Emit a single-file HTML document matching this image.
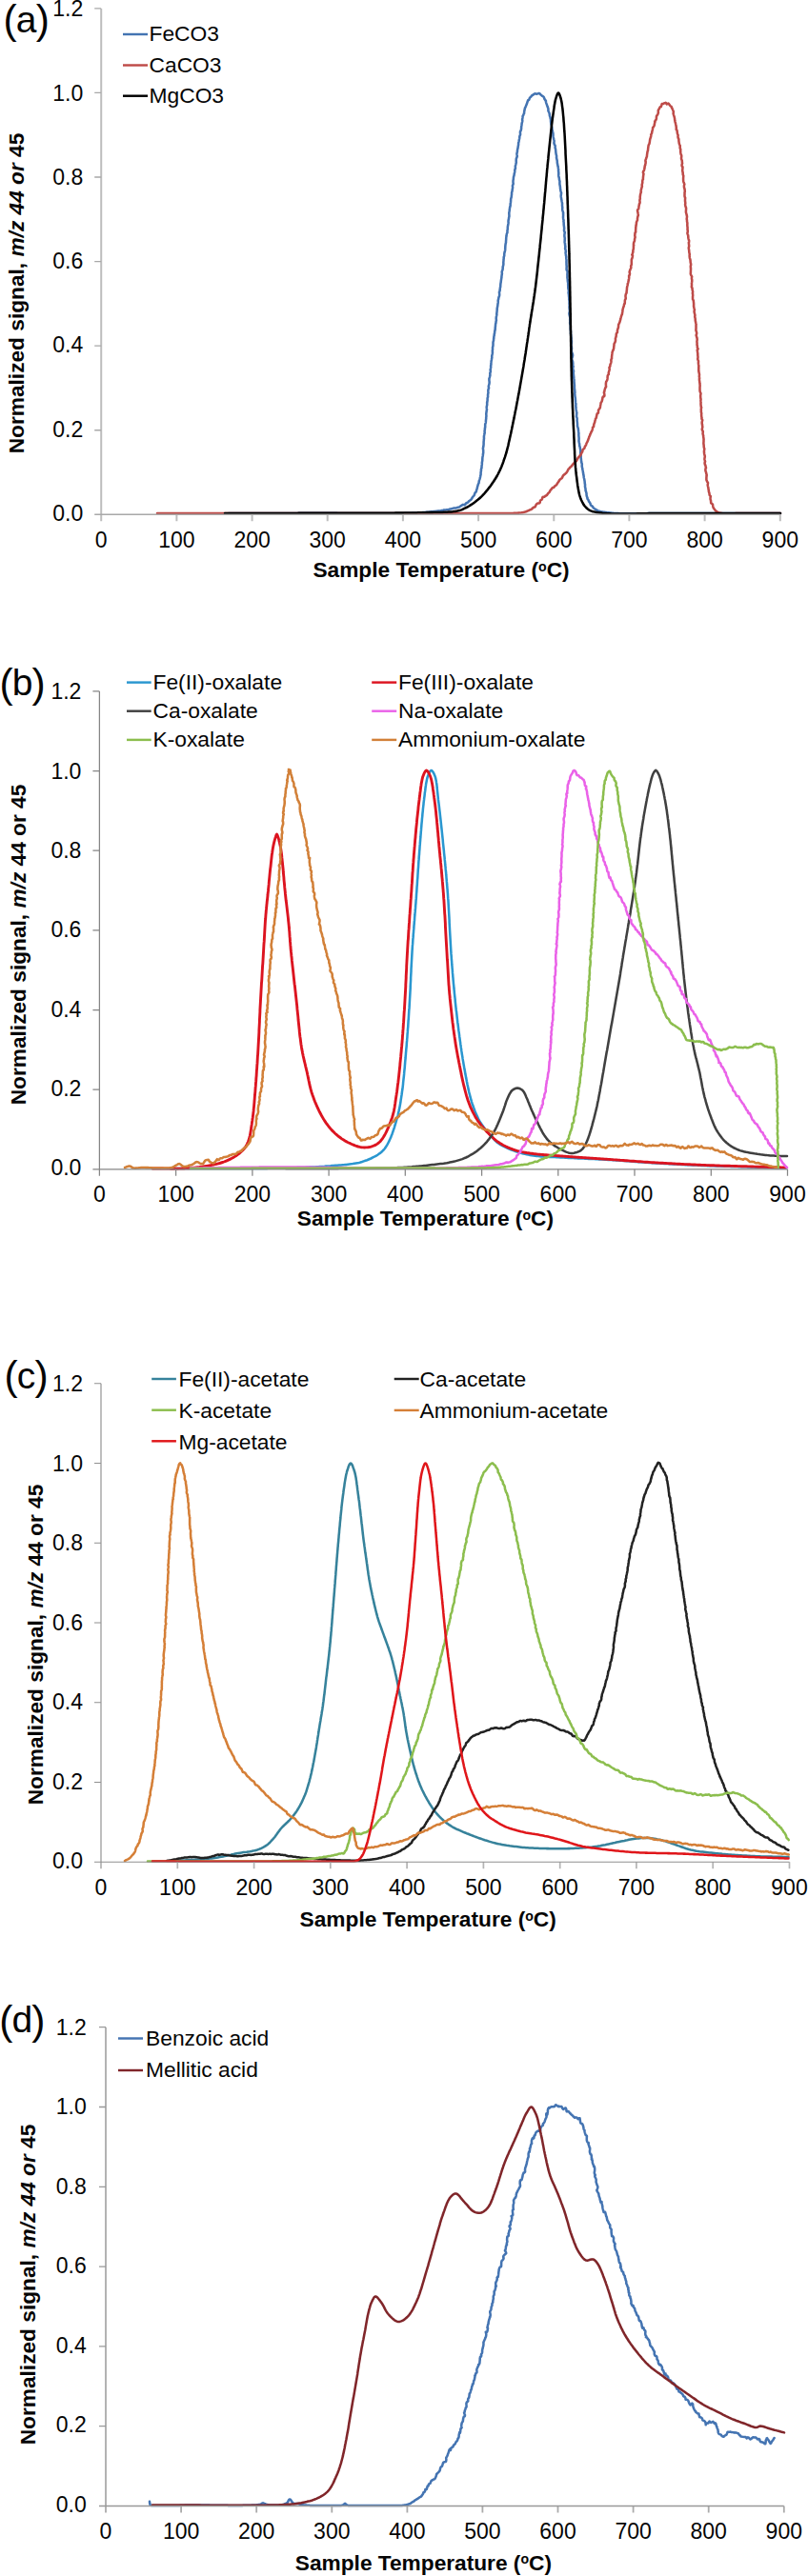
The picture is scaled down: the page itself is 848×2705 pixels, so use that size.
<!DOCTYPE html>
<html lang="en"><head><meta charset="utf-8"><title>Figure</title>
<style>html,body{margin:0;padding:0;background:#fff}svg{display:block}</style></head>
<body>
<svg width="848" height="2705" viewBox="0 0 848 2705" font-family="'Liberation Sans', Arial, sans-serif">
<rect width="848" height="2705" fill="#fff"/>
<g fill="none" stroke-linejoin="round" stroke-linecap="round" stroke-width="2.55">
<path stroke="#4474b2" d="M240.0 539.0 L241.0 539.0 L242.0 539.0 L243.0 539.0 L243.9 539.0 L244.9 539.0 L245.9 539.0 L246.9 539.0 L247.9 539.0 L248.9 539.0 L249.8 539.0 L250.8 539.0 L251.8 539.0 L252.8 539.0 L253.8 539.0 L254.7 539.0 L255.7 539.0 L256.7 539.0 L257.7 539.0 L258.6 539.0 L259.6 539.0 L260.6 539.0 L261.6 539.0 L262.5 539.0 L263.5 539.0 L264.5 539.0 L265.5 538.9 L266.4 538.9 L267.4 538.9 L268.4 538.9 L269.3 538.9 L270.3 538.9 L271.3 538.9 L272.3 538.9 L273.2 538.9 L274.2 538.9 L275.2 538.9 L276.2 538.9 L277.1 538.9 L278.1 538.9 L279.1 538.9 L280.0 538.9 L281.0 538.9 L282.0 538.9 L283.0 538.9 L283.9 538.9 L284.9 538.9 L285.9 538.9 L286.9 538.9 L287.9 538.9 L288.8 538.9 L289.8 538.9 L290.8 538.9 L291.8 538.9 L292.8 538.9 L293.7 538.9 L294.7 538.9 L295.7 538.9 L296.7 538.9 L297.7 538.9 L298.7 538.9 L299.7 538.9 L300.7 538.9 L301.6 538.9 L302.6 538.9 L303.6 538.9 L304.6 538.9 L305.6 538.9 L306.6 538.9 L307.6 538.9 L308.6 538.9 L309.6 538.9 L310.6 538.9 L311.6 538.9 L312.6 538.9 L313.6 538.8 L314.6 538.8 L315.7 538.8 L316.7 538.8 L317.7 538.8 L318.7 538.8 L319.7 538.8 L320.7 538.8 L321.8 538.8 L322.8 538.8 L323.8 538.8 L324.8 538.8 L325.9 538.8 L326.9 538.8 L327.9 538.8 L329.0 538.8 L330.0 538.8 L330.9 538.8 L331.9 538.8 L332.9 538.8 L333.8 538.8 L334.8 538.8 L335.8 538.8 L336.8 538.8 L337.8 538.8 L338.8 538.8 L339.8 538.8 L340.8 538.8 L341.8 538.8 L342.8 538.8 L343.8 538.8 L344.9 538.8 L345.9 538.8 L346.9 538.8 L348.0 538.8 L349.0 538.8 L350.1 538.8 L351.1 538.8 L352.2 538.8 L353.3 538.8 L354.3 538.9 L355.4 538.9 L356.5 538.9 L357.5 538.9 L358.6 538.9 L359.7 538.9 L360.8 538.9 L361.9 538.9 L363.0 538.9 L364.0 538.9 L365.1 538.9 L366.2 538.9 L367.3 538.9 L368.4 538.9 L369.5 538.9 L370.6 539.0 L371.7 539.0 L372.8 539.0 L373.9 539.0 L375.0 539.0 L376.1 539.0 L377.2 539.0 L378.3 539.0 L379.4 539.0 L380.5 539.0 L381.6 539.0 L382.7 539.0 L383.7 539.0 L384.8 539.0 L385.9 539.0 L387.0 539.0 L388.1 539.0 L389.2 539.0 L390.3 539.0 L391.3 539.1 L392.4 539.1 L393.5 539.1 L394.5 539.1 L395.6 539.1 L396.7 539.1 L397.7 539.1 L398.8 539.1 L399.8 539.1 L400.9 539.1 L401.9 539.1 L402.9 539.1 L404.0 539.1 L405.0 539.1 L406.0 539.1 L407.0 539.0 L408.1 539.0 L409.1 539.0 L410.1 539.0 L411.0 539.0 L412.0 539.0 L413.0 539.0 L414.0 539.0 L415.0 539.0 L415.9 539.0 L416.9 539.0 L417.8 539.0 L418.8 538.9 L419.7 538.9 L420.6 538.9 L421.5 538.9 L422.4 538.9 L423.3 538.9 L424.2 538.9 L425.1 538.8 L426.0 538.8 L426.8 538.8 L427.7 538.8 L428.5 538.8 L429.4 538.7 L430.2 538.7 L431.0 538.7 L431.8 538.7 L432.6 538.6 L433.4 538.6 L434.2 538.6 L435.0 538.5 L435.7 538.5 L436.5 538.5 L437.2 538.5 L437.9 538.4 L438.6 538.4 L439.3 538.3 L440.0 538.3 L441.3 538.3 L442.5 538.2 L443.7 538.1 L444.9 538.0 L446.0 537.9 L447.1 537.8 L448.2 537.7 L449.3 537.7 L450.4 537.6 L451.4 537.4 L452.4 537.3 L453.4 537.3 L454.4 537.2 L455.3 537.1 L456.2 537.0 L457.1 536.9 L458.0 536.7 L458.9 536.7 L459.9 536.5 L460.7 536.4 L461.6 536.4 L462.5 536.3 L463.4 536.1 L464.2 535.9 L465.1 535.8 L465.9 535.6 L466.7 535.5 L467.5 535.4 L468.4 535.3 L469.1 535.2 L470.0 535.2 L471.0 535.0 L472.0 534.6 L473.0 534.4 L474.1 534.3 L475.0 533.9 L476.0 533.6 L477.0 533.5 L478.0 533.5 L479.0 533.2 L479.9 532.9 L480.8 532.7 L481.7 532.6 L482.6 532.0 L483.6 531.3 L484.3 530.9 L485.1 530.3 L486.0 529.8 L486.7 530.1 L487.5 530.3 L488.4 529.5 L489.1 528.5 L489.6 528.1 L490.3 528.1 L491.1 527.5 L491.8 526.7 L492.5 526.0 L493.2 525.5 L494.0 525.0 L494.6 524.3 L495.3 523.2 L495.9 522.3 L496.3 521.6 L497.0 520.9 L497.8 520.0 L498.0 519.0 L498.3 518.3 L498.6 517.6 L499.0 516.9 L499.5 516.8 L499.9 516.0 L500.0 514.8 L500.4 514.0 L500.8 512.7 L501.0 511.4 L501.2 510.8 L501.4 510.3 L501.6 509.2 L502.1 508.0 L502.6 507.1 L502.6 506.5 L502.7 505.8 L502.9 504.6 L503.3 503.6 L503.6 502.6 L504.0 501.1 L504.3 499.5 L504.4 498.9 L504.5 498.8 L504.6 498.3 L504.6 497.4 L504.6 496.4 L504.7 495.3 L505.0 494.4 L504.9 493.4 L505.0 492.5 L505.3 491.9 L505.5 491.3 L505.5 490.2 L505.6 488.9 L505.8 487.7 L505.9 487.0 L505.8 486.5 L505.9 485.5 L506.2 484.1 L506.3 482.8 L506.3 481.7 L506.4 481.0 L506.4 480.2 L506.7 479.0 L506.9 477.8 L506.9 476.9 L507.2 475.7 L507.2 474.4 L507.2 473.4 L507.2 472.6 L507.0 471.8 L506.9 470.7 L507.1 469.9 L507.3 469.1 L507.5 467.6 L507.6 466.3 L507.6 465.4 L507.6 464.2 L507.7 463.1 L507.8 462.5 L507.8 461.8 L508.0 460.4 L507.9 458.9 L508.0 457.8 L508.2 456.8 L508.4 455.5 L508.7 454.7 L508.7 454.1 L508.6 453.1 L508.6 452.4 L508.8 451.6 L508.9 450.4 L508.9 449.5 L509.2 448.7 L509.2 447.2 L509.2 445.7 L509.5 444.6 L509.7 444.1 L509.8 443.7 L509.9 442.5 L510.0 440.9 L510.2 439.7 L510.2 439.0 L510.2 438.2 L510.4 437.3 L510.4 436.4 L510.3 435.4 L510.3 434.3 L510.4 433.3 L510.6 432.4 L510.6 431.5 L510.8 430.8 L511.0 430.1 L510.8 428.9 L510.7 427.3 L511.0 426.0 L511.2 425.1 L511.2 423.8 L511.1 422.9 L511.2 422.7 L511.4 421.9 L511.6 420.4 L511.6 419.0 L511.6 418.2 L511.8 417.5 L512.0 417.1 L512.1 416.5 L512.0 415.0 L512.2 413.3 L512.5 412.3 L512.4 411.5 L512.3 410.5 L512.4 409.4 L512.6 408.5 L513.0 407.7 L513.1 407.2 L512.8 406.5 L512.8 405.3 L513.2 404.0 L513.5 403.0 L513.6 401.9 L513.6 400.8 L513.4 399.6 L513.4 398.4 L513.4 397.5 L513.6 397.0 L513.9 396.1 L514.1 395.2 L514.4 394.1 L514.3 392.5 L514.3 391.6 L514.6 391.0 L514.9 390.1 L514.7 389.1 L514.6 388.2 L514.9 387.0 L515.2 385.5 L515.1 384.6 L515.1 384.1 L515.4 382.8 L515.4 381.5 L515.4 381.0 L515.5 380.4 L515.6 379.2 L515.9 377.8 L516.1 376.4 L516.3 375.7 L516.3 375.3 L516.2 374.3 L516.4 373.0 L516.7 371.7 L516.9 370.4 L516.9 369.2 L516.8 368.5 L516.9 367.7 L517.1 366.6 L517.0 365.9 L517.0 364.8 L517.4 363.4 L517.5 362.4 L517.5 361.6 L517.5 360.7 L517.5 359.6 L517.7 358.6 L518.0 357.7 L518.1 356.6 L518.1 355.7 L518.3 355.2 L518.3 354.4 L518.4 353.2 L518.7 352.3 L518.7 351.4 L518.8 350.6 L519.1 350.0 L519.1 349.1 L519.2 348.1 L519.5 346.9 L519.7 345.8 L519.7 344.7 L519.8 343.7 L519.9 342.9 L520.0 342.0 L520.0 341.1 L520.2 339.9 L520.5 338.8 L520.5 338.0 L520.6 337.4 L520.9 336.5 L520.8 335.3 L520.7 334.1 L520.8 333.2 L520.9 332.5 L521.2 331.3 L521.4 330.2 L521.3 329.8 L521.3 329.1 L521.5 327.6 L521.6 326.5 L521.7 325.6 L521.7 324.8 L521.7 324.0 L521.9 322.9 L522.1 321.9 L522.3 321.0 L522.4 319.9 L522.5 319.0 L522.7 317.9 L522.8 316.6 L522.7 316.1 L522.7 315.8 L522.9 314.9 L523.2 313.8 L523.3 312.9 L523.5 312.0 L523.9 311.3 L524.1 310.5 L524.2 308.9 L524.0 307.4 L524.0 306.5 L524.4 305.8 L524.6 305.4 L524.7 304.5 L524.8 302.9 L525.0 301.7 L525.2 301.2 L525.2 300.3 L525.3 298.8 L525.4 297.9 L525.5 297.2 L525.7 296.3 L525.8 295.1 L526.0 293.8 L526.2 292.6 L526.3 291.9 L526.4 291.6 L526.4 290.6 L526.6 289.1 L526.9 287.6 L526.8 286.4 L526.7 285.7 L526.8 285.0 L527.2 284.0 L527.6 282.8 L527.7 281.7 L527.7 280.8 L527.7 280.2 L527.9 279.6 L528.2 278.7 L528.4 277.1 L528.3 275.7 L528.4 274.7 L528.5 273.7 L528.5 272.6 L528.7 271.7 L528.7 270.8 L528.7 270.0 L529.1 269.1 L529.3 268.1 L529.2 266.9 L529.4 265.7 L529.7 264.7 L529.9 263.8 L530.1 263.0 L530.2 262.1 L530.2 261.0 L530.3 259.8 L530.3 258.8 L530.4 257.8 L530.5 256.8 L530.7 255.8 L531.0 254.6 L531.0 254.1 L531.0 253.4 L531.1 252.3 L531.2 251.2 L531.2 250.1 L531.3 249.0 L531.5 248.1 L531.6 247.3 L531.7 246.2 L532.0 245.2 L532.4 244.4 L532.5 243.6 L532.4 242.5 L532.6 241.5 L532.8 240.4 L532.8 239.3 L532.8 238.6 L532.9 237.8 L533.1 236.8 L533.3 235.7 L533.5 234.5 L533.6 233.6 L533.5 233.0 L533.5 232.0 L533.7 230.7 L534.0 229.5 L534.0 228.9 L534.1 228.4 L534.4 227.4 L534.4 225.9 L534.3 224.6 L534.3 223.9 L534.4 222.7 L534.7 221.2 L534.8 220.5 L534.9 219.4 L535.0 218.3 L535.1 217.8 L535.3 217.3 L535.6 216.2 L535.7 215.3 L535.6 214.8 L535.7 213.8 L536.0 212.2 L536.1 210.7 L536.1 209.5 L536.2 208.7 L536.4 208.0 L536.7 207.1 L536.8 206.2 L536.9 205.1 L537.1 203.8 L537.0 202.8 L537.1 202.1 L537.4 201.3 L537.6 200.3 L537.7 199.0 L538.0 197.8 L538.1 196.6 L537.9 195.2 L538.1 194.2 L538.6 193.6 L538.7 192.8 L538.5 191.5 L538.5 190.2 L538.6 189.2 L538.8 188.3 L538.9 187.0 L539.0 185.9 L539.1 185.4 L539.3 185.0 L539.6 183.9 L539.7 182.7 L539.9 181.9 L540.2 180.7 L540.3 179.2 L540.3 178.6 L540.3 178.3 L540.5 177.7 L540.9 177.0 L540.9 175.9 L540.8 174.7 L541.0 173.8 L541.3 172.8 L541.5 171.7 L541.8 170.9 L541.8 170.6 L541.7 169.6 L541.7 168.1 L541.8 166.8 L542.1 166.0 L542.5 165.1 L542.8 164.0 L542.6 162.9 L542.4 161.5 L542.6 160.4 L542.9 159.6 L542.9 159.0 L543.0 157.8 L543.3 156.2 L543.6 155.2 L543.6 154.6 L543.8 153.4 L544.0 152.4 L544.1 152.0 L544.1 151.3 L544.1 150.1 L544.4 149.1 L544.6 148.3 L544.7 147.5 L544.9 146.5 L545.2 145.2 L545.3 144.1 L545.3 143.4 L545.5 142.6 L545.9 141.9 L546.1 140.9 L546.0 139.8 L545.9 138.8 L546.1 138.0 L546.7 137.0 L547.0 135.8 L547.1 134.8 L547.1 134.5 L547.1 134.0 L547.2 132.8 L547.5 131.2 L547.6 130.2 L547.7 129.4 L548.1 128.0 L548.3 126.7 L548.1 126.0 L548.2 125.1 L548.5 123.7 L548.6 122.4 L548.7 121.7 L549.1 121.3 L549.4 120.4 L549.7 119.6 L550.1 119.0 L550.1 118.2 L550.2 117.0 L550.5 115.9 L550.7 114.6 L551.0 113.4 L551.4 112.6 L551.7 112.0 L552.1 110.9 L552.6 109.7 L553.0 108.8 L553.2 108.1 L553.5 107.2 L553.9 106.0 L554.3 105.1 L554.7 105.1 L555.2 105.0 L555.5 104.0 L555.9 102.8 L556.4 102.3 L557.1 101.8 L557.9 100.7 L558.6 100.0 L559.0 99.9 L559.8 99.4 L560.6 98.7 L561.5 98.3 L562.4 98.6 L563.3 98.7 L564.2 98.4 L565.2 98.1 L566.2 98.1 L567.0 98.8 L567.7 99.6 L568.5 100.3 L569.3 100.9 L569.9 101.2 L570.6 101.7 L571.1 102.8 L571.4 103.8 L571.9 104.7 L572.5 105.4 L572.9 105.9 L572.9 106.7 L573.2 108.1 L573.7 109.4 L574.1 110.5 L574.4 111.5 L574.5 111.8 L574.6 112.1 L575.0 113.0 L575.4 114.2 L575.4 115.5 L575.4 116.5 L575.8 117.3 L576.4 118.5 L576.7 119.6 L576.8 120.7 L576.9 121.7 L577.3 122.5 L577.5 123.3 L577.6 124.1 L577.8 124.8 L578.0 125.6 L578.0 127.2 L578.2 129.0 L578.3 130.1 L578.5 130.9 L578.7 131.3 L578.8 132.1 L579.2 133.3 L579.4 134.2 L579.4 134.9 L579.4 135.9 L579.7 136.9 L580.0 137.9 L580.2 138.8 L580.4 139.6 L580.5 141.1 L580.5 142.6 L580.6 143.3 L580.7 144.0 L581.0 145.2 L581.2 146.1 L581.3 146.6 L581.6 147.7 L581.6 149.0 L581.4 149.9 L581.6 150.9 L581.9 151.9 L582.4 152.4 L582.7 153.2 L582.6 154.3 L582.6 155.2 L582.8 155.6 L583.0 156.4 L583.2 157.8 L583.3 159.1 L583.4 160.3 L583.5 161.0 L583.6 161.6 L583.8 162.7 L584.1 163.6 L584.1 164.5 L584.0 165.6 L584.1 166.2 L584.3 166.9 L584.6 168.1 L584.8 169.2 L584.8 170.5 L585.0 172.1 L585.3 173.2 L585.4 174.2 L585.5 174.5 L585.7 174.8 L585.8 175.7 L585.9 176.7 L586.1 177.7 L586.1 178.9 L586.0 179.5 L586.2 180.3 L586.3 181.7 L586.3 182.9 L586.2 183.8 L586.3 184.9 L586.5 185.9 L586.8 186.9 L586.9 188.0 L587.0 188.9 L587.3 189.8 L587.5 190.5 L587.4 191.2 L587.4 192.2 L587.4 193.5 L587.6 194.4 L587.8 195.4 L588.0 196.9 L588.0 197.7 L588.0 198.0 L588.2 198.9 L588.4 200.3 L588.7 201.5 L589.1 202.5 L589.0 203.6 L588.8 204.7 L588.7 205.8 L588.8 206.7 L589.0 207.9 L589.3 209.6 L589.5 210.7 L589.5 210.9 L589.6 211.5 L589.9 212.8 L590.1 213.9 L590.0 214.7 L590.0 215.7 L590.1 216.8 L590.3 217.6 L590.2 218.5 L590.2 219.4 L590.2 220.1 L590.4 221.1 L590.9 222.6 L591.2 223.9 L591.0 224.6 L591.1 225.2 L591.1 226.6 L591.0 228.1 L591.1 229.1 L591.2 229.7 L591.4 230.6 L591.6 231.8 L591.4 232.5 L591.6 233.2 L591.7 234.6 L591.7 236.1 L591.9 237.2 L592.0 238.1 L592.1 239.0 L592.2 239.9 L592.1 240.7 L592.0 242.0 L592.5 243.6 L592.8 244.3 L592.7 244.7 L592.5 245.7 L592.4 247.0 L592.4 248.1 L592.5 248.5 L592.6 249.1 L592.8 250.4 L592.7 251.7 L592.7 253.0 L592.6 254.2 L592.8 255.1 L593.0 255.8 L593.0 256.6 L593.2 258.0 L593.4 259.5 L593.2 260.1 L593.1 260.7 L593.3 261.8 L593.7 262.9 L593.9 263.4 L593.8 264.3 L593.6 265.5 L593.7 266.5 L593.9 267.2 L593.9 268.1 L594.2 269.1 L594.3 270.0 L594.2 270.8 L594.3 271.7 L594.5 273.0 L594.5 274.2 L594.4 274.9 L594.5 276.0 L594.5 277.1 L594.5 277.9 L594.6 278.8 L594.7 279.9 L594.6 281.6 L594.6 283.2 L594.9 283.9 L595.3 284.3 L595.6 285.2 L595.5 286.1 L595.5 287.2 L595.4 288.1 L595.4 288.8 L595.5 289.9 L595.4 291.1 L595.5 292.2 L595.7 292.8 L595.7 293.5 L595.8 294.7 L595.9 295.8 L596.1 296.7 L596.3 297.5 L596.2 298.0 L596.2 298.8 L596.3 300.4 L596.3 301.7 L596.3 302.4 L596.5 303.4 L596.7 304.4 L596.9 305.1 L596.9 305.8 L596.6 307.1 L596.7 308.2 L596.9 309.0 L597.0 310.1 L597.0 310.8 L597.1 311.7 L597.3 313.1 L597.2 313.8 L597.2 314.4 L597.5 315.6 L597.6 317.2 L597.5 318.2 L597.5 318.8 L597.6 319.8 L597.7 320.8 L597.6 321.5 L597.5 322.5 L597.6 323.4 L597.6 324.2 L597.8 325.2 L597.9 326.3 L597.9 327.3 L597.6 328.1 L597.4 329.2 L597.6 330.5 L597.8 331.5 L598.1 332.6 L598.3 333.7 L598.3 334.8 L598.2 335.7 L598.2 336.2 L598.3 337.1 L598.2 338.3 L598.2 339.7 L598.4 340.4 L598.6 340.5 L598.7 341.4 L598.7 343.1 L598.7 344.4 L598.7 345.2 L598.8 346.1 L598.9 347.2 L599.0 348.2 L599.0 349.2 L598.9 350.0 L599.0 350.5 L599.3 351.6 L599.2 352.7 L599.3 353.8 L599.5 354.6 L599.6 355.4 L599.5 356.4 L599.6 357.2 L599.9 357.9 L599.9 358.8 L599.7 360.2 L599.6 361.7 L599.5 362.7 L599.6 363.6 L599.9 364.6 L600.0 365.4 L600.0 366.3 L599.8 367.6 L599.9 368.6 L600.0 369.2 L600.2 370.0 L600.5 371.1 L600.9 372.0 L601.1 373.1 L600.9 374.3 L600.6 375.3 L600.3 376.1 L600.2 377.0 L600.5 378.2 L601.0 379.2 L601.2 380.4 L601.3 381.7 L601.3 382.8 L601.4 383.9 L601.5 384.6 L601.6 385.0 L601.4 386.0 L601.3 387.2 L601.5 388.2 L601.9 389.1 L602.1 389.8 L601.9 390.5 L601.8 391.4 L601.9 392.5 L602.0 393.8 L602.1 394.8 L602.2 395.7 L602.3 396.9 L602.4 397.9 L602.5 398.4 L602.6 399.1 L602.5 400.1 L602.6 401.1 L602.7 402.6 L602.9 404.1 L602.9 404.9 L602.9 405.7 L602.9 406.6 L602.9 407.7 L603.1 408.8 L603.2 409.8 L603.3 411.2 L603.4 412.4 L603.2 413.1 L603.2 413.7 L603.4 414.5 L603.4 415.7 L603.6 416.8 L603.8 417.9 L603.9 419.0 L603.9 419.8 L604.0 420.2 L604.0 421.3 L604.1 422.7 L604.2 423.4 L604.4 424.2 L604.4 425.1 L604.3 426.0 L604.4 427.7 L604.6 429.4 L604.7 430.0 L604.7 430.1 L604.8 430.9 L605.1 432.3 L605.4 433.5 L605.2 434.1 L605.2 435.1 L605.1 436.6 L605.0 437.6 L605.2 438.1 L605.5 438.6 L605.7 439.5 L605.7 440.4 L605.6 441.5 L605.8 442.9 L605.9 444.1 L606.0 445.4 L606.0 446.9 L606.0 447.5 L606.2 448.0 L606.6 449.3 L606.9 450.4 L606.9 450.8 L606.9 451.6 L607.1 452.6 L607.2 453.7 L607.4 454.8 L607.4 455.3 L607.3 456.3 L607.4 457.8 L607.5 459.0 L607.6 460.1 L607.6 461.2 L607.5 462.3 L607.5 463.2 L607.6 463.7 L607.8 464.8 L608.1 466.1 L608.2 467.3 L608.2 468.3 L608.6 469.1 L608.8 470.2 L609.0 471.7 L609.3 472.6 L609.3 473.7 L609.2 475.4 L609.3 476.4 L609.5 476.6 L609.6 477.9 L609.7 479.5 L609.6 480.3 L609.7 480.8 L609.8 481.5 L609.9 482.4 L610.0 483.4 L610.1 484.5 L610.3 485.7 L610.6 486.5 L610.8 487.2 L610.8 488.1 L610.7 489.1 L610.8 490.1 L611.1 491.3 L611.3 492.6 L611.5 493.5 L611.7 494.3 L611.8 495.1 L611.9 495.8 L612.0 496.6 L612.2 497.5 L612.3 498.4 L612.5 499.2 L612.7 500.2 L612.7 501.2 L612.9 502.0 L613.2 503.0 L613.4 504.2 L613.6 505.4 L613.7 506.6 L613.8 507.8 L613.9 508.4 L614.1 508.9 L614.0 510.0 L614.0 511.1 L614.4 512.7 L614.6 514.2 L614.5 515.0 L614.7 515.3 L615.1 516.5 L615.5 518.1 L615.6 518.9 L615.5 519.6 L615.8 521.0 L616.2 522.2 L616.5 522.7 L616.4 523.0 L616.5 523.7 L617.0 524.4 L617.4 524.8 L617.7 525.6 L618.1 526.7 L618.9 527.6 L619.5 528.6 L619.8 529.9 L620.4 530.9 L621.1 531.2 L621.8 531.8 L622.3 532.6 L622.9 533.4 L623.6 534.0 L624.3 534.4 L625.0 534.8 L625.7 535.2 L626.4 535.7 L627.2 536.2 L628.0 536.5 L628.8 536.7 L629.6 537.0 L630.5 537.2 L631.4 537.4 L632.3 537.5 L633.3 537.7 L634.3 537.8 L635.4 537.9 L636.5 538.1 L637.6 538.2 L638.8 538.3 L640.0 538.5 L640.7 538.6 L641.3 538.6 L642.0 538.7 L642.7 538.8 L643.5 538.8 L644.2 538.9 L645.0 538.9 L645.7 539.0 L646.5 539.0 L647.3 539.1 L648.1 539.1 L648.9 539.1 L649.8 539.2 L650.6 539.2 L651.5 539.2 L652.3 539.2 L653.2 539.3 L654.1 539.3 L655.0 539.3 L655.9 539.3 L656.9 539.3 L657.8 539.3 L658.8 539.3 L659.7 539.3 L660.7 539.3 L661.7 539.3 L662.7 539.3 L663.7 539.3 L664.7 539.3 L665.7 539.3 L666.7 539.3 L667.8 539.3 L668.8 539.3 L669.8 539.3 L670.9 539.3 L672.0 539.2 L673.0 539.2 L674.1 539.2 L675.2 539.2 L676.3 539.2 L677.4 539.2 L678.5 539.2 L679.6 539.1 L680.7 539.1 L681.8 539.1 L682.9 539.1 L684.0 539.1 L685.1 539.1 L686.3 539.1 L687.4 539.0 L688.5 539.0 L689.7 539.0 L690.8 539.0 L692.0 539.0 L693.1 539.0 L694.3 539.0 L695.4 539.0 L696.6 539.0 L697.7 539.0 L698.8 539.0 L700.0 539.0 L700.8 539.0 L701.7 539.0 L702.5 539.0 L703.3 539.0 L704.2 539.0 L705.0 539.0 L705.9 539.0 L706.8 539.0 L707.6 539.0 L708.5 539.0 L709.4 539.0 L710.3 539.0 L711.2 539.0 L712.0 539.0 L712.9 539.0 L713.8 539.0 L714.8 539.0 L715.7 539.0 L716.6 539.0 L717.5 539.0 L718.4 539.0 L719.3 539.1 L720.3 539.1 L721.2 539.1 L722.2 539.1 L723.1 539.1 L724.0 539.1 L725.0 539.1 L726.0 539.1 L726.9 539.1 L727.9 539.1 L728.8 539.1 L729.8 539.1 L730.8 539.1 L731.8 539.1 L732.7 539.1 L733.7 539.1 L734.7 539.1 L735.7 539.1 L736.7 539.1 L737.7 539.1 L738.7 539.1 L739.7 539.1 L740.7 539.1 L741.7 539.1 L742.7 539.1 L743.7 539.1 L744.7 539.1 L745.7 539.1 L746.7 539.1 L747.7 539.1 L748.8 539.1 L749.8 539.1 L750.8 539.1 L751.8 539.1 L752.9 539.1 L753.9 539.1 L754.9 539.1 L755.9 539.1 L757.0 539.1 L758.0 539.1 L759.0 539.0 L760.1 539.0 L761.1 539.0 L762.2 539.0 L763.2 539.0 L764.2 539.0 L765.3 539.0 L766.3 539.0 L767.4 539.0 L768.4 539.0 L769.5 539.0 L770.5 539.0 L771.6 539.0 L772.6 539.0 L773.6 539.0 L774.7 539.0 L775.7 539.0 L776.8 539.0 L777.8 539.0 L778.9 539.0 L779.9 539.0 L781.0 539.0 L782.0 539.0 L783.1 539.0 L784.1 539.0 L785.2 539.0 L786.2 539.0 L787.3 539.0 L788.3 539.0 L789.3 539.0 L790.4 539.0 L791.4 539.0 L792.5 539.0 L793.5 539.0 L794.6 539.0 L795.6 539.0 L796.6 539.0 L797.7 539.0 L798.7 539.0 L799.7 539.0 L800.8 539.0 L801.8 539.0 L802.8 539.0 L803.8 539.0 L804.9 539.0 L805.9 539.0 L806.9 539.0 L807.9 539.0 L809.0 539.0 L810.0 539.0 L811.0 539.0 L812.0 539.0 L813.0 539.0 L814.0 539.0 L815.0 539.0 L816.0 539.0 L817.0 539.0 L818.0 539.0 L819.0 539.0"/>
<path stroke="#be4b48" d="M165.0 539.0 L166.0 539.0 L167.0 539.0 L168.0 539.0 L169.0 539.0 L170.0 539.0 L171.0 539.0 L172.0 539.0 L173.0 539.0 L174.0 539.0 L175.0 539.0 L176.0 539.0 L177.0 539.0 L178.1 539.0 L179.1 539.0 L180.1 539.0 L181.1 539.0 L182.1 539.0 L183.1 539.0 L184.2 539.0 L185.2 539.0 L186.2 539.0 L187.2 539.0 L188.2 539.0 L189.3 539.0 L190.3 539.0 L191.3 539.0 L192.3 539.0 L193.4 539.0 L194.4 539.0 L195.4 539.0 L196.5 539.0 L197.5 539.0 L198.5 539.0 L199.6 539.0 L200.6 539.0 L201.6 539.0 L202.7 539.0 L203.7 539.0 L204.7 539.0 L205.8 539.0 L206.8 539.0 L207.8 539.0 L208.9 539.0 L209.9 539.0 L211.0 539.0 L212.0 539.0 L213.0 539.0 L214.1 539.0 L215.1 539.0 L216.2 539.0 L217.2 539.0 L218.3 539.0 L219.3 539.0 L220.4 539.0 L221.4 539.0 L222.4 539.0 L223.5 539.0 L224.5 539.0 L225.6 539.0 L226.6 539.0 L227.7 539.0 L228.7 539.0 L229.8 539.0 L230.8 539.0 L231.9 539.0 L232.9 539.0 L234.0 539.0 L235.0 539.0 L236.1 539.0 L237.1 539.0 L238.2 539.0 L239.2 539.0 L240.3 539.0 L241.3 539.0 L242.4 539.0 L243.4 539.0 L244.5 539.0 L245.5 539.0 L246.6 539.0 L247.6 539.0 L248.7 539.0 L249.7 539.0 L250.8 539.0 L251.8 539.0 L252.9 539.0 L253.9 539.0 L255.0 539.0 L256.0 539.0 L257.1 539.0 L258.1 539.0 L259.2 539.0 L260.2 539.0 L261.3 539.0 L262.3 539.0 L263.4 539.0 L264.4 539.0 L265.5 539.0 L266.5 539.0 L267.6 539.0 L268.6 539.0 L269.7 539.0 L270.7 539.0 L271.8 539.0 L272.8 539.0 L273.9 539.0 L274.9 539.0 L275.9 539.0 L277.0 539.0 L278.0 539.0 L279.1 539.0 L280.1 539.0 L281.2 539.0 L282.2 539.0 L283.2 539.0 L284.3 539.0 L285.3 539.0 L286.4 539.0 L287.4 539.0 L288.4 539.0 L289.5 539.0 L290.5 539.0 L291.5 539.0 L292.6 539.0 L293.6 539.0 L294.6 539.0 L295.7 539.0 L296.7 539.0 L297.7 539.0 L298.8 539.0 L299.8 539.0 L300.8 539.0 L301.8 539.0 L302.9 539.0 L303.9 539.0 L304.9 539.0 L305.9 539.0 L306.9 539.0 L308.0 539.0 L309.0 539.0 L310.0 539.0 L311.0 539.0 L312.0 539.0 L313.1 539.0 L314.1 539.0 L315.1 539.0 L316.1 539.0 L317.1 539.0 L318.1 539.0 L319.1 539.0 L320.1 539.0 L321.1 539.0 L322.1 539.0 L323.1 539.0 L324.1 539.0 L325.1 539.0 L326.1 539.0 L327.1 539.0 L328.1 539.0 L329.1 539.0 L330.1 539.0 L331.1 539.0 L332.1 539.0 L333.1 539.0 L334.1 539.0 L335.1 539.0 L336.0 539.0 L337.0 539.0 L338.0 539.0 L339.0 539.0 L340.0 539.0 L340.9 539.0 L341.9 539.0 L342.9 539.0 L343.8 539.0 L344.8 539.0 L345.8 539.0 L346.8 539.0 L347.7 539.0 L348.7 539.0 L349.6 539.0 L350.6 539.0 L351.6 539.0 L352.5 539.0 L353.5 539.0 L354.4 539.0 L355.4 539.0 L356.3 539.0 L357.3 539.0 L358.2 539.0 L359.1 539.0 L360.1 539.0 L361.0 539.0 L361.9 539.0 L362.9 539.0 L363.8 539.0 L364.7 539.0 L365.7 539.0 L366.6 539.0 L367.5 539.0 L368.4 539.0 L369.4 539.0 L370.3 539.0 L371.2 539.0 L372.1 539.0 L373.0 539.0 L373.9 539.0 L374.8 539.0 L375.7 539.0 L376.6 539.0 L377.5 539.0 L378.4 539.0 L379.3 539.0 L380.2 539.0 L381.1 539.0 L382.0 539.0 L382.9 539.0 L383.7 539.0 L384.6 539.0 L385.5 539.0 L386.4 539.0 L387.2 539.0 L388.1 539.0 L389.0 539.0 L389.8 539.0 L390.7 539.0 L391.6 539.0 L392.4 539.0 L393.3 539.0 L394.1 539.0 L395.0 539.0 L395.8 539.0 L396.7 539.0 L397.5 539.0 L398.3 539.0 L399.2 539.0 L400.0 539.0 L401.2 539.0 L402.3 539.0 L403.5 539.0 L404.6 539.0 L405.8 539.0 L407.0 539.0 L408.1 539.0 L409.3 539.0 L410.5 539.0 L411.6 539.0 L412.8 539.0 L414.0 539.0 L415.1 539.0 L416.3 539.0 L417.5 539.0 L418.6 539.0 L419.8 539.0 L421.0 539.0 L422.1 539.0 L423.3 539.0 L424.4 539.0 L425.6 539.0 L426.8 539.0 L427.9 539.0 L429.1 539.0 L430.3 539.0 L431.4 539.0 L432.6 539.0 L433.7 539.0 L434.9 539.0 L436.0 539.0 L437.2 539.0 L438.3 539.0 L439.5 539.0 L440.6 539.0 L441.8 539.0 L442.9 539.0 L444.0 539.0 L445.2 539.0 L446.3 539.0 L447.4 539.0 L448.6 539.0 L449.7 539.0 L450.8 539.0 L451.9 539.0 L453.1 539.0 L454.2 539.0 L455.3 539.0 L456.4 539.0 L457.5 539.0 L458.6 539.0 L459.7 539.0 L460.8 539.0 L461.8 539.0 L462.9 539.0 L464.0 539.0 L465.1 539.0 L466.1 539.0 L467.2 539.0 L468.3 539.0 L469.3 539.0 L470.4 539.0 L471.4 539.0 L472.5 539.0 L473.5 539.0 L474.5 539.0 L475.5 539.0 L476.6 539.0 L477.6 539.0 L478.6 539.0 L479.6 539.0 L480.6 539.0 L481.6 539.1 L482.6 539.1 L483.5 539.1 L484.5 539.1 L485.5 539.1 L486.4 539.1 L487.4 539.1 L488.3 539.1 L489.3 539.1 L490.2 539.1 L491.1 539.1 L492.0 539.1 L492.9 539.1 L493.8 539.1 L494.7 539.1 L495.6 539.1 L496.5 539.0 L497.4 539.0 L498.2 539.0 L499.1 539.0 L499.9 539.0 L500.8 539.0 L501.6 539.0 L502.4 539.0 L503.3 539.0 L504.1 539.0 L504.9 539.0 L505.6 539.0 L506.4 539.0 L507.2 539.0 L508.0 539.0 L508.7 539.0 L509.5 539.0 L510.2 539.0 L510.9 539.0 L511.6 539.0 L512.3 539.0 L513.0 539.0 L513.7 539.0 L514.4 539.0 L515.1 539.0 L515.7 539.0 L516.4 539.0 L517.0 539.0 L517.6 539.0 L518.2 539.0 L518.8 539.0 L519.4 539.0 L520.0 539.0 L521.3 539.0 L522.6 539.0 L523.8 539.0 L525.0 539.0 L526.1 539.0 L527.2 539.0 L528.2 539.0 L529.2 539.0 L530.1 539.0 L531.1 539.0 L532.0 539.0 L532.8 539.0 L533.7 539.0 L534.5 539.0 L535.3 538.9 L536.1 538.9 L536.9 538.9 L537.7 538.9 L538.5 538.9 L539.2 538.8 L540.0 538.8 L541.1 538.8 L542.1 538.7 L543.1 538.7 L544.1 538.6 L545.0 538.6 L545.9 538.5 L546.8 538.4 L547.6 538.3 L548.5 538.2 L549.3 537.9 L550.3 537.7 L551.1 537.6 L551.9 537.3 L552.6 537.0 L553.4 536.6 L554.3 536.3 L555.0 536.0 L555.8 535.5 L556.6 535.3 L557.4 535.1 L558.1 534.5 L559.1 533.5 L560.0 532.8 L560.7 532.5 L561.2 532.4 L561.8 531.9 L562.2 531.0 L562.5 530.2 L563.2 529.3 L564.2 528.6 L565.2 528.5 L566.1 528.3 L566.7 527.6 L566.9 526.1 L567.5 525.1 L568.5 524.8 L569.1 523.6 L569.4 522.3 L570.0 521.8 L571.1 521.8 L571.9 521.4 L572.3 520.8 L573.0 520.6 L573.9 520.0 L574.6 519.0 L575.3 518.0 L576.0 517.4 L576.4 517.1 L576.8 516.5 L577.2 515.6 L577.7 514.8 L578.7 513.6 L579.7 512.3 L580.3 512.0 L580.7 512.0 L581.3 511.8 L581.7 511.2 L582.6 510.2 L583.6 509.5 L584.2 509.1 L584.7 507.9 L585.7 506.5 L586.4 505.7 L586.8 504.9 L587.2 504.0 L587.5 503.8 L588.0 503.3 L589.1 502.5 L589.8 502.1 L590.3 500.9 L590.8 499.8 L591.5 498.9 L592.5 498.1 L593.2 497.7 L593.4 497.3 L593.8 497.0 L594.7 496.1 L595.5 494.9 L596.0 493.6 L596.7 492.5 L597.4 491.9 L597.8 491.5 L598.1 491.1 L598.4 490.6 L599.0 490.2 L599.8 489.5 L600.5 488.6 L601.2 487.6 L601.9 486.9 L602.6 486.4 L603.0 485.6 L603.6 484.5 L604.3 484.4 L604.9 484.2 L605.7 482.7 L606.4 481.2 L607.1 480.1 L607.9 479.4 L608.3 479.3 L608.6 478.5 L608.8 478.0 L609.1 478.1 L609.8 477.2 L610.4 475.5 L610.9 474.8 L611.3 474.1 L611.4 473.2 L611.7 472.2 L612.4 471.5 L613.2 471.0 L613.6 470.0 L613.8 469.0 L614.3 468.4 L614.9 467.5 L615.3 466.3 L615.5 465.5 L615.9 464.9 L616.6 463.7 L617.2 462.0 L617.6 460.8 L618.1 459.7 L618.2 458.9 L618.6 458.3 L619.1 457.3 L619.4 455.9 L619.6 455.5 L619.9 455.3 L620.3 454.0 L620.9 453.0 L621.3 452.4 L621.7 451.0 L622.0 449.4 L622.0 448.7 L622.4 448.4 L623.1 448.1 L623.1 447.3 L623.3 445.6 L624.0 444.0 L624.3 442.9 L624.4 442.1 L624.7 441.1 L624.9 440.0 L625.1 439.6 L625.6 439.1 L625.9 438.1 L626.1 436.9 L626.4 435.4 L626.8 434.2 L627.2 433.9 L627.7 433.9 L628.0 433.0 L628.0 431.8 L628.0 431.0 L628.4 430.1 L629.1 429.4 L629.8 428.2 L630.0 426.9 L630.1 425.9 L630.4 424.5 L630.6 423.1 L631.0 422.3 L631.4 421.9 L631.7 421.3 L632.0 420.2 L632.1 419.5 L632.3 418.9 L632.4 417.6 L632.9 416.5 L633.8 416.4 L634.4 415.7 L634.3 413.9 L633.9 412.1 L634.1 411.4 L634.4 411.0 L634.4 410.5 L634.6 409.5 L635.0 408.1 L635.3 407.2 L635.9 406.6 L636.1 405.9 L635.9 405.0 L635.9 403.9 L635.9 402.4 L636.2 400.8 L636.8 399.9 L637.2 399.2 L637.3 398.6 L637.4 398.6 L637.5 397.9 L637.6 396.3 L637.7 394.7 L638.1 393.7 L638.8 393.1 L638.9 392.7 L638.7 391.7 L639.0 390.4 L639.6 388.7 L639.7 387.1 L639.4 386.2 L639.6 385.6 L640.1 385.0 L640.4 384.1 L640.4 382.9 L640.6 382.4 L641.0 381.8 L641.4 380.2 L641.5 378.9 L641.3 378.1 L641.6 377.2 L642.0 376.4 L642.1 376.2 L642.0 375.1 L642.2 373.3 L642.3 372.3 L642.4 371.7 L642.5 370.6 L642.7 369.5 L643.0 368.7 L643.4 368.0 L643.9 366.7 L644.2 365.5 L644.2 364.7 L644.3 363.7 L644.5 362.8 L644.4 362.1 L644.6 360.9 L645.3 359.8 L645.8 358.5 L646.0 357.1 L645.9 355.9 L645.9 355.2 L646.2 354.5 L646.6 353.3 L646.7 352.3 L646.7 351.9 L646.8 350.8 L647.2 349.7 L647.8 349.3 L648.0 348.3 L647.9 347.2 L648.1 346.4 L648.5 345.1 L648.9 344.2 L649.0 343.5 L649.1 341.9 L649.2 340.8 L649.6 340.0 L650.3 338.6 L650.6 337.7 L650.6 337.6 L650.8 336.9 L651.3 335.1 L651.5 333.9 L651.7 333.3 L652.1 332.0 L652.5 330.7 L652.9 330.1 L653.0 329.4 L653.0 328.7 L653.2 328.1 L653.4 327.1 L653.4 325.9 L653.7 324.5 L654.1 323.1 L654.3 322.4 L654.7 321.7 L654.9 320.8 L655.0 319.8 L655.3 319.0 L655.7 318.9 L655.8 318.1 L655.8 316.4 L655.9 315.1 L656.3 314.4 L656.7 313.8 L656.7 312.8 L656.5 311.4 L656.5 310.4 L656.7 309.4 L657.0 308.4 L657.5 307.7 L657.7 306.8 L657.5 306.0 L657.7 305.4 L657.9 304.5 L657.9 303.5 L658.0 302.3 L658.2 301.0 L658.5 300.0 L658.7 299.2 L658.7 298.3 L659.0 297.6 L659.3 296.5 L659.6 295.0 L659.8 294.1 L659.9 293.5 L660.1 292.7 L660.2 291.2 L660.1 289.8 L660.1 289.5 L660.5 289.3 L660.9 288.1 L661.0 287.0 L660.6 285.8 L660.9 284.4 L661.2 284.0 L661.2 283.6 L661.6 282.7 L662.2 281.7 L662.3 280.5 L662.1 279.3 L662.5 278.4 L662.8 277.9 L662.8 277.3 L662.8 275.9 L662.8 274.3 L662.8 272.9 L663.0 272.0 L663.4 271.3 L663.8 269.6 L664.0 268.5 L663.6 267.9 L663.3 267.6 L663.7 266.7 L664.2 265.1 L664.4 264.5 L664.3 263.9 L664.5 262.4 L664.8 261.5 L664.8 261.4 L664.9 260.7 L664.9 258.7 L665.0 257.5 L665.2 257.6 L664.9 257.0 L665.1 255.0 L665.6 253.6 L665.8 253.4 L666.0 252.8 L666.0 251.7 L666.2 250.5 L666.6 249.1 L666.5 248.4 L666.3 248.1 L666.3 246.8 L666.5 244.5 L667.0 243.8 L667.2 243.7 L667.1 242.2 L667.2 240.6 L667.3 239.9 L667.2 239.1 L667.4 238.0 L667.6 236.8 L667.7 235.8 L667.9 234.9 L667.9 233.9 L668.2 232.7 L668.7 231.7 L669.0 231.2 L669.0 230.6 L669.0 229.4 L669.2 228.1 L669.4 227.3 L669.7 226.5 L669.9 225.6 L669.7 224.8 L669.6 224.1 L669.4 222.9 L669.0 221.2 L669.4 220.0 L670.1 219.4 L670.3 218.4 L670.5 216.8 L670.8 215.0 L671.0 214.0 L671.0 214.0 L671.4 213.6 L671.6 212.3 L671.4 210.9 L671.4 210.0 L671.7 209.1 L671.8 208.1 L671.7 207.0 L671.9 205.5 L672.1 204.0 L672.5 202.7 L672.8 201.6 L672.9 201.0 L672.8 200.6 L672.7 200.1 L672.9 199.2 L673.2 198.0 L673.6 196.6 L673.9 195.6 L673.7 194.7 L673.7 193.9 L674.1 192.7 L674.3 191.3 L674.2 190.5 L674.3 189.6 L674.6 188.7 L674.9 188.4 L674.9 187.5 L675.0 185.8 L675.2 184.0 L675.5 182.7 L675.3 182.2 L674.9 181.2 L675.1 179.9 L675.5 179.7 L675.8 179.1 L676.2 177.8 L676.5 176.6 L676.6 175.9 L676.6 175.1 L676.9 173.8 L677.2 173.4 L677.1 173.4 L677.3 172.3 L677.7 171.0 L677.5 169.8 L677.4 168.4 L677.7 167.6 L678.1 166.7 L678.4 165.4 L678.8 164.8 L678.9 164.4 L679.0 162.9 L679.3 160.8 L679.5 159.3 L679.7 158.7 L679.9 158.6 L680.0 157.9 L680.1 156.5 L680.3 154.8 L680.5 153.6 L680.5 153.1 L680.8 152.2 L681.4 151.1 L681.6 150.4 L681.7 149.8 L681.9 148.6 L682.1 146.8 L682.4 145.6 L682.5 145.3 L682.7 144.9 L683.0 143.9 L683.2 142.9 L683.3 142.2 L683.2 141.7 L683.5 140.9 L684.1 139.8 L684.3 138.4 L684.5 137.4 L684.8 136.6 L685.0 135.2 L685.1 134.1 L685.2 133.8 L685.6 133.6 L686.1 132.8 L686.6 131.9 L686.9 130.6 L687.1 129.1 L687.5 127.9 L687.5 127.6 L687.2 127.5 L687.7 126.6 L688.6 125.6 L688.9 124.5 L688.9 123.1 L689.0 122.0 L689.5 121.2 L690.1 120.4 L690.5 119.5 L690.9 118.4 L690.8 117.1 L690.8 115.8 L691.4 114.8 L691.8 114.2 L692.2 113.5 L692.8 112.3 L693.3 112.0 L693.8 112.0 L694.3 110.4 L694.7 109.0 L695.4 109.0 L696.1 109.0 L697.0 108.4 L697.9 108.1 L698.5 107.9 L699.2 108.4 L699.9 109.4 L700.6 109.1 L701.3 108.6 L702.0 109.1 L702.6 110.0 L703.2 110.9 L704.0 111.6 L704.6 111.9 L704.8 112.2 L705.0 113.2 L705.5 114.0 L705.8 114.5 L706.0 115.1 L706.4 116.1 L706.9 117.4 L706.7 118.3 L706.6 119.2 L707.0 120.6 L707.4 121.8 L707.6 122.4 L707.8 123.3 L708.1 124.7 L708.1 125.7 L708.2 126.0 L708.3 126.8 L708.5 127.8 L708.9 129.2 L709.2 130.6 L709.4 131.3 L709.5 132.0 L709.7 133.3 L709.8 134.9 L709.7 136.1 L709.9 136.4 L710.3 136.4 L710.6 137.4 L710.8 139.1 L710.9 140.0 L711.2 140.9 L711.6 141.8 L711.6 142.5 L711.5 143.7 L711.7 144.8 L712.0 145.5 L712.4 146.2 L712.4 147.1 L712.4 148.0 L712.6 149.4 L712.8 150.7 L713.1 151.5 L713.4 152.2 L713.5 152.4 L713.7 152.7 L713.7 154.2 L713.7 155.6 L714.1 156.4 L714.3 157.0 L714.2 157.7 L714.2 159.0 L714.4 160.9 L714.6 162.1 L714.8 162.3 L715.2 163.3 L715.2 164.8 L715.0 166.0 L715.2 167.4 L715.6 168.1 L715.8 168.7 L715.9 170.6 L716.1 171.5 L716.0 171.8 L715.6 172.9 L715.6 174.0 L715.8 174.8 L716.2 175.0 L716.5 175.5 L716.4 177.1 L716.2 178.9 L716.4 180.3 L716.7 181.1 L716.6 181.4 L716.7 181.7 L716.7 182.3 L716.7 183.2 L717.0 184.1 L717.3 184.8 L717.2 185.5 L717.1 187.1 L717.1 189.1 L717.3 190.8 L717.5 191.3 L717.7 191.6 L717.9 192.4 L718.3 193.1 L718.3 193.7 L717.9 195.0 L718.0 197.0 L718.4 198.0 L718.5 198.3 L718.7 199.6 L718.8 201.2 L718.5 202.3 L718.5 202.9 L718.6 203.4 L718.5 204.4 L718.5 206.0 L718.8 207.1 L719.1 207.5 L719.1 208.5 L719.0 210.0 L719.0 211.1 L719.2 212.3 L719.3 213.5 L719.1 214.8 L719.3 216.1 L719.6 216.9 L719.6 217.3 L719.9 217.7 L720.1 218.7 L720.0 220.5 L719.9 222.1 L720.0 223.4 L720.3 224.3 L720.4 224.6 L720.6 225.3 L720.8 226.4 L721.0 227.1 L721.0 227.7 L720.9 228.6 L720.7 229.9 L720.9 230.7 L721.0 231.6 L721.0 232.6 L721.3 233.8 L721.4 234.8 L721.3 235.7 L721.3 236.3 L721.4 237.6 L721.6 239.1 L721.6 239.8 L721.5 240.6 L721.5 241.2 L721.8 241.8 L721.7 243.6 L721.4 244.9 L721.6 245.6 L722.0 246.7 L722.2 247.4 L722.3 248.2 L722.3 249.5 L722.6 251.0 L723.0 252.3 L723.2 252.7 L723.1 253.9 L722.9 254.9 L722.8 254.7 L722.9 255.6 L723.1 257.4 L723.2 258.6 L722.8 259.9 L722.8 261.0 L722.9 261.4 L722.9 261.4 L723.1 262.1 L723.2 263.7 L723.3 265.0 L723.6 266.2 L723.8 267.1 L723.6 268.0 L723.7 269.7 L723.9 271.0 L724.0 271.4 L724.1 271.6 L724.4 272.5 L724.6 273.7 L724.6 274.6 L724.7 275.6 L725.1 277.1 L725.1 278.4 L724.8 279.2 L724.8 280.2 L725.0 281.5 L724.9 281.8 L725.0 281.8 L725.0 283.1 L724.9 285.0 L724.9 286.3 L724.8 286.9 L724.8 287.6 L725.1 288.6 L725.8 289.8 L726.2 290.6 L726.0 291.2 L725.9 292.4 L726.1 293.6 L726.2 294.1 L726.3 294.9 L726.1 296.3 L725.9 297.4 L726.0 298.5 L726.0 299.9 L725.8 301.2 L726.0 301.9 L726.4 302.2 L726.6 302.8 L726.5 304.0 L727.0 305.7 L727.1 307.0 L726.8 307.7 L726.7 307.8 L727.0 308.4 L727.2 310.2 L727.0 311.4 L727.0 312.0 L727.0 313.1 L727.0 314.3 L727.4 314.9 L727.8 315.5 L727.9 316.8 L728.0 317.6 L728.1 318.8 L728.1 320.5 L728.1 321.3 L728.0 321.2 L728.1 321.7 L728.4 323.3 L728.8 324.7 L729.0 325.2 L728.8 325.6 L728.6 326.5 L728.6 327.6 L729.0 329.2 L729.4 330.8 L729.4 331.6 L729.2 332.1 L729.3 333.2 L729.6 334.2 L729.7 334.9 L729.7 336.3 L730.0 337.9 L730.2 338.7 L730.3 339.3 L730.5 339.9 L730.6 340.5 L730.5 341.2 L730.5 342.8 L730.5 344.9 L730.4 346.3 L730.4 347.0 L730.6 347.5 L730.8 348.0 L731.0 348.7 L731.2 349.9 L731.0 351.0 L730.6 351.9 L730.8 352.8 L731.0 353.1 L731.1 353.5 L731.3 354.5 L731.6 355.4 L731.7 356.8 L731.4 358.6 L731.5 359.6 L731.6 360.7 L731.5 362.2 L731.8 363.0 L731.9 363.7 L731.8 364.8 L732.2 365.7 L732.6 366.4 L732.2 367.1 L731.7 367.5 L731.9 368.5 L732.1 370.1 L732.3 371.3 L732.3 372.1 L732.3 373.2 L732.5 374.8 L732.4 376.1 L732.2 377.0 L732.4 377.8 L732.7 378.2 L733.0 379.0 L733.0 380.1 L732.9 381.0 L733.0 382.2 L733.3 383.7 L733.4 384.2 L733.3 384.8 L733.3 386.5 L733.3 388.0 L733.2 388.8 L733.3 389.6 L733.4 390.1 L733.4 390.7 L733.7 391.7 L734.0 393.3 L733.9 394.6 L733.8 395.3 L734.0 396.3 L734.2 396.9 L733.9 397.9 L734.0 399.5 L734.2 400.5 L734.2 400.9 L734.3 401.4 L734.4 402.5 L734.6 404.1 L734.6 405.7 L734.5 406.4 L734.5 406.7 L734.5 407.3 L734.5 408.1 L734.5 409.4 L734.6 410.9 L735.0 412.0 L735.4 412.8 L735.5 413.4 L735.3 414.6 L735.1 415.9 L735.2 416.1 L735.2 416.8 L735.3 418.2 L735.6 419.1 L735.4 420.4 L735.5 421.7 L735.6 422.6 L735.5 423.6 L735.5 424.7 L735.7 426.3 L735.8 427.3 L736.1 427.5 L736.1 428.1 L735.8 429.1 L735.8 430.5 L735.9 431.6 L735.8 432.2 L735.9 433.1 L736.2 433.8 L736.2 434.3 L736.1 435.8 L736.3 437.8 L736.6 438.8 L736.4 439.2 L736.6 440.2 L737.2 441.0 L737.2 441.5 L736.7 443.2 L736.7 445.0 L737.0 445.4 L737.0 446.1 L737.1 447.2 L737.3 447.8 L737.2 449.1 L736.8 450.5 L736.8 451.3 L737.3 452.1 L737.8 453.0 L737.7 454.0 L737.6 455.4 L737.9 456.8 L738.2 457.6 L738.1 457.6 L738.1 458.1 L738.4 460.0 L738.6 461.4 L738.6 461.5 L738.5 461.9 L738.5 463.5 L738.4 465.2 L738.4 465.9 L738.6 466.9 L738.7 468.6 L738.8 469.9 L739.1 470.7 L739.3 471.3 L739.1 472.6 L738.9 474.3 L739.1 475.3 L739.1 475.5 L739.0 475.8 L739.3 477.1 L739.7 478.6 L739.8 479.7 L739.5 481.0 L739.4 482.1 L739.6 483.0 L739.9 484.1 L740.1 484.8 L739.7 485.3 L739.6 486.7 L740.0 488.2 L740.3 488.4 L740.5 489.2 L740.8 490.7 L741.0 491.3 L740.7 491.6 L740.4 492.5 L740.4 494.2 L740.9 495.8 L741.2 496.6 L741.2 497.2 L741.4 497.7 L741.6 498.2 L741.7 498.9 L741.6 499.8 L741.4 501.2 L741.4 502.8 L741.4 503.8 L741.6 504.5 L742.2 505.8 L742.8 506.5 L743.0 507.1 L742.9 508.1 L742.7 509.1 L742.9 510.5 L743.3 511.9 L743.5 512.9 L743.5 513.9 L743.8 514.7 L743.9 515.3 L743.8 516.0 L744.2 517.1 L744.5 518.0 L744.5 518.9 L744.8 520.1 L745.5 520.8 L745.8 520.9 L745.8 521.6 L745.5 523.1 L745.6 524.5 L746.0 525.4 L746.1 526.9 L746.2 528.1 L746.7 528.7 L747.5 529.1 L748.0 529.7 L748.1 530.6 L748.3 531.8 L748.6 532.9 L749.0 533.7 L749.5 534.3 L750.0 535.0 L750.6 535.8 L751.1 536.4 L751.8 536.9 L752.4 537.3 L753.2 537.7 L754.0 538.1 L755.0 538.5 L755.6 538.7 L756.3 538.8 L757.0 539.0 L757.7 539.1 L758.5 539.2 L759.3 539.2 L760.2 539.3 L761.0 539.3 L762.0 539.3 L762.9 539.4 L763.9 539.4 L764.9 539.3 L765.9 539.3 L766.9 539.3 L768.0 539.3 L769.1 539.2 L770.2 539.2 L771.2 539.2 L772.3 539.1 L773.4 539.1 L774.5 539.1 L775.6 539.0 L776.7 539.0 L777.8 539.0 L778.9 539.0 L780.0 539.0 L780.9 539.0 L781.8 539.0 L782.6 539.0 L783.6 539.0 L784.5 539.0 L785.4 539.0 L786.3 539.0 L787.2 539.0 L788.2 539.0 L789.1 539.0 L790.1 539.1 L791.1 539.1 L792.0 539.1 L793.0 539.1 L794.0 539.1 L795.0 539.0 L796.0 539.0 L797.0 539.0 L798.0 539.0 L799.0 539.0 L800.0 539.0 L801.0 539.0 L802.0 539.0 L803.0 539.0 L804.0 539.0 L805.0 539.0 L806.0 539.0 L807.0 539.0 L808.0 539.0 L809.0 539.0 L810.1 539.0 L811.1 539.0 L812.1 539.0 L813.1 539.0 L814.1 539.0 L815.1 539.0 L816.1 539.0 L817.0 539.0 L818.0 539.0 L819.0 539.0"/>
<path stroke="#000" d="M236.0 539.0 L237.8 539.0 L239.5 539.0 L241.3 539.0 L243.1 539.0 L244.8 539.0 L246.6 539.0 L248.4 539.0 L250.1 539.0 L251.9 539.0 L253.6 539.0 L255.4 539.0 L257.1 539.0 L258.9 539.0 L260.6 539.0 L262.4 539.0 L264.1 538.9 L265.9 538.9 L267.6 538.9 L269.4 538.9 L271.1 538.9 L272.9 538.9 L274.6 538.9 L276.4 538.9 L278.2 538.9 L279.9 538.9 L281.7 538.9 L283.4 538.9 L285.2 538.9 L286.9 538.9 L288.7 538.9 L290.5 538.9 L292.2 538.9 L294.0 538.9 L295.8 538.9 L297.5 538.9 L299.3 538.9 L301.1 538.9 L302.9 538.9 L304.6 538.9 L306.4 538.9 L308.2 538.9 L310.0 538.9 L311.8 538.9 L313.6 538.8 L315.4 538.8 L317.2 538.8 L319.0 538.8 L320.8 538.8 L322.7 538.8 L324.5 538.8 L326.3 538.8 L328.2 538.8 L330.0 538.8 L331.7 538.8 L333.4 538.8 L335.2 538.8 L337.0 538.8 L338.7 538.8 L340.5 538.8 L342.3 538.8 L344.2 538.8 L346.0 538.8 L347.8 538.8 L349.7 538.8 L351.6 538.8 L353.4 538.8 L355.3 538.8 L357.2 538.8 L359.1 538.8 L361.0 538.8 L362.9 538.8 L364.8 538.8 L366.8 538.8 L368.7 538.8 L370.6 538.8 L372.5 538.8 L374.5 538.8 L376.4 538.8 L378.3 538.8 L380.2 538.8 L382.1 538.8 L384.1 538.8 L386.0 538.8 L387.9 538.7 L389.8 538.7 L391.7 538.7 L393.5 538.7 L395.4 538.7 L397.3 538.7 L399.1 538.7 L401.0 538.7 L402.8 538.7 L404.6 538.7 L406.5 538.7 L408.2 538.7 L410.0 538.7 L411.8 538.7 L413.5 538.7 L415.3 538.6 L417.0 538.6 L418.7 538.6 L420.4 538.6 L422.0 538.6 L423.6 538.6 L425.3 538.5 L426.8 538.5 L428.4 538.5 L430.0 538.5 L431.5 538.5 L433.0 538.4 L434.4 538.4 L435.9 538.4 L437.3 538.4 L438.7 538.3 L440.0 538.3 L442.2 538.3 L444.3 538.2 L446.4 538.2 L448.5 538.1 L450.6 538.1 L452.6 538.1 L454.6 538.1 L456.6 538.0 L458.5 538.0 L460.4 538.0 L462.3 537.9 L464.1 537.9 L465.8 537.8 L467.5 537.8 L469.2 537.7 L470.8 537.6 L472.3 537.5 L473.7 537.4 L475.1 537.3 L476.5 537.1 L477.7 537.0 L478.9 536.8 L480.0 536.6 L482.0 536.1 L483.6 535.6 L485.0 535.1 L486.4 534.4 L487.9 533.7 L489.3 533.0 L490.7 532.3 L492.1 531.5 L493.5 530.6 L495.0 529.7 L496.4 528.7 L497.8 527.7 L499.0 526.8 L500.2 525.8 L501.5 524.8 L502.7 523.8 L503.9 522.7 L505.1 521.6 L506.3 520.4 L507.5 519.1 L508.7 517.8 L509.7 516.6 L510.7 515.4 L511.8 514.1 L512.8 512.8 L513.9 511.4 L515.0 509.9 L516.0 508.5 L517.0 507.0 L518.1 505.5 L519.0 504.0 L520.0 502.5 L520.9 501.0 L521.8 499.5 L522.6 498.0 L523.4 496.4 L524.2 494.8 L525.0 493.1 L525.7 491.5 L526.4 489.9 L527.0 488.2 L527.7 486.5 L528.3 484.9 L528.8 483.2 L529.4 481.5 L530.0 479.9 L530.5 478.2 L531.0 476.6 L531.5 475.0 L531.9 473.4 L532.3 471.9 L532.7 470.3 L533.1 468.8 L533.5 467.2 L533.8 465.5 L534.2 463.8 L534.6 462.1 L535.0 460.3 L535.4 458.4 L535.7 457.0 L536.1 455.5 L536.4 453.9 L536.7 452.3 L537.1 450.7 L537.4 449.0 L537.8 447.4 L538.1 445.6 L538.5 443.9 L538.8 442.1 L539.2 440.4 L539.6 438.6 L539.9 436.8 L540.3 434.9 L540.6 433.1 L541.0 431.3 L541.4 429.5 L541.7 427.7 L542.1 425.9 L542.4 424.1 L542.7 422.3 L543.1 420.5 L543.4 418.8 L543.7 417.1 L544.0 415.4 L544.4 413.6 L544.7 411.9 L545.0 410.2 L545.3 408.5 L545.6 406.8 L545.9 405.0 L546.2 403.3 L546.5 401.6 L546.8 399.9 L547.1 398.2 L547.4 396.4 L547.7 394.7 L548.0 393.0 L548.3 391.3 L548.6 389.5 L548.9 387.8 L549.2 386.1 L549.5 384.4 L549.7 382.6 L550.0 380.9 L550.3 379.2 L550.6 377.5 L550.8 375.8 L551.1 374.0 L551.4 372.3 L551.7 370.5 L551.9 368.8 L552.2 367.1 L552.4 365.3 L552.7 363.6 L552.9 361.8 L553.2 360.1 L553.5 358.4 L553.7 356.6 L554.0 354.9 L554.2 353.2 L554.5 351.5 L554.7 349.7 L555.0 348.0 L555.2 346.3 L555.4 344.6 L555.7 342.9 L555.9 341.3 L556.2 339.6 L556.5 337.8 L556.7 336.0 L557.0 334.3 L557.3 332.5 L557.6 330.8 L557.8 329.1 L558.1 327.3 L558.4 325.6 L558.7 323.9 L558.9 322.2 L559.2 320.5 L559.5 318.7 L559.8 317.0 L560.0 315.3 L560.3 313.6 L560.5 311.9 L560.8 310.2 L561.0 308.5 L561.3 306.7 L561.5 305.0 L561.7 303.3 L562.0 301.5 L562.2 299.8 L562.4 298.1 L562.6 296.4 L562.8 294.7 L563.0 293.0 L563.2 291.3 L563.4 289.6 L563.6 287.9 L563.8 286.2 L564.0 284.5 L564.1 282.7 L564.3 281.0 L564.5 279.2 L564.7 277.4 L564.9 275.6 L565.1 273.8 L565.3 271.9 L565.5 270.0 L565.7 268.4 L565.9 266.7 L566.0 265.0 L566.2 263.3 L566.4 261.6 L566.6 259.9 L566.7 258.1 L566.9 256.4 L567.1 254.6 L567.3 252.8 L567.5 251.0 L567.7 249.2 L567.8 247.4 L568.0 245.6 L568.2 243.7 L568.4 241.9 L568.6 240.1 L568.7 238.2 L568.9 236.4 L569.1 234.5 L569.3 232.7 L569.5 230.9 L569.6 229.0 L569.8 227.2 L570.0 225.4 L570.2 223.6 L570.3 221.8 L570.5 220.0 L570.7 218.2 L570.8 216.4 L571.0 214.6 L571.2 212.9 L571.3 211.1 L571.5 209.3 L571.6 207.5 L571.8 205.7 L571.9 203.9 L572.1 202.1 L572.3 200.4 L572.4 198.6 L572.6 196.8 L572.7 195.0 L572.9 193.2 L573.0 191.4 L573.2 189.6 L573.3 187.9 L573.5 186.1 L573.7 184.3 L573.8 182.5 L574.0 180.7 L574.1 178.9 L574.3 177.1 L574.5 175.4 L574.6 173.6 L574.8 171.8 L575.0 170.0 L575.2 168.2 L575.4 166.4 L575.5 164.5 L575.7 162.6 L575.9 160.7 L576.1 158.8 L576.3 156.9 L576.5 154.9 L576.7 153.0 L576.9 151.1 L577.1 149.1 L577.3 147.2 L577.5 145.3 L577.7 143.3 L577.9 141.4 L578.1 139.6 L578.3 137.7 L578.5 135.9 L578.7 134.1 L578.9 132.4 L579.1 130.6 L579.3 129.0 L579.5 127.3 L579.7 125.8 L579.9 124.2 L580.1 122.8 L580.3 121.3 L580.5 120.0 L580.8 117.9 L581.1 115.9 L581.4 113.9 L581.6 112.1 L581.9 110.3 L582.2 108.7 L582.5 107.1 L582.8 105.6 L583.1 104.3 L583.5 103.0 L584.1 101.1 L584.7 99.4 L585.4 98.0 L586.0 97.5 L586.6 98.0 L587.3 99.3 L587.9 101.1 L588.5 103.0 L588.8 104.3 L589.1 105.6 L589.4 107.1 L589.7 108.7 L589.9 110.3 L590.1 112.1 L590.4 113.9 L590.6 115.9 L590.8 117.9 L591.0 120.0 L591.1 121.3 L591.3 122.8 L591.4 124.2 L591.5 125.8 L591.6 127.3 L591.8 129.0 L591.9 130.6 L592.0 132.4 L592.1 134.1 L592.2 135.9 L592.3 137.7 L592.5 139.6 L592.6 141.5 L592.7 143.3 L592.8 145.3 L592.9 147.2 L593.0 149.1 L593.1 151.1 L593.2 153.0 L593.3 154.9 L593.4 156.9 L593.5 158.8 L593.5 160.7 L593.6 162.6 L593.7 164.5 L593.8 166.4 L593.9 168.2 L594.0 170.0 L594.1 171.8 L594.2 173.6 L594.3 175.4 L594.3 177.1 L594.4 178.9 L594.5 180.7 L594.6 182.5 L594.7 184.3 L594.7 186.1 L594.8 187.9 L594.9 189.6 L595.0 191.4 L595.0 193.2 L595.1 195.0 L595.2 196.8 L595.2 198.6 L595.3 200.4 L595.4 202.1 L595.4 203.9 L595.5 205.7 L595.6 207.5 L595.6 209.3 L595.7 211.1 L595.7 212.9 L595.8 214.6 L595.9 216.4 L595.9 218.2 L596.0 220.0 L596.1 221.8 L596.1 223.6 L596.2 225.4 L596.2 227.1 L596.3 228.9 L596.4 230.7 L596.4 232.5 L596.5 234.3 L596.5 236.1 L596.6 237.9 L596.6 239.6 L596.7 241.4 L596.8 243.2 L596.8 245.0 L596.9 246.8 L596.9 248.6 L597.0 250.4 L597.0 252.1 L597.1 253.9 L597.1 255.7 L597.2 257.5 L597.2 259.3 L597.3 261.1 L597.3 262.9 L597.4 264.6 L597.4 266.4 L597.5 268.2 L597.5 270.0 L597.5 271.8 L597.6 273.6 L597.6 275.4 L597.7 277.3 L597.7 279.1 L597.8 280.9 L597.8 282.8 L597.8 284.7 L597.9 286.5 L597.9 288.4 L597.9 290.2 L598.0 292.1 L598.0 293.9 L598.1 295.8 L598.1 297.6 L598.1 299.5 L598.2 301.3 L598.2 303.1 L598.2 304.9 L598.3 306.6 L598.3 308.4 L598.3 310.1 L598.4 311.8 L598.4 313.5 L598.4 315.2 L598.4 316.8 L598.5 318.4 L598.5 320.0 L598.5 322.0 L598.6 323.8 L598.6 325.7 L598.6 327.4 L598.7 329.1 L598.7 330.8 L598.7 332.5 L598.7 334.2 L598.8 335.8 L598.8 337.5 L598.8 339.2 L598.8 340.9 L598.9 342.6 L598.9 344.3 L598.9 346.2 L599.0 348.0 L599.0 350.0 L599.0 351.6 L599.1 353.2 L599.1 354.8 L599.1 356.5 L599.1 358.2 L599.2 359.9 L599.2 361.6 L599.2 363.4 L599.3 365.1 L599.3 366.9 L599.3 368.7 L599.3 370.5 L599.4 372.4 L599.4 374.2 L599.4 376.1 L599.5 377.9 L599.5 379.8 L599.6 381.6 L599.6 383.5 L599.6 385.3 L599.7 387.2 L599.7 389.1 L599.8 390.9 L599.8 392.7 L599.8 394.6 L599.9 396.4 L599.9 398.2 L600.0 400.0 L600.1 401.8 L600.1 403.6 L600.2 405.4 L600.2 407.1 L600.3 408.9 L600.3 410.7 L600.4 412.5 L600.5 414.3 L600.5 416.1 L600.6 417.9 L600.7 419.6 L600.7 421.4 L600.8 423.2 L600.9 425.0 L600.9 426.8 L601.0 428.6 L601.1 430.4 L601.2 432.1 L601.2 433.9 L601.3 435.7 L601.4 437.5 L601.5 439.3 L601.6 441.1 L601.7 442.9 L601.7 444.6 L601.8 446.4 L601.9 448.2 L602.0 450.0 L602.1 451.8 L602.2 453.6 L602.3 455.4 L602.3 457.3 L602.4 459.2 L602.5 461.0 L602.6 462.9 L602.6 464.8 L602.7 466.7 L602.8 468.6 L602.9 470.5 L603.0 472.3 L603.1 474.2 L603.1 476.1 L603.2 478.0 L603.3 479.8 L603.4 481.6 L603.5 483.4 L603.7 485.2 L603.8 487.0 L603.9 488.7 L604.0 490.4 L604.2 492.1 L604.3 493.8 L604.5 495.4 L604.6 497.0 L604.8 498.5 L605.0 500.0 L605.3 502.0 L605.5 503.9 L605.7 505.8 L606.0 507.6 L606.2 509.5 L606.5 511.2 L606.8 513.0 L607.1 514.7 L607.4 516.3 L607.7 517.9 L608.1 519.5 L608.5 520.9 L609.0 522.4 L609.5 523.7 L610.0 525.0 L610.9 526.8 L611.8 528.5 L612.7 530.1 L613.8 531.5 L614.9 532.8 L616.2 534.0 L617.5 535.0 L618.8 535.8 L620.0 536.4 L621.4 536.9 L622.8 537.3 L624.3 537.6 L626.0 537.9 L627.9 538.2 L630.0 538.5 L631.1 538.6 L632.2 538.8 L633.5 538.9 L634.7 539.0 L636.1 539.1 L637.4 539.2 L638.9 539.2 L640.3 539.3 L641.9 539.4 L643.4 539.4 L645.1 539.4 L646.7 539.5 L648.4 539.5 L650.1 539.5 L651.9 539.5 L653.7 539.5 L655.6 539.5 L657.4 539.5 L659.3 539.5 L661.2 539.4 L663.2 539.4 L665.1 539.4 L667.1 539.4 L669.1 539.3 L671.1 539.3 L673.2 539.3 L675.2 539.2 L677.3 539.2 L679.3 539.2 L681.4 539.1 L683.5 539.1 L685.6 539.1 L687.6 539.1 L689.7 539.0 L691.8 539.0 L693.9 539.0 L695.9 539.0 L698.0 539.0 L700.0 539.0 L701.5 539.0 L703.1 539.0 L704.7 539.0 L706.3 539.0 L707.9 539.0 L709.5 539.0 L711.1 539.0 L712.8 539.0 L714.4 539.0 L716.1 539.0 L717.7 539.0 L719.4 539.0 L721.1 539.0 L722.8 539.0 L724.5 539.0 L726.2 539.1 L728.0 539.1 L729.7 539.1 L731.5 539.1 L733.2 539.1 L735.0 539.1 L736.7 539.1 L738.5 539.1 L740.3 539.1 L742.1 539.1 L743.9 539.1 L745.7 539.1 L747.5 539.1 L749.3 539.1 L751.1 539.1 L753.0 539.0 L754.8 539.0 L756.6 539.0 L758.5 539.0 L760.3 539.0 L762.1 539.0 L764.0 539.0 L765.8 539.0 L767.7 539.0 L769.5 539.0 L771.4 539.0 L773.2 539.0 L775.1 539.0 L776.9 539.0 L778.8 539.0 L780.6 539.0 L782.5 539.0 L784.3 539.0 L786.2 539.0 L788.1 539.0 L789.9 539.0 L791.7 539.0 L793.6 539.0 L795.4 539.0 L797.3 539.0 L799.1 539.0 L800.9 539.0 L802.8 539.0 L804.6 539.0 L806.4 539.0 L808.2 539.0 L810.0 539.0 L811.8 539.0 L813.6 539.0 L815.4 539.0 L817.2 539.0 L819.0 539.0"/>
</g>
<path d="M106.2 8.9 V547.2 M185.4 540.2 V547.2 M264.6 540.2 V547.2 M343.7 540.2 V547.2 M422.9 540.2 V547.2 M502.1 540.2 V547.2 M581.3 540.2 V547.2 M660.4 540.2 V547.2 M739.6 540.2 V547.2 M818.8 540.2 V547.2" stroke="#bdbdbd" stroke-width="2.0" fill="none"/>
<path d="M99.2 540.2 H818.8 M99.2 451.7 H106.2 M99.2 363.1 H106.2 M99.2 274.6 H106.2 M99.2 186.0 H106.2 M99.2 97.4 H106.2 M99.2 8.9 H106.2" stroke="#a8a8a8" stroke-width="1.4" fill="none"/>
<g font-size="23" fill="#050505">
<text x="87.2" y="546.9" text-anchor="end">0.0</text>
<text x="87.2" y="458.6" text-anchor="end">0.2</text>
<text x="87.2" y="370.3" text-anchor="end">0.4</text>
<text x="87.2" y="282.1" text-anchor="end">0.6</text>
<text x="87.2" y="193.8" text-anchor="end">0.8</text>
<text x="87.2" y="105.5" text-anchor="end">1.0</text>
<text x="87.2" y="17.2" text-anchor="end">1.2</text>
<text x="106.2" y="574.7" text-anchor="middle">0</text>
<text x="185.4" y="574.7" text-anchor="middle">100</text>
<text x="264.6" y="574.7" text-anchor="middle">200</text>
<text x="343.7" y="574.7" text-anchor="middle">300</text>
<text x="422.9" y="574.7" text-anchor="middle">400</text>
<text x="502.1" y="574.7" text-anchor="middle">500</text>
<text x="581.3" y="574.7" text-anchor="middle">600</text>
<text x="660.4" y="574.7" text-anchor="middle">700</text>
<text x="739.6" y="574.7" text-anchor="middle">800</text>
<text x="818.8" y="574.7" text-anchor="middle">900</text>
</g>
<text x="463" y="606" text-anchor="middle" font-weight="bold" font-size="22.7" fill="#050505">Sample Temperature (<tspan font-size="14.1" dy="-6.5">o</tspan><tspan dy="6.5">C)</tspan></text>
<text transform="translate(25 308) rotate(-90)" text-anchor="middle" font-weight="bold" font-size="22.7" fill="#050505">Normalized signal, <tspan font-style="italic">m/z 44 or</tspan> 45</text>
<text x="3.6" y="33.6" font-size="39" fill="#050505"><tspan font-size="42.5" dy="1.4">(</tspan><tspan dy="-1.4" dx="-0.9">a</tspan><tspan font-size="42.5" dy="1.4" dx="-0.9">)</tspan></text>
<g font-size="22.8" fill="#050505">
<path d="M129 36.0 H155" stroke="#4474b2" stroke-width="2.45" fill="none"/>
<text x="156.5" y="43.0">FeCO3</text>
<path d="M129 68.5 H155" stroke="#be4b48" stroke-width="2.45" fill="none"/>
<text x="156.5" y="75.5">CaCO3</text>
<path d="M129 100.7 H155" stroke="#000" stroke-width="2.45" fill="none"/>
<text x="156.5" y="107.7">MgCO3</text>
</g>
<g fill="none" stroke-linejoin="round" stroke-linecap="round" stroke-width="2.55">
<path stroke="#2a97d0" d="M180.0 1227.0 L181.8 1227.0 L183.6 1227.0 L185.4 1227.0 L187.3 1227.0 L189.1 1227.0 L190.9 1227.0 L192.8 1227.0 L194.7 1227.0 L196.5 1227.0 L198.4 1227.0 L200.3 1227.0 L202.2 1227.0 L204.1 1227.0 L206.0 1227.0 L207.9 1227.0 L209.8 1227.0 L211.7 1227.0 L213.6 1227.0 L215.5 1227.0 L217.4 1227.0 L219.4 1227.0 L221.3 1227.0 L223.2 1227.0 L225.1 1227.0 L227.0 1227.0 L229.0 1227.0 L230.9 1227.0 L232.8 1227.0 L234.7 1227.0 L236.6 1227.0 L238.5 1227.0 L240.4 1227.0 L242.3 1227.0 L244.2 1227.0 L246.1 1227.0 L247.9 1227.0 L249.8 1227.0 L251.7 1227.0 L253.5 1227.0 L255.4 1227.0 L257.2 1227.0 L259.0 1227.0 L260.8 1227.0 L262.6 1227.0 L264.4 1227.0 L266.2 1227.0 L268.0 1227.0 L269.7 1226.9 L271.5 1226.9 L273.2 1226.9 L274.9 1226.9 L276.6 1226.9 L278.3 1226.9 L280.0 1226.9 L281.6 1226.8 L283.3 1226.8 L284.9 1226.8 L286.5 1226.8 L288.1 1226.7 L289.6 1226.7 L291.2 1226.7 L292.7 1226.7 L294.2 1226.6 L295.7 1226.6 L297.1 1226.6 L298.6 1226.5 L300.0 1226.5 L302.2 1226.4 L304.3 1226.4 L306.3 1226.3 L308.4 1226.3 L310.4 1226.2 L312.4 1226.1 L314.3 1226.1 L316.2 1226.0 L318.1 1225.9 L320.0 1225.9 L321.8 1225.8 L323.6 1225.7 L325.4 1225.6 L327.2 1225.5 L328.9 1225.5 L330.6 1225.4 L332.3 1225.3 L334.0 1225.2 L335.6 1225.1 L337.3 1225.0 L338.9 1224.9 L340.5 1224.8 L342.1 1224.6 L343.7 1224.5 L345.3 1224.4 L346.9 1224.3 L348.4 1224.1 L350.0 1224.0 L352.0 1223.8 L353.9 1223.7 L355.9 1223.5 L357.7 1223.4 L359.6 1223.2 L361.5 1223.1 L363.3 1222.9 L365.1 1222.7 L366.8 1222.5 L368.6 1222.3 L370.3 1222.1 L371.9 1221.8 L373.6 1221.5 L375.2 1221.2 L376.8 1220.9 L378.4 1220.5 L380.0 1220.0 L381.7 1219.4 L383.5 1218.8 L385.2 1218.2 L386.9 1217.5 L388.6 1216.8 L390.2 1216.0 L391.8 1215.2 L393.4 1214.4 L394.9 1213.6 L396.3 1212.7 L397.6 1211.8 L398.9 1210.9 L400.0 1210.0 L401.4 1208.7 L402.6 1207.5 L403.7 1206.2 L404.7 1204.8 L405.6 1203.3 L406.5 1201.8 L407.5 1200.0 L408.2 1198.7 L408.8 1197.3 L409.5 1195.8 L410.2 1194.2 L410.8 1192.6 L411.5 1190.9 L412.1 1189.2 L412.7 1187.4 L413.3 1185.6 L413.9 1183.8 L414.4 1182.0 L415.0 1180.2 L415.5 1178.5 L416.0 1176.7 L416.5 1175.0 L416.9 1173.4 L417.4 1171.8 L417.8 1170.2 L418.1 1168.6 L418.5 1167.0 L418.8 1165.5 L419.2 1163.9 L419.5 1162.3 L419.8 1160.7 L420.1 1159.0 L420.4 1157.3 L420.6 1155.6 L420.9 1153.8 L421.2 1151.9 L421.5 1150.0 L421.7 1148.5 L421.9 1147.0 L422.1 1145.4 L422.4 1143.8 L422.6 1142.1 L422.8 1140.4 L423.0 1138.7 L423.1 1137.0 L423.3 1135.2 L423.5 1133.4 L423.7 1131.6 L423.9 1129.8 L424.1 1127.9 L424.2 1126.1 L424.4 1124.2 L424.6 1122.3 L424.8 1120.5 L424.9 1118.6 L425.1 1116.7 L425.2 1114.8 L425.4 1112.9 L425.6 1111.0 L425.7 1109.2 L425.9 1107.3 L426.0 1105.4 L426.2 1103.6 L426.3 1101.8 L426.5 1100.0 L426.7 1098.2 L426.8 1096.4 L426.9 1094.6 L427.1 1092.9 L427.2 1091.1 L427.4 1089.3 L427.5 1087.5 L427.6 1085.7 L427.8 1083.9 L427.9 1082.1 L428.0 1080.4 L428.2 1078.6 L428.3 1076.8 L428.4 1075.0 L428.5 1073.2 L428.6 1071.4 L428.8 1069.6 L428.9 1067.9 L429.0 1066.1 L429.1 1064.3 L429.2 1062.5 L429.3 1060.7 L429.5 1058.9 L429.6 1057.1 L429.7 1055.4 L429.8 1053.6 L429.9 1051.8 L430.0 1050.0 L430.1 1048.2 L430.2 1046.4 L430.3 1044.7 L430.4 1042.9 L430.5 1041.1 L430.6 1039.4 L430.7 1037.6 L430.7 1035.8 L430.8 1034.1 L430.9 1032.3 L431.0 1030.6 L431.1 1028.8 L431.1 1027.0 L431.2 1025.3 L431.3 1023.5 L431.4 1021.7 L431.5 1020.0 L431.5 1018.2 L431.6 1016.4 L431.7 1014.6 L431.8 1012.8 L431.9 1011.0 L432.0 1009.2 L432.1 1007.4 L432.2 1005.6 L432.3 1003.7 L432.4 1001.9 L432.5 1000.0 L432.6 998.3 L432.7 996.6 L432.8 994.9 L432.9 993.2 L433.1 991.4 L433.2 989.7 L433.3 987.9 L433.4 986.1 L433.6 984.4 L433.7 982.6 L433.8 980.8 L434.0 979.0 L434.1 977.2 L434.3 975.4 L434.4 973.6 L434.5 971.8 L434.7 970.0 L434.8 968.2 L435.0 966.4 L435.1 964.6 L435.2 962.8 L435.4 961.0 L435.5 959.2 L435.7 957.4 L435.8 955.6 L436.0 953.9 L436.1 952.1 L436.2 950.3 L436.4 948.6 L436.5 946.8 L436.6 945.1 L436.8 943.4 L436.9 941.7 L437.0 940.0 L437.1 938.1 L437.3 936.3 L437.4 934.4 L437.5 932.6 L437.6 930.8 L437.8 929.0 L437.9 927.2 L438.0 925.4 L438.1 923.6 L438.3 921.8 L438.4 920.0 L438.5 918.3 L438.6 916.5 L438.7 914.7 L438.8 912.9 L439.0 911.2 L439.1 909.4 L439.2 907.7 L439.3 905.9 L439.4 904.2 L439.6 902.4 L439.7 900.6 L439.8 898.9 L440.0 897.1 L440.1 895.3 L440.2 893.6 L440.4 891.8 L440.5 890.0 L440.6 888.2 L440.8 886.4 L440.9 884.6 L441.1 882.7 L441.2 880.8 L441.4 879.0 L441.5 877.1 L441.7 875.2 L441.8 873.3 L442.0 871.4 L442.1 869.5 L442.3 867.7 L442.4 865.8 L442.6 863.9 L442.8 862.1 L442.9 860.2 L443.1 858.4 L443.3 856.6 L443.4 854.8 L443.6 853.0 L443.8 851.3 L443.9 849.6 L444.1 847.9 L444.3 846.2 L444.5 844.6 L444.6 843.0 L444.8 841.5 L445.0 840.0 L445.2 838.0 L445.5 836.1 L445.7 834.2 L445.9 832.2 L446.2 830.4 L446.4 828.5 L446.6 826.7 L446.9 825.0 L447.1 823.3 L447.4 821.7 L447.7 820.2 L448.0 818.7 L448.3 817.4 L448.6 816.1 L449.0 815.0 L449.8 812.9 L450.7 811.0 L451.6 809.6 L452.5 809.0 L453.3 809.3 L454.1 810.3 L455.0 811.6 L455.8 813.3 L456.5 815.0 L456.9 816.1 L457.2 817.4 L457.5 818.7 L457.8 820.2 L458.0 821.7 L458.3 823.3 L458.5 825.0 L458.6 826.7 L458.8 828.5 L459.0 830.4 L459.2 832.2 L459.4 834.2 L459.6 836.1 L459.8 838.0 L460.0 840.0 L460.2 841.5 L460.4 843.0 L460.6 844.6 L460.8 846.2 L461.0 847.9 L461.2 849.6 L461.4 851.3 L461.6 853.0 L461.8 854.8 L462.0 856.6 L462.2 858.4 L462.4 860.2 L462.6 862.1 L462.8 863.9 L463.0 865.8 L463.2 867.7 L463.4 869.5 L463.6 871.4 L463.8 873.3 L464.0 875.2 L464.2 877.1 L464.4 879.0 L464.6 880.8 L464.8 882.7 L464.9 884.6 L465.1 886.4 L465.3 888.2 L465.5 890.0 L465.7 891.8 L465.9 893.6 L466.0 895.3 L466.2 897.1 L466.4 898.9 L466.6 900.6 L466.7 902.4 L466.9 904.1 L467.1 905.9 L467.2 907.7 L467.4 909.4 L467.6 911.2 L467.7 912.9 L467.9 914.7 L468.1 916.5 L468.2 918.2 L468.4 920.0 L468.5 921.8 L468.7 923.6 L468.8 925.4 L469.0 927.2 L469.1 929.0 L469.3 930.8 L469.4 932.6 L469.6 934.4 L469.7 936.3 L469.9 938.1 L470.0 940.0 L470.1 941.7 L470.2 943.4 L470.4 945.1 L470.5 946.9 L470.6 948.6 L470.7 950.4 L470.8 952.1 L470.9 953.9 L471.0 955.7 L471.1 957.5 L471.2 959.3 L471.3 961.1 L471.4 962.9 L471.5 964.8 L471.6 966.6 L471.6 968.4 L471.7 970.2 L471.8 972.0 L471.9 973.8 L472.0 975.7 L472.1 977.5 L472.2 979.3 L472.3 981.1 L472.4 982.8 L472.5 984.6 L472.6 986.4 L472.7 988.1 L472.8 989.9 L472.9 991.6 L473.0 993.3 L473.1 995.0 L473.2 996.7 L473.3 998.4 L473.4 1000.0 L473.5 1001.9 L473.7 1003.8 L473.8 1005.7 L473.9 1007.5 L474.1 1009.3 L474.2 1011.2 L474.3 1013.0 L474.5 1014.8 L474.6 1016.6 L474.8 1018.3 L474.9 1020.1 L475.0 1021.9 L475.2 1023.6 L475.3 1025.3 L475.5 1027.1 L475.6 1028.8 L475.8 1030.6 L475.9 1032.3 L476.1 1034.1 L476.3 1035.8 L476.4 1037.5 L476.6 1039.3 L476.8 1041.1 L476.9 1042.8 L477.1 1044.6 L477.3 1046.4 L477.5 1048.2 L477.7 1050.0 L477.8 1051.8 L478.0 1053.6 L478.2 1055.5 L478.4 1057.3 L478.6 1059.1 L478.8 1061.0 L479.1 1062.8 L479.3 1064.6 L479.5 1066.5 L479.7 1068.3 L479.9 1070.1 L480.1 1071.9 L480.3 1073.7 L480.6 1075.5 L480.8 1077.2 L481.0 1079.0 L481.2 1080.7 L481.4 1082.4 L481.7 1084.1 L481.9 1085.7 L482.1 1087.4 L482.3 1089.0 L482.6 1090.9 L482.8 1092.8 L483.1 1094.6 L483.3 1096.4 L483.6 1098.2 L483.8 1100.0 L484.1 1101.7 L484.3 1103.4 L484.6 1105.1 L484.8 1106.8 L485.1 1108.5 L485.4 1110.2 L485.6 1111.9 L485.9 1113.6 L486.2 1115.3 L486.5 1117.1 L486.8 1118.8 L487.1 1120.6 L487.4 1122.4 L487.8 1124.2 L488.1 1126.0 L488.4 1127.9 L488.8 1129.7 L489.1 1131.6 L489.5 1133.4 L489.8 1135.2 L490.2 1137.0 L490.5 1138.8 L490.9 1140.5 L491.3 1142.2 L491.6 1143.9 L492.0 1145.5 L492.3 1147.0 L492.7 1148.5 L493.2 1150.4 L493.6 1152.2 L494.1 1153.9 L494.6 1155.5 L495.0 1157.1 L495.5 1158.7 L496.1 1160.2 L496.6 1161.8 L497.2 1163.4 L497.8 1164.9 L498.3 1166.4 L498.9 1167.9 L499.5 1169.4 L500.2 1170.9 L500.9 1172.4 L501.6 1173.9 L502.3 1175.3 L503.1 1176.8 L503.9 1178.2 L504.8 1179.6 L505.7 1180.9 L506.7 1182.3 L507.7 1183.7 L508.7 1185.1 L509.8 1186.4 L510.9 1187.7 L511.9 1189.0 L513.0 1190.2 L514.0 1191.4 L515.0 1192.5 L516.1 1193.8 L517.2 1195.0 L518.2 1196.2 L519.3 1197.3 L520.4 1198.4 L521.6 1199.5 L523.0 1200.5 L524.2 1201.3 L525.5 1202.1 L526.9 1202.9 L528.3 1203.7 L529.8 1204.4 L531.4 1205.1 L533.0 1205.9 L534.6 1206.6 L536.2 1207.2 L537.8 1207.8 L539.4 1208.4 L541.0 1209.0 L542.7 1209.6 L544.3 1210.1 L546.0 1210.6 L547.6 1211.0 L549.3 1211.5 L551.0 1211.8 L552.7 1212.2 L554.5 1212.6 L556.2 1212.9 L558.1 1213.2 L560.0 1213.5 L561.6 1213.7 L563.2 1213.9 L564.8 1214.1 L566.4 1214.2 L568.1 1214.4 L569.8 1214.5 L571.5 1214.6 L573.2 1214.7 L575.0 1214.8 L576.7 1214.9 L578.6 1215.0 L580.4 1215.0 L582.3 1215.1 L584.2 1215.2 L586.1 1215.3 L588.0 1215.4 L590.0 1215.5 L591.6 1215.6 L593.2 1215.7 L594.8 1215.8 L596.5 1215.9 L598.2 1215.9 L599.9 1216.0 L601.6 1216.1 L603.4 1216.2 L605.1 1216.3 L606.9 1216.4 L608.7 1216.4 L610.5 1216.5 L612.4 1216.6 L614.2 1216.7 L616.1 1216.8 L617.9 1216.9 L619.8 1216.9 L621.6 1217.0 L623.5 1217.1 L625.3 1217.2 L627.2 1217.3 L629.1 1217.4 L630.9 1217.5 L632.7 1217.6 L634.6 1217.7 L636.4 1217.8 L638.2 1217.9 L640.0 1218.0 L641.8 1218.1 L643.6 1218.2 L645.4 1218.3 L647.1 1218.5 L648.9 1218.6 L650.7 1218.7 L652.5 1218.8 L654.3 1219.0 L656.1 1219.1 L657.9 1219.2 L659.6 1219.3 L661.4 1219.5 L663.2 1219.6 L665.0 1219.8 L666.8 1219.9 L668.6 1220.0 L670.4 1220.2 L672.1 1220.3 L673.9 1220.4 L675.7 1220.5 L677.5 1220.7 L679.3 1220.8 L681.1 1220.9 L682.9 1221.0 L684.6 1221.2 L686.4 1221.3 L688.2 1221.4 L690.0 1221.5 L691.8 1221.6 L693.6 1221.7 L695.4 1221.8 L697.1 1221.9 L698.9 1222.0 L700.7 1222.1 L702.5 1222.2 L704.3 1222.3 L706.1 1222.4 L707.9 1222.5 L709.6 1222.6 L711.4 1222.7 L713.2 1222.8 L715.0 1222.9 L716.8 1223.0 L718.6 1223.1 L720.4 1223.1 L722.1 1223.2 L723.9 1223.3 L725.7 1223.4 L727.5 1223.5 L729.3 1223.5 L731.1 1223.6 L732.9 1223.7 L734.6 1223.8 L736.4 1223.9 L738.2 1223.9 L740.0 1224.0 L741.8 1224.1 L743.6 1224.1 L745.4 1224.2 L747.2 1224.3 L749.0 1224.3 L750.9 1224.4 L752.7 1224.5 L754.5 1224.5 L756.4 1224.6 L758.2 1224.6 L760.1 1224.7 L761.9 1224.7 L763.7 1224.8 L765.6 1224.8 L767.4 1224.9 L769.2 1224.9 L771.0 1225.0 L772.8 1225.0 L774.6 1225.1 L776.4 1225.1 L778.1 1225.2 L779.9 1225.2 L781.6 1225.3 L783.3 1225.3 L785.0 1225.4 L786.7 1225.4 L788.4 1225.5 L790.0 1225.5 L791.9 1225.6 L793.8 1225.6 L795.6 1225.7 L797.4 1225.7 L799.2 1225.8 L801.0 1225.8 L802.7 1225.9 L804.4 1225.9 L806.2 1226.0 L807.9 1226.0 L809.6 1226.1 L811.3 1226.1 L813.0 1226.2 L814.7 1226.2 L816.4 1226.3 L818.1 1226.3 L819.8 1226.4 L821.5 1226.4 L823.3 1226.5 L825.0 1226.5"/>
<path stroke="#dc1420" stroke-width="2.9" d="M160.0 1227.0 L161.7 1227.0 L163.5 1227.0 L165.2 1227.0 L167.0 1227.0 L168.8 1227.0 L170.5 1227.0 L172.3 1227.1 L174.0 1227.1 L175.8 1227.1 L177.6 1227.1 L179.3 1227.2 L181.1 1227.2 L182.8 1227.2 L184.6 1227.2 L186.3 1227.2 L188.0 1227.1 L189.8 1227.1 L191.5 1227.0 L193.2 1227.0 L194.9 1226.9 L196.6 1226.8 L198.3 1226.7 L200.0 1226.5 L201.8 1226.3 L203.7 1226.1 L205.5 1225.9 L207.4 1225.7 L209.3 1225.5 L211.1 1225.2 L213.0 1225.0 L214.8 1224.7 L216.7 1224.4 L218.5 1224.1 L220.3 1223.8 L222.1 1223.4 L223.8 1223.1 L225.6 1222.7 L227.3 1222.3 L228.9 1221.9 L230.5 1221.5 L232.1 1221.0 L233.6 1220.5 L235.0 1220.0 L236.8 1219.3 L238.5 1218.6 L240.1 1217.9 L241.7 1217.1 L243.3 1216.3 L244.8 1215.5 L246.2 1214.6 L247.6 1213.7 L248.9 1212.8 L250.2 1211.9 L251.4 1211.0 L252.5 1210.0 L253.9 1208.7 L255.1 1207.5 L256.3 1206.2 L257.3 1204.8 L258.3 1203.4 L259.1 1201.8 L260.0 1200.0 L260.5 1198.7 L261.0 1197.3 L261.5 1195.8 L261.9 1194.2 L262.3 1192.6 L262.6 1190.9 L262.9 1189.2 L263.2 1187.4 L263.5 1185.6 L263.8 1183.8 L264.0 1182.0 L264.3 1180.2 L264.5 1178.4 L264.8 1176.7 L265.0 1175.0 L265.3 1173.2 L265.5 1171.5 L265.7 1169.8 L265.9 1168.1 L266.1 1166.4 L266.2 1164.8 L266.4 1163.1 L266.6 1161.3 L266.7 1159.6 L266.9 1157.8 L267.0 1155.9 L267.2 1154.0 L267.3 1152.1 L267.5 1150.0 L267.6 1148.5 L267.8 1147.0 L267.9 1145.4 L268.0 1143.8 L268.1 1142.1 L268.3 1140.4 L268.4 1138.7 L268.5 1137.0 L268.7 1135.2 L268.8 1133.4 L268.9 1131.6 L269.1 1129.8 L269.2 1127.9 L269.3 1126.1 L269.4 1124.2 L269.6 1122.3 L269.7 1120.5 L269.8 1118.6 L270.0 1116.7 L270.1 1114.8 L270.2 1112.9 L270.3 1111.0 L270.4 1109.2 L270.6 1107.3 L270.7 1105.4 L270.8 1103.6 L270.9 1101.8 L271.0 1100.0 L271.1 1098.2 L271.2 1096.4 L271.3 1094.6 L271.4 1092.9 L271.5 1091.1 L271.6 1089.3 L271.7 1087.5 L271.8 1085.7 L271.9 1083.9 L271.9 1082.1 L272.0 1080.4 L272.1 1078.6 L272.2 1076.8 L272.3 1075.0 L272.4 1073.2 L272.4 1071.4 L272.5 1069.6 L272.6 1067.9 L272.7 1066.1 L272.8 1064.3 L272.9 1062.5 L272.9 1060.7 L273.0 1058.9 L273.1 1057.1 L273.2 1055.4 L273.3 1053.6 L273.4 1051.8 L273.5 1050.0 L273.6 1048.2 L273.7 1046.4 L273.8 1044.6 L273.9 1042.8 L274.0 1041.0 L274.1 1039.2 L274.2 1037.4 L274.3 1035.6 L274.4 1033.7 L274.5 1031.9 L274.7 1030.1 L274.8 1028.3 L274.9 1026.5 L275.0 1024.7 L275.1 1022.8 L275.2 1021.0 L275.3 1019.2 L275.4 1017.4 L275.5 1015.7 L275.6 1013.9 L275.8 1012.1 L275.9 1010.3 L276.0 1008.6 L276.1 1006.9 L276.2 1005.1 L276.3 1003.4 L276.4 1001.7 L276.5 1000.0 L276.6 998.2 L276.7 996.3 L276.8 994.5 L276.9 992.6 L277.0 990.8 L277.2 988.9 L277.3 987.1 L277.4 985.2 L277.5 983.4 L277.6 981.6 L277.7 979.8 L277.8 978.0 L277.9 976.2 L278.0 974.4 L278.1 972.7 L278.2 971.0 L278.3 969.3 L278.4 967.7 L278.5 966.1 L278.7 964.5 L278.8 963.0 L278.9 961.5 L279.0 960.0 L279.2 958.1 L279.3 956.4 L279.5 954.7 L279.6 953.2 L279.8 951.6 L279.9 950.1 L280.1 948.6 L280.2 947.1 L280.4 945.5 L280.6 943.8 L280.8 942.0 L281.0 940.0 L281.1 938.6 L281.3 937.0 L281.5 935.4 L281.6 933.7 L281.8 932.0 L282.0 930.1 L282.2 928.2 L282.3 926.3 L282.5 924.3 L282.7 922.3 L282.9 920.3 L283.1 918.2 L283.3 916.2 L283.5 914.1 L283.7 912.1 L284.0 910.1 L284.2 908.1 L284.4 906.1 L284.6 904.2 L284.8 902.3 L285.0 900.5 L285.2 898.7 L285.4 897.0 L285.7 895.4 L285.9 893.9 L286.1 892.5 L286.3 891.2 L286.5 890.0 L286.9 887.9 L287.3 886.1 L287.7 884.3 L288.1 882.8 L288.5 881.4 L288.9 880.1 L289.3 879.0 L289.9 877.0 L290.5 876.0 L291.1 877.0 L291.8 879.0 L292.2 880.1 L292.6 881.4 L292.9 882.8 L293.3 884.3 L293.7 886.1 L294.1 887.9 L294.5 890.0 L294.7 891.2 L294.9 892.5 L295.1 893.9 L295.3 895.3 L295.5 896.9 L295.7 898.5 L295.8 900.2 L296.0 902.0 L296.2 903.8 L296.4 905.7 L296.6 907.6 L296.8 909.6 L297.0 911.5 L297.2 913.5 L297.3 915.5 L297.5 917.6 L297.7 919.6 L297.9 921.6 L298.0 923.6 L298.2 925.6 L298.4 927.5 L298.6 929.5 L298.7 931.4 L298.9 933.2 L299.1 935.0 L299.3 936.7 L299.4 938.4 L299.6 940.0 L299.8 942.0 L300.0 943.9 L300.2 945.8 L300.5 947.6 L300.7 949.4 L300.9 951.2 L301.1 952.9 L301.3 954.6 L301.5 956.3 L301.7 958.0 L301.9 959.7 L302.1 961.4 L302.3 963.1 L302.5 964.8 L302.6 966.5 L302.8 968.2 L303.0 970.0 L303.2 971.8 L303.3 973.5 L303.5 975.2 L303.6 976.9 L303.8 978.6 L303.9 980.3 L304.0 982.0 L304.1 983.7 L304.3 985.4 L304.4 987.1 L304.5 988.9 L304.7 990.6 L304.8 992.4 L305.0 994.3 L305.1 996.1 L305.3 998.0 L305.5 1000.0 L305.7 1001.6 L305.8 1003.2 L306.0 1004.8 L306.2 1006.5 L306.3 1008.2 L306.5 1009.9 L306.7 1011.6 L306.9 1013.4 L307.1 1015.1 L307.3 1016.9 L307.5 1018.7 L307.7 1020.5 L307.9 1022.4 L308.1 1024.2 L308.3 1026.1 L308.5 1027.9 L308.7 1029.8 L308.9 1031.6 L309.1 1033.5 L309.4 1035.3 L309.6 1037.2 L309.8 1039.1 L310.0 1040.9 L310.2 1042.7 L310.4 1044.6 L310.6 1046.4 L310.8 1048.2 L311.0 1050.0 L311.2 1051.8 L311.4 1053.6 L311.6 1055.4 L311.8 1057.3 L311.9 1059.2 L312.1 1061.0 L312.3 1062.9 L312.5 1064.8 L312.7 1066.7 L312.9 1068.6 L313.0 1070.5 L313.2 1072.3 L313.4 1074.2 L313.6 1076.1 L313.8 1077.9 L314.0 1079.8 L314.2 1081.6 L314.3 1083.4 L314.5 1085.2 L314.7 1087.0 L314.9 1088.7 L315.2 1090.4 L315.4 1092.1 L315.6 1093.8 L315.8 1095.4 L316.0 1097.0 L316.3 1098.5 L316.5 1100.0 L316.8 1101.9 L317.2 1103.8 L317.5 1105.6 L317.9 1107.3 L318.2 1109.0 L318.6 1110.6 L319.0 1112.3 L319.3 1113.9 L319.7 1115.4 L320.1 1117.0 L320.5 1118.6 L320.8 1120.1 L321.2 1121.7 L321.6 1123.4 L322.0 1125.0 L322.4 1126.7 L322.7 1128.3 L323.1 1130.0 L323.4 1131.7 L323.8 1133.4 L324.1 1135.0 L324.5 1136.7 L324.8 1138.4 L325.2 1140.1 L325.6 1141.7 L326.0 1143.4 L326.5 1145.1 L326.9 1146.7 L327.5 1148.4 L328.0 1150.0 L328.6 1151.6 L329.2 1153.2 L329.8 1154.9 L330.4 1156.5 L331.1 1158.1 L331.8 1159.8 L332.5 1161.4 L333.2 1163.0 L334.0 1164.6 L334.7 1166.2 L335.5 1167.8 L336.3 1169.3 L337.1 1170.8 L337.9 1172.2 L338.7 1173.6 L339.5 1175.0 L340.5 1176.6 L341.5 1178.1 L342.5 1179.6 L343.6 1181.0 L344.6 1182.4 L345.7 1183.8 L346.8 1185.1 L347.9 1186.4 L349.1 1187.6 L350.3 1188.8 L351.5 1190.0 L352.8 1191.2 L354.2 1192.4 L355.6 1193.5 L357.0 1194.5 L358.4 1195.6 L359.9 1196.6 L361.4 1197.5 L362.9 1198.4 L364.4 1199.2 L366.0 1200.0 L367.6 1200.7 L369.2 1201.5 L370.8 1202.2 L372.5 1202.9 L374.2 1203.5 L375.9 1204.0 L377.5 1204.4 L379.2 1204.7 L380.9 1204.9 L382.5 1205.0 L384.2 1204.9 L386.0 1204.8 L387.7 1204.5 L389.5 1204.1 L391.2 1203.5 L392.8 1202.9 L394.5 1202.1 L396.0 1201.1 L397.5 1200.0 L398.6 1199.0 L399.6 1197.9 L400.6 1196.6 L401.6 1195.3 L402.6 1193.8 L403.5 1192.2 L404.4 1190.6 L405.3 1188.9 L406.1 1187.2 L406.9 1185.4 L407.7 1183.6 L408.4 1181.8 L409.1 1180.1 L409.8 1178.3 L410.4 1176.6 L411.0 1175.0 L411.6 1173.4 L412.1 1171.8 L412.5 1170.2 L412.9 1168.7 L413.3 1167.1 L413.6 1165.5 L413.9 1163.9 L414.2 1162.3 L414.4 1160.7 L414.7 1159.0 L414.9 1157.3 L415.2 1155.6 L415.4 1153.8 L415.7 1151.9 L416.0 1150.0 L416.2 1148.5 L416.5 1147.0 L416.7 1145.4 L416.9 1143.8 L417.1 1142.1 L417.3 1140.4 L417.5 1138.7 L417.8 1137.0 L418.0 1135.2 L418.2 1133.4 L418.4 1131.6 L418.6 1129.8 L418.8 1127.9 L419.0 1126.1 L419.2 1124.2 L419.4 1122.3 L419.6 1120.5 L419.8 1118.6 L419.9 1116.7 L420.1 1114.8 L420.3 1112.9 L420.5 1111.0 L420.7 1109.2 L420.8 1107.3 L421.0 1105.5 L421.2 1103.6 L421.3 1101.8 L421.5 1100.0 L421.7 1098.2 L421.8 1096.4 L422.0 1094.6 L422.1 1092.9 L422.3 1091.1 L422.4 1089.3 L422.5 1087.5 L422.7 1085.7 L422.8 1083.9 L422.9 1082.2 L423.1 1080.4 L423.2 1078.6 L423.3 1076.8 L423.4 1075.0 L423.6 1073.2 L423.7 1071.4 L423.8 1069.6 L423.9 1067.9 L424.0 1066.1 L424.1 1064.3 L424.2 1062.5 L424.4 1060.7 L424.5 1058.9 L424.6 1057.1 L424.7 1055.4 L424.8 1053.6 L424.9 1051.8 L425.0 1050.0 L425.1 1048.2 L425.2 1046.4 L425.3 1044.7 L425.4 1042.9 L425.5 1041.1 L425.6 1039.4 L425.7 1037.6 L425.8 1035.8 L425.8 1034.1 L425.9 1032.3 L426.0 1030.6 L426.1 1028.8 L426.2 1027.0 L426.2 1025.3 L426.3 1023.5 L426.4 1021.7 L426.5 1020.0 L426.6 1018.2 L426.7 1016.4 L426.7 1014.6 L426.8 1012.8 L426.9 1011.0 L427.0 1009.2 L427.1 1007.4 L427.2 1005.6 L427.3 1003.7 L427.4 1001.9 L427.5 1000.0 L427.6 998.3 L427.7 996.6 L427.8 994.9 L427.9 993.2 L428.0 991.4 L428.1 989.7 L428.2 987.9 L428.4 986.1 L428.5 984.4 L428.6 982.6 L428.7 980.8 L428.8 979.0 L428.9 977.2 L429.1 975.4 L429.2 973.6 L429.3 971.8 L429.4 970.0 L429.6 968.2 L429.7 966.4 L429.8 964.6 L429.9 962.8 L430.0 961.0 L430.2 959.2 L430.3 957.4 L430.4 955.6 L430.5 953.9 L430.7 952.1 L430.8 950.3 L430.9 948.6 L431.0 946.8 L431.1 945.1 L431.3 943.4 L431.4 941.7 L431.5 940.0 L431.6 938.1 L431.8 936.3 L431.9 934.4 L432.0 932.6 L432.1 930.8 L432.2 929.0 L432.4 927.2 L432.5 925.4 L432.6 923.6 L432.7 921.8 L432.8 920.0 L432.9 918.2 L433.0 916.5 L433.2 914.7 L433.3 912.9 L433.4 911.2 L433.5 909.4 L433.6 907.7 L433.8 905.9 L433.9 904.1 L434.0 902.4 L434.2 900.6 L434.3 898.9 L434.4 897.1 L434.6 895.3 L434.7 893.6 L434.9 891.8 L435.0 890.0 L435.2 888.2 L435.3 886.4 L435.5 884.6 L435.6 882.7 L435.8 880.8 L436.0 879.0 L436.1 877.1 L436.3 875.2 L436.5 873.3 L436.6 871.4 L436.8 869.5 L437.0 867.7 L437.2 865.8 L437.4 863.9 L437.5 862.1 L437.7 860.2 L437.9 858.4 L438.1 856.6 L438.3 854.8 L438.5 853.0 L438.7 851.3 L438.9 849.6 L439.0 847.9 L439.2 846.2 L439.4 844.6 L439.6 843.0 L439.8 841.5 L440.0 840.0 L440.2 838.0 L440.5 836.1 L440.7 834.2 L440.9 832.2 L441.2 830.4 L441.4 828.5 L441.6 826.7 L441.9 825.0 L442.1 823.3 L442.4 821.7 L442.7 820.2 L443.0 818.7 L443.3 817.4 L443.6 816.1 L444.0 815.0 L444.8 812.9 L445.7 811.0 L446.6 809.6 L447.5 809.0 L448.3 809.3 L449.1 810.3 L450.0 811.6 L450.8 813.3 L451.5 815.0 L451.9 816.1 L452.3 817.4 L452.7 818.7 L453.0 820.2 L453.3 821.7 L453.6 823.3 L453.9 825.0 L454.2 826.7 L454.4 828.5 L454.7 830.4 L455.0 832.2 L455.2 834.2 L455.5 836.1 L455.7 838.0 L456.0 840.0 L456.2 841.5 L456.4 843.0 L456.6 844.6 L456.8 846.2 L457.0 847.9 L457.2 849.6 L457.4 851.3 L457.6 853.0 L457.7 854.8 L457.9 856.6 L458.1 858.4 L458.3 860.2 L458.5 862.1 L458.6 863.9 L458.8 865.8 L459.0 867.7 L459.1 869.5 L459.3 871.4 L459.5 873.3 L459.7 875.2 L459.8 877.1 L460.0 879.0 L460.2 880.8 L460.3 882.7 L460.5 884.6 L460.7 886.4 L460.8 888.2 L461.0 890.0 L461.2 891.8 L461.3 893.6 L461.5 895.3 L461.7 897.1 L461.8 898.9 L462.0 900.6 L462.2 902.4 L462.4 904.1 L462.5 905.9 L462.7 907.7 L462.9 909.4 L463.0 911.2 L463.2 912.9 L463.4 914.7 L463.5 916.5 L463.7 918.2 L463.8 920.0 L464.0 921.8 L464.2 923.6 L464.3 925.4 L464.5 927.2 L464.6 929.0 L464.8 930.8 L464.9 932.6 L465.1 934.4 L465.2 936.3 L465.4 938.1 L465.5 940.0 L465.6 941.7 L465.7 943.4 L465.9 945.1 L466.0 946.9 L466.1 948.6 L466.2 950.4 L466.3 952.1 L466.4 953.9 L466.5 955.7 L466.6 957.5 L466.7 959.3 L466.9 961.1 L467.0 962.9 L467.1 964.8 L467.2 966.6 L467.3 968.4 L467.4 970.2 L467.4 972.0 L467.5 973.8 L467.6 975.7 L467.7 977.5 L467.8 979.3 L467.9 981.1 L468.0 982.8 L468.1 984.6 L468.2 986.4 L468.3 988.1 L468.4 989.9 L468.5 991.6 L468.6 993.3 L468.7 995.0 L468.8 996.7 L468.9 998.4 L469.0 1000.0 L469.1 1001.9 L469.2 1003.8 L469.3 1005.7 L469.4 1007.5 L469.6 1009.3 L469.7 1011.2 L469.8 1013.0 L469.9 1014.8 L470.0 1016.6 L470.1 1018.3 L470.2 1020.1 L470.3 1021.8 L470.4 1023.6 L470.5 1025.3 L470.6 1027.1 L470.7 1028.8 L470.8 1030.6 L470.9 1032.3 L471.0 1034.1 L471.2 1035.8 L471.3 1037.5 L471.4 1039.3 L471.6 1041.1 L471.7 1042.8 L471.9 1044.6 L472.1 1046.4 L472.2 1048.2 L472.4 1050.0 L472.6 1051.8 L472.8 1053.6 L473.0 1055.5 L473.2 1057.3 L473.4 1059.1 L473.6 1061.0 L473.8 1062.8 L474.0 1064.6 L474.2 1066.5 L474.4 1068.3 L474.6 1070.1 L474.8 1071.9 L475.0 1073.7 L475.3 1075.5 L475.5 1077.2 L475.7 1079.0 L475.9 1080.7 L476.2 1082.4 L476.4 1084.1 L476.6 1085.8 L476.9 1087.4 L477.1 1089.0 L477.4 1090.9 L477.7 1092.8 L477.9 1094.6 L478.2 1096.4 L478.5 1098.2 L478.8 1100.0 L479.1 1101.7 L479.4 1103.4 L479.7 1105.1 L480.0 1106.8 L480.3 1108.5 L480.6 1110.2 L481.0 1111.9 L481.3 1113.6 L481.6 1115.3 L482.0 1117.1 L482.3 1118.8 L482.7 1120.6 L483.0 1122.4 L483.4 1124.2 L483.8 1126.0 L484.1 1127.9 L484.5 1129.7 L484.9 1131.6 L485.3 1133.4 L485.7 1135.2 L486.1 1137.0 L486.5 1138.8 L486.9 1140.5 L487.4 1142.2 L487.8 1143.9 L488.2 1145.5 L488.6 1147.0 L489.0 1148.5 L489.5 1150.4 L490.1 1152.2 L490.6 1153.9 L491.1 1155.5 L491.7 1157.1 L492.3 1158.7 L492.9 1160.2 L493.5 1161.8 L494.2 1163.4 L494.9 1164.9 L495.6 1166.4 L496.3 1167.9 L497.1 1169.4 L497.9 1170.9 L498.7 1172.4 L499.6 1173.9 L500.5 1175.3 L501.4 1176.8 L502.4 1178.2 L503.4 1179.5 L504.4 1180.8 L505.4 1182.1 L506.6 1183.5 L507.7 1184.8 L508.9 1186.1 L510.0 1187.4 L511.2 1188.6 L512.4 1189.8 L513.5 1191.0 L514.6 1192.1 L515.7 1193.1 L517.0 1194.3 L518.2 1195.5 L519.4 1196.6 L520.6 1197.6 L521.9 1198.6 L523.2 1199.5 L524.7 1200.5 L526.1 1201.3 L527.6 1202.2 L529.1 1203.0 L530.7 1203.8 L532.4 1204.6 L534.1 1205.3 L535.8 1206.0 L537.5 1206.7 L539.3 1207.3 L541.0 1207.9 L542.6 1208.4 L544.3 1208.8 L545.9 1209.2 L547.6 1209.6 L549.2 1209.9 L550.9 1210.2 L552.7 1210.5 L554.4 1210.7 L556.2 1211.0 L558.1 1211.2 L560.0 1211.5 L561.6 1211.7 L563.2 1211.9 L564.8 1212.1 L566.4 1212.2 L568.1 1212.4 L569.8 1212.5 L571.5 1212.7 L573.2 1212.8 L575.0 1212.9 L576.8 1213.1 L578.6 1213.2 L580.4 1213.3 L582.3 1213.4 L584.2 1213.6 L586.1 1213.7 L588.0 1213.9 L590.0 1214.0 L591.6 1214.1 L593.2 1214.2 L594.8 1214.4 L596.5 1214.5 L598.2 1214.6 L599.9 1214.7 L601.6 1214.9 L603.4 1215.0 L605.1 1215.1 L606.9 1215.2 L608.7 1215.4 L610.5 1215.5 L612.4 1215.6 L614.2 1215.7 L616.1 1215.9 L617.9 1216.0 L619.8 1216.1 L621.6 1216.2 L623.5 1216.4 L625.3 1216.5 L627.2 1216.6 L629.1 1216.7 L630.9 1216.9 L632.7 1217.0 L634.6 1217.1 L636.4 1217.2 L638.2 1217.4 L640.0 1217.5 L641.8 1217.6 L643.6 1217.8 L645.4 1217.9 L647.1 1218.0 L648.9 1218.1 L650.7 1218.3 L652.5 1218.4 L654.3 1218.5 L656.1 1218.7 L657.9 1218.8 L659.6 1218.9 L661.4 1219.1 L663.2 1219.2 L665.0 1219.3 L666.8 1219.4 L668.6 1219.6 L670.4 1219.7 L672.1 1219.8 L673.9 1219.9 L675.7 1220.1 L677.5 1220.2 L679.3 1220.3 L681.1 1220.4 L682.9 1220.6 L684.6 1220.7 L686.4 1220.8 L688.2 1220.9 L690.0 1221.0 L691.8 1221.1 L693.6 1221.2 L695.4 1221.3 L697.1 1221.4 L698.9 1221.5 L700.7 1221.6 L702.5 1221.7 L704.3 1221.8 L706.1 1221.9 L707.9 1222.0 L709.6 1222.1 L711.4 1222.2 L713.2 1222.3 L715.0 1222.4 L716.8 1222.5 L718.6 1222.6 L720.4 1222.6 L722.1 1222.7 L723.9 1222.8 L725.7 1222.9 L727.5 1223.0 L729.3 1223.0 L731.1 1223.1 L732.9 1223.2 L734.6 1223.3 L736.4 1223.4 L738.2 1223.4 L740.0 1223.5 L741.8 1223.6 L743.6 1223.6 L745.4 1223.7 L747.2 1223.8 L749.0 1223.8 L750.9 1223.9 L752.7 1224.0 L754.5 1224.0 L756.4 1224.1 L758.2 1224.1 L760.1 1224.2 L761.9 1224.2 L763.7 1224.3 L765.6 1224.3 L767.4 1224.4 L769.2 1224.4 L771.0 1224.5 L772.8 1224.5 L774.6 1224.6 L776.4 1224.6 L778.1 1224.7 L779.9 1224.7 L781.6 1224.8 L783.3 1224.8 L785.0 1224.9 L786.7 1224.9 L788.4 1225.0 L790.0 1225.0 L791.9 1225.1 L793.8 1225.1 L795.6 1225.2 L797.4 1225.2 L799.2 1225.3 L801.0 1225.3 L802.7 1225.4 L804.4 1225.4 L806.2 1225.5 L807.9 1225.5 L809.6 1225.6 L811.3 1225.6 L813.0 1225.7 L814.7 1225.7 L816.4 1225.8 L818.1 1225.8 L819.8 1225.9 L821.5 1225.9 L823.3 1226.0 L825.0 1226.0"/>
<path stroke="#404040" d="M300.0 1227.0 L301.8 1227.0 L303.6 1227.0 L305.4 1227.0 L307.3 1226.9 L309.2 1226.9 L311.0 1226.9 L312.9 1226.9 L314.8 1226.9 L316.7 1226.9 L318.7 1226.9 L320.6 1226.9 L322.5 1226.9 L324.5 1226.9 L326.5 1226.9 L328.4 1226.9 L330.4 1226.9 L332.4 1226.9 L334.4 1226.9 L336.3 1226.9 L338.3 1226.9 L340.3 1226.9 L342.3 1226.9 L344.3 1226.9 L346.3 1226.9 L348.3 1226.9 L350.3 1226.9 L352.2 1226.9 L354.2 1226.9 L356.2 1226.8 L358.2 1226.8 L360.1 1226.8 L362.1 1226.8 L364.0 1226.8 L366.0 1226.8 L367.9 1226.8 L369.8 1226.8 L371.7 1226.8 L373.6 1226.8 L375.5 1226.8 L377.4 1226.8 L379.3 1226.8 L381.1 1226.8 L382.9 1226.8 L384.7 1226.7 L386.5 1226.7 L388.3 1226.7 L390.1 1226.7 L391.8 1226.7 L393.5 1226.7 L395.2 1226.6 L396.9 1226.6 L398.5 1226.6 L400.2 1226.6 L401.8 1226.5 L403.3 1226.5 L404.9 1226.5 L406.4 1226.4 L407.9 1226.4 L409.4 1226.4 L410.8 1226.3 L412.2 1226.3 L413.6 1226.2 L414.9 1226.2 L416.3 1226.2 L417.5 1226.1 L418.8 1226.1 L420.0 1226.0 L422.3 1225.9 L424.5 1225.8 L426.5 1225.7 L428.5 1225.5 L430.4 1225.4 L432.2 1225.3 L433.9 1225.1 L435.6 1225.0 L437.2 1224.8 L438.8 1224.7 L440.4 1224.5 L442.0 1224.4 L443.6 1224.2 L445.1 1224.0 L446.7 1223.9 L448.3 1223.7 L450.0 1223.5 L451.7 1223.3 L453.5 1223.1 L455.3 1222.9 L457.0 1222.7 L458.8 1222.5 L460.5 1222.3 L462.2 1222.1 L463.9 1221.9 L465.6 1221.7 L467.3 1221.4 L468.9 1221.2 L470.5 1220.9 L472.0 1220.6 L473.5 1220.3 L475.0 1220.0 L476.9 1219.6 L478.6 1219.1 L480.3 1218.6 L482.0 1218.1 L483.6 1217.6 L485.2 1217.1 L486.8 1216.4 L488.4 1215.8 L490.0 1215.0 L491.4 1214.3 L492.8 1213.5 L494.2 1212.7 L495.7 1211.9 L497.1 1211.0 L498.4 1210.1 L499.8 1209.2 L501.1 1208.2 L502.5 1207.1 L503.8 1206.1 L505.0 1205.0 L506.3 1203.8 L507.5 1202.6 L508.7 1201.4 L509.9 1200.1 L511.1 1198.8 L512.2 1197.4 L513.3 1196.0 L514.4 1194.5 L515.5 1193.1 L516.5 1191.6 L517.5 1190.0 L518.4 1188.6 L519.2 1187.1 L520.0 1185.6 L520.8 1184.0 L521.5 1182.4 L522.3 1180.7 L523.0 1179.1 L523.7 1177.4 L524.4 1175.8 L525.1 1174.1 L525.7 1172.5 L526.3 1171.0 L526.9 1169.5 L527.5 1168.0 L528.2 1166.2 L528.8 1164.5 L529.3 1162.8 L529.9 1161.1 L530.4 1159.5 L530.9 1157.9 L531.4 1156.4 L532.0 1154.9 L532.6 1153.5 L533.3 1151.9 L534.1 1150.2 L534.9 1148.7 L535.7 1147.3 L536.5 1146.0 L537.5 1145.0 L538.8 1144.0 L540.2 1143.3 L541.6 1142.8 L543.0 1142.6 L544.4 1142.8 L545.9 1143.3 L547.2 1144.0 L548.5 1145.0 L549.4 1146.1 L550.2 1147.3 L551.0 1148.8 L551.7 1150.4 L552.3 1152.0 L553.0 1153.5 L553.7 1155.1 L554.3 1156.7 L555.0 1158.3 L555.6 1159.9 L556.3 1161.6 L557.0 1163.4 L557.6 1164.8 L558.2 1166.2 L558.9 1167.6 L559.5 1169.1 L560.2 1170.6 L560.9 1172.2 L561.6 1173.7 L562.3 1175.2 L563.1 1176.7 L563.8 1178.2 L564.6 1179.7 L565.3 1181.3 L566.1 1182.9 L566.9 1184.5 L567.7 1186.0 L568.6 1187.6 L569.4 1189.1 L570.2 1190.5 L571.1 1191.9 L571.9 1193.1 L573.0 1194.5 L574.0 1195.9 L575.0 1197.1 L576.1 1198.2 L577.3 1199.4 L578.6 1200.5 L579.9 1201.5 L581.3 1202.6 L582.8 1203.6 L584.4 1204.5 L585.9 1205.5 L587.5 1206.4 L589.0 1207.2 L590.5 1207.9 L592.0 1208.6 L593.5 1209.3 L594.9 1209.9 L596.4 1210.4 L597.9 1210.8 L599.4 1210.9 L600.9 1210.9 L602.5 1210.7 L604.1 1210.3 L605.6 1209.9 L607.2 1209.3 L608.6 1208.7 L609.8 1207.9 L610.9 1206.9 L611.9 1205.8 L612.8 1204.5 L613.6 1203.2 L614.3 1201.8 L615.0 1200.5 L615.7 1199.1 L616.3 1197.7 L616.9 1196.3 L617.4 1194.8 L618.0 1193.1 L618.5 1191.7 L619.0 1190.1 L619.5 1188.5 L620.0 1186.8 L620.5 1185.1 L621.0 1183.4 L621.5 1181.6 L621.9 1179.9 L622.4 1178.2 L622.8 1176.6 L623.3 1174.9 L623.7 1173.3 L624.1 1171.6 L624.5 1170.0 L624.9 1168.3 L625.3 1166.7 L625.7 1165.1 L626.1 1163.4 L626.5 1161.8 L626.8 1160.2 L627.1 1158.6 L627.4 1157.1 L627.8 1155.5 L628.1 1153.9 L628.4 1152.2 L628.7 1150.4 L629.1 1148.5 L629.4 1147.0 L629.7 1145.5 L629.9 1143.9 L630.2 1142.2 L630.5 1140.5 L630.9 1138.8 L631.2 1137.0 L631.5 1135.2 L631.8 1133.4 L632.1 1131.5 L632.4 1129.7 L632.7 1127.9 L633.1 1126.0 L633.4 1124.2 L633.7 1122.4 L634.0 1120.6 L634.3 1118.8 L634.6 1117.0 L634.9 1115.3 L635.2 1113.5 L635.5 1111.8 L635.8 1110.0 L636.1 1108.3 L636.4 1106.5 L636.7 1104.8 L637.1 1103.0 L637.4 1101.3 L637.7 1099.5 L638.0 1097.8 L638.3 1096.0 L638.6 1094.3 L638.9 1092.5 L639.2 1090.8 L639.5 1089.0 L639.8 1087.3 L640.1 1085.5 L640.4 1083.8 L640.7 1082.0 L641.0 1080.3 L641.3 1078.5 L641.6 1076.8 L642.0 1075.1 L642.3 1073.3 L642.6 1071.6 L642.9 1069.8 L643.2 1068.1 L643.5 1066.4 L643.8 1064.6 L644.1 1062.9 L644.4 1061.1 L644.7 1059.4 L645.0 1057.7 L645.3 1055.9 L645.6 1054.2 L645.9 1052.5 L646.2 1050.8 L646.5 1049.0 L646.8 1047.3 L647.1 1045.6 L647.4 1043.9 L647.7 1042.1 L648.0 1040.4 L648.3 1038.7 L648.6 1036.9 L648.9 1035.2 L649.2 1033.5 L649.5 1031.7 L649.8 1030.0 L650.1 1028.2 L650.4 1026.5 L650.7 1024.7 L651.0 1022.9 L651.2 1021.1 L651.5 1019.4 L651.8 1017.6 L652.1 1015.8 L652.4 1014.0 L652.6 1012.2 L652.9 1010.5 L653.2 1008.7 L653.5 1006.9 L653.8 1005.2 L654.0 1003.5 L654.3 1001.7 L654.6 1000.0 L654.9 998.3 L655.2 996.6 L655.4 995.0 L655.7 993.4 L656.0 991.8 L656.2 990.2 L656.5 988.6 L656.8 987.0 L657.1 985.4 L657.3 983.8 L657.6 982.1 L657.9 980.4 L658.2 978.7 L658.5 976.9 L658.8 975.1 L659.1 973.2 L659.3 971.7 L659.6 970.1 L659.9 968.5 L660.1 966.9 L660.4 965.3 L660.7 963.6 L661.0 961.9 L661.3 960.2 L661.6 958.4 L661.8 956.6 L662.1 954.9 L662.4 953.0 L662.7 951.2 L663.0 949.4 L663.3 947.6 L663.6 945.7 L663.9 943.9 L664.2 942.0 L664.5 940.1 L664.8 938.3 L665.1 936.4 L665.4 934.6 L665.7 932.7 L666.0 930.9 L666.2 929.1 L666.5 927.3 L666.7 925.5 L667.0 923.7 L667.2 921.9 L667.5 920.1 L667.7 918.3 L668.0 916.5 L668.2 914.7 L668.4 912.9 L668.6 911.0 L668.8 909.2 L669.1 907.4 L669.3 905.5 L669.5 903.7 L669.7 901.8 L669.9 900.0 L670.1 898.2 L670.3 896.3 L670.5 894.5 L670.7 892.7 L670.9 890.9 L671.1 889.2 L671.3 887.4 L671.5 885.7 L671.7 884.0 L671.9 882.3 L672.1 880.6 L672.4 879.0 L672.6 877.3 L672.8 875.8 L673.0 874.2 L673.3 872.2 L673.6 870.3 L673.8 868.5 L674.1 866.6 L674.4 864.8 L674.7 863.0 L675.0 861.3 L675.3 859.5 L675.5 857.8 L675.8 856.1 L676.1 854.4 L676.4 852.8 L676.7 851.1 L677.0 849.4 L677.3 847.8 L677.6 846.1 L677.9 844.5 L678.2 842.7 L678.6 840.8 L678.9 839.0 L679.3 837.1 L679.7 835.3 L680.0 833.4 L680.4 831.6 L680.8 829.9 L681.1 828.2 L681.5 826.5 L681.9 824.9 L682.2 823.4 L682.6 822.0 L682.9 820.7 L683.4 818.7 L683.9 816.9 L684.4 815.3 L684.9 813.8 L685.5 812.5 L686.3 810.9 L687.3 809.5 L688.2 808.9 L689.2 809.5 L690.1 810.9 L691.0 812.5 L691.6 813.8 L692.2 815.3 L692.7 816.9 L693.3 818.7 L693.8 820.7 L694.1 822.0 L694.5 823.4 L694.9 824.9 L695.2 826.5 L695.6 828.2 L695.9 829.9 L696.3 831.6 L696.7 833.4 L697.0 835.3 L697.4 837.1 L697.7 839.0 L698.1 840.8 L698.4 842.7 L698.7 844.5 L699.0 846.2 L699.2 847.8 L699.5 849.5 L699.8 851.2 L700.0 852.9 L700.2 854.6 L700.5 856.3 L700.7 858.0 L700.9 859.7 L701.2 861.5 L701.4 863.3 L701.6 865.0 L701.8 866.8 L702.0 868.7 L702.3 870.5 L702.5 872.3 L702.7 874.2 L702.9 875.8 L703.1 877.4 L703.2 879.1 L703.4 880.7 L703.6 882.4 L703.8 884.1 L703.9 885.8 L704.1 887.5 L704.3 889.3 L704.4 891.0 L704.6 892.8 L704.8 894.5 L704.9 896.3 L705.1 898.0 L705.3 899.8 L705.4 901.6 L705.6 903.3 L705.8 905.1 L705.9 906.8 L706.1 908.6 L706.3 910.3 L706.4 912.1 L706.6 913.8 L706.8 915.5 L706.9 917.2 L707.1 919.0 L707.3 920.7 L707.5 922.4 L707.6 924.1 L707.8 925.9 L708.0 927.6 L708.2 929.3 L708.3 931.0 L708.5 932.7 L708.7 934.5 L708.9 936.2 L709.0 937.9 L709.2 939.6 L709.4 941.3 L709.6 943.1 L709.7 944.8 L709.9 946.5 L710.1 948.2 L710.3 950.0 L710.4 951.7 L710.6 953.4 L710.8 955.1 L710.9 956.8 L711.1 958.6 L711.3 960.3 L711.5 962.0 L711.6 963.7 L711.8 965.5 L712.0 967.2 L712.2 968.9 L712.3 970.6 L712.5 972.3 L712.7 974.1 L712.9 975.8 L713.0 977.5 L713.2 979.2 L713.4 980.9 L713.6 982.7 L713.7 984.4 L713.9 986.1 L714.1 987.8 L714.3 989.6 L714.4 991.3 L714.6 993.0 L714.8 994.7 L714.9 996.4 L715.1 998.2 L715.3 999.9 L715.4 1001.6 L715.6 1003.3 L715.8 1005.1 L715.9 1006.8 L716.1 1008.5 L716.2 1010.2 L716.4 1011.9 L716.6 1013.7 L716.7 1015.4 L716.9 1017.1 L717.1 1018.8 L717.2 1020.6 L717.4 1022.3 L717.6 1024.0 L717.8 1025.7 L717.9 1027.4 L718.1 1029.2 L718.3 1030.9 L718.5 1032.6 L718.7 1034.3 L718.9 1036.1 L719.1 1037.8 L719.3 1039.6 L719.5 1041.3 L719.7 1043.1 L719.9 1044.8 L720.1 1046.6 L720.3 1048.4 L720.6 1050.1 L720.8 1051.9 L721.0 1053.6 L721.2 1055.4 L721.4 1057.1 L721.7 1058.9 L721.9 1060.6 L722.1 1062.3 L722.3 1064.0 L722.6 1065.7 L722.8 1067.3 L723.0 1069.0 L723.3 1070.6 L723.5 1072.2 L723.8 1074.1 L724.0 1075.9 L724.3 1077.8 L724.6 1079.6 L724.9 1081.4 L725.1 1083.2 L725.4 1085.0 L725.7 1086.7 L726.0 1088.5 L726.2 1090.2 L726.5 1092.0 L726.8 1093.7 L727.1 1095.4 L727.4 1097.0 L727.8 1098.7 L728.1 1100.4 L728.4 1102.0 L728.8 1103.7 L729.1 1105.4 L729.5 1107.1 L729.9 1108.8 L730.3 1110.4 L730.8 1112.0 L731.2 1113.6 L731.6 1115.2 L732.0 1116.8 L732.4 1118.4 L732.8 1120.1 L733.2 1121.7 L733.6 1123.3 L734.0 1125.0 L734.4 1126.6 L734.7 1128.3 L735.0 1130.0 L735.3 1131.7 L735.7 1133.4 L736.0 1135.1 L736.3 1136.8 L736.6 1138.5 L736.9 1140.2 L737.2 1141.8 L737.6 1143.5 L737.9 1145.2 L738.3 1146.8 L738.6 1148.4 L739.0 1150.0 L739.4 1151.8 L739.9 1153.5 L740.4 1155.2 L740.8 1156.9 L741.3 1158.6 L741.8 1160.3 L742.3 1161.9 L742.8 1163.6 L743.3 1165.2 L743.9 1166.8 L744.4 1168.4 L745.0 1170.0 L745.6 1171.7 L746.2 1173.3 L746.8 1175.0 L747.5 1176.6 L748.1 1178.3 L748.8 1179.9 L749.4 1181.5 L750.2 1183.1 L750.9 1184.6 L751.7 1186.1 L752.5 1187.5 L753.5 1189.1 L754.5 1190.6 L755.5 1192.1 L756.6 1193.5 L757.7 1195.0 L758.8 1196.3 L760.0 1197.6 L761.2 1198.8 L762.5 1200.0 L763.8 1201.0 L765.0 1202.0 L766.4 1203.0 L767.7 1203.9 L769.1 1204.7 L770.6 1205.5 L772.0 1206.2 L773.5 1206.9 L775.0 1207.5 L776.6 1208.1 L778.1 1208.6 L779.8 1209.0 L781.4 1209.4 L783.1 1209.8 L784.7 1210.1 L786.5 1210.4 L788.2 1210.7 L790.0 1211.0 L791.6 1211.3 L793.2 1211.5 L794.8 1211.8 L796.5 1212.0 L798.2 1212.3 L799.9 1212.5 L801.7 1212.7 L803.4 1212.9 L805.1 1213.1 L806.8 1213.2 L808.4 1213.4 L810.0 1213.5 L811.9 1213.6 L813.7 1213.7 L815.5 1213.8 L817.2 1213.8 L819.0 1213.9 L820.7 1213.9 L822.5 1213.9 L824.2 1214.0 L826.0 1214.0"/>
<path stroke="#ea62e8" d="M200.0 1226.5 L201.0 1226.5 L202.0 1226.5 L203.0 1226.5 L204.0 1226.5 L205.0 1226.4 L205.9 1226.4 L206.9 1226.4 L207.9 1226.4 L208.9 1226.4 L209.9 1226.4 L210.9 1226.4 L211.9 1226.4 L212.9 1226.4 L213.9 1226.3 L214.9 1226.3 L215.8 1226.3 L216.8 1226.3 L217.8 1226.3 L218.8 1226.3 L219.8 1226.3 L220.8 1226.3 L221.8 1226.2 L222.8 1226.2 L223.8 1226.2 L224.7 1226.2 L225.7 1226.2 L226.7 1226.2 L227.7 1226.2 L228.7 1226.2 L229.7 1226.1 L230.7 1226.1 L231.7 1226.1 L232.7 1226.1 L233.7 1226.1 L234.7 1226.1 L235.6 1226.1 L236.6 1226.0 L237.6 1226.0 L238.6 1226.0 L239.6 1226.0 L240.6 1226.0 L241.6 1226.0 L242.6 1226.0 L243.6 1226.0 L244.6 1226.0 L245.6 1225.9 L246.5 1225.9 L247.5 1225.9 L248.5 1225.9 L249.5 1225.9 L250.5 1225.9 L251.5 1225.9 L252.5 1225.8 L253.5 1225.8 L254.5 1225.8 L255.5 1225.8 L256.4 1225.8 L257.4 1225.8 L258.4 1225.8 L259.4 1225.8 L260.4 1225.7 L261.4 1225.7 L262.4 1225.7 L263.4 1225.7 L264.4 1225.7 L265.4 1225.7 L266.3 1225.7 L267.3 1225.7 L268.3 1225.7 L269.3 1225.7 L270.3 1225.7 L271.3 1225.7 L272.3 1225.6 L273.2 1225.6 L274.3 1225.6 L275.3 1225.6 L276.2 1225.6 L277.2 1225.6 L278.2 1225.6 L279.2 1225.5 L280.2 1225.5 L281.2 1225.5 L282.2 1225.5 L283.2 1225.6 L284.1 1225.5 L285.1 1225.5 L286.1 1225.5 L287.1 1225.5 L288.1 1225.6 L289.1 1225.6 L290.1 1225.5 L291.1 1225.5 L292.1 1225.5 L293.1 1225.6 L294.0 1225.5 L295.1 1225.5 L296.1 1225.5 L297.0 1225.6 L298.0 1225.6 L299.0 1225.5 L300.0 1225.5 L301.0 1225.5 L302.0 1225.4 L303.0 1225.5 L304.0 1225.5 L304.9 1225.4 L305.9 1225.4 L306.9 1225.5 L307.9 1225.5 L308.9 1225.5 L309.9 1225.5 L310.9 1225.4 L312.0 1225.5 L313.0 1225.5 L313.9 1225.5 L314.9 1225.5 L315.9 1225.5 L316.9 1225.6 L317.9 1225.6 L318.9 1225.6 L319.9 1225.6 L320.9 1225.6 L321.9 1225.6 L322.9 1225.6 L323.9 1225.6 L325.0 1225.7 L326.0 1225.6 L327.0 1225.7 L328.0 1225.7 L328.9 1225.8 L330.0 1225.8 L331.0 1225.8 L332.0 1225.8 L332.9 1225.8 L333.9 1225.8 L335.0 1225.8 L336.0 1225.8 L337.0 1225.8 L338.0 1225.9 L339.0 1225.8 L340.0 1225.8 L341.0 1225.8 L342.0 1225.9 L343.0 1225.9 L344.0 1225.8 L345.0 1225.8 L346.0 1225.9 L347.0 1225.9 L348.0 1225.9 L349.0 1226.0 L350.0 1226.0 L351.0 1226.0 L352.0 1226.0 L353.0 1226.0 L354.0 1226.0 L355.0 1226.0 L356.0 1226.0 L357.0 1226.0 L358.0 1226.1 L359.0 1226.1 L360.0 1226.1 L361.0 1226.1 L362.0 1226.1 L363.0 1226.1 L364.0 1226.2 L365.0 1226.2 L365.9 1226.2 L366.9 1226.2 L367.9 1226.2 L368.9 1226.2 L369.9 1226.2 L370.9 1226.3 L371.9 1226.3 L372.9 1226.3 L373.8 1226.3 L374.8 1226.3 L375.8 1226.3 L376.8 1226.3 L377.8 1226.3 L378.8 1226.4 L379.7 1226.4 L380.7 1226.4 L381.7 1226.4 L382.7 1226.4 L383.6 1226.4 L384.6 1226.4 L385.6 1226.4 L386.6 1226.4 L387.5 1226.4 L388.5 1226.4 L389.5 1226.4 L390.4 1226.5 L391.4 1226.5 L392.4 1226.5 L393.3 1226.5 L394.3 1226.5 L395.2 1226.5 L396.2 1226.5 L397.1 1226.5 L398.1 1226.5 L399.0 1226.5 L400.0 1226.5 L401.0 1226.5 L402.1 1226.5 L403.1 1226.5 L404.2 1226.5 L405.2 1226.5 L406.3 1226.5 L407.3 1226.5 L408.4 1226.5 L409.4 1226.5 L410.5 1226.5 L411.6 1226.5 L412.6 1226.5 L413.7 1226.5 L414.8 1226.5 L415.9 1226.5 L417.0 1226.5 L418.0 1226.5 L419.1 1226.5 L420.2 1226.5 L421.3 1226.5 L422.4 1226.5 L423.5 1226.5 L424.6 1226.5 L425.6 1226.5 L426.7 1226.5 L427.8 1226.5 L428.9 1226.5 L430.0 1226.5 L431.1 1226.5 L432.2 1226.5 L433.2 1226.5 L434.3 1226.5 L435.4 1226.5 L436.5 1226.5 L437.6 1226.5 L438.6 1226.5 L439.7 1226.5 L440.8 1226.5 L441.9 1226.5 L442.9 1226.5 L444.0 1226.5 L445.0 1226.5 L446.1 1226.5 L447.1 1226.5 L448.2 1226.5 L449.2 1226.5 L450.3 1226.5 L451.3 1226.5 L452.3 1226.5 L453.3 1226.5 L454.4 1226.5 L455.4 1226.5 L456.4 1226.5 L457.4 1226.5 L458.4 1226.5 L459.4 1226.4 L460.3 1226.4 L461.3 1226.4 L462.3 1226.4 L463.2 1226.4 L464.2 1226.4 L465.1 1226.4 L466.1 1226.4 L467.0 1226.4 L467.9 1226.4 L468.8 1226.3 L469.7 1226.3 L470.6 1226.3 L471.5 1226.3 L472.4 1226.3 L473.3 1226.3 L474.1 1226.3 L475.0 1226.2 L475.8 1226.2 L476.6 1226.2 L477.5 1226.2 L478.3 1226.2 L479.0 1226.2 L479.8 1226.2 L480.6 1226.2 L481.4 1226.1 L482.1 1226.1 L482.8 1226.1 L483.6 1226.0 L484.3 1226.0 L485.0 1226.0 L486.2 1225.9 L487.4 1225.9 L488.6 1225.9 L489.7 1225.9 L490.8 1225.8 L491.8 1225.7 L492.9 1225.7 L493.9 1225.7 L494.9 1225.6 L495.8 1225.5 L496.8 1225.4 L497.7 1225.4 L498.6 1225.5 L499.5 1225.5 L500.4 1225.5 L501.2 1225.4 L502.1 1225.3 L503.0 1225.1 L503.9 1225.0 L504.7 1224.9 L505.6 1224.8 L506.4 1224.8 L507.3 1224.9 L508.2 1224.8 L509.0 1224.7 L509.9 1224.5 L510.9 1224.2 L511.9 1224.2 L512.9 1224.2 L514.1 1224.3 L515.1 1224.2 L516.1 1223.9 L517.2 1223.7 L518.3 1223.6 L519.3 1223.4 L520.3 1223.2 L521.1 1223.2 L522.1 1223.2 L523.1 1223.0 L524.1 1222.7 L524.9 1222.4 L525.7 1222.3 L526.6 1222.3 L527.6 1222.0 L528.4 1221.7 L529.1 1221.5 L530.0 1221.2 L531.1 1220.6 L532.0 1220.5 L533.0 1220.9 L533.8 1220.6 L534.4 1220.4 L535.3 1220.3 L536.4 1219.6 L537.3 1219.0 L537.9 1218.7 L538.3 1218.5 L539.1 1217.9 L540.3 1217.0 L541.3 1216.3 L541.8 1216.0 L542.0 1215.1 L542.4 1213.5 L543.1 1212.9 L543.8 1212.5 L544.4 1211.3 L545.3 1210.4 L546.1 1210.1 L546.2 1209.3 L546.3 1208.3 L547.1 1207.2 L547.8 1206.1 L548.1 1205.3 L548.6 1204.3 L549.3 1203.7 L549.9 1203.5 L550.4 1203.0 L550.6 1202.2 L550.9 1201.8 L551.4 1201.5 L551.9 1199.9 L552.4 1197.9 L552.9 1196.8 L553.2 1196.2 L553.4 1195.4 L554.1 1194.3 L554.7 1193.8 L555.1 1193.8 L555.6 1192.6 L556.2 1191.2 L556.6 1190.2 L556.7 1189.8 L557.0 1189.5 L557.6 1188.8 L557.8 1186.9 L558.1 1184.9 L558.6 1184.9 L559.2 1185.5 L559.5 1184.8 L559.9 1182.7 L560.4 1181.0 L561.3 1180.6 L562.0 1179.4 L562.3 1177.9 L562.2 1177.7 L562.3 1178.0 L562.8 1177.5 L563.2 1175.9 L563.7 1174.9 L564.1 1174.4 L564.6 1172.7 L565.1 1171.1 L565.7 1170.5 L566.3 1170.4 L566.4 1169.8 L566.4 1168.7 L566.8 1167.4 L567.0 1166.3 L567.3 1164.9 L567.5 1163.7 L568.0 1163.7 L568.6 1163.1 L568.7 1161.7 L568.7 1160.7 L569.0 1160.4 L569.5 1160.0 L569.9 1158.7 L569.7 1157.2 L569.8 1155.7 L570.2 1154.4 L570.3 1153.9 L570.7 1153.4 L571.3 1152.6 L571.3 1151.8 L571.3 1151.2 L571.3 1150.1 L571.5 1149.0 L571.8 1148.2 L572.3 1147.2 L572.8 1146.2 L572.8 1145.0 L572.6 1143.9 L572.7 1143.3 L572.9 1142.4 L572.8 1141.7 L573.0 1141.2 L573.2 1140.3 L573.2 1138.8 L573.5 1137.6 L573.7 1137.2 L573.6 1136.2 L573.8 1135.0 L574.1 1134.2 L574.3 1133.6 L574.5 1132.6 L574.9 1130.8 L575.0 1129.0 L575.0 1128.2 L575.1 1128.2 L575.1 1127.8 L575.4 1126.4 L575.8 1125.1 L576.0 1124.3 L576.0 1123.0 L576.2 1121.8 L576.2 1120.5 L576.3 1119.3 L576.3 1119.1 L576.4 1118.3 L576.5 1116.6 L576.5 1115.3 L576.6 1115.1 L576.8 1114.6 L577.1 1112.8 L577.5 1111.4 L577.3 1110.6 L577.1 1108.8 L577.1 1107.5 L577.1 1107.2 L576.9 1106.7 L577.1 1105.8 L577.5 1105.0 L577.5 1104.3 L577.3 1103.2 L577.5 1101.9 L577.9 1101.2 L577.8 1100.9 L577.8 1100.3 L577.9 1099.3 L577.9 1097.2 L578.3 1094.7 L578.4 1094.0 L577.9 1094.0 L578.1 1092.9 L578.5 1091.9 L578.4 1091.6 L578.3 1090.5 L578.2 1088.9 L578.3 1088.0 L578.6 1086.9 L578.8 1086.0 L578.6 1085.4 L578.5 1084.1 L578.7 1082.6 L579.0 1081.9 L579.1 1081.2 L579.1 1080.5 L579.1 1079.9 L578.7 1079.0 L578.6 1078.7 L579.4 1077.5 L579.7 1075.7 L579.3 1075.0 L579.3 1074.5 L579.8 1072.8 L580.1 1071.3 L580.3 1071.2 L580.3 1070.6 L580.2 1068.8 L580.2 1067.8 L580.2 1067.0 L580.3 1065.8 L580.6 1064.6 L580.7 1063.9 L580.7 1063.5 L580.6 1062.2 L580.6 1060.9 L580.5 1060.0 L580.3 1058.7 L580.0 1057.8 L580.3 1057.3 L580.9 1056.5 L580.9 1055.5 L580.8 1054.3 L580.9 1053.2 L581.4 1052.3 L581.5 1051.6 L581.4 1050.7 L581.4 1049.2 L581.7 1048.2 L581.8 1047.2 L581.5 1045.7 L581.2 1044.5 L581.5 1043.4 L582.0 1041.7 L582.0 1040.8 L581.8 1040.4 L581.9 1039.5 L582.0 1039.1 L581.9 1038.1 L581.6 1036.9 L581.7 1036.1 L582.1 1035.1 L582.2 1033.8 L582.5 1032.7 L582.7 1032.1 L582.5 1031.8 L582.3 1031.2 L582.2 1030.1 L582.2 1028.6 L582.2 1026.7 L581.9 1025.4 L582.0 1025.3 L582.6 1024.7 L582.9 1023.5 L582.9 1022.9 L582.9 1022.2 L582.9 1021.0 L583.1 1020.0 L583.0 1018.4 L582.8 1016.5 L583.0 1015.6 L582.9 1015.2 L583.3 1014.4 L583.7 1013.0 L583.6 1011.8 L583.5 1010.8 L583.4 1010.2 L583.4 1009.7 L583.4 1009.1 L583.4 1008.1 L583.2 1006.7 L583.2 1005.5 L583.3 1004.4 L583.2 1003.7 L583.3 1002.4 L583.7 1000.2 L583.6 999.4 L583.4 999.6 L583.5 998.6 L583.8 997.1 L583.9 996.5 L584.0 995.9 L584.3 994.0 L584.5 992.4 L584.1 991.6 L583.7 991.1 L584.1 990.5 L584.4 989.9 L584.3 989.5 L584.3 988.1 L584.6 986.3 L584.7 985.1 L584.5 984.2 L584.4 984.1 L584.7 983.7 L585.0 982.4 L585.2 981.0 L584.9 979.7 L584.7 979.4 L584.9 978.8 L585.0 977.0 L585.1 976.4 L585.1 975.3 L585.2 972.8 L585.4 971.4 L585.4 971.2 L585.3 970.9 L585.4 969.8 L585.5 968.8 L585.6 968.1 L585.8 967.0 L585.6 965.8 L585.4 964.9 L585.9 964.0 L586.4 963.0 L586.4 962.3 L586.4 960.7 L586.4 959.3 L586.1 958.9 L586.1 957.5 L586.6 955.8 L586.9 954.9 L586.9 953.8 L586.9 953.1 L586.8 952.6 L586.8 951.5 L586.9 950.5 L587.0 950.1 L586.9 949.6 L586.8 947.9 L586.9 945.9 L587.1 944.7 L586.9 944.1 L586.7 943.7 L586.8 943.2 L587.1 942.5 L587.7 941.4 L587.9 940.3 L587.7 939.2 L587.4 938.1 L587.3 937.3 L587.5 936.7 L587.6 935.4 L587.6 933.4 L587.9 931.7 L588.1 931.2 L588.0 930.3 L587.6 928.7 L587.4 928.2 L587.7 928.0 L588.0 926.5 L588.4 925.7 L588.8 926.0 L588.9 925.1 L588.7 923.6 L588.8 923.0 L588.9 921.8 L588.7 920.6 L588.6 920.0 L588.7 918.3 L588.6 916.5 L588.4 915.6 L588.4 914.7 L588.5 913.6 L588.7 913.3 L588.9 913.0 L589.0 911.7 L589.3 910.7 L589.2 909.9 L588.9 908.7 L589.1 907.7 L589.2 906.7 L589.4 905.6 L589.4 904.7 L589.3 903.7 L589.3 902.5 L589.3 901.2 L589.4 900.4 L589.5 899.8 L589.5 898.6 L589.5 897.0 L589.4 896.0 L589.5 895.4 L589.5 894.8 L589.8 894.1 L590.0 892.9 L590.0 891.7 L590.2 890.5 L590.6 888.6 L590.3 887.2 L590.0 886.9 L590.2 886.0 L590.4 884.8 L590.5 884.4 L590.4 883.7 L590.4 882.6 L590.4 881.7 L590.6 880.5 L590.8 878.8 L590.6 877.9 L590.6 877.8 L590.7 877.3 L590.6 876.7 L590.7 875.9 L590.9 874.3 L590.9 872.8 L591.1 871.6 L591.1 870.4 L591.1 869.1 L591.4 868.4 L591.6 867.7 L591.5 865.9 L591.6 865.1 L591.9 864.6 L592.0 863.2 L591.8 861.7 L591.6 860.7 L591.6 859.6 L591.9 858.5 L592.3 857.7 L592.5 856.8 L592.6 855.9 L592.7 855.1 L592.5 853.9 L592.4 853.0 L592.8 852.2 L592.9 851.4 L592.6 850.6 L592.8 849.3 L593.2 847.9 L593.4 846.7 L593.9 846.1 L593.9 845.9 L593.6 845.6 L593.4 844.7 L593.6 843.3 L593.7 841.9 L593.8 840.2 L593.9 839.0 L594.0 838.8 L594.4 837.9 L594.8 836.3 L594.9 835.4 L594.5 835.1 L594.4 833.7 L595.0 832.8 L595.4 833.0 L595.2 831.8 L595.3 830.2 L595.5 829.2 L595.6 828.4 L595.7 827.4 L595.7 825.5 L595.8 824.2 L596.0 823.8 L596.1 823.5 L596.6 822.8 L596.8 821.2 L596.9 820.3 L597.3 820.3 L597.5 820.0 L597.8 819.4 L598.1 819.0 L598.2 818.0 L598.4 816.2 L598.7 815.0 L599.2 814.1 L600.0 812.8 L600.9 811.6 L601.3 810.7 L601.4 809.8 L602.0 809.3 L602.6 809.0 L603.1 809.2 L603.9 809.8 L604.5 810.8 L604.9 812.8 L605.6 814.1 L606.2 814.2 L606.8 814.0 L607.5 814.5 L608.2 815.6 L608.6 816.2 L609.3 816.4 L610.2 816.9 L611.1 817.7 L611.5 818.1 L611.9 818.5 L612.6 818.9 L613.0 820.0 L613.4 821.3 L613.7 821.9 L613.6 822.7 L613.8 824.0 L614.0 825.0 L614.4 825.5 L615.2 825.6 L615.2 827.1 L614.9 828.3 L615.2 828.3 L615.6 829.5 L616.0 831.2 L616.1 831.9 L616.1 833.0 L616.4 834.6 L616.7 835.7 L616.8 836.6 L617.0 837.5 L617.3 839.1 L617.5 840.7 L617.5 840.7 L617.7 840.8 L618.0 842.3 L618.2 843.4 L618.4 844.3 L618.4 845.3 L618.5 846.2 L618.9 847.5 L619.2 848.7 L619.4 849.8 L619.7 850.2 L619.8 850.4 L619.8 851.9 L620.1 853.5 L620.3 854.8 L620.5 855.6 L620.9 856.1 L621.3 857.4 L621.8 858.7 L622.0 859.1 L621.9 859.5 L621.8 860.8 L622.1 862.7 L622.6 863.8 L623.0 863.8 L623.0 864.8 L622.9 866.3 L623.2 867.0 L623.5 867.9 L623.6 868.5 L623.4 869.3 L623.4 870.8 L624.0 872.5 L624.7 874.4 L624.7 875.5 L624.5 875.7 L624.8 876.7 L625.3 877.6 L626.0 877.7 L626.2 878.7 L626.1 880.3 L626.5 881.0 L626.8 881.5 L627.1 882.5 L627.3 883.3 L627.4 884.3 L627.8 885.9 L628.1 887.0 L628.6 887.0 L628.8 887.3 L628.6 888.3 L628.9 889.0 L629.9 890.4 L630.2 892.8 L630.2 894.2 L630.6 894.0 L630.9 894.2 L630.9 894.9 L631.2 895.1 L631.7 896.6 L632.2 898.9 L632.2 899.4 L632.3 899.0 L633.2 899.9 L633.4 901.8 L633.2 902.7 L633.4 903.4 L633.8 904.4 L634.3 904.8 L634.7 905.4 L635.0 907.1 L635.0 907.9 L635.4 908.2 L636.0 909.2 L636.5 910.6 L636.9 911.8 L637.0 913.0 L637.2 914.1 L637.5 915.2 L637.8 915.6 L638.4 915.7 L638.6 916.1 L638.6 917.6 L639.1 920.3 L639.6 921.8 L639.9 921.1 L640.5 921.4 L640.9 923.1 L641.1 924.1 L641.8 924.6 L642.3 925.2 L642.5 925.7 L642.8 927.1 L643.5 929.2 L643.8 930.3 L643.8 930.4 L644.1 931.0 L644.6 932.4 L644.9 933.6 L645.4 934.1 L646.2 934.4 L646.8 935.7 L647.4 936.7 L648.0 936.7 L648.2 937.3 L648.7 938.9 L649.2 940.3 L649.6 941.2 L650.2 941.5 L650.9 941.8 L651.5 942.4 L651.9 943.1 L652.2 943.9 L652.5 945.0 L652.9 946.4 L653.4 947.5 L654.1 947.9 L654.9 948.6 L655.4 950.0 L655.8 951.5 L656.5 952.2 L656.9 952.8 L656.9 953.9 L656.9 954.7 L657.1 955.6 L657.7 957.3 L658.1 958.6 L658.4 959.7 L658.7 960.5 L659.2 961.0 L659.8 961.2 L660.0 961.8 L660.3 963.2 L660.8 964.4 L661.1 965.3 L661.8 965.8 L662.4 966.1 L662.4 967.1 L662.5 968.9 L662.8 970.0 L663.4 970.4 L664.2 971.4 L664.6 972.3 L664.7 972.3 L665.3 972.7 L666.3 973.8 L666.9 975.3 L667.0 976.0 L667.3 975.8 L667.9 976.2 L668.9 977.6 L669.8 978.9 L670.6 979.2 L670.8 979.8 L671.0 980.5 L671.7 980.8 L672.4 981.8 L672.9 982.8 L673.7 983.0 L674.4 983.6 L674.8 984.8 L675.4 985.6 L676.5 986.3 L677.2 987.2 L677.5 987.8 L678.2 988.0 L679.0 988.9 L679.3 990.4 L679.6 991.9 L680.2 992.4 L681.0 992.6 L681.8 993.7 L682.3 994.6 L682.8 995.1 L683.2 996.0 L683.9 997.3 L684.8 998.0 L685.7 998.0 L686.2 998.6 L686.8 999.4 L687.8 1000.3 L688.4 1001.6 L688.7 1002.0 L689.3 1001.9 L690.1 1002.6 L690.7 1003.5 L691.2 1004.1 L692.0 1005.4 L692.8 1006.3 L693.4 1006.9 L693.9 1008.1 L694.7 1009.2 L695.2 1009.2 L695.7 1009.8 L696.6 1010.9 L697.1 1011.0 L697.6 1011.0 L698.3 1011.9 L698.6 1013.5 L699.0 1014.6 L699.9 1015.3 L700.7 1015.9 L701.2 1016.2 L701.7 1016.6 L702.4 1017.5 L702.9 1018.8 L703.7 1020.1 L704.4 1021.1 L704.1 1021.1 L704.0 1021.4 L704.6 1022.6 L705.3 1023.9 L706.0 1024.6 L706.5 1026.0 L706.7 1027.3 L707.2 1027.8 L707.9 1028.0 L708.3 1028.1 L708.6 1028.8 L709.6 1029.9 L710.2 1031.4 L710.6 1032.4 L711.0 1033.3 L711.4 1034.7 L712.0 1035.4 L712.9 1035.7 L713.4 1036.1 L713.7 1036.8 L713.8 1038.7 L714.3 1040.3 L715.1 1040.6 L715.5 1041.1 L715.5 1042.1 L715.5 1043.3 L715.9 1044.2 L716.6 1044.2 L717.6 1044.4 L718.0 1046.0 L718.2 1047.6 L718.9 1048.4 L720.0 1049.1 L720.1 1049.3 L719.9 1049.7 L720.3 1051.3 L720.5 1052.5 L721.0 1052.9 L722.1 1053.9 L723.3 1054.9 L723.6 1055.7 L723.6 1056.6 L723.9 1056.9 L724.6 1057.0 L725.1 1058.3 L725.1 1059.4 L725.7 1060.4 L726.8 1061.5 L727.6 1062.5 L728.1 1063.8 L728.6 1064.9 L729.0 1065.0 L729.4 1065.0 L730.0 1066.2 L730.9 1067.8 L731.3 1068.3 L731.5 1068.7 L732.0 1069.9 L732.3 1071.2 L732.6 1072.1 L733.6 1072.7 L734.5 1073.0 L734.7 1073.8 L734.9 1074.8 L735.6 1075.2 L736.2 1075.6 L736.2 1076.5 L736.5 1078.0 L737.6 1080.0 L738.4 1081.6 L738.5 1082.3 L738.5 1082.4 L739.1 1082.7 L740.2 1083.7 L740.8 1084.5 L741.1 1085.0 L741.5 1085.4 L741.9 1086.2 L742.2 1088.0 L742.6 1089.3 L743.0 1090.1 L743.6 1091.8 L744.2 1092.4 L744.8 1091.7 L745.2 1091.9 L745.5 1092.8 L746.0 1093.8 L746.2 1094.8 L746.7 1096.1 L747.5 1097.6 L747.6 1098.5 L747.5 1099.0 L748.3 1099.6 L749.1 1100.5 L749.1 1101.5 L748.8 1102.5 L749.1 1103.3 L749.8 1103.9 L750.3 1104.5 L750.8 1106.2 L751.1 1107.7 L751.6 1107.6 L751.8 1108.0 L751.7 1109.4 L752.0 1109.4 L752.7 1109.3 L753.4 1111.1 L754.0 1113.0 L754.4 1114.2 L754.6 1115.3 L754.4 1116.0 L754.5 1115.9 L755.5 1115.8 L756.4 1116.9 L756.7 1118.7 L757.0 1119.7 L757.9 1120.0 L758.7 1120.9 L758.7 1121.8 L758.8 1121.8 L759.5 1122.5 L760.4 1124.4 L760.7 1125.8 L761.1 1125.9 L761.7 1126.2 L761.9 1127.4 L762.1 1128.7 L762.7 1130.1 L763.3 1131.2 L763.7 1132.1 L764.0 1133.0 L764.2 1133.8 L764.5 1135.2 L765.0 1136.4 L765.5 1137.2 L765.9 1137.9 L766.3 1138.4 L766.6 1139.4 L767.1 1140.1 L767.6 1140.4 L768.1 1141.3 L768.6 1142.1 L769.0 1143.0 L769.2 1144.4 L769.6 1145.5 L770.4 1146.0 L771.0 1146.3 L771.3 1146.8 L771.9 1148.3 L772.6 1149.9 L773.0 1150.8 L773.8 1151.0 L774.7 1151.1 L775.4 1151.6 L775.8 1152.4 L775.9 1152.8 L776.2 1153.9 L777.1 1155.3 L777.9 1156.3 L778.3 1157.2 L778.7 1157.5 L779.0 1158.0 L779.5 1158.8 L780.4 1159.5 L780.8 1160.3 L781.1 1161.3 L781.7 1162.2 L782.4 1163.0 L782.9 1164.5 L783.5 1165.5 L784.1 1165.8 L784.7 1166.6 L784.9 1167.4 L785.1 1168.4 L785.8 1169.2 L786.3 1168.7 L786.7 1168.9 L787.2 1169.9 L787.8 1171.2 L788.7 1173.4 L789.4 1175.4 L789.7 1175.8 L790.2 1176.3 L790.8 1176.8 L791.1 1176.8 L791.4 1177.9 L792.1 1179.2 L792.8 1179.5 L793.4 1180.0 L793.9 1180.4 L794.5 1180.5 L795.0 1181.4 L795.6 1183.0 L796.2 1183.8 L796.7 1184.1 L797.1 1184.8 L797.6 1185.9 L798.0 1186.9 L798.5 1188.0 L799.2 1188.7 L799.9 1189.0 L800.2 1189.0 L800.8 1190.0 L801.1 1191.1 L801.4 1191.7 L802.2 1192.8 L803.0 1193.5 L803.0 1194.4 L803.3 1195.6 L804.0 1196.1 L804.9 1196.5 L805.7 1197.5 L806.1 1199.5 L806.3 1200.6 L806.8 1200.1 L807.4 1200.7 L807.8 1202.2 L808.2 1203.1 L808.8 1203.0 L809.5 1203.3 L810.1 1204.8 L810.5 1205.6 L811.0 1206.0 L811.5 1206.5 L812.2 1207.2 L813.0 1208.7 L813.5 1210.3 L814.1 1211.1 L814.6 1211.4 L815.5 1212.1 L816.2 1212.8 L816.1 1213.5 L816.6 1214.5 L817.7 1215.2 L818.2 1215.6 L818.5 1216.4 L819.0 1217.5 L819.4 1218.1 L820.2 1219.0 L820.8 1220.1 L821.1 1220.7 L821.6 1221.4 L822.3 1222.1 L822.7 1222.5 L823.3 1223.2 L823.9 1224.1 L824.6 1224.7 L825.3 1225.3 L826.0 1226.0"/>
<path stroke="#8cbe4e" d="M200.0 1227.0 L201.0 1227.0 L202.0 1227.0 L203.0 1227.0 L204.0 1227.0 L205.0 1227.0 L206.0 1227.0 L207.0 1227.0 L208.0 1227.0 L209.0 1227.0 L210.0 1227.0 L211.0 1227.0 L212.0 1227.0 L213.0 1227.0 L214.0 1227.0 L215.1 1227.0 L216.1 1227.0 L217.1 1227.0 L218.1 1227.0 L219.1 1227.0 L220.1 1227.0 L221.1 1226.9 L222.2 1226.9 L223.2 1226.9 L224.2 1226.9 L225.2 1226.9 L226.2 1226.9 L227.3 1226.9 L228.3 1226.9 L229.3 1226.9 L230.3 1226.9 L231.4 1226.9 L232.4 1226.9 L233.4 1226.9 L234.4 1226.9 L235.5 1226.9 L236.5 1226.9 L237.5 1226.9 L238.5 1226.9 L239.6 1226.9 L240.6 1226.9 L241.6 1226.9 L242.7 1226.9 L243.7 1226.9 L244.7 1226.9 L245.8 1226.9 L246.8 1226.9 L247.8 1226.9 L248.9 1226.9 L249.9 1226.9 L250.9 1226.9 L252.0 1226.9 L253.0 1226.9 L254.0 1226.9 L255.1 1226.9 L256.1 1226.9 L257.1 1226.9 L258.2 1226.9 L259.2 1226.9 L260.3 1226.9 L261.3 1226.9 L262.3 1226.9 L263.4 1226.9 L264.4 1226.8 L265.4 1226.8 L266.5 1226.8 L267.5 1226.8 L268.5 1226.8 L269.6 1226.8 L270.6 1226.8 L271.7 1226.8 L272.7 1226.8 L273.7 1226.8 L274.8 1226.8 L275.8 1226.8 L276.8 1226.8 L277.9 1226.8 L278.9 1226.8 L280.0 1226.8 L281.0 1226.8 L282.0 1226.8 L283.1 1226.8 L284.1 1226.8 L285.1 1226.8 L286.2 1226.8 L287.2 1226.8 L288.2 1226.8 L289.3 1226.8 L290.3 1226.8 L291.3 1226.8 L292.4 1226.8 L293.4 1226.8 L294.4 1226.8 L295.5 1226.8 L296.5 1226.8 L297.5 1226.8 L298.5 1226.8 L299.6 1226.8 L300.6 1226.8 L301.6 1226.8 L302.7 1226.8 L303.7 1226.8 L304.7 1226.8 L305.7 1226.8 L306.8 1226.8 L307.8 1226.7 L308.8 1226.7 L309.8 1226.7 L310.9 1226.7 L311.9 1226.7 L312.9 1226.7 L313.9 1226.7 L314.9 1226.7 L316.0 1226.7 L317.0 1226.7 L318.0 1226.7 L319.0 1226.7 L320.0 1226.7 L321.0 1226.7 L322.0 1226.7 L323.1 1226.7 L324.1 1226.7 L325.1 1226.7 L326.1 1226.7 L327.1 1226.7 L328.1 1226.7 L329.1 1226.7 L330.1 1226.7 L331.1 1226.7 L332.1 1226.7 L333.1 1226.7 L334.1 1226.7 L335.1 1226.7 L336.1 1226.7 L337.1 1226.7 L338.1 1226.7 L339.1 1226.7 L340.1 1226.7 L341.1 1226.7 L342.1 1226.7 L343.0 1226.7 L344.0 1226.7 L345.0 1226.7 L346.0 1226.7 L347.0 1226.7 L348.0 1226.7 L348.9 1226.6 L349.9 1226.6 L350.9 1226.6 L351.9 1226.6 L352.8 1226.6 L353.8 1226.6 L354.8 1226.6 L355.8 1226.6 L356.7 1226.6 L357.7 1226.6 L358.6 1226.6 L359.6 1226.6 L360.6 1226.6 L361.5 1226.6 L362.5 1226.6 L363.4 1226.6 L364.4 1226.6 L365.3 1226.6 L366.3 1226.6 L367.2 1226.6 L368.2 1226.6 L369.1 1226.6 L370.1 1226.6 L371.0 1226.6 L372.0 1226.6 L372.9 1226.6 L373.8 1226.6 L374.8 1226.6 L375.7 1226.6 L376.6 1226.6 L377.5 1226.6 L378.5 1226.6 L379.4 1226.6 L380.3 1226.6 L381.2 1226.6 L382.1 1226.6 L383.1 1226.6 L384.0 1226.6 L384.9 1226.5 L385.8 1226.5 L386.7 1226.5 L387.6 1226.5 L388.5 1226.5 L389.4 1226.5 L390.3 1226.5 L391.2 1226.5 L392.1 1226.5 L393.0 1226.5 L393.9 1226.5 L394.7 1226.5 L395.6 1226.5 L396.5 1226.5 L397.4 1226.5 L398.3 1226.5 L399.1 1226.5 L400.0 1226.5 L401.1 1226.5 L402.2 1226.5 L403.4 1226.5 L404.5 1226.5 L405.6 1226.5 L406.7 1226.5 L407.9 1226.5 L409.0 1226.5 L410.1 1226.5 L411.3 1226.5 L412.4 1226.5 L413.5 1226.5 L414.7 1226.5 L415.8 1226.5 L416.9 1226.5 L418.1 1226.5 L419.2 1226.5 L420.3 1226.5 L421.5 1226.5 L422.6 1226.5 L423.8 1226.5 L424.9 1226.5 L426.0 1226.5 L427.2 1226.5 L428.3 1226.5 L429.4 1226.5 L430.6 1226.5 L431.7 1226.5 L432.9 1226.5 L434.0 1226.5 L435.1 1226.5 L436.3 1226.6 L437.4 1226.6 L438.5 1226.6 L439.6 1226.6 L440.8 1226.6 L441.9 1226.6 L443.0 1226.6 L444.1 1226.6 L445.2 1226.6 L446.4 1226.6 L447.5 1226.6 L448.6 1226.6 L449.7 1226.6 L450.8 1226.6 L451.9 1226.6 L453.0 1226.6 L454.1 1226.6 L455.2 1226.6 L456.3 1226.6 L457.4 1226.7 L458.5 1226.7 L459.6 1226.7 L460.6 1226.7 L461.7 1226.7 L462.8 1226.7 L463.9 1226.7 L464.9 1226.7 L466.0 1226.7 L467.0 1226.7 L468.1 1226.7 L469.2 1226.7 L470.2 1226.7 L471.2 1226.7 L472.3 1226.7 L473.3 1226.7 L474.3 1226.7 L475.4 1226.7 L476.4 1226.7 L477.4 1226.7 L478.4 1226.7 L479.4 1226.7 L480.4 1226.7 L481.4 1226.7 L482.4 1226.7 L483.4 1226.7 L484.3 1226.7 L485.3 1226.7 L486.3 1226.7 L487.2 1226.7 L488.2 1226.7 L489.1 1226.7 L490.0 1226.7 L491.0 1226.7 L491.9 1226.7 L492.8 1226.7 L493.7 1226.6 L494.6 1226.6 L495.5 1226.6 L496.4 1226.6 L497.3 1226.6 L498.2 1226.6 L499.1 1226.6 L499.9 1226.6 L500.8 1226.6 L501.6 1226.6 L502.5 1226.5 L503.3 1226.5 L504.1 1226.5 L504.9 1226.5 L505.7 1226.5 L506.5 1226.5 L507.3 1226.4 L508.1 1226.4 L508.9 1226.4 L509.6 1226.4 L510.4 1226.4 L511.1 1226.3 L511.9 1226.3 L512.6 1226.3 L513.3 1226.3 L514.0 1226.3 L514.7 1226.2 L515.4 1226.2 L516.1 1226.2 L516.8 1226.2 L517.5 1226.1 L518.1 1226.1 L518.7 1226.1 L519.4 1226.1 L520.0 1226.0 L521.3 1225.9 L522.6 1225.9 L523.9 1225.8 L525.1 1225.7 L526.3 1225.6 L527.4 1225.5 L528.5 1225.4 L529.6 1225.3 L530.6 1225.2 L531.6 1225.1 L532.6 1224.9 L533.6 1224.8 L534.5 1224.8 L535.5 1224.7 L536.4 1224.6 L537.3 1224.5 L538.1 1224.3 L538.9 1224.3 L539.7 1224.2 L540.5 1224.1 L541.3 1224.0 L542.1 1224.0 L542.9 1223.7 L543.8 1223.5 L544.5 1223.5 L545.6 1223.4 L546.7 1223.2 L547.7 1223.1 L548.5 1223.2 L549.4 1223.0 L550.4 1222.8 L551.3 1222.8 L552.2 1222.8 L553.0 1222.8 L554.0 1222.6 L554.9 1222.0 L555.7 1221.6 L556.6 1221.4 L557.6 1221.3 L558.4 1221.1 L559.3 1220.9 L560.2 1220.4 L561.2 1219.8 L562.2 1219.7 L563.2 1219.9 L564.2 1219.7 L565.0 1219.0 L565.8 1218.5 L566.7 1218.2 L567.6 1217.7 L568.4 1217.3 L569.5 1217.2 L570.4 1216.9 L571.2 1216.1 L571.9 1215.5 L573.1 1215.8 L574.2 1215.6 L574.7 1214.9 L575.2 1214.9 L576.2 1214.6 L577.1 1213.5 L578.0 1213.0 L578.8 1213.2 L579.6 1213.0 L580.4 1212.4 L581.2 1211.7 L582.0 1211.2 L583.0 1210.9 L583.9 1210.4 L584.6 1209.8 L585.3 1208.9 L586.0 1208.2 L586.7 1208.0 L587.6 1207.8 L588.4 1206.7 L589.2 1206.0 L589.9 1205.9 L590.4 1205.7 L591.2 1205.4 L592.1 1204.7 L592.7 1203.5 L593.0 1202.1 L593.5 1200.7 L594.2 1199.9 L594.7 1199.4 L595.1 1198.4 L595.5 1197.3 L596.0 1196.4 L596.7 1195.9 L597.0 1195.4 L597.0 1194.4 L597.1 1193.0 L597.4 1192.2 L597.8 1191.4 L598.2 1190.4 L598.4 1189.3 L598.5 1188.3 L598.8 1188.0 L599.2 1187.4 L599.5 1186.3 L599.9 1185.3 L600.0 1184.6 L600.3 1183.8 L600.5 1182.2 L600.4 1180.5 L600.7 1179.7 L601.2 1179.4 L601.8 1178.8 L602.1 1177.8 L602.3 1176.8 L602.2 1175.4 L602.2 1173.9 L602.5 1172.8 L602.9 1171.9 L603.3 1171.1 L603.8 1170.3 L604.0 1169.7 L604.0 1168.6 L603.9 1167.5 L603.9 1167.2 L604.0 1166.3 L604.2 1164.9 L604.4 1164.3 L604.5 1163.6 L604.6 1162.6 L604.7 1161.8 L605.0 1161.1 L605.2 1160.2 L605.3 1159.1 L605.4 1158.1 L605.6 1157.4 L605.8 1156.7 L606.0 1155.5 L606.3 1154.2 L606.4 1153.1 L606.0 1152.2 L606.0 1151.4 L606.5 1150.6 L606.8 1149.6 L606.9 1148.5 L606.9 1147.7 L607.0 1147.1 L607.1 1146.7 L607.2 1145.6 L607.2 1144.2 L607.0 1143.2 L607.3 1142.2 L607.9 1141.2 L608.0 1140.1 L608.1 1138.9 L608.5 1137.4 L608.7 1136.4 L608.7 1136.2 L608.6 1135.6 L608.8 1134.3 L608.8 1133.2 L608.8 1132.2 L609.0 1131.1 L609.3 1129.9 L609.6 1128.8 L609.7 1127.6 L609.5 1126.2 L609.6 1125.6 L609.9 1124.5 L610.0 1123.1 L610.0 1122.6 L610.2 1121.9 L610.4 1120.9 L610.6 1119.9 L610.8 1118.5 L610.7 1117.3 L610.5 1116.4 L610.6 1116.0 L610.9 1115.8 L611.0 1114.8 L611.1 1113.0 L611.1 1111.8 L611.1 1111.1 L611.1 1110.2 L611.1 1108.8 L611.3 1108.0 L611.7 1107.8 L612.1 1106.6 L612.2 1104.6 L612.1 1103.3 L612.2 1102.8 L612.3 1102.3 L612.3 1101.5 L612.3 1100.1 L612.7 1098.8 L613.0 1098.3 L612.8 1097.6 L612.6 1096.4 L613.1 1095.3 L613.4 1094.4 L613.5 1093.1 L613.7 1091.8 L613.7 1090.8 L613.5 1089.8 L613.5 1089.2 L613.4 1088.2 L613.4 1087.0 L613.3 1086.4 L613.5 1085.5 L613.9 1083.9 L614.0 1083.4 L614.1 1082.8 L614.2 1081.4 L614.2 1080.1 L614.3 1079.2 L614.4 1078.1 L614.4 1076.7 L614.6 1075.8 L614.6 1075.4 L614.5 1074.9 L614.5 1074.1 L614.7 1073.3 L615.1 1072.4 L615.5 1071.4 L615.6 1070.1 L615.5 1068.6 L615.6 1068.2 L615.6 1068.2 L615.7 1067.2 L615.8 1065.6 L615.8 1064.3 L615.8 1063.2 L616.0 1062.1 L616.2 1061.3 L616.0 1059.9 L616.0 1059.0 L616.2 1058.0 L616.5 1056.4 L616.7 1055.1 L616.3 1054.0 L616.1 1053.1 L616.5 1052.4 L616.7 1051.5 L616.5 1050.4 L616.7 1049.3 L616.7 1048.2 L616.7 1047.1 L617.0 1046.0 L617.3 1045.2 L617.2 1044.4 L617.1 1043.4 L617.1 1042.6 L617.3 1041.6 L617.5 1040.7 L617.6 1040.0 L617.8 1038.6 L617.7 1037.2 L617.6 1036.1 L618.0 1034.9 L618.0 1034.3 L617.9 1033.5 L617.9 1032.3 L617.8 1031.6 L617.9 1031.2 L617.8 1030.5 L618.1 1029.5 L618.6 1028.8 L618.7 1027.8 L618.5 1026.0 L618.5 1025.0 L618.7 1024.4 L618.8 1023.4 L618.9 1022.2 L618.9 1021.0 L618.8 1019.7 L618.8 1018.8 L618.9 1017.7 L619.0 1016.6 L619.0 1016.3 L618.9 1016.2 L619.2 1015.2 L619.5 1013.6 L619.6 1012.5 L619.6 1011.8 L619.7 1010.9 L619.7 1009.6 L619.5 1008.1 L619.2 1007.3 L619.1 1007.0 L619.3 1006.2 L619.7 1004.1 L620.0 1002.5 L620.1 1002.0 L620.2 1001.2 L620.1 1000.2 L620.0 999.5 L619.8 998.2 L620.1 996.5 L620.6 995.4 L620.7 994.8 L620.4 994.1 L620.5 993.1 L620.9 992.1 L621.0 991.0 L620.9 990.0 L621.0 989.2 L621.0 988.5 L620.7 988.0 L620.8 987.2 L621.0 985.7 L621.2 984.7 L621.6 984.3 L621.6 983.3 L621.4 982.1 L621.4 981.3 L621.6 980.5 L621.7 979.5 L621.5 978.3 L621.4 977.0 L621.5 975.5 L621.7 974.4 L622.1 973.6 L622.2 972.7 L622.2 971.8 L622.2 970.8 L622.0 969.7 L622.2 968.3 L622.4 967.2 L622.4 966.8 L622.3 965.8 L622.5 964.5 L622.7 963.7 L622.8 962.8 L622.7 961.4 L622.6 959.8 L622.9 958.7 L623.1 958.4 L623.0 957.9 L622.9 956.5 L622.9 955.1 L622.9 954.0 L623.0 953.3 L623.2 952.2 L623.4 950.4 L623.5 949.4 L623.8 949.4 L623.9 948.6 L623.6 947.6 L623.4 947.1 L623.6 945.8 L623.7 944.2 L623.7 943.6 L623.8 943.1 L623.9 941.8 L623.8 940.9 L623.6 940.2 L623.9 938.8 L624.3 937.4 L624.4 936.3 L624.2 935.4 L624.3 934.6 L624.5 933.6 L624.5 932.7 L624.5 931.5 L624.8 930.4 L624.8 929.3 L624.7 928.7 L624.7 928.4 L624.9 927.7 L624.9 926.5 L625.0 925.1 L625.4 924.0 L625.3 923.2 L625.0 922.2 L625.1 921.2 L625.2 920.4 L625.1 919.6 L625.1 918.6 L625.5 917.6 L625.8 916.3 L625.7 915.0 L625.7 913.7 L625.8 912.7 L625.9 911.9 L625.7 911.3 L625.8 910.4 L626.0 909.6 L626.2 909.3 L626.2 908.2 L626.0 907.1 L626.2 905.6 L626.5 903.8 L626.4 903.3 L626.4 902.7 L626.6 901.2 L626.8 900.4 L626.8 899.5 L626.6 898.5 L626.6 897.5 L626.9 896.2 L627.2 895.5 L627.2 894.5 L627.1 893.6 L627.4 893.6 L627.3 893.3 L627.2 891.8 L627.4 890.2 L627.4 889.0 L627.5 887.8 L627.6 887.2 L627.7 886.6 L627.7 885.5 L627.7 884.3 L628.0 883.5 L628.3 882.5 L628.5 880.9 L628.6 879.9 L628.7 879.1 L628.8 877.8 L628.9 876.2 L628.8 875.1 L628.7 874.4 L628.7 873.4 L628.6 872.0 L628.9 871.0 L629.3 870.6 L629.4 869.8 L629.7 868.2 L629.8 866.9 L629.7 866.3 L629.8 866.1 L630.0 864.8 L629.9 863.4 L630.0 862.9 L630.3 862.3 L630.6 860.7 L630.8 858.8 L630.5 857.8 L630.3 856.9 L630.8 855.7 L631.1 854.6 L631.1 853.6 L631.4 852.8 L631.5 852.2 L631.2 851.1 L631.1 849.6 L631.2 848.5 L631.6 848.1 L631.8 847.8 L631.8 847.0 L631.6 845.3 L631.6 843.7 L631.6 843.2 L631.6 842.8 L631.7 841.9 L631.9 841.0 L632.3 840.3 L632.6 840.1 L632.8 839.8 L632.8 838.4 L632.8 836.6 L633.0 835.4 L633.2 834.4 L633.2 833.3 L633.3 832.1 L633.3 831.3 L633.4 830.7 L633.5 829.7 L633.7 828.7 L633.8 827.8 L633.9 826.4 L633.9 824.7 L634.2 823.5 L634.6 823.0 L634.7 822.6 L634.5 822.1 L634.6 821.3 L634.7 820.1 L635.1 819.2 L635.6 819.0 L635.8 818.4 L635.9 816.9 L636.2 815.9 L636.6 815.0 L637.0 813.6 L637.5 811.9 L637.9 810.9 L638.2 810.9 L638.6 810.6 L639.0 810.0 L639.7 809.8 L640.2 810.0 L640.5 811.0 L641.0 812.3 L641.6 813.3 L642.1 814.1 L642.9 815.3 L643.8 816.2 L644.5 816.7 L644.6 817.2 L644.6 818.2 L644.9 819.4 L645.3 819.8 L645.9 820.3 L646.5 821.7 L646.7 822.5 L646.7 822.7 L646.6 823.3 L646.4 824.4 L646.6 825.4 L647.1 826.3 L647.6 826.7 L647.8 827.2 L647.7 828.8 L647.8 830.3 L648.1 831.0 L648.3 831.9 L648.3 833.0 L648.3 834.0 L648.7 835.4 L648.9 836.5 L648.8 837.2 L648.8 837.6 L648.9 838.1 L648.8 839.3 L648.9 841.1 L649.3 842.8 L649.6 844.4 L650.0 845.6 L650.2 846.2 L650.4 847.1 L650.5 848.6 L650.5 849.8 L650.5 850.4 L650.6 851.4 L650.8 852.4 L651.0 853.4 L651.2 854.5 L651.3 855.0 L651.3 855.9 L651.5 857.3 L651.8 858.3 L652.1 859.1 L652.3 860.2 L652.4 861.2 L652.5 862.2 L652.7 863.3 L653.0 864.5 L653.2 865.7 L653.3 866.7 L653.5 867.3 L653.8 867.9 L654.0 868.6 L654.3 870.0 L654.5 871.4 L654.6 872.1 L654.9 872.9 L655.1 873.8 L655.3 874.0 L655.6 874.8 L655.8 875.9 L656.1 876.6 L656.2 877.5 L656.3 879.0 L656.5 880.6 L656.5 881.6 L656.5 882.2 L656.9 882.8 L657.2 883.6 L657.5 885.0 L657.5 886.0 L657.6 886.6 L657.7 887.7 L657.7 888.7 L658.0 889.3 L658.3 890.1 L658.8 891.1 L659.1 892.2 L658.8 893.6 L658.8 894.7 L659.1 895.6 L659.5 896.3 L659.6 897.5 L659.6 898.6 L659.6 899.2 L659.9 900.4 L660.2 901.6 L660.5 902.2 L660.5 903.0 L660.6 903.8 L660.7 904.4 L660.8 905.4 L661.1 906.5 L661.3 907.6 L661.5 909.2 L661.8 909.9 L662.1 909.7 L662.2 910.9 L662.0 912.8 L662.3 914.0 L662.6 915.0 L662.7 916.1 L662.9 917.3 L663.1 918.5 L663.3 919.5 L663.4 920.1 L663.5 920.7 L663.6 921.2 L663.8 922.0 L664.1 923.3 L664.4 925.2 L664.5 926.6 L664.6 926.8 L664.8 927.1 L664.9 928.1 L665.0 929.4 L665.1 930.6 L665.1 931.9 L665.2 932.4 L665.5 932.8 L665.9 934.2 L665.9 935.2 L665.9 936.2 L666.2 937.5 L666.7 938.1 L666.9 938.4 L666.8 939.4 L666.9 941.0 L667.1 942.6 L667.2 943.6 L667.3 944.1 L667.4 945.0 L667.7 946.3 L667.9 947.2 L668.0 948.2 L668.4 949.1 L668.7 949.8 L668.6 950.6 L668.5 951.5 L668.6 952.2 L668.9 953.1 L669.4 954.1 L669.5 955.2 L669.4 956.4 L669.6 957.4 L670.0 958.2 L670.3 959.2 L670.3 960.5 L670.3 961.8 L670.5 962.4 L670.6 962.9 L670.9 964.0 L671.2 965.2 L671.4 966.1 L671.6 966.9 L671.8 967.9 L672.4 969.0 L672.7 970.1 L672.6 970.7 L672.3 971.1 L672.3 971.6 L672.7 972.7 L673.3 974.6 L673.9 976.2 L674.0 977.1 L674.0 977.8 L674.3 978.7 L674.5 979.4 L674.6 979.9 L674.8 980.5 L674.9 981.5 L674.8 982.9 L674.9 984.5 L675.3 985.6 L675.6 986.2 L675.5 987.0 L675.6 987.9 L675.9 988.4 L676.1 989.0 L676.6 990.0 L676.8 991.1 L677.1 992.4 L677.3 993.6 L677.1 994.6 L677.4 995.6 L677.9 996.6 L678.0 997.5 L678.0 998.4 L678.3 999.1 L678.7 1000.3 L678.9 1001.5 L678.9 1001.9 L678.9 1002.8 L679.2 1004.1 L679.5 1005.3 L679.8 1006.5 L680.0 1007.6 L680.2 1008.2 L680.2 1009.2 L680.5 1010.4 L680.9 1011.1 L681.1 1011.6 L681.0 1012.8 L680.9 1014.0 L681.1 1015.0 L681.5 1015.9 L681.7 1016.8 L681.8 1017.6 L681.8 1018.3 L682.1 1019.4 L682.6 1020.9 L682.8 1021.9 L682.7 1022.7 L682.8 1023.5 L683.0 1024.6 L683.6 1026.2 L684.3 1027.7 L684.2 1027.9 L684.1 1028.6 L684.2 1030.2 L684.2 1031.0 L684.4 1031.3 L684.9 1032.6 L685.4 1033.7 L685.6 1034.3 L685.6 1035.3 L686.1 1036.0 L686.4 1036.5 L686.4 1037.4 L686.6 1038.1 L687.0 1039.4 L687.7 1041.0 L688.3 1041.5 L688.6 1042.1 L688.9 1043.3 L689.2 1044.2 L689.8 1045.1 L690.4 1045.7 L690.7 1046.3 L691.1 1047.1 L691.7 1047.8 L692.0 1048.6 L692.2 1049.7 L692.6 1050.8 L693.1 1051.2 L693.6 1051.8 L694.1 1053.0 L694.4 1054.2 L694.7 1055.4 L694.7 1056.1 L694.9 1056.7 L695.2 1057.8 L695.7 1058.9 L696.1 1059.8 L696.3 1060.6 L696.5 1061.3 L696.9 1062.6 L697.4 1063.6 L697.9 1064.1 L698.4 1065.5 L698.9 1066.7 L699.2 1067.4 L699.5 1068.1 L700.0 1068.8 L700.7 1069.2 L701.7 1070.0 L702.4 1071.2 L702.9 1072.6 L703.3 1073.2 L703.6 1073.6 L704.1 1074.4 L705.0 1074.9 L705.7 1075.4 L706.3 1076.1 L707.3 1076.4 L708.3 1077.0 L709.3 1077.9 L710.2 1078.3 L710.9 1078.8 L711.5 1079.2 L712.4 1079.9 L713.2 1080.6 L713.9 1080.8 L714.8 1081.3 L715.5 1082.4 L715.8 1083.4 L716.5 1084.2 L717.4 1085.4 L717.7 1086.5 L718.0 1087.2 L718.6 1087.9 L719.0 1088.7 L719.4 1089.8 L719.9 1091.1 L720.5 1092.1 L721.2 1092.3 L722.0 1092.4 L723.1 1092.6 L724.1 1092.6 L725.0 1092.8 L726.2 1092.8 L727.2 1092.9 L728.2 1093.5 L729.1 1093.8 L730.0 1093.7 L731.0 1093.4 L732.3 1093.5 L733.2 1093.7 L734.0 1093.4 L734.7 1093.5 L735.4 1094.2 L736.2 1094.4 L737.0 1094.0 L738.0 1094.0 L738.8 1094.7 L739.5 1095.6 L740.2 1095.8 L741.3 1095.9 L742.3 1096.4 L743.2 1096.8 L744.1 1097.3 L744.9 1097.8 L745.5 1098.3 L746.3 1098.5 L747.2 1098.6 L748.0 1099.1 L749.0 1099.7 L749.9 1100.3 L750.4 1100.7 L751.1 1101.0 L752.2 1101.7 L753.2 1102.2 L754.2 1102.1 L755.5 1102.1 L756.3 1102.7 L757.0 1102.9 L757.8 1102.5 L758.7 1102.1 L759.5 1101.7 L760.3 1101.7 L761.1 1101.9 L762.3 1101.6 L763.6 1100.9 L764.6 1100.1 L765.3 1099.6 L766.3 1099.7 L767.3 1099.9 L768.2 1100.1 L769.2 1100.0 L770.1 1099.6 L771.0 1099.1 L771.8 1098.9 L772.8 1099.4 L773.8 1099.8 L774.6 1099.9 L775.6 1099.8 L776.9 1100.0 L777.6 1100.1 L778.2 1099.9 L778.9 1100.2 L779.9 1100.3 L781.3 1099.8 L782.4 1099.7 L783.1 1100.1 L783.8 1100.3 L784.8 1100.3 L786.1 1100.0 L787.2 1099.4 L788.1 1099.2 L789.2 1099.0 L790.2 1098.1 L790.9 1097.3 L791.3 1096.8 L792.0 1097.1 L792.8 1096.9 L793.9 1096.1 L795.1 1096.2 L796.1 1096.4 L796.9 1096.1 L798.0 1096.0 L799.0 1096.1 L799.9 1096.6 L800.8 1097.4 L801.7 1098.0 L802.3 1098.4 L803.1 1098.8 L804.1 1098.8 L804.9 1098.9 L805.9 1099.6 L806.9 1099.7 L808.0 1099.5 L808.9 1099.8 L809.6 1099.8 L810.4 1100.0 L811.1 1100.3 L811.6 1099.8 L812.0 1100.4 L812.4 1101.9 L812.6 1102.8 L812.6 1103.7 L812.7 1105.3 L813.1 1106.1 L813.5 1106.5 L813.5 1107.7 L813.5 1109.3 L813.7 1110.0 L813.9 1110.0 L814.0 1110.9 L814.0 1111.6 L814.1 1112.2 L814.5 1113.1 L814.5 1114.0 L814.5 1115.4 L814.7 1117.0 L814.9 1118.0 L814.8 1118.9 L814.8 1119.8 L815.0 1120.9 L814.8 1121.8 L814.6 1122.4 L814.9 1123.7 L814.9 1125.1 L814.8 1125.6 L814.8 1126.4 L814.8 1127.9 L815.1 1128.7 L815.2 1128.8 L815.3 1129.4 L815.5 1130.7 L815.4 1131.5 L815.1 1132.2 L815.1 1133.4 L815.4 1134.4 L815.5 1135.6 L815.3 1137.2 L815.3 1138.0 L815.5 1138.5 L815.6 1139.8 L815.7 1141.2 L815.8 1141.6 L815.5 1141.8 L815.4 1142.8 L815.3 1143.9 L815.5 1144.8 L815.8 1146.0 L815.8 1147.1 L815.6 1148.0 L815.8 1149.0 L815.9 1150.1 L816.0 1150.9 L816.1 1152.3 L815.9 1153.5 L815.6 1154.1 L815.6 1155.0 L815.6 1156.4 L816.0 1157.1 L816.1 1158.2 L815.9 1159.7 L815.9 1160.6 L816.1 1161.2 L816.2 1162.0 L815.8 1163.5 L815.4 1165.1 L815.4 1166.2 L815.6 1167.1 L815.6 1168.2 L815.8 1169.2 L816.0 1169.8 L815.8 1171.1 L815.9 1172.5 L816.1 1173.3 L816.1 1174.3 L816.1 1175.5 L816.1 1176.4 L815.8 1177.2 L816.0 1178.2 L816.4 1179.3 L816.2 1180.3 L815.9 1181.3 L815.9 1182.2 L815.9 1183.3 L815.8 1184.6 L816.0 1185.9 L816.1 1186.7 L816.2 1187.5 L816.1 1188.7 L815.8 1190.0 L815.9 1191.3 L816.2 1192.9 L816.3 1194.1 L816.4 1195.0 L816.3 1195.7 L816.1 1196.9 L816.1 1198.1 L816.2 1199.0 L816.3 1200.2 L816.7 1201.4 L816.7 1202.3 L816.5 1203.3 L816.4 1204.2 L816.5 1205.3 L816.3 1206.0 L815.9 1207.2 L816.1 1208.7 L816.4 1209.1 L816.4 1209.8 L816.3 1211.2 L816.5 1211.5 L816.6 1211.8 L816.5 1213.5 L816.3 1215.1 L816.3 1216.1 L816.5 1216.9 L816.7 1217.3 L816.7 1217.6 L816.4 1218.1 L816.3 1219.0 L816.4 1219.9 L816.6 1220.3 L816.6 1221.1 L816.6 1221.8 L816.7 1222.7 L816.7 1223.6 L816.7 1224.4 L816.7 1225.2 L816.8 1226.0"/>
<path stroke="#d28038" d="M131.0 1226.0 L131.8 1225.7 L132.7 1225.3 L133.5 1225.0 L134.4 1224.8 L135.2 1224.6 L136.0 1224.5 L136.8 1224.7 L137.6 1225.1 L138.3 1225.6 L139.1 1226.2 L140.0 1226.5 L140.7 1226.6 L141.5 1226.7 L142.3 1226.6 L143.2 1226.6 L144.1 1226.5 L145.0 1226.4 L146.0 1226.3 L147.0 1226.2 L148.0 1226.1 L149.0 1226.0 L150.0 1226.0 L150.8 1226.0 L151.7 1226.0 L152.6 1226.1 L153.5 1226.1 L154.5 1226.1 L155.4 1226.1 L156.4 1226.2 L157.3 1226.2 L158.3 1226.3 L159.2 1226.3 L160.2 1226.4 L161.2 1226.4 L162.1 1226.5 L163.1 1226.5 L164.1 1226.5 L165.0 1226.5 L165.9 1226.5 L166.9 1226.5 L167.9 1226.5 L168.9 1226.6 L169.9 1226.6 L170.9 1226.6 L171.9 1226.6 L172.9 1226.6 L173.8 1226.6 L174.8 1226.6 L175.7 1226.5 L176.6 1226.5 L177.5 1226.4 L178.4 1226.3 L179.2 1226.2 L180.0 1226.0 L181.0 1225.7 L181.9 1225.3 L182.8 1224.9 L183.6 1224.4 L184.4 1223.9 L185.3 1223.4 L186.0 1223.0 L186.7 1222.5 L187.4 1222.2 L188.3 1222.1 L189.0 1222.4 L189.8 1223.0 L190.6 1223.7 L191.4 1224.4 L192.2 1224.9 L193.0 1225.0 L193.9 1225.0 L194.7 1224.9 L195.6 1224.8 L196.4 1224.7 L197.2 1224.4 L198.0 1224.0 L199.0 1223.6 L200.0 1223.4 L200.8 1223.2 L201.6 1222.9 L202.4 1222.5 L203.3 1222.0 L204.2 1221.4 L205.3 1220.5 L206.2 1220.1 L206.8 1220.2 L207.4 1220.2 L208.3 1220.6 L209.2 1221.3 L210.1 1221.7 L211.0 1221.9 L211.9 1222.1 L212.7 1222.2 L213.4 1221.7 L214.1 1220.5 L214.9 1219.3 L215.4 1218.6 L216.3 1218.2 L217.2 1218.0 L217.7 1217.9 L218.6 1217.7 L219.3 1218.4 L219.6 1219.4 L220.1 1220.0 L221.1 1220.4 L221.8 1220.8 L222.5 1221.1 L223.3 1221.2 L224.1 1221.3 L224.9 1220.8 L225.7 1220.0 L226.4 1219.3 L227.2 1218.1 L227.9 1217.2 L228.8 1218.1 L229.8 1218.0 L230.8 1216.6 L231.7 1216.2 L232.8 1216.3 L233.8 1215.8 L234.3 1215.2 L234.9 1215.1 L236.0 1214.9 L237.3 1214.7 L238.5 1214.6 L239.6 1214.1 L240.3 1213.6 L241.1 1213.1 L241.8 1212.9 L242.7 1212.9 L243.9 1212.1 L245.0 1211.9 L245.7 1212.2 L246.5 1212.0 L247.3 1211.8 L248.2 1211.3 L249.1 1210.2 L249.9 1209.7 L251.0 1209.5 L252.1 1208.8 L253.0 1208.6 L253.5 1208.6 L254.0 1207.6 L254.8 1206.8 L255.5 1206.4 L256.0 1206.1 L256.4 1205.6 L257.0 1205.1 L257.8 1204.6 L258.4 1204.0 L258.7 1203.7 L259.3 1202.9 L260.1 1201.9 L260.8 1201.3 L261.3 1200.4 L261.9 1199.5 L262.5 1198.6 L262.8 1196.9 L262.8 1196.1 L262.9 1196.1 L263.1 1195.0 L263.7 1194.0 L264.3 1193.9 L264.8 1193.5 L265.6 1193.2 L266.0 1192.4 L266.1 1190.8 L266.2 1189.6 L266.2 1188.2 L266.4 1186.7 L267.0 1185.9 L267.4 1185.0 L267.6 1184.1 L267.9 1183.0 L268.5 1182.1 L268.6 1182.1 L268.7 1181.4 L268.9 1179.7 L268.9 1179.2 L268.9 1179.1 L268.8 1177.6 L269.0 1175.6 L269.5 1174.8 L269.3 1175.0 L269.1 1174.2 L269.2 1172.3 L269.7 1170.9 L270.4 1169.9 L270.7 1169.1 L270.9 1168.4 L271.1 1167.2 L271.0 1166.4 L270.9 1166.1 L270.8 1164.6 L270.9 1163.3 L271.0 1162.6 L271.2 1161.3 L271.5 1160.2 L272.0 1159.3 L272.1 1158.1 L271.8 1157.7 L271.7 1157.3 L272.3 1156.1 L272.6 1154.7 L272.4 1153.2 L272.3 1151.9 L272.8 1151.4 L273.0 1151.2 L272.8 1150.5 L272.9 1149.2 L272.9 1147.7 L273.5 1146.6 L274.0 1146.0 L274.0 1145.6 L274.0 1144.9 L274.0 1143.5 L274.4 1142.0 L275.0 1141.0 L275.0 1140.0 L274.6 1138.6 L274.6 1136.8 L275.1 1135.7 L275.5 1135.5 L275.6 1135.3 L275.5 1134.5 L275.3 1133.7 L275.3 1132.7 L275.8 1131.3 L275.8 1130.7 L275.6 1129.5 L275.6 1128.3 L275.8 1127.3 L275.8 1125.4 L276.0 1124.0 L276.5 1123.8 L276.8 1123.3 L276.8 1121.8 L276.7 1120.2 L276.8 1119.7 L277.0 1120.0 L277.3 1120.2 L277.3 1119.0 L277.1 1116.8 L276.8 1115.2 L276.7 1114.3 L276.8 1113.2 L277.0 1112.6 L277.0 1111.8 L277.2 1110.7 L277.7 1109.6 L277.5 1108.4 L277.0 1107.7 L277.0 1107.4 L277.3 1106.3 L277.8 1104.4 L278.0 1103.2 L277.8 1102.6 L277.9 1102.1 L278.1 1101.5 L278.4 1100.6 L278.6 1098.8 L278.4 1097.5 L278.4 1097.5 L278.3 1096.7 L278.0 1095.4 L278.0 1093.9 L278.3 1091.9 L278.4 1090.7 L278.3 1090.3 L278.4 1089.5 L278.4 1088.0 L278.3 1087.3 L278.5 1087.2 L278.9 1086.0 L279.0 1084.8 L279.0 1083.9 L278.6 1082.4 L278.5 1081.3 L278.9 1080.7 L279.1 1079.7 L279.1 1078.4 L279.3 1077.3 L279.6 1076.4 L279.6 1075.4 L279.4 1074.9 L279.1 1074.2 L279.0 1073.2 L279.3 1071.7 L279.8 1070.5 L279.9 1070.2 L279.5 1069.1 L279.3 1067.2 L279.6 1066.6 L279.7 1066.0 L279.3 1064.2 L279.7 1063.4 L280.6 1063.0 L280.4 1061.8 L280.0 1061.1 L280.2 1060.8 L280.7 1059.1 L280.7 1057.2 L280.4 1055.9 L280.5 1055.1 L280.8 1055.2 L280.9 1055.6 L281.0 1054.5 L281.0 1053.0 L281.0 1052.8 L281.2 1051.8 L281.2 1050.3 L281.1 1049.5 L281.1 1048.3 L281.1 1046.4 L281.2 1044.8 L281.3 1044.2 L281.6 1043.8 L282.1 1042.8 L282.4 1041.9 L282.3 1041.1 L282.1 1039.9 L282.2 1039.2 L282.4 1038.2 L282.3 1037.0 L282.1 1035.8 L282.2 1035.0 L282.3 1033.7 L282.4 1032.5 L282.4 1032.2 L282.5 1031.9 L282.2 1031.2 L281.9 1029.9 L282.0 1028.3 L282.4 1026.7 L282.4 1025.2 L282.0 1025.1 L282.1 1025.7 L282.5 1025.3 L282.8 1023.9 L282.9 1022.5 L282.7 1021.5 L282.7 1020.0 L283.0 1018.1 L283.3 1017.5 L283.4 1017.7 L283.4 1017.0 L283.4 1015.4 L283.4 1013.9 L283.5 1012.6 L283.7 1011.4 L283.7 1009.9 L283.5 1008.9 L283.6 1008.5 L283.6 1007.8 L283.9 1007.2 L284.5 1006.9 L284.9 1005.5 L284.6 1003.9 L284.4 1002.7 L284.6 1001.6 L284.7 1001.2 L284.8 1000.3 L284.9 999.0 L285.1 998.5 L285.5 997.7 L285.2 995.8 L284.7 994.9 L284.8 994.8 L284.8 993.9 L284.5 992.6 L284.7 991.1 L285.0 989.9 L285.2 989.0 L285.2 988.1 L285.3 986.9 L285.7 986.1 L286.1 985.8 L286.0 984.2 L286.0 982.1 L286.0 981.3 L286.3 980.3 L286.6 979.2 L287.0 978.5 L287.1 977.9 L287.0 976.9 L287.1 975.4 L287.0 974.0 L286.8 973.8 L287.0 973.3 L287.3 972.0 L287.6 971.5 L287.9 970.7 L288.1 969.4 L288.0 968.3 L288.1 967.1 L288.3 965.8 L288.2 965.0 L288.2 964.8 L288.5 964.2 L288.8 962.9 L289.0 961.5 L289.0 959.6 L288.9 958.4 L289.3 958.3 L289.5 958.1 L289.4 957.0 L289.4 955.4 L289.5 953.9 L289.9 953.4 L290.3 953.1 L290.1 951.2 L289.9 949.4 L290.2 949.4 L290.5 949.6 L290.5 948.8 L290.2 947.0 L290.2 945.1 L290.4 944.6 L290.6 944.1 L290.8 942.9 L290.6 941.9 L290.5 940.9 L290.7 940.1 L291.1 939.2 L291.6 938.6 L291.8 938.4 L291.9 937.0 L291.7 935.1 L291.3 933.8 L291.4 932.9 L291.4 931.7 L291.6 930.0 L291.8 929.1 L292.0 929.0 L292.1 927.6 L292.3 925.4 L292.7 924.4 L292.9 924.6 L292.9 924.4 L293.0 923.3 L292.9 922.0 L293.0 921.3 L293.1 920.3 L292.8 919.0 L292.8 918.5 L292.9 918.1 L293.0 917.2 L293.0 915.9 L293.1 914.3 L293.4 912.9 L293.5 911.7 L293.5 910.9 L293.4 910.1 L293.0 909.5 L292.8 909.0 L293.1 908.2 L293.8 907.2 L294.2 906.2 L294.1 905.3 L294.1 904.3 L294.4 903.4 L294.5 902.5 L294.3 901.3 L294.2 899.6 L294.0 897.8 L293.8 897.3 L293.8 897.6 L294.1 896.7 L294.6 895.2 L294.6 893.8 L294.5 893.4 L294.5 893.0 L294.5 891.1 L294.6 889.7 L294.8 888.7 L295.1 887.1 L295.0 885.9 L294.7 885.2 L295.1 884.5 L295.4 883.9 L295.1 883.0 L295.1 881.7 L295.5 881.2 L295.8 881.0 L295.8 879.4 L295.7 876.7 L295.9 875.2 L296.1 875.5 L296.3 875.0 L296.4 873.8 L296.2 873.0 L295.8 871.7 L295.8 870.2 L296.0 869.0 L296.3 868.2 L296.5 867.1 L296.8 866.2 L297.1 865.8 L297.2 864.2 L297.0 862.7 L296.7 862.4 L296.7 861.6 L297.0 859.8 L297.2 858.7 L297.2 858.0 L297.2 857.1 L297.3 856.3 L297.8 855.4 L297.7 854.6 L297.1 854.0 L297.2 852.3 L297.6 851.4 L297.9 851.8 L297.7 851.2 L297.6 849.1 L298.0 847.2 L298.2 846.4 L298.4 846.2 L298.5 845.1 L298.7 843.8 L298.8 843.6 L298.7 843.4 L298.6 842.9 L298.8 842.4 L298.7 841.3 L298.5 839.4 L298.7 838.0 L299.0 837.2 L299.4 836.5 L299.4 835.5 L299.4 834.2 L299.7 832.9 L299.7 832.1 L299.7 831.1 L300.0 829.2 L299.9 828.1 L300.0 828.1 L300.6 827.1 L300.8 825.5 L300.8 824.6 L301.1 823.3 L301.3 821.9 L301.4 821.1 L301.7 820.5 L301.7 820.1 L301.3 819.8 L301.2 819.3 L301.6 818.3 L302.0 817.0 L302.0 815.6 L302.2 813.9 L302.8 812.8 L303.5 812.4 L303.2 811.3 L302.7 810.0 L303.1 809.2 L303.3 808.4 L302.9 807.9 L303.4 808.5 L304.2 809.0 L304.6 808.6 L304.6 808.5 L304.8 810.1 L305.2 811.9 L305.4 812.8 L305.7 814.0 L306.2 815.2 L306.4 816.3 L306.3 816.4 L306.6 816.5 L306.8 818.1 L307.0 819.9 L307.5 820.4 L307.8 820.8 L308.0 821.4 L308.4 822.3 L308.5 823.5 L308.4 825.1 L308.6 826.4 L309.2 826.6 L309.6 826.8 L309.8 827.4 L310.0 827.9 L310.3 829.2 L310.4 830.7 L310.4 831.8 L311.0 833.8 L311.5 835.1 L311.7 835.3 L311.6 836.0 L311.8 837.5 L312.3 839.2 L312.5 840.4 L312.9 840.6 L313.3 841.2 L313.6 842.3 L313.9 843.0 L314.1 843.3 L314.3 843.6 L314.7 844.5 L314.9 846.0 L314.7 847.7 L314.7 849.7 L315.0 851.4 L314.9 852.1 L315.0 852.6 L315.4 853.4 L315.5 853.6 L315.5 854.6 L315.8 856.1 L316.1 856.2 L316.3 856.7 L316.6 858.4 L316.9 859.8 L317.3 860.5 L317.4 861.4 L317.4 862.0 L317.7 862.7 L318.1 864.2 L318.5 865.2 L318.6 865.6 L318.5 866.5 L318.8 868.1 L319.3 869.9 L319.4 871.1 L319.7 872.0 L319.7 872.8 L319.4 873.7 L319.5 874.7 L319.9 875.2 L320.0 875.8 L319.9 877.2 L320.2 878.8 L320.8 880.3 L321.1 881.1 L321.2 881.3 L321.4 882.5 L321.6 883.9 L321.8 884.7 L322.0 885.8 L321.7 886.6 L321.6 887.6 L322.3 889.0 L322.7 889.8 L323.0 891.0 L323.1 891.8 L322.6 892.1 L322.5 893.0 L323.4 894.1 L323.6 895.3 L323.3 896.3 L323.6 897.3 L323.9 899.2 L324.0 900.9 L324.5 901.5 L325.2 901.0 L325.1 901.2 L324.9 902.8 L324.8 904.5 L324.8 905.7 L325.0 906.5 L325.1 907.5 L325.0 908.3 L325.3 909.3 L326.0 910.8 L325.9 911.5 L325.7 912.7 L326.0 914.0 L326.7 914.4 L326.9 915.7 L326.6 917.2 L326.7 918.0 L327.0 919.0 L326.8 919.9 L326.6 920.8 L326.8 921.8 L327.1 922.4 L327.1 923.4 L327.2 924.8 L327.6 925.8 L328.2 926.3 L328.3 926.8 L328.4 928.3 L328.6 930.1 L328.5 931.1 L328.3 931.5 L328.5 931.8 L328.9 932.8 L328.9 934.6 L328.7 936.0 L329.2 936.8 L330.0 937.7 L330.1 938.5 L330.1 939.3 L330.1 939.9 L329.8 940.6 L329.9 941.7 L330.1 943.2 L330.4 944.2 L330.8 944.5 L331.3 945.3 L331.7 946.2 L332.2 946.9 L332.4 948.0 L332.1 949.6 L332.1 951.7 L332.3 953.0 L332.3 953.2 L332.5 954.0 L332.8 955.2 L332.9 956.0 L333.4 957.3 L333.6 958.8 L333.2 959.7 L333.2 960.3 L333.7 961.5 L334.0 963.0 L334.3 963.6 L334.6 964.2 L335.0 965.0 L335.5 966.1 L335.5 967.4 L335.3 968.6 L335.1 969.9 L334.9 970.5 L335.2 970.4 L335.8 971.4 L336.3 973.4 L336.5 975.0 L336.5 976.2 L336.4 976.8 L336.5 977.3 L337.0 978.5 L337.4 979.5 L337.6 980.1 L337.9 981.0 L338.2 982.6 L338.5 983.7 L338.9 984.5 L339.2 985.6 L339.4 986.0 L339.1 986.2 L339.1 986.3 L339.3 987.5 L339.7 990.1 L340.1 991.6 L340.3 991.7 L340.6 991.7 L340.9 993.2 L341.1 994.7 L341.3 995.8 L341.3 996.6 L341.8 997.2 L342.2 998.1 L342.2 999.0 L342.6 1000.4 L343.1 1001.7 L343.1 1002.4 L342.9 1003.3 L343.4 1004.4 L344.0 1005.8 L344.4 1007.1 L344.9 1008.0 L345.3 1008.3 L345.2 1008.6 L345.3 1009.8 L345.3 1011.1 L345.5 1011.5 L345.8 1012.0 L346.0 1013.2 L346.1 1014.6 L346.3 1014.9 L346.8 1015.7 L346.8 1017.4 L346.5 1018.8 L346.5 1019.6 L347.0 1020.3 L347.4 1020.7 L347.7 1021.1 L348.2 1021.7 L348.6 1022.5 L348.7 1023.6 L348.7 1025.0 L348.7 1025.8 L349.1 1026.7 L349.4 1027.7 L349.5 1028.0 L349.6 1028.2 L350.1 1029.0 L350.3 1029.7 L350.0 1030.6 L350.0 1032.1 L350.8 1032.9 L351.3 1033.6 L351.3 1035.1 L351.8 1036.9 L352.4 1038.1 L352.2 1039.2 L352.0 1040.0 L352.5 1040.8 L353.0 1042.3 L353.1 1043.4 L353.4 1043.9 L353.7 1044.4 L354.0 1045.2 L354.3 1046.3 L354.4 1047.6 L354.5 1049.4 L354.7 1051.1 L355.1 1052.2 L355.4 1052.9 L355.5 1053.6 L355.5 1054.9 L355.6 1056.7 L355.8 1057.9 L356.3 1058.6 L356.9 1058.7 L357.1 1059.2 L357.0 1060.3 L356.8 1061.0 L357.0 1061.5 L357.3 1062.3 L357.7 1063.7 L358.1 1064.9 L358.3 1065.8 L358.4 1066.0 L358.7 1066.5 L358.9 1068.4 L359.1 1069.6 L359.1 1069.6 L359.5 1070.2 L359.8 1071.6 L359.9 1072.4 L359.8 1073.6 L359.9 1075.7 L360.2 1076.8 L360.4 1076.4 L360.3 1076.9 L360.2 1079.1 L360.6 1081.1 L360.9 1082.0 L361.1 1082.3 L361.4 1082.6 L361.6 1083.1 L361.3 1084.4 L361.3 1086.3 L361.6 1086.8 L361.7 1086.1 L361.9 1087.1 L361.9 1089.2 L361.9 1090.5 L362.5 1091.4 L362.9 1093.0 L362.7 1094.5 L362.5 1094.5 L362.8 1094.3 L362.8 1095.3 L363.0 1096.2 L363.2 1097.4 L363.0 1099.0 L363.0 1099.7 L363.4 1100.4 L363.6 1101.4 L363.6 1102.6 L363.8 1103.8 L364.2 1104.9 L364.2 1105.8 L364.2 1106.9 L364.3 1108.0 L364.6 1108.8 L364.7 1109.4 L364.6 1110.3 L364.5 1111.0 L364.7 1112.3 L365.0 1114.2 L365.4 1114.8 L365.8 1115.1 L365.9 1116.0 L365.9 1117.0 L365.8 1118.2 L365.8 1119.0 L365.9 1119.5 L365.9 1120.1 L365.9 1121.0 L366.0 1122.7 L366.3 1124.3 L366.7 1124.5 L367.1 1125.1 L367.0 1127.1 L366.9 1128.2 L367.0 1127.9 L367.1 1128.6 L367.4 1130.5 L367.8 1131.6 L367.9 1131.6 L367.5 1132.1 L367.3 1133.8 L367.6 1135.7 L367.8 1136.9 L367.9 1137.8 L367.6 1138.6 L367.7 1139.5 L368.1 1140.6 L368.3 1141.5 L367.9 1142.1 L368.0 1142.7 L368.6 1143.8 L369.0 1145.2 L368.8 1145.9 L368.6 1146.8 L368.7 1148.3 L369.0 1149.5 L369.1 1149.9 L369.1 1150.8 L369.3 1152.8 L369.5 1154.2 L369.3 1153.7 L369.2 1153.7 L369.3 1154.9 L369.5 1155.9 L369.7 1156.7 L369.8 1158.2 L370.0 1160.2 L370.4 1161.9 L370.3 1163.0 L370.3 1163.5 L370.5 1164.1 L370.4 1165.1 L370.4 1165.7 L370.5 1166.2 L370.5 1167.4 L370.7 1169.3 L370.7 1170.4 L370.6 1170.5 L370.9 1171.2 L371.2 1172.4 L371.4 1173.6 L371.8 1174.6 L372.1 1175.3 L372.0 1175.9 L371.7 1176.3 L371.7 1177.1 L371.9 1178.6 L371.9 1181.0 L372.1 1182.5 L372.2 1183.1 L372.1 1184.4 L372.2 1185.6 L372.3 1185.6 L372.2 1185.3 L372.6 1185.6 L372.8 1186.1 L373.1 1187.1 L373.7 1188.4 L373.9 1189.7 L373.9 1190.9 L374.2 1191.5 L374.9 1192.6 L375.7 1193.8 L376.2 1194.6 L376.6 1194.7 L377.3 1194.8 L378.2 1196.1 L379.0 1197.5 L379.8 1197.4 L380.7 1196.8 L381.9 1197.0 L383.0 1197.0 L383.5 1196.5 L384.1 1196.2 L385.3 1195.5 L386.6 1194.9 L387.6 1195.4 L388.5 1195.7 L389.3 1194.7 L389.8 1194.0 L390.7 1194.1 L392.2 1193.7 L393.3 1192.8 L394.2 1192.0 L394.9 1192.0 L395.7 1191.6 L396.3 1190.9 L396.5 1190.8 L396.8 1189.9 L397.2 1188.4 L397.8 1186.9 L398.5 1185.9 L399.0 1185.3 L399.3 1184.8 L399.7 1185.0 L400.7 1184.8 L401.7 1183.5 L402.8 1182.5 L403.7 1182.3 L404.1 1182.2 L404.5 1182.3 L405.4 1182.2 L406.6 1181.6 L407.6 1181.6 L408.3 1181.9 L409.3 1181.5 L410.1 1180.3 L410.6 1179.6 L411.3 1178.6 L412.0 1177.9 L412.6 1178.1 L413.3 1177.5 L413.9 1176.5 L414.5 1175.7 L415.1 1174.5 L415.5 1173.9 L416.2 1174.2 L417.3 1173.6 L418.3 1172.5 L418.9 1172.1 L419.1 1171.4 L419.7 1170.3 L420.6 1169.5 L421.6 1168.9 L422.4 1168.3 L422.7 1168.2 L423.3 1168.1 L424.2 1167.0 L425.3 1166.1 L426.4 1165.6 L427.2 1164.9 L428.0 1164.6 L428.8 1163.7 L429.6 1162.8 L430.3 1162.2 L430.5 1161.7 L430.7 1161.5 L431.4 1161.0 L432.5 1159.5 L433.6 1158.0 L434.4 1157.1 L434.9 1156.4 L435.6 1156.2 L436.1 1156.2 L436.9 1155.5 L437.9 1155.2 L438.5 1155.8 L438.7 1156.6 L439.2 1156.5 L440.0 1156.0 L440.9 1156.7 L441.7 1157.4 L442.4 1158.0 L443.1 1158.7 L443.9 1158.5 L444.7 1158.3 L445.4 1159.0 L446.2 1160.3 L447.4 1160.8 L448.7 1159.8 L449.7 1158.5 L450.5 1158.2 L451.2 1158.7 L452.4 1159.0 L453.8 1158.7 L454.8 1158.0 L455.3 1157.5 L456.3 1157.5 L457.5 1158.1 L458.5 1157.7 L459.4 1158.0 L460.2 1159.8 L461.0 1160.9 L462.0 1161.1 L462.7 1161.2 L463.6 1161.6 L464.8 1162.3 L465.8 1163.0 L466.7 1164.1 L467.6 1163.9 L468.5 1163.6 L469.2 1165.1 L470.3 1166.1 L471.2 1165.9 L471.6 1165.8 L472.2 1165.6 L473.5 1164.6 L475.0 1164.6 L476.1 1165.7 L476.8 1166.1 L477.7 1165.7 L478.9 1165.3 L479.7 1165.6 L480.2 1166.5 L481.2 1166.3 L482.4 1165.9 L483.4 1166.1 L484.2 1167.1 L485.0 1167.8 L485.5 1167.8 L486.3 1167.9 L487.8 1168.7 L488.6 1169.9 L488.8 1170.4 L489.3 1171.3 L490.1 1172.6 L491.2 1172.5 L491.8 1172.2 L491.8 1173.1 L492.1 1174.9 L492.9 1176.4 L493.7 1176.7 L494.3 1177.0 L494.8 1178.2 L495.6 1178.8 L496.6 1179.0 L497.4 1180.1 L498.2 1180.8 L498.7 1180.3 L499.3 1179.9 L500.5 1181.3 L501.5 1182.7 L502.2 1183.3 L503.1 1184.1 L504.2 1183.8 L505.1 1183.6 L505.7 1184.5 L506.5 1185.3 L507.4 1185.6 L508.3 1186.0 L509.1 1186.4 L509.7 1186.4 L510.5 1186.3 L511.5 1186.3 L512.6 1186.8 L513.5 1187.6 L514.2 1187.8 L515.2 1188.1 L516.4 1188.7 L517.5 1189.4 L518.5 1190.1 L519.5 1190.6 L520.3 1190.8 L521.0 1190.4 L521.7 1189.7 L522.4 1189.5 L523.6 1189.9 L524.7 1189.8 L525.6 1190.2 L526.5 1190.9 L527.2 1190.6 L528.1 1191.0 L529.2 1191.5 L530.5 1191.9 L531.2 1192.6 L531.7 1191.9 L533.1 1191.5 L534.7 1192.1 L535.7 1191.3 L536.5 1190.6 L537.3 1190.9 L538.1 1191.5 L539.0 1192.2 L540.0 1192.3 L540.6 1192.1 L541.5 1193.4 L542.5 1194.4 L543.4 1193.8 L544.3 1193.9 L545.2 1195.0 L546.3 1195.3 L547.2 1194.8 L547.9 1194.6 L548.7 1195.4 L549.5 1196.8 L550.3 1196.9 L551.5 1195.7 L552.8 1195.5 L553.8 1196.3 L554.5 1197.2 L555.5 1198.5 L556.8 1199.6 L557.7 1200.5 L558.4 1200.5 L559.4 1200.3 L560.4 1200.4 L561.1 1199.7 L561.6 1199.4 L562.6 1200.4 L564.1 1200.7 L565.3 1200.4 L566.1 1201.2 L567.2 1201.6 L568.0 1201.1 L568.4 1201.1 L569.4 1201.2 L570.8 1201.5 L571.8 1201.6 L572.6 1201.4 L573.4 1202.0 L574.3 1202.4 L575.4 1201.6 L576.5 1200.2 L576.9 1200.2 L577.6 1201.2 L579.0 1201.2 L580.3 1200.8 L581.0 1200.5 L581.7 1200.5 L582.6 1200.7 L583.5 1200.7 L584.4 1200.8 L585.2 1200.9 L586.1 1200.9 L587.5 1200.6 L588.9 1200.6 L589.7 1201.1 L590.8 1200.7 L591.9 1200.7 L592.4 1201.0 L593.1 1200.7 L594.1 1200.6 L595.0 1199.8 L596.3 1199.2 L597.3 1200.0 L597.9 1200.5 L599.0 1199.5 L600.2 1198.8 L600.8 1199.3 L601.6 1200.2 L602.8 1200.7 L603.7 1201.0 L604.7 1201.0 L605.9 1200.3 L606.7 1200.2 L607.6 1201.3 L608.5 1201.6 L609.3 1201.3 L610.2 1201.1 L611.4 1201.1 L612.5 1201.8 L613.4 1202.8 L614.1 1203.1 L615.0 1203.1 L616.2 1203.1 L617.1 1202.6 L617.9 1202.3 L618.8 1202.6 L619.7 1203.0 L620.5 1203.2 L621.3 1203.6 L622.7 1203.4 L624.2 1202.8 L625.2 1203.7 L626.0 1203.7 L626.7 1202.6 L627.6 1202.1 L628.5 1202.2 L629.4 1202.2 L630.0 1203.0 L630.7 1204.1 L632.3 1204.6 L633.6 1204.4 L634.4 1204.7 L635.2 1205.4 L636.3 1205.3 L637.1 1204.6 L637.4 1203.9 L638.4 1203.1 L639.7 1202.9 L640.8 1203.5 L641.7 1203.5 L642.9 1203.1 L643.9 1203.4 L644.3 1203.7 L645.1 1203.4 L646.1 1202.9 L647.1 1203.0 L648.3 1204.0 L649.3 1204.2 L650.2 1203.2 L651.5 1203.0 L652.8 1203.3 L654.0 1202.7 L655.0 1201.5 L655.7 1200.9 L656.5 1201.7 L657.6 1202.5 L658.7 1202.6 L659.5 1202.9 L659.9 1202.2 L660.3 1201.7 L661.4 1202.0 L662.8 1201.8 L663.9 1201.3 L664.9 1200.7 L665.8 1200.4 L666.4 1201.0 L667.4 1201.4 L668.7 1200.9 L669.7 1200.7 L670.7 1201.6 L671.9 1201.9 L672.7 1201.7 L673.3 1201.1 L674.0 1201.3 L674.9 1202.4 L676.0 1202.6 L677.0 1202.9 L677.9 1203.6 L679.4 1203.5 L680.7 1202.9 L681.4 1202.7 L682.3 1202.9 L683.3 1203.2 L684.1 1202.9 L685.0 1202.5 L685.7 1202.7 L686.3 1203.0 L687.2 1203.0 L688.5 1203.1 L689.7 1203.2 L690.7 1203.1 L691.6 1202.9 L692.2 1202.5 L693.2 1201.8 L694.9 1201.7 L696.2 1202.2 L696.6 1202.9 L697.3 1203.2 L698.2 1202.6 L698.9 1202.0 L699.7 1202.4 L700.7 1203.1 L701.9 1202.9 L703.0 1202.7 L703.7 1202.8 L704.5 1202.5 L705.3 1202.8 L706.6 1203.3 L707.9 1203.1 L708.9 1203.2 L709.8 1204.4 L710.6 1204.7 L711.5 1203.8 L712.4 1204.1 L713.5 1205.3 L714.4 1205.7 L715.1 1204.7 L716.4 1204.1 L717.5 1205.1 L718.3 1206.0 L719.1 1205.6 L720.0 1205.6 L721.1 1205.4 L722.0 1203.8 L722.8 1203.5 L724.0 1205.0 L725.1 1205.0 L726.0 1204.3 L726.8 1204.4 L727.6 1204.6 L728.4 1204.2 L729.1 1203.7 L729.9 1203.4 L731.2 1203.4 L732.4 1203.7 L733.1 1204.3 L733.9 1204.9 L735.1 1204.4 L736.1 1203.5 L737.0 1204.4 L738.1 1205.3 L739.0 1205.4 L739.8 1205.4 L740.8 1205.5 L742.1 1205.4 L742.8 1205.4 L743.5 1205.6 L744.7 1205.8 L745.7 1206.2 L746.4 1205.5 L747.5 1205.4 L748.6 1206.7 L749.7 1207.4 L750.4 1207.6 L751.2 1208.0 L752.4 1207.8 L753.3 1207.7 L753.9 1208.3 L754.7 1208.9 L755.6 1209.6 L756.5 1209.9 L757.1 1209.3 L757.8 1209.4 L758.7 1209.9 L759.6 1209.6 L760.3 1209.4 L761.2 1210.4 L762.4 1211.5 L763.2 1211.9 L763.8 1212.1 L764.5 1212.4 L765.3 1212.8 L766.1 1212.9 L767.3 1213.2 L768.5 1214.1 L769.3 1215.1 L770.2 1215.4 L771.2 1215.0 L772.1 1215.8 L772.9 1217.1 L773.7 1217.1 L774.4 1216.2 L774.9 1215.9 L775.7 1216.3 L777.1 1217.0 L778.5 1217.3 L779.4 1217.6 L780.1 1217.6 L781.0 1217.0 L782.0 1216.8 L782.9 1217.0 L783.9 1217.4 L785.0 1218.2 L786.0 1219.3 L787.0 1220.1 L788.0 1219.9 L788.9 1219.8 L790.0 1220.1 L790.8 1220.0 L791.7 1220.4 L792.6 1221.0 L793.5 1221.2 L794.4 1221.2 L795.3 1221.1 L796.0 1221.1 L796.9 1221.5 L798.0 1221.9 L799.0 1222.3 L800.1 1222.6 L801.1 1222.7 L801.9 1222.8 L802.8 1223.1 L803.8 1223.2 L804.7 1223.3 L805.6 1223.5 L806.5 1224.0 L807.5 1224.4 L808.5 1224.6 L809.5 1224.6 L810.3 1224.9 L811.3 1225.1 L812.2 1225.2 L813.1 1225.5 L814.1 1225.7 L815.0 1226.0"/>
</g>
<path d="M104.4 725.9 V1234.8 M184.6 1227.8 V1234.8 M264.9 1227.8 V1234.8 M345.1 1227.8 V1234.8 M425.3 1227.8 V1234.8 M505.6 1227.8 V1234.8 M585.8 1227.8 V1234.8 M666.0 1227.8 V1234.8 M746.3 1227.8 V1234.8 M826.5 1227.8 V1234.8" stroke="#858585" stroke-width="1.25" fill="none"/>
<path d="M97.4 1227.8 H826.5 M97.4 1144.1 H104.4 M97.4 1060.5 H104.4 M97.4 976.9 H104.4 M97.4 893.2 H104.4 M97.4 809.5 H104.4 M97.4 725.9 H104.4" stroke="#858585" stroke-width="1.25" fill="none"/>
<g font-size="23" fill="#050505">
<text x="85.4" y="1234.2" text-anchor="end">0.0</text>
<text x="85.4" y="1150.9" text-anchor="end">0.2</text>
<text x="85.4" y="1067.5" text-anchor="end">0.4</text>
<text x="85.4" y="984.2" text-anchor="end">0.6</text>
<text x="85.4" y="900.9" text-anchor="end">0.8</text>
<text x="85.4" y="817.5" text-anchor="end">1.0</text>
<text x="85.4" y="734.2" text-anchor="end">1.2</text>
<text x="104.4" y="1262.3" text-anchor="middle">0</text>
<text x="184.6" y="1262.3" text-anchor="middle">100</text>
<text x="264.9" y="1262.3" text-anchor="middle">200</text>
<text x="345.1" y="1262.3" text-anchor="middle">300</text>
<text x="425.3" y="1262.3" text-anchor="middle">400</text>
<text x="505.6" y="1262.3" text-anchor="middle">500</text>
<text x="585.8" y="1262.3" text-anchor="middle">600</text>
<text x="666.0" y="1262.3" text-anchor="middle">700</text>
<text x="746.3" y="1262.3" text-anchor="middle">800</text>
<text x="826.5" y="1262.3" text-anchor="middle">900</text>
</g>
<text x="446.4" y="1287" text-anchor="middle" font-weight="bold" font-size="22.7" fill="#050505">Sample Temperature (<tspan font-size="14.1" dy="-6.5">o</tspan><tspan dy="6.5">C)</tspan></text>
<text transform="translate(26.8 992) rotate(-90)" text-anchor="middle" font-weight="bold" font-size="22.7" fill="#050505">Normalized signal, <tspan font-style="italic">m/z</tspan> 44 or 45</text>
<text x="-0.6" y="730.4" font-size="39" fill="#050505"><tspan font-size="42.5" dy="1.4">(</tspan><tspan dy="-1.4" dx="-0.9">b</tspan><tspan font-size="42.5" dy="1.4" dx="-0.9">)</tspan></text>
<g font-size="22.8" fill="#050505">
<path d="M133 716.6 H158.7" stroke="#2a97d0" stroke-width="2.45" fill="none"/>
<text x="160.5" y="723.8">Fe(II)-oxalate</text>
<path d="M133 746.7 H158.7" stroke="#404040" stroke-width="2.45" fill="none"/>
<text x="160.5" y="753.9">Ca-oxalate</text>
<path d="M133 776.9 H158.7" stroke="#8cbe4e" stroke-width="2.45" fill="none"/>
<text x="160.5" y="784.1">K-oxalate</text>
<path d="M390.2 716.6 H416.2" stroke="#dc1420" stroke-width="2.45" fill="none"/>
<text x="418.0" y="723.8">Fe(III)-oxalate</text>
<path d="M390.2 746.7 H416.2" stroke="#ea62e8" stroke-width="2.45" fill="none"/>
<text x="418.0" y="753.9">Na-oxalate</text>
<path d="M390.2 776.9 H416.2" stroke="#d28038" stroke-width="2.45" fill="none"/>
<text x="418.0" y="784.1">Ammonium-oxalate</text>
</g>
<g fill="none" stroke-linejoin="round" stroke-linecap="round" stroke-width="2.55">
<path stroke="#36829b" d="M175.0 1954.5 L176.8 1954.4 L178.6 1954.3 L180.4 1954.1 L182.3 1954.0 L184.2 1953.9 L186.0 1953.8 L187.9 1953.7 L189.8 1953.6 L191.7 1953.5 L193.6 1953.4 L195.5 1953.3 L197.3 1953.2 L199.2 1953.1 L201.1 1953.0 L202.9 1952.9 L204.8 1952.8 L206.6 1952.7 L208.4 1952.6 L210.2 1952.4 L212.0 1952.3 L213.7 1952.2 L215.4 1952.0 L217.1 1951.9 L218.8 1951.7 L220.4 1951.6 L222.0 1951.4 L223.5 1951.2 L225.0 1951.0 L226.9 1950.7 L228.8 1950.4 L230.6 1950.1 L232.4 1949.8 L234.1 1949.4 L235.8 1949.1 L237.4 1948.7 L239.0 1948.4 L240.6 1948.0 L242.2 1947.7 L243.8 1947.3 L245.3 1947.0 L246.9 1946.6 L248.4 1946.3 L250.0 1946.0 L251.8 1945.7 L253.5 1945.4 L255.3 1945.1 L257.1 1944.9 L258.9 1944.7 L260.6 1944.4 L262.3 1944.2 L264.0 1943.9 L265.6 1943.6 L267.1 1943.3 L268.6 1942.9 L270.0 1942.5 L271.7 1941.9 L273.2 1941.3 L274.7 1940.6 L276.1 1939.9 L277.4 1939.2 L278.7 1938.4 L280.0 1937.5 L281.4 1936.4 L282.7 1935.3 L283.9 1934.0 L285.1 1932.7 L286.3 1931.4 L287.5 1930.0 L288.6 1928.7 L289.6 1927.3 L290.7 1925.8 L291.7 1924.3 L292.7 1922.9 L293.8 1921.4 L295.0 1920.0 L296.2 1918.7 L297.4 1917.5 L298.7 1916.2 L300.0 1915.0 L301.3 1913.8 L302.6 1912.5 L303.8 1911.3 L305.0 1910.0 L306.2 1908.6 L307.3 1907.3 L308.4 1905.9 L309.4 1904.5 L310.5 1903.1 L311.5 1901.6 L312.5 1900.0 L313.3 1898.7 L314.1 1897.3 L314.9 1895.9 L315.7 1894.4 L316.5 1892.9 L317.2 1891.4 L317.9 1889.8 L318.6 1888.2 L319.3 1886.6 L320.0 1885.0 L320.6 1883.5 L321.2 1881.9 L321.7 1880.3 L322.2 1878.7 L322.7 1877.0 L323.2 1875.4 L323.7 1873.7 L324.2 1872.0 L324.7 1870.3 L325.1 1868.5 L325.6 1866.8 L326.0 1865.0 L326.4 1863.4 L326.8 1861.8 L327.1 1860.2 L327.5 1858.6 L327.8 1856.9 L328.2 1855.2 L328.5 1853.5 L328.8 1851.8 L329.2 1850.2 L329.5 1848.5 L329.8 1846.8 L330.1 1845.1 L330.4 1843.4 L330.7 1841.7 L331.0 1840.0 L331.3 1838.3 L331.6 1836.7 L331.9 1835.0 L332.1 1833.3 L332.4 1831.7 L332.7 1830.0 L332.9 1828.3 L333.2 1826.7 L333.4 1825.0 L333.7 1823.3 L334.0 1821.7 L334.2 1820.0 L334.5 1818.3 L334.7 1816.7 L335.0 1815.0 L335.3 1813.3 L335.5 1811.7 L335.8 1810.0 L336.1 1808.3 L336.4 1806.7 L336.6 1805.0 L336.9 1803.3 L337.2 1801.7 L337.5 1800.0 L337.7 1798.3 L338.0 1796.7 L338.3 1795.0 L338.5 1793.3 L338.8 1791.7 L339.0 1790.0 L339.2 1788.2 L339.5 1786.4 L339.7 1784.6 L339.9 1782.9 L340.1 1781.1 L340.4 1779.3 L340.6 1777.5 L340.8 1775.7 L341.0 1773.9 L341.2 1772.1 L341.4 1770.4 L341.6 1768.6 L341.8 1766.8 L342.0 1765.0 L342.2 1763.2 L342.4 1761.4 L342.7 1759.6 L342.9 1757.8 L343.1 1756.0 L343.3 1754.1 L343.6 1752.3 L343.8 1750.5 L344.0 1748.7 L344.2 1746.9 L344.4 1745.2 L344.6 1743.4 L344.8 1741.7 L345.0 1740.0 L345.2 1738.3 L345.4 1736.6 L345.5 1735.1 L345.7 1733.5 L345.9 1732.0 L346.0 1730.4 L346.2 1728.9 L346.3 1727.3 L346.5 1725.6 L346.7 1723.8 L346.8 1722.0 L347.0 1720.0 L347.1 1718.6 L347.3 1717.1 L347.4 1715.6 L347.5 1714.0 L347.7 1712.4 L347.8 1710.8 L347.9 1709.1 L348.1 1707.4 L348.2 1705.6 L348.4 1703.8 L348.5 1702.0 L348.6 1700.1 L348.8 1698.3 L348.9 1696.4 L349.1 1694.5 L349.2 1692.6 L349.4 1690.7 L349.5 1688.8 L349.7 1686.9 L349.8 1684.9 L350.0 1683.0 L350.1 1681.1 L350.3 1679.2 L350.4 1677.3 L350.6 1675.5 L350.7 1673.6 L350.9 1671.8 L351.0 1670.0 L351.1 1668.2 L351.3 1666.4 L351.4 1664.6 L351.6 1662.9 L351.7 1661.1 L351.8 1659.3 L352.0 1657.5 L352.1 1655.7 L352.3 1653.9 L352.4 1652.1 L352.5 1650.4 L352.7 1648.6 L352.8 1646.8 L352.9 1645.0 L353.1 1643.2 L353.2 1641.4 L353.4 1639.6 L353.5 1637.9 L353.6 1636.1 L353.8 1634.3 L353.9 1632.5 L354.1 1630.7 L354.2 1628.9 L354.4 1627.1 L354.5 1625.4 L354.7 1623.6 L354.8 1621.8 L355.0 1620.0 L355.2 1618.2 L355.3 1616.4 L355.5 1614.6 L355.6 1612.7 L355.8 1610.9 L356.0 1609.0 L356.1 1607.1 L356.3 1605.2 L356.5 1603.4 L356.7 1601.5 L356.8 1599.6 L357.0 1597.7 L357.2 1595.8 L357.4 1594.0 L357.5 1592.1 L357.7 1590.3 L357.9 1588.5 L358.1 1586.6 L358.3 1584.9 L358.4 1583.1 L358.6 1581.3 L358.8 1579.6 L359.0 1577.9 L359.2 1576.3 L359.4 1574.7 L359.6 1573.1 L359.8 1571.5 L360.0 1570.0 L360.3 1568.0 L360.5 1566.0 L360.8 1564.0 L361.1 1562.0 L361.4 1560.1 L361.6 1558.2 L361.9 1556.4 L362.2 1554.6 L362.5 1552.8 L362.8 1551.2 L363.1 1549.6 L363.4 1548.0 L363.8 1546.6 L364.1 1545.2 L364.5 1544.0 L365.2 1541.9 L365.8 1539.9 L366.5 1538.2 L367.3 1537.0 L368.0 1536.5 L368.7 1536.9 L369.4 1537.9 L370.1 1539.4 L370.7 1541.2 L371.4 1543.1 L372.0 1545.0 L372.4 1546.3 L372.7 1547.6 L373.0 1549.0 L373.3 1550.5 L373.6 1552.0 L373.8 1553.6 L374.1 1555.3 L374.3 1557.0 L374.5 1558.7 L374.8 1560.5 L375.0 1562.4 L375.2 1564.2 L375.5 1566.1 L375.7 1568.1 L376.0 1570.0 L376.2 1571.5 L376.4 1573.1 L376.6 1574.7 L376.9 1576.4 L377.1 1578.2 L377.3 1580.0 L377.5 1581.8 L377.7 1583.7 L378.0 1585.6 L378.2 1587.5 L378.4 1589.5 L378.6 1591.4 L378.9 1593.4 L379.1 1595.3 L379.3 1597.3 L379.5 1599.2 L379.8 1601.2 L380.0 1603.1 L380.2 1605.0 L380.4 1606.9 L380.6 1608.7 L380.8 1610.5 L381.0 1612.2 L381.2 1613.9 L381.4 1615.5 L381.6 1617.1 L381.8 1618.6 L382.0 1620.0 L382.3 1622.0 L382.5 1623.9 L382.8 1625.6 L383.0 1627.3 L383.2 1629.0 L383.4 1630.6 L383.7 1632.1 L383.9 1633.7 L384.1 1635.2 L384.3 1636.8 L384.6 1638.4 L384.8 1640.0 L385.0 1641.7 L385.3 1643.3 L385.5 1645.0 L385.7 1646.6 L385.9 1648.3 L386.2 1649.9 L386.4 1651.6 L386.6 1653.2 L386.9 1654.9 L387.2 1656.5 L387.4 1658.2 L387.7 1659.8 L388.0 1661.5 L388.3 1663.1 L388.6 1664.8 L388.9 1666.4 L389.2 1668.1 L389.6 1669.7 L389.9 1671.4 L390.3 1673.0 L390.6 1674.7 L391.0 1676.3 L391.3 1678.0 L391.7 1679.6 L392.1 1681.3 L392.4 1682.9 L392.8 1684.6 L393.2 1686.2 L393.6 1687.9 L394.0 1689.5 L394.4 1691.2 L394.8 1692.8 L395.2 1694.5 L395.7 1696.1 L396.1 1697.8 L396.6 1699.4 L397.1 1701.1 L397.6 1702.7 L398.2 1704.4 L398.8 1706.0 L399.4 1707.7 L400.0 1709.3 L400.6 1711.0 L401.2 1712.6 L401.8 1714.3 L402.4 1715.9 L403.0 1717.6 L403.6 1719.2 L404.2 1720.8 L404.8 1722.5 L405.4 1724.1 L406.0 1725.8 L406.6 1727.4 L407.2 1729.1 L407.8 1730.7 L408.3 1732.4 L408.9 1734.0 L409.5 1735.7 L410.0 1737.3 L410.5 1739.0 L411.0 1740.6 L411.4 1742.3 L411.9 1743.9 L412.3 1745.6 L412.7 1747.2 L413.1 1748.9 L413.5 1750.5 L413.9 1752.2 L414.3 1753.8 L414.7 1755.5 L415.0 1757.1 L415.4 1758.8 L415.8 1760.4 L416.1 1762.1 L416.5 1763.7 L416.8 1765.4 L417.1 1767.0 L417.5 1768.7 L417.8 1770.3 L418.1 1772.0 L418.4 1773.6 L418.7 1775.3 L419.1 1776.9 L419.4 1778.6 L419.7 1780.2 L420.1 1781.9 L420.4 1783.5 L420.8 1785.2 L421.1 1786.8 L421.5 1788.5 L421.8 1790.1 L422.1 1791.8 L422.5 1793.4 L422.8 1795.1 L423.1 1796.7 L423.4 1798.4 L423.7 1800.0 L423.9 1801.7 L424.2 1803.3 L424.4 1805.0 L424.6 1806.6 L424.9 1808.3 L425.1 1810.0 L425.3 1811.6 L425.5 1813.3 L425.8 1814.9 L426.0 1816.6 L426.3 1818.2 L426.6 1819.9 L426.9 1821.5 L427.2 1823.2 L427.5 1824.8 L427.8 1826.5 L428.2 1828.1 L428.5 1829.8 L428.9 1831.4 L429.2 1833.1 L429.6 1834.7 L429.9 1836.4 L430.3 1838.0 L430.7 1839.7 L431.0 1841.3 L431.4 1843.0 L431.8 1844.6 L432.2 1846.3 L432.6 1847.9 L433.0 1849.6 L433.4 1851.2 L433.8 1852.9 L434.3 1854.5 L434.7 1856.2 L435.2 1857.8 L435.7 1859.5 L436.2 1861.1 L436.7 1862.8 L437.3 1864.4 L437.8 1866.1 L438.4 1867.8 L438.9 1869.4 L439.5 1871.1 L440.2 1872.7 L440.8 1874.3 L441.5 1876.0 L442.2 1877.6 L442.9 1879.2 L443.7 1880.8 L444.5 1882.4 L445.3 1884.0 L446.1 1885.6 L447.0 1887.2 L447.9 1888.8 L448.8 1890.4 L449.7 1891.9 L450.5 1893.4 L451.4 1894.8 L452.3 1896.1 L453.1 1897.4 L454.1 1898.8 L455.0 1900.2 L456.0 1901.5 L456.9 1902.7 L457.8 1903.8 L458.8 1905.0 L459.9 1906.1 L461.0 1907.3 L462.1 1908.5 L463.3 1909.6 L464.5 1910.7 L465.8 1911.9 L467.1 1913.0 L468.4 1914.1 L469.9 1915.1 L471.3 1916.2 L472.9 1917.2 L474.2 1918.0 L475.6 1918.8 L477.0 1919.5 L478.5 1920.3 L480.0 1921.0 L481.6 1921.7 L483.2 1922.4 L484.8 1923.1 L486.4 1923.8 L488.1 1924.5 L489.7 1925.2 L491.4 1925.8 L493.1 1926.5 L494.7 1927.1 L496.3 1927.7 L498.0 1928.4 L499.6 1929.0 L501.3 1929.6 L502.9 1930.2 L504.6 1930.8 L506.3 1931.4 L508.0 1932.0 L509.7 1932.6 L511.5 1933.1 L513.2 1933.6 L514.9 1934.1 L516.6 1934.6 L518.3 1935.1 L520.0 1935.5 L521.7 1935.9 L523.3 1936.3 L525.0 1936.6 L526.6 1936.9 L528.3 1937.2 L530.0 1937.5 L531.6 1937.8 L533.3 1938.0 L535.0 1938.3 L536.6 1938.5 L538.3 1938.7 L540.0 1938.9 L541.7 1939.1 L543.3 1939.3 L545.0 1939.5 L546.8 1939.7 L548.5 1939.9 L550.3 1940.0 L552.1 1940.2 L553.8 1940.3 L555.6 1940.4 L557.3 1940.5 L559.1 1940.6 L560.9 1940.7 L562.7 1940.7 L564.5 1940.8 L566.3 1940.9 L568.1 1940.9 L570.0 1941.0 L571.7 1941.0 L573.4 1941.1 L575.2 1941.1 L576.9 1941.2 L578.7 1941.2 L580.5 1941.2 L582.3 1941.2 L584.1 1941.2 L585.9 1941.3 L587.7 1941.2 L589.5 1941.2 L591.3 1941.2 L593.1 1941.2 L594.8 1941.2 L596.6 1941.1 L598.3 1941.1 L600.0 1941.0 L601.9 1940.9 L603.7 1940.8 L605.5 1940.8 L607.3 1940.7 L609.1 1940.5 L610.9 1940.4 L612.7 1940.3 L614.4 1940.2 L616.2 1940.0 L617.9 1939.8 L619.7 1939.7 L621.5 1939.5 L623.2 1939.2 L625.0 1939.0 L626.7 1938.8 L628.4 1938.5 L630.1 1938.2 L631.8 1937.8 L633.6 1937.5 L635.3 1937.2 L637.0 1936.8 L638.8 1936.4 L640.5 1936.1 L642.1 1935.7 L643.8 1935.3 L645.4 1935.0 L647.0 1934.6 L648.5 1934.3 L650.0 1934.0 L651.8 1933.6 L653.6 1933.2 L655.3 1932.9 L656.9 1932.5 L658.5 1932.2 L660.1 1931.8 L661.7 1931.5 L663.3 1931.2 L665.0 1931.0 L666.7 1930.8 L668.3 1930.6 L670.0 1930.4 L671.7 1930.2 L673.3 1930.1 L675.0 1930.0 L676.7 1930.0 L678.3 1929.9 L680.0 1930.0 L681.7 1930.1 L683.3 1930.3 L685.0 1930.5 L686.7 1930.7 L688.4 1931.0 L690.0 1931.4 L691.7 1931.7 L693.3 1932.1 L695.0 1932.5 L696.7 1932.9 L698.4 1933.4 L700.0 1934.0 L701.7 1934.6 L703.3 1935.1 L705.0 1935.7 L706.7 1936.3 L708.3 1936.9 L710.0 1937.5 L711.6 1938.1 L713.3 1938.6 L714.8 1939.2 L716.4 1939.8 L718.0 1940.4 L719.7 1941.0 L721.4 1941.5 L723.1 1942.0 L725.0 1942.5 L726.5 1942.8 L727.9 1943.1 L729.5 1943.4 L731.0 1943.7 L732.6 1943.9 L734.2 1944.2 L735.9 1944.4 L737.5 1944.6 L739.2 1944.8 L741.0 1945.0 L742.7 1945.2 L744.5 1945.4 L746.3 1945.6 L748.1 1945.8 L750.0 1946.0 L751.6 1946.2 L753.1 1946.3 L754.8 1946.5 L756.4 1946.6 L758.1 1946.8 L759.8 1946.9 L761.5 1947.1 L763.3 1947.2 L765.0 1947.4 L766.8 1947.5 L768.6 1947.7 L770.4 1947.8 L772.2 1947.9 L774.0 1948.0 L775.8 1948.2 L777.6 1948.3 L779.4 1948.4 L781.2 1948.5 L783.0 1948.6 L784.8 1948.7 L786.5 1948.8 L788.3 1948.9 L790.0 1949.0 L791.8 1949.1 L793.6 1949.2 L795.4 1949.2 L797.2 1949.3 L799.0 1949.4 L800.8 1949.4 L802.6 1949.5 L804.4 1949.5 L806.2 1949.6 L807.9 1949.6 L809.7 1949.6 L811.5 1949.7 L813.3 1949.7 L815.0 1949.7 L816.8 1949.8 L818.6 1949.8 L820.4 1949.8 L822.2 1949.9 L823.9 1949.9 L825.7 1950.0 L827.5 1950.0"/>
<path stroke="#222222" d="M175.0 1954.0 L176.0 1953.8 L176.9 1953.7 L177.9 1953.5 L178.9 1953.4 L179.9 1953.2 L180.9 1953.0 L181.9 1952.8 L182.9 1952.6 L183.9 1952.4 L185.0 1952.2 L185.9 1952.0 L186.9 1951.8 L187.9 1951.6 L188.9 1951.4 L189.9 1951.3 L190.9 1951.1 L191.8 1950.9 L192.7 1950.8 L193.7 1950.6 L194.6 1950.4 L195.5 1950.4 L196.5 1950.4 L197.4 1950.3 L198.2 1950.2 L199.1 1950.0 L200.0 1950.1 L201.1 1950.2 L202.2 1950.1 L203.1 1950.0 L204.1 1950.0 L205.0 1950.1 L205.9 1950.2 L206.8 1950.3 L207.7 1950.4 L208.6 1950.6 L209.5 1950.8 L210.5 1951.0 L211.4 1951.1 L212.3 1951.0 L213.2 1950.9 L214.1 1950.9 L214.9 1950.8 L215.8 1950.8 L216.8 1950.7 L217.8 1950.5 L218.8 1950.4 L219.7 1950.1 L220.7 1949.9 L221.5 1949.7 L222.3 1949.4 L223.2 1949.1 L224.2 1949.0 L225.2 1948.7 L226.1 1948.2 L227.1 1947.9 L228.1 1947.6 L229.0 1947.5 L229.9 1947.8 L230.7 1947.7 L231.6 1947.4 L232.5 1947.3 L233.6 1947.3 L234.7 1947.6 L235.6 1947.7 L236.5 1947.7 L237.5 1948.0 L238.5 1948.0 L239.5 1948.1 L240.4 1948.3 L241.3 1948.4 L242.2 1948.5 L243.1 1948.7 L244.1 1948.8 L245.2 1948.9 L246.2 1948.9 L247.2 1949.0 L248.1 1949.1 L248.9 1949.2 L249.8 1949.2 L250.8 1949.0 L251.9 1948.9 L252.8 1948.9 L253.6 1948.9 L254.5 1948.8 L255.6 1948.6 L256.6 1948.3 L257.6 1948.3 L258.6 1948.3 L259.5 1948.0 L260.3 1947.8 L261.4 1947.8 L262.4 1947.8 L263.4 1947.9 L264.2 1947.8 L265.2 1947.8 L266.2 1947.6 L267.1 1947.3 L268.1 1947.1 L269.1 1947.0 L270.1 1946.9 L271.0 1946.8 L271.9 1946.8 L272.9 1946.7 L273.8 1946.5 L274.7 1946.4 L275.7 1946.7 L276.7 1946.9 L277.6 1946.9 L278.5 1946.8 L279.4 1946.7 L280.4 1946.8 L281.6 1946.9 L282.7 1946.8 L283.6 1946.8 L284.4 1946.9 L285.3 1946.8 L286.2 1946.8 L287.0 1946.8 L288.0 1947.0 L289.1 1947.3 L290.0 1947.3 L290.9 1947.4 L291.8 1947.3 L292.8 1947.1 L293.7 1947.4 L294.7 1947.8 L295.7 1947.8 L296.6 1947.8 L297.4 1947.9 L298.3 1947.9 L299.2 1948.0 L300.2 1948.4 L301.3 1948.7 L302.2 1949.0 L303.0 1949.2 L304.0 1949.2 L305.0 1949.1 L306.0 1949.2 L306.9 1949.6 L307.9 1949.8 L309.0 1949.8 L310.0 1949.8 L310.9 1950.1 L311.7 1950.2 L312.7 1950.2 L313.6 1950.3 L314.4 1950.4 L315.3 1950.7 L316.3 1950.8 L317.2 1950.8 L318.2 1950.9 L319.1 1950.9 L319.9 1951.0 L320.9 1951.1 L321.9 1951.1 L322.9 1951.2 L323.9 1951.3 L324.8 1951.4 L325.8 1951.5 L326.8 1951.6 L327.8 1951.7 L328.8 1951.8 L329.8 1951.9 L330.8 1951.9 L331.8 1951.9 L332.8 1952.0 L333.8 1952.2 L334.8 1952.2 L335.9 1952.2 L336.9 1952.3 L338.0 1952.4 L339.0 1952.4 L340.0 1952.4 L340.9 1952.5 L341.8 1952.6 L342.8 1952.7 L343.7 1952.7 L344.7 1952.8 L345.7 1952.8 L346.7 1952.9 L347.7 1952.9 L348.7 1953.0 L349.7 1953.0 L350.7 1953.1 L351.7 1953.1 L352.7 1953.2 L353.8 1953.2 L354.8 1953.3 L355.8 1953.3 L356.9 1953.3 L357.9 1953.4 L359.0 1953.4 L360.0 1953.4 L361.0 1953.5 L362.1 1953.5 L363.1 1953.6 L364.1 1953.6 L365.2 1953.6 L366.2 1953.6 L367.2 1953.6 L368.2 1953.7 L369.2 1953.7 L370.1 1953.7 L371.1 1953.7 L372.1 1953.7 L373.0 1953.7 L373.9 1953.7 L374.9 1953.7 L375.8 1953.7 L376.6 1953.6 L377.5 1953.6 L378.4 1953.6 L379.2 1953.5 L380.0 1953.5 L381.1 1953.4 L382.3 1953.3 L383.3 1953.3 L384.4 1953.2 L385.4 1953.1 L386.4 1953.0 L387.4 1953.0 L388.4 1952.8 L389.3 1952.7 L390.3 1952.6 L391.2 1952.5 L392.1 1952.3 L393.0 1952.2 L394.0 1952.1 L394.9 1951.9 L395.8 1951.8 L396.8 1951.6 L397.7 1951.3 L398.7 1951.1 L399.6 1951.0 L400.5 1950.6 L401.5 1950.3 L402.6 1950.1 L403.7 1949.9 L404.6 1949.6 L405.5 1949.3 L406.5 1949.0 L407.5 1948.7 L408.5 1948.5 L409.5 1948.3 L410.5 1948.0 L411.5 1947.5 L412.5 1946.9 L413.4 1946.7 L414.3 1946.6 L415.1 1946.1 L416.1 1945.6 L417.0 1945.3 L417.8 1944.8 L418.7 1944.3 L419.5 1944.1 L420.7 1943.4 L421.4 1942.7 L421.8 1942.5 L422.5 1942.0 L423.6 1941.6 L424.4 1941.1 L425.0 1940.7 L425.6 1940.2 L426.1 1939.7 L427.0 1939.2 L428.2 1938.5 L428.9 1937.7 L429.4 1937.2 L430.0 1936.7 L430.5 1936.0 L431.3 1935.6 L432.0 1935.0 L432.4 1933.9 L433.0 1932.7 L433.6 1932.1 L434.4 1931.4 L435.2 1930.6 L435.8 1929.9 L436.4 1929.2 L436.8 1928.7 L437.4 1927.7 L438.1 1926.8 L438.6 1926.2 L439.0 1925.5 L439.6 1924.8 L440.3 1923.9 L441.0 1922.9 L441.5 1921.7 L442.0 1920.5 L442.9 1919.9 L443.6 1919.6 L444.0 1919.1 L444.7 1918.6 L445.4 1917.7 L446.0 1916.3 L446.4 1915.8 L446.8 1915.3 L447.3 1914.0 L448.0 1913.0 L448.7 1912.1 L449.1 1911.2 L449.5 1910.4 L450.3 1909.8 L450.8 1909.0 L451.3 1908.1 L451.8 1907.2 L452.5 1906.5 L453.0 1905.8 L453.3 1904.9 L453.7 1903.9 L454.3 1903.1 L454.9 1902.1 L455.4 1901.4 L455.8 1900.7 L456.4 1899.6 L456.8 1899.0 L457.4 1898.3 L457.9 1897.3 L458.5 1896.6 L459.3 1895.6 L459.8 1894.4 L460.2 1893.8 L460.5 1893.0 L460.9 1892.0 L461.3 1891.3 L461.7 1890.4 L462.0 1889.0 L462.4 1887.9 L462.6 1887.3 L463.1 1886.3 L463.6 1885.2 L464.1 1884.2 L464.4 1883.2 L464.7 1882.8 L465.1 1882.0 L465.5 1880.6 L465.8 1879.8 L466.2 1879.0 L466.8 1878.0 L467.2 1877.2 L467.5 1876.5 L467.8 1875.5 L468.5 1874.3 L469.0 1873.2 L469.3 1872.7 L469.5 1872.0 L469.9 1870.9 L470.4 1870.1 L470.9 1869.0 L471.4 1867.9 L471.7 1867.3 L472.1 1866.8 L472.5 1866.2 L472.9 1865.2 L473.5 1863.8 L473.8 1862.5 L474.1 1861.4 L474.5 1860.5 L475.1 1860.0 L475.5 1859.1 L475.7 1858.0 L476.2 1857.3 L476.8 1856.6 L477.2 1855.8 L477.6 1854.7 L477.8 1853.6 L478.1 1853.1 L478.5 1852.2 L479.1 1850.6 L479.7 1849.6 L480.2 1849.2 L480.7 1848.5 L481.1 1847.8 L481.4 1847.1 L481.8 1846.0 L482.1 1844.7 L482.6 1843.7 L483.0 1842.8 L483.6 1842.0 L484.2 1841.2 L484.5 1840.1 L484.8 1839.1 L485.4 1838.1 L485.8 1837.3 L486.2 1836.4 L486.7 1835.5 L487.1 1834.8 L487.3 1834.4 L487.7 1833.8 L488.4 1833.0 L488.8 1831.8 L489.2 1830.4 L489.7 1829.8 L490.5 1829.3 L491.2 1828.8 L491.6 1828.2 L491.9 1827.6 L492.5 1826.9 L493.2 1825.9 L494.1 1824.9 L494.9 1824.1 L495.5 1823.7 L496.3 1823.1 L497.1 1822.6 L497.9 1822.5 L498.5 1822.2 L499.3 1821.7 L500.2 1821.3 L501.2 1821.1 L502.3 1820.7 L503.4 1820.0 L504.1 1819.5 L504.9 1818.9 L505.9 1818.9 L506.8 1818.8 L507.7 1818.4 L508.5 1818.2 L509.4 1817.8 L510.4 1817.3 L511.4 1817.0 L512.2 1816.8 L512.9 1816.8 L513.6 1816.4 L514.5 1815.7 L515.5 1815.0 L516.5 1814.9 L517.4 1815.1 L518.3 1814.6 L519.0 1814.3 L519.9 1814.4 L520.7 1814.3 L521.8 1814.6 L523.1 1814.9 L523.9 1815.0 L524.6 1814.9 L525.7 1814.6 L526.6 1814.6 L527.5 1815.0 L528.3 1815.2 L529.1 1815.2 L529.9 1815.0 L530.7 1814.4 L531.6 1813.9 L532.3 1814.0 L533.2 1813.8 L534.1 1813.7 L535.0 1813.4 L536.0 1812.6 L536.9 1811.8 L537.7 1811.1 L538.6 1810.8 L539.3 1810.3 L540.1 1809.8 L541.2 1809.2 L542.2 1808.5 L543.0 1808.2 L543.9 1808.2 L544.9 1807.7 L545.8 1807.0 L546.7 1807.1 L547.6 1807.4 L548.6 1806.9 L549.7 1806.7 L550.7 1807.2 L551.7 1807.2 L552.6 1806.5 L553.7 1806.0 L555.0 1805.9 L556.0 1805.8 L556.9 1805.7 L557.9 1805.8 L558.8 1806.0 L559.7 1806.2 L560.7 1806.2 L561.7 1806.1 L562.6 1806.0 L563.3 1806.4 L564.2 1806.5 L565.0 1806.4 L566.0 1806.6 L566.9 1807.0 L567.9 1807.2 L568.7 1807.5 L569.7 1808.1 L570.7 1808.5 L571.4 1808.5 L572.1 1808.7 L572.9 1808.9 L573.9 1809.5 L575.0 1810.2 L575.9 1810.7 L576.6 1810.9 L577.4 1811.1 L578.3 1811.4 L579.1 1811.8 L580.0 1812.2 L580.8 1812.8 L581.6 1813.2 L582.5 1813.6 L583.4 1814.1 L584.2 1814.7 L585.1 1815.1 L585.9 1815.4 L586.9 1816.0 L587.7 1816.6 L588.5 1816.8 L589.4 1816.9 L590.4 1817.0 L591.3 1817.0 L592.1 1817.3 L592.8 1817.7 L593.6 1818.2 L594.7 1818.5 L595.8 1818.6 L596.8 1819.1 L597.7 1820.0 L598.7 1820.4 L599.6 1820.6 L600.2 1821.5 L601.0 1822.8 L601.9 1823.2 L602.8 1823.0 L603.6 1823.0 L604.6 1823.8 L605.5 1824.8 L606.1 1825.4 L606.7 1825.9 L607.5 1826.3 L608.5 1826.7 L609.2 1826.9 L610.1 1827.2 L610.9 1827.9 L611.6 1827.8 L612.5 1827.5 L613.1 1827.6 L613.7 1827.2 L614.2 1826.3 L614.6 1825.4 L615.1 1824.6 L615.6 1823.7 L616.0 1822.5 L616.5 1821.5 L617.1 1820.7 L617.5 1819.8 L617.9 1818.9 L618.5 1818.1 L618.8 1817.7 L619.2 1817.1 L619.7 1816.4 L620.2 1815.3 L620.6 1814.1 L620.9 1813.1 L621.2 1812.5 L621.7 1812.0 L622.2 1811.7 L622.6 1811.0 L622.9 1809.7 L623.2 1808.1 L623.7 1806.9 L623.9 1806.2 L623.9 1805.5 L624.2 1804.9 L624.8 1803.9 L625.2 1802.7 L625.4 1801.9 L625.7 1801.1 L626.0 1799.9 L626.3 1798.8 L626.7 1797.6 L627.0 1796.7 L627.1 1795.8 L627.4 1795.0 L627.8 1794.3 L628.0 1793.6 L628.2 1792.6 L628.7 1791.2 L628.9 1790.0 L628.8 1789.2 L629.0 1788.4 L629.4 1787.5 L629.7 1786.7 L630.2 1786.2 L630.9 1785.3 L631.2 1784.0 L631.2 1782.9 L631.3 1782.0 L631.6 1781.2 L631.7 1780.1 L631.9 1778.9 L632.3 1777.9 L632.6 1777.0 L632.9 1776.4 L633.1 1775.7 L633.3 1774.6 L633.7 1773.7 L634.0 1772.7 L634.1 1772.0 L634.4 1771.7 L634.8 1770.8 L635.0 1769.5 L635.2 1768.4 L635.4 1767.5 L635.6 1766.7 L635.8 1765.7 L636.1 1764.6 L636.6 1763.6 L636.9 1762.6 L637.1 1761.7 L637.2 1761.3 L637.4 1760.3 L637.8 1758.8 L638.0 1757.6 L638.2 1756.8 L638.2 1755.9 L638.5 1754.9 L639.0 1753.8 L639.3 1753.0 L639.5 1752.4 L639.7 1751.4 L640.0 1750.1 L640.2 1749.2 L640.4 1748.2 L640.5 1747.1 L640.5 1746.3 L640.7 1745.5 L641.1 1744.8 L641.5 1743.9 L641.8 1742.6 L641.9 1741.8 L642.1 1741.4 L642.2 1740.6 L642.3 1739.2 L642.5 1738.1 L642.8 1737.4 L643.0 1736.5 L643.2 1735.4 L643.4 1734.5 L643.5 1733.6 L643.6 1732.5 L643.7 1731.5 L643.9 1730.4 L644.0 1729.5 L643.9 1728.8 L643.9 1728.0 L643.9 1726.8 L644.1 1725.8 L644.3 1725.1 L644.4 1724.3 L644.6 1723.3 L644.7 1722.3 L644.8 1721.4 L644.8 1720.3 L644.9 1719.5 L645.1 1718.9 L645.2 1717.6 L645.5 1716.2 L645.7 1715.4 L645.6 1714.8 L645.6 1714.1 L646.1 1713.3 L646.6 1712.5 L646.5 1711.4 L646.5 1710.1 L646.7 1708.9 L647.0 1707.8 L647.2 1706.8 L647.3 1705.6 L647.4 1704.6 L647.5 1704.1 L647.6 1703.4 L647.7 1702.2 L647.9 1700.7 L648.1 1699.6 L648.3 1698.8 L648.4 1697.9 L648.7 1696.9 L648.9 1695.9 L649.0 1694.7 L649.1 1693.9 L649.2 1693.2 L649.5 1691.9 L649.8 1690.8 L650.0 1690.1 L650.3 1689.3 L650.5 1688.3 L650.6 1687.2 L650.8 1686.1 L651.1 1684.9 L651.3 1683.5 L651.4 1682.5 L651.7 1681.9 L652.0 1681.4 L652.1 1680.7 L652.2 1679.5 L652.6 1678.5 L653.0 1677.6 L653.1 1676.6 L653.2 1675.6 L653.4 1674.5 L653.6 1673.2 L653.8 1672.4 L654.1 1671.5 L654.3 1670.1 L654.6 1669.0 L654.8 1668.3 L655.0 1668.0 L655.4 1667.4 L655.8 1666.2 L655.9 1664.9 L655.9 1663.7 L655.8 1663.1 L655.9 1662.6 L656.4 1661.3 L656.8 1659.9 L656.6 1658.9 L656.7 1658.1 L657.2 1657.1 L657.3 1655.9 L657.3 1654.9 L657.6 1653.9 L657.8 1653.0 L657.9 1652.2 L658.2 1651.4 L658.3 1650.4 L658.6 1649.2 L658.7 1648.0 L658.7 1646.9 L658.7 1646.1 L659.0 1645.3 L659.2 1644.2 L659.4 1643.2 L659.5 1642.1 L659.7 1641.0 L659.9 1639.7 L659.9 1638.7 L660.1 1638.2 L660.3 1637.3 L660.5 1636.4 L660.8 1635.5 L660.9 1634.4 L660.9 1633.6 L660.9 1632.7 L660.8 1631.8 L661.2 1631.0 L661.5 1630.0 L661.7 1628.7 L661.9 1627.4 L662.0 1626.4 L662.3 1626.0 L662.5 1625.5 L662.6 1624.5 L662.8 1623.2 L663.1 1622.3 L663.3 1621.6 L663.5 1620.6 L663.9 1619.4 L664.4 1618.5 L664.8 1617.5 L665.0 1616.2 L665.2 1615.4 L665.4 1614.9 L665.7 1613.9 L666.1 1612.8 L666.6 1612.0 L667.0 1611.3 L667.2 1610.4 L667.4 1609.6 L667.7 1608.3 L667.8 1607.1 L668.0 1606.2 L668.5 1605.2 L668.8 1604.6 L669.1 1604.2 L669.4 1603.4 L669.5 1602.3 L669.8 1600.9 L670.1 1599.7 L670.4 1598.7 L670.6 1598.1 L670.8 1597.1 L670.8 1596.0 L670.9 1595.2 L671.2 1594.7 L671.3 1593.7 L671.7 1592.4 L672.1 1591.5 L672.0 1590.7 L672.0 1589.6 L672.3 1588.2 L672.5 1586.7 L672.5 1585.5 L672.8 1584.4 L673.1 1583.6 L673.2 1583.2 L673.4 1582.4 L673.6 1581.4 L673.7 1580.6 L673.9 1579.8 L674.1 1578.5 L674.3 1577.5 L674.5 1577.2 L674.7 1576.4 L675.1 1575.3 L675.2 1574.5 L675.4 1573.2 L675.9 1571.8 L676.2 1570.7 L676.5 1569.6 L677.0 1568.7 L677.4 1568.0 L677.6 1567.4 L677.9 1566.4 L678.3 1565.2 L678.6 1564.3 L679.0 1563.3 L679.4 1562.6 L679.8 1561.9 L680.2 1560.8 L680.4 1559.7 L680.8 1559.0 L681.4 1558.2 L681.9 1557.6 L681.9 1557.2 L682.3 1556.6 L682.8 1555.5 L683.0 1553.9 L683.4 1552.7 L683.6 1551.9 L683.8 1550.8 L684.2 1549.4 L684.5 1548.8 L684.8 1548.3 L685.1 1547.0 L685.4 1545.9 L685.7 1545.2 L686.2 1544.6 L686.8 1543.8 L687.1 1542.7 L687.5 1541.6 L687.9 1540.9 L688.6 1539.8 L689.3 1538.6 L689.6 1537.9 L689.9 1537.2 L690.4 1536.2 L690.9 1535.8 L691.6 1536.1 L692.1 1536.5 L692.6 1537.0 L693.2 1538.6 L693.8 1540.2 L694.4 1541.2 L694.9 1541.9 L695.4 1542.2 L695.9 1543.4 L696.5 1544.9 L697.0 1545.7 L697.3 1546.0 L697.8 1546.7 L698.1 1547.7 L698.4 1548.6 L699.0 1549.5 L699.4 1550.3 L699.7 1551.3 L699.8 1552.5 L699.8 1553.6 L699.8 1554.2 L700.1 1554.7 L700.4 1555.5 L700.5 1556.3 L700.6 1557.4 L700.9 1558.6 L701.0 1559.7 L701.1 1560.6 L701.3 1561.2 L701.4 1562.5 L701.6 1563.7 L701.7 1564.7 L701.8 1565.9 L702.0 1567.1 L702.2 1568.5 L702.2 1569.6 L702.3 1570.4 L702.5 1571.2 L702.8 1571.9 L703.1 1572.3 L703.2 1572.9 L703.4 1573.8 L703.5 1575.1 L703.5 1576.2 L703.6 1577.3 L703.7 1578.1 L703.9 1578.8 L704.2 1580.0 L704.3 1581.1 L704.3 1582.1 L704.4 1583.0 L704.7 1583.9 L704.8 1585.0 L704.7 1586.0 L704.8 1586.6 L705.0 1587.4 L705.2 1588.7 L705.7 1590.0 L705.8 1591.2 L705.7 1592.0 L705.9 1592.3 L706.1 1593.4 L706.1 1594.8 L706.0 1596.2 L706.3 1597.4 L706.6 1598.0 L706.7 1598.9 L706.9 1600.3 L707.0 1601.2 L707.2 1601.7 L707.3 1602.9 L707.3 1604.1 L707.4 1604.8 L707.6 1605.8 L707.9 1607.0 L707.9 1607.9 L708.2 1608.7 L708.5 1609.6 L708.3 1610.7 L708.4 1611.7 L708.6 1612.6 L708.7 1613.6 L708.8 1614.8 L708.9 1615.9 L709.0 1616.9 L709.2 1617.7 L709.3 1618.4 L709.5 1619.6 L709.8 1620.6 L709.8 1621.4 L710.1 1622.0 L710.4 1622.7 L710.5 1624.1 L710.5 1625.0 L710.5 1625.8 L710.5 1627.1 L710.8 1628.3 L711.0 1629.3 L711.0 1630.3 L711.2 1631.4 L711.4 1632.3 L711.5 1633.2 L711.6 1634.4 L711.7 1635.1 L711.8 1635.6 L712.2 1636.7 L712.4 1637.8 L712.4 1638.8 L712.4 1640.3 L712.6 1641.2 L712.8 1641.7 L712.9 1642.6 L713.1 1643.9 L713.1 1644.8 L713.2 1645.4 L713.2 1646.2 L713.2 1647.6 L713.5 1649.0 L713.8 1649.7 L713.9 1650.8 L714.0 1652.2 L714.1 1653.3 L714.2 1654.2 L714.3 1655.1 L714.5 1655.7 L714.7 1656.1 L714.8 1656.9 L714.8 1658.2 L715.1 1659.8 L715.5 1660.7 L715.6 1661.3 L715.6 1662.0 L715.7 1662.6 L715.8 1663.7 L716.0 1665.5 L716.1 1666.5 L716.2 1667.0 L716.3 1667.8 L716.5 1669.0 L716.7 1670.2 L717.0 1671.2 L717.1 1672.1 L717.1 1673.0 L717.3 1674.1 L717.5 1675.3 L717.7 1676.3 L717.7 1677.1 L717.8 1677.8 L718.1 1678.7 L718.2 1679.8 L718.2 1680.7 L718.4 1681.7 L718.6 1682.7 L718.7 1683.4 L718.9 1684.5 L719.1 1686.0 L719.4 1687.1 L719.5 1687.8 L719.3 1688.8 L719.2 1689.9 L719.5 1690.7 L719.7 1691.5 L720.0 1692.7 L720.3 1693.8 L720.6 1694.8 L720.4 1695.9 L720.4 1696.7 L720.6 1697.5 L720.8 1698.8 L720.9 1699.9 L721.2 1700.5 L721.3 1701.2 L721.4 1702.2 L721.6 1703.2 L721.8 1704.1 L722.0 1705.3 L722.0 1706.4 L721.8 1707.0 L721.9 1707.6 L722.3 1708.6 L722.6 1709.7 L722.8 1710.6 L722.8 1711.7 L722.8 1712.8 L723.0 1713.9 L723.3 1715.4 L723.5 1716.3 L723.6 1716.7 L723.9 1717.7 L724.0 1719.0 L724.1 1719.9 L724.4 1721.0 L724.5 1722.4 L724.6 1723.8 L724.8 1724.7 L725.1 1725.4 L725.2 1726.2 L725.3 1727.2 L725.5 1728.0 L725.6 1728.7 L725.8 1729.6 L726.1 1731.0 L726.2 1732.4 L726.3 1733.1 L726.5 1733.6 L726.7 1734.5 L726.7 1735.6 L726.8 1736.5 L727.0 1737.4 L727.1 1738.4 L727.3 1739.3 L727.5 1740.2 L727.7 1741.1 L727.8 1741.7 L727.8 1743.0 L727.9 1744.4 L728.1 1745.3 L728.3 1746.2 L728.5 1746.9 L728.8 1747.5 L729.1 1748.6 L729.3 1749.8 L729.3 1750.9 L729.3 1751.5 L729.4 1752.0 L729.6 1752.9 L729.8 1753.7 L730.0 1754.8 L730.3 1755.9 L730.4 1756.9 L730.4 1757.9 L730.5 1758.8 L730.7 1759.5 L731.0 1760.5 L731.1 1761.5 L731.3 1762.1 L731.5 1763.0 L731.9 1764.2 L732.1 1765.4 L732.1 1766.4 L732.3 1767.2 L732.6 1768.1 L732.7 1769.2 L733.0 1770.4 L733.3 1771.6 L733.4 1772.6 L733.5 1773.4 L733.7 1774.2 L733.8 1774.7 L734.0 1775.9 L734.3 1777.2 L734.6 1778.4 L734.8 1779.2 L735.1 1780.0 L735.2 1780.7 L735.2 1781.6 L735.5 1783.1 L735.8 1784.1 L736.0 1785.0 L736.0 1786.2 L736.1 1787.2 L736.3 1787.9 L736.7 1788.5 L736.8 1789.3 L736.8 1790.3 L737.1 1791.3 L737.6 1792.2 L738.0 1793.0 L737.8 1794.1 L737.8 1795.1 L738.2 1796.1 L738.3 1797.2 L738.5 1798.2 L738.8 1799.2 L739.0 1800.4 L739.0 1801.4 L739.2 1802.4 L739.5 1803.5 L739.7 1804.3 L739.8 1805.1 L740.1 1806.0 L740.3 1807.1 L740.7 1808.0 L740.9 1808.6 L740.9 1809.2 L741.1 1810.2 L741.3 1811.5 L741.6 1812.8 L741.8 1813.8 L742.0 1814.7 L742.1 1815.9 L742.2 1817.1 L742.4 1818.1 L742.7 1818.8 L742.8 1819.8 L742.8 1820.7 L742.9 1821.4 L743.1 1822.3 L743.5 1823.2 L743.9 1824.3 L744.1 1825.2 L744.1 1825.8 L744.3 1826.7 L744.5 1827.9 L744.6 1828.9 L745.0 1829.9 L745.5 1830.9 L745.6 1831.8 L745.6 1832.8 L745.7 1834.1 L745.9 1835.1 L746.2 1836.0 L746.5 1837.0 L746.8 1838.2 L747.0 1839.2 L747.1 1839.7 L747.5 1840.3 L747.8 1841.4 L747.8 1842.7 L748.0 1843.3 L748.2 1844.0 L748.4 1845.3 L748.8 1846.4 L749.3 1847.0 L749.7 1847.7 L749.8 1848.6 L749.9 1849.8 L750.3 1851.3 L750.7 1852.1 L751.0 1852.7 L751.1 1853.7 L751.5 1854.7 L751.8 1855.4 L752.0 1856.0 L752.5 1857.2 L753.0 1858.5 L753.3 1859.4 L753.6 1860.2 L753.9 1861.2 L754.2 1862.3 L754.7 1863.2 L755.1 1864.0 L755.3 1865.0 L755.5 1865.6 L755.8 1866.2 L756.3 1867.0 L756.7 1867.9 L757.1 1868.8 L757.6 1869.7 L757.9 1870.9 L758.3 1872.0 L758.7 1872.3 L759.0 1873.0 L759.3 1874.1 L759.8 1875.3 L760.1 1876.6 L760.5 1877.6 L761.0 1878.4 L761.3 1879.5 L761.4 1880.4 L761.8 1880.7 L762.4 1881.2 L762.8 1882.4 L763.3 1883.4 L763.8 1884.1 L764.2 1884.7 L764.5 1885.4 L764.7 1886.4 L765.0 1887.2 L765.6 1888.1 L766.0 1889.1 L766.5 1890.4 L767.0 1891.6 L767.2 1892.3 L767.7 1892.8 L768.3 1893.5 L768.9 1894.3 L769.5 1895.1 L770.0 1895.9 L770.6 1896.5 L771.0 1897.0 L771.3 1898.1 L771.8 1899.1 L772.4 1899.5 L773.0 1900.5 L773.6 1901.8 L774.2 1902.6 L774.8 1903.2 L775.3 1904.1 L775.8 1905.2 L776.2 1905.8 L776.7 1906.0 L777.3 1906.7 L778.1 1907.7 L778.8 1908.4 L779.4 1908.8 L780.2 1909.6 L780.8 1910.4 L781.2 1911.1 L781.8 1911.7 L782.4 1912.2 L783.1 1913.0 L783.9 1914.3 L784.6 1915.4 L785.1 1915.9 L785.7 1916.2 L786.6 1916.8 L787.3 1917.7 L787.7 1918.2 L788.2 1918.5 L789.0 1919.2 L789.6 1919.8 L790.2 1920.5 L791.1 1921.3 L791.8 1922.3 L792.3 1922.8 L792.9 1923.3 L793.8 1924.0 L794.8 1924.2 L795.7 1924.5 L796.4 1925.0 L797.2 1925.6 L798.2 1926.2 L799.1 1926.9 L800.0 1927.2 L800.9 1927.7 L801.8 1928.4 L802.5 1928.9 L803.1 1929.3 L804.1 1929.5 L805.1 1929.5 L806.0 1929.8 L806.8 1930.6 L807.6 1931.7 L808.3 1932.2 L809.1 1932.4 L809.9 1932.8 L810.8 1933.6 L811.5 1934.2 L812.4 1934.6 L813.4 1934.8 L814.3 1935.4 L814.9 1936.3 L815.6 1936.6 L816.6 1937.1 L817.5 1937.6 L818.3 1937.8 L819.2 1938.4 L819.9 1938.9 L820.9 1939.3 L821.9 1939.6 L822.7 1939.5 L823.4 1940.0 L824.0 1941.0 L824.9 1941.6 L825.9 1942.0 L826.7 1942.5 L827.4 1942.7"/>
<path stroke="#8cbe4e" d="M155.0 1954.5 L156.0 1954.5 L157.0 1954.5 L158.0 1954.5 L159.0 1954.5 L160.0 1954.5 L161.1 1954.5 L162.1 1954.5 L163.1 1954.5 L164.2 1954.5 L165.2 1954.5 L166.3 1954.5 L167.3 1954.5 L168.4 1954.5 L169.5 1954.5 L170.5 1954.5 L171.6 1954.5 L172.7 1954.5 L173.8 1954.5 L174.8 1954.5 L175.9 1954.5 L177.0 1954.5 L178.1 1954.5 L179.2 1954.5 L180.3 1954.5 L181.4 1954.5 L182.6 1954.5 L183.7 1954.5 L184.8 1954.5 L185.9 1954.5 L187.0 1954.5 L188.1 1954.5 L189.3 1954.5 L190.4 1954.5 L191.5 1954.5 L192.7 1954.5 L193.8 1954.5 L194.9 1954.5 L196.1 1954.5 L197.2 1954.5 L198.3 1954.5 L199.5 1954.5 L200.6 1954.5 L201.8 1954.5 L202.9 1954.5 L204.1 1954.5 L205.2 1954.5 L206.4 1954.5 L207.5 1954.5 L208.6 1954.5 L209.8 1954.5 L210.9 1954.5 L212.1 1954.5 L213.2 1954.5 L214.4 1954.5 L215.5 1954.5 L216.6 1954.5 L217.8 1954.5 L218.9 1954.5 L220.1 1954.5 L221.2 1954.6 L222.3 1954.6 L223.5 1954.6 L224.6 1954.6 L225.7 1954.6 L226.9 1954.6 L228.0 1954.6 L229.1 1954.6 L230.2 1954.6 L231.4 1954.6 L232.5 1954.6 L233.6 1954.6 L234.7 1954.6 L235.8 1954.6 L236.9 1954.6 L238.0 1954.6 L239.1 1954.6 L240.2 1954.6 L241.3 1954.6 L242.4 1954.6 L243.5 1954.6 L244.6 1954.6 L245.6 1954.6 L246.7 1954.6 L247.8 1954.6 L248.8 1954.6 L249.9 1954.6 L250.9 1954.6 L252.0 1954.6 L253.0 1954.6 L254.1 1954.6 L255.1 1954.6 L256.1 1954.6 L257.2 1954.6 L258.2 1954.6 L259.2 1954.6 L260.2 1954.6 L261.2 1954.5 L262.2 1954.5 L263.2 1954.5 L264.1 1954.5 L265.1 1954.5 L266.1 1954.5 L267.0 1954.5 L268.0 1954.5 L268.9 1954.5 L269.9 1954.5 L270.8 1954.5 L271.7 1954.5 L272.6 1954.5 L273.6 1954.5 L274.5 1954.5 L275.3 1954.5 L276.2 1954.5 L277.1 1954.5 L278.0 1954.4 L278.8 1954.4 L279.7 1954.4 L280.5 1954.4 L281.4 1954.4 L282.2 1954.4 L283.0 1954.4 L283.8 1954.4 L284.6 1954.4 L285.4 1954.4 L286.2 1954.3 L286.9 1954.3 L287.7 1954.3 L288.4 1954.3 L289.2 1954.3 L289.9 1954.3 L290.6 1954.3 L291.3 1954.2 L292.0 1954.2 L292.7 1954.2 L293.4 1954.2 L294.0 1954.2 L294.7 1954.2 L295.3 1954.2 L295.9 1954.1 L296.6 1954.1 L297.2 1954.1 L297.8 1954.1 L298.3 1954.1 L298.9 1954.0 L299.5 1954.0 L300.0 1954.0 L301.3 1953.9 L302.6 1953.9 L303.8 1953.8 L305.0 1953.8 L306.0 1953.7 L307.1 1953.7 L308.0 1953.6 L309.0 1953.5 L309.9 1953.5 L310.7 1953.4 L311.6 1953.4 L312.4 1953.2 L313.2 1953.1 L314.0 1953.1 L314.8 1953.0 L315.7 1952.9 L316.5 1952.9 L317.3 1952.8 L318.2 1952.7 L319.0 1952.6 L320.0 1952.5 L320.9 1952.4 L321.9 1952.3 L322.9 1952.2 L323.9 1952.1 L324.8 1952.0 L325.8 1951.9 L326.8 1951.8 L327.8 1951.7 L328.7 1951.6 L329.7 1951.6 L330.7 1951.4 L331.6 1951.3 L332.6 1951.1 L333.5 1950.9 L334.4 1950.8 L335.3 1950.6 L336.4 1950.5 L337.3 1950.4 L338.3 1950.3 L339.2 1950.0 L340.0 1949.7 L341.0 1949.8 L342.1 1949.8 L343.1 1949.5 L344.0 1949.3 L345.1 1949.1 L346.3 1949.0 L347.4 1948.7 L348.3 1948.4 L349.1 1948.4 L350.0 1948.3 L350.9 1947.9 L351.8 1947.6 L352.7 1947.7 L353.4 1947.6 L354.0 1947.3 L354.9 1946.9 L356.2 1946.5 L357.1 1946.4 L357.7 1946.4 L358.5 1946.1 L359.3 1946.0 L360.0 1946.4 L360.7 1946.4 L361.5 1945.4 L362.0 1944.3 L362.4 1943.8 L362.8 1943.4 L363.3 1942.7 L363.8 1941.7 L364.0 1941.2 L364.0 1940.4 L364.5 1939.2 L364.9 1937.9 L365.1 1936.8 L365.6 1935.7 L366.0 1934.8 L366.1 1934.0 L366.3 1933.4 L366.6 1932.4 L366.8 1931.3 L367.0 1930.5 L367.1 1929.2 L367.1 1928.2 L367.3 1927.7 L367.9 1926.7 L368.1 1925.3 L368.2 1924.3 L368.6 1923.6 L369.0 1922.7 L369.0 1921.7 L369.4 1920.7 L370.2 1920.0 L370.6 1919.4 L370.7 1919.4 L371.0 1920.2 L371.6 1920.6 L372.1 1921.3 L372.1 1922.4 L372.3 1923.5 L373.0 1924.8 L373.5 1925.6 L374.0 1925.6 L374.9 1925.6 L376.0 1925.7 L377.0 1925.5 L377.9 1925.7 L378.7 1926.0 L379.6 1925.6 L380.6 1925.1 L381.4 1924.7 L382.1 1924.4 L382.9 1924.3 L384.0 1924.2 L385.0 1923.6 L385.7 1923.2 L386.2 1923.1 L387.0 1922.2 L387.8 1921.0 L388.5 1920.8 L389.3 1920.9 L389.8 1920.5 L390.7 1919.9 L391.8 1919.1 L392.4 1918.2 L392.9 1917.5 L393.8 1916.7 L394.5 1915.9 L394.8 1915.1 L395.4 1914.4 L396.1 1913.8 L396.6 1912.9 L397.2 1912.2 L397.6 1911.7 L398.2 1911.0 L398.9 1910.6 L399.7 1909.7 L400.3 1908.6 L401.0 1908.1 L401.6 1907.7 L402.5 1907.7 L403.6 1907.1 L404.3 1905.8 L404.8 1905.0 L405.6 1904.6 L406.1 1904.3 L406.4 1903.8 L406.5 1902.7 L406.7 1901.9 L407.1 1901.3 L407.4 1900.4 L407.7 1899.3 L408.1 1898.4 L408.6 1897.5 L409.0 1896.4 L409.1 1895.5 L409.3 1894.5 L409.9 1893.5 L410.2 1892.6 L410.4 1891.9 L410.9 1891.5 L411.3 1890.4 L411.6 1888.8 L412.1 1887.7 L412.6 1887.2 L413.1 1886.8 L413.6 1885.9 L413.9 1885.1 L414.5 1884.0 L415.1 1883.0 L415.3 1882.4 L415.7 1881.7 L416.3 1881.4 L417.0 1881.0 L417.5 1879.9 L417.9 1878.7 L418.4 1878.1 L418.9 1877.1 L419.4 1876.0 L419.8 1876.0 L420.1 1875.2 L420.5 1873.6 L420.8 1872.4 L421.2 1871.4 L421.6 1870.7 L422.1 1870.2 L422.6 1869.2 L423.0 1868.0 L423.3 1866.9 L423.5 1866.0 L423.9 1865.4 L424.4 1864.7 L425.0 1863.7 L425.5 1863.0 L425.9 1862.0 L426.1 1861.0 L426.7 1859.9 L427.2 1858.5 L427.3 1857.3 L427.6 1856.3 L428.3 1855.6 L428.7 1855.1 L429.0 1854.4 L429.4 1853.3 L429.4 1852.3 L429.4 1851.6 L429.7 1850.9 L430.2 1850.1 L430.5 1848.7 L430.6 1847.4 L430.9 1846.9 L431.3 1846.5 L431.8 1845.4 L432.2 1844.3 L432.4 1843.6 L432.6 1843.0 L432.8 1842.2 L433.0 1841.2 L433.3 1840.1 L433.7 1839.1 L434.0 1838.5 L434.1 1837.5 L434.5 1836.1 L434.9 1835.2 L434.9 1834.4 L435.3 1833.4 L435.9 1833.1 L436.1 1832.5 L436.5 1831.3 L436.8 1830.1 L436.9 1829.4 L437.2 1829.0 L437.8 1828.0 L438.1 1826.9 L438.4 1826.3 L438.6 1825.6 L438.9 1824.0 L439.0 1822.7 L439.2 1821.6 L439.6 1820.4 L440.0 1820.0 L440.4 1819.4 L440.8 1818.0 L441.2 1817.1 L441.6 1816.6 L441.9 1815.5 L442.2 1814.2 L442.7 1813.0 L443.2 1812.0 L443.4 1811.2 L443.4 1810.4 L443.8 1809.4 L444.1 1808.2 L444.5 1806.8 L444.9 1806.0 L445.0 1805.1 L445.3 1804.0 L445.8 1803.2 L446.1 1802.4 L446.1 1801.4 L446.4 1800.4 L447.0 1799.2 L447.4 1798.5 L447.6 1798.1 L447.7 1797.0 L448.0 1795.7 L448.4 1794.6 L448.8 1793.6 L449.0 1792.7 L449.1 1792.0 L449.2 1791.4 L449.6 1790.6 L449.9 1789.8 L450.1 1788.6 L450.3 1787.0 L450.6 1786.0 L450.8 1784.9 L451.3 1783.5 L451.8 1782.6 L452.1 1782.3 L452.0 1781.9 L451.9 1780.8 L452.2 1779.5 L452.7 1778.5 L453.0 1777.5 L453.1 1776.7 L453.1 1775.5 L453.4 1774.2 L453.9 1774.0 L454.1 1774.1 L454.2 1772.8 L454.6 1771.3 L455.0 1770.2 L455.3 1769.0 L455.7 1768.3 L456.1 1767.3 L456.2 1765.8 L456.3 1764.8 L456.5 1764.2 L456.8 1763.3 L456.8 1762.4 L457.0 1761.8 L457.3 1761.1 L457.6 1760.2 L458.0 1759.4 L458.3 1758.3 L458.5 1756.9 L458.7 1755.8 L458.9 1755.0 L459.1 1754.1 L459.1 1753.0 L459.4 1752.2 L460.0 1751.6 L460.6 1750.1 L460.9 1748.6 L460.8 1748.0 L461.0 1747.3 L461.4 1746.2 L461.8 1745.4 L462.2 1744.6 L462.3 1743.3 L462.1 1742.1 L462.2 1741.2 L462.5 1740.4 L462.8 1739.4 L463.2 1738.2 L463.5 1737.7 L463.7 1736.9 L464.0 1735.1 L464.3 1734.0 L464.5 1733.4 L464.5 1732.7 L464.8 1731.9 L465.2 1730.4 L465.3 1729.1 L465.4 1728.7 L465.8 1728.3 L466.0 1727.5 L466.3 1726.3 L466.6 1725.4 L466.9 1724.2 L467.1 1722.7 L467.0 1722.1 L467.3 1721.5 L467.8 1720.1 L467.8 1719.3 L467.7 1718.9 L467.9 1717.9 L468.4 1716.8 L468.6 1716.0 L468.6 1715.0 L468.9 1713.7 L469.3 1712.1 L469.8 1710.9 L470.1 1710.4 L470.1 1709.6 L470.2 1707.7 L470.5 1706.7 L470.9 1706.6 L471.2 1705.3 L471.5 1703.6 L471.7 1703.0 L471.9 1702.7 L472.0 1701.7 L472.2 1700.2 L472.6 1699.4 L472.8 1699.2 L472.9 1698.1 L472.8 1696.6 L473.0 1695.4 L473.3 1694.6 L473.6 1694.0 L474.0 1693.2 L474.3 1692.5 L474.6 1691.3 L474.6 1689.9 L474.7 1689.0 L475.0 1688.4 L475.1 1687.7 L475.2 1687.0 L475.5 1685.9 L475.9 1684.7 L476.4 1683.5 L476.8 1682.2 L476.8 1681.3 L476.8 1680.7 L476.9 1679.6 L477.0 1678.3 L477.1 1677.3 L477.4 1676.3 L477.8 1675.6 L478.1 1674.9 L478.1 1673.5 L478.3 1672.4 L478.6 1671.8 L478.7 1670.9 L478.7 1669.6 L479.0 1668.3 L479.4 1667.5 L479.7 1666.6 L479.8 1665.5 L479.7 1664.6 L480.0 1663.9 L480.6 1663.5 L480.8 1662.8 L480.7 1661.7 L480.6 1660.6 L480.6 1659.2 L480.8 1657.7 L481.1 1657.2 L481.4 1657.0 L481.6 1655.9 L482.0 1654.7 L482.1 1653.9 L482.3 1652.5 L482.6 1651.1 L482.6 1650.6 L482.6 1650.1 L483.1 1649.3 L483.6 1647.8 L483.6 1646.3 L483.7 1645.6 L483.8 1645.1 L484.0 1644.2 L484.1 1643.2 L483.9 1642.2 L484.1 1640.8 L484.6 1639.2 L485.0 1638.6 L485.6 1638.4 L486.0 1637.5 L485.9 1636.3 L486.0 1635.5 L486.3 1634.4 L486.4 1633.1 L486.3 1631.8 L486.4 1631.1 L486.8 1630.5 L486.9 1629.6 L486.9 1628.6 L487.2 1628.1 L487.4 1627.2 L487.8 1625.8 L488.0 1624.5 L487.9 1623.5 L488.3 1622.6 L488.6 1621.6 L488.7 1620.8 L489.2 1620.0 L489.6 1619.1 L489.5 1618.2 L489.3 1616.9 L489.4 1615.8 L489.6 1615.1 L490.0 1614.2 L490.5 1613.2 L490.7 1612.0 L490.9 1611.0 L491.1 1610.4 L491.3 1609.6 L491.3 1608.9 L491.4 1607.9 L491.6 1606.3 L491.9 1605.0 L492.1 1604.0 L492.6 1602.8 L492.7 1601.9 L492.8 1601.7 L493.0 1601.2 L493.2 1600.2 L493.5 1598.7 L493.9 1597.6 L494.1 1596.6 L494.1 1595.6 L494.1 1594.8 L494.2 1593.6 L494.4 1592.5 L494.7 1591.1 L495.0 1589.7 L495.2 1588.8 L495.5 1588.5 L495.7 1588.1 L495.7 1587.2 L496.0 1586.1 L496.4 1585.0 L496.6 1584.1 L496.9 1583.3 L497.2 1581.8 L497.4 1580.6 L497.5 1580.2 L497.7 1579.5 L497.9 1578.3 L498.3 1577.3 L498.5 1576.6 L498.6 1575.7 L498.7 1574.6 L499.0 1573.5 L499.3 1572.5 L499.5 1571.3 L499.8 1569.8 L500.2 1568.9 L500.5 1568.0 L500.7 1566.6 L501.0 1565.5 L501.3 1564.8 L501.4 1563.7 L501.6 1562.3 L501.9 1561.4 L502.2 1560.7 L502.4 1559.8 L502.7 1558.6 L502.9 1557.8 L503.2 1557.2 L503.8 1556.8 L504.2 1556.2 L504.3 1555.1 L504.6 1554.5 L504.8 1553.9 L504.9 1552.9 L505.2 1551.9 L505.7 1550.8 L506.2 1550.0 L506.6 1549.1 L507.1 1547.7 L507.5 1546.4 L508.1 1545.6 L508.4 1545.4 L508.9 1545.0 L509.6 1544.3 L510.3 1543.5 L510.8 1542.8 L511.1 1542.3 L511.7 1541.2 L512.5 1540.3 L513.1 1539.8 L513.6 1538.8 L514.3 1537.9 L515.0 1537.3 L515.5 1537.0 L516.2 1536.5 L517.0 1536.4 L517.7 1537.1 L518.4 1538.0 L519.4 1538.6 L520.2 1539.6 L520.5 1540.6 L520.9 1541.1 L521.6 1541.7 L521.9 1542.5 L522.2 1542.8 L522.6 1543.7 L522.6 1545.2 L522.8 1546.3 L523.4 1546.8 L523.8 1547.4 L524.3 1548.7 L525.0 1550.2 L525.5 1551.2 L525.6 1552.1 L525.7 1552.8 L526.0 1553.8 L526.5 1554.2 L526.9 1554.4 L527.4 1555.5 L527.9 1556.6 L527.9 1557.5 L527.9 1558.2 L528.5 1558.7 L529.2 1559.7 L529.7 1561.0 L529.9 1562.1 L529.9 1563.1 L530.3 1564.3 L530.7 1565.5 L530.9 1566.5 L531.4 1567.4 L532.0 1568.1 L532.3 1569.2 L532.5 1570.3 L532.8 1570.5 L533.1 1571.3 L533.2 1572.8 L533.5 1574.1 L533.8 1575.1 L534.0 1575.9 L534.3 1576.4 L534.5 1576.8 L534.8 1578.0 L535.0 1579.3 L535.1 1580.0 L535.1 1580.5 L535.3 1581.3 L535.6 1582.3 L536.0 1583.4 L536.2 1585.0 L536.3 1586.5 L536.6 1587.3 L536.9 1587.9 L537.0 1588.9 L537.2 1589.9 L537.5 1590.6 L537.6 1592.0 L537.7 1593.4 L537.9 1593.8 L537.9 1594.4 L537.9 1595.7 L538.0 1597.2 L538.5 1598.0 L539.0 1598.4 L539.4 1599.7 L539.6 1601.4 L539.6 1602.6 L539.4 1603.4 L539.5 1604.3 L539.8 1605.5 L540.1 1606.7 L540.3 1607.1 L540.6 1607.2 L540.8 1607.8 L541.1 1609.1 L541.3 1610.5 L541.2 1611.2 L541.6 1612.2 L542.1 1613.5 L542.3 1614.3 L542.3 1615.3 L542.3 1616.9 L542.5 1618.1 L543.0 1619.1 L543.4 1620.3 L543.5 1621.2 L543.6 1621.7 L543.8 1622.2 L544.0 1622.8 L543.9 1624.0 L544.1 1625.4 L544.6 1626.8 L545.1 1628.0 L545.2 1629.1 L545.2 1630.1 L545.3 1630.9 L545.5 1631.6 L545.7 1632.3 L546.0 1633.1 L546.2 1634.0 L546.2 1634.9 L546.3 1636.1 L546.5 1636.8 L546.9 1636.9 L547.4 1637.7 L547.5 1639.2 L547.6 1640.7 L547.8 1642.0 L548.3 1643.2 L548.6 1643.7 L548.7 1644.4 L548.7 1645.9 L548.7 1647.5 L549.0 1648.3 L549.3 1648.6 L549.3 1649.4 L549.4 1650.8 L549.8 1652.2 L550.3 1653.1 L550.5 1653.8 L550.7 1654.8 L550.9 1655.5 L551.0 1656.4 L551.1 1657.4 L551.3 1658.3 L551.8 1659.3 L552.1 1660.5 L552.1 1661.8 L552.2 1663.0 L552.4 1663.8 L552.5 1664.1 L552.6 1664.3 L553.1 1665.3 L553.6 1666.7 L553.9 1667.8 L554.0 1668.6 L554.1 1669.8 L554.2 1671.0 L554.3 1671.9 L554.5 1672.9 L554.8 1673.8 L555.1 1674.6 L555.2 1675.5 L555.3 1676.8 L555.6 1677.8 L555.9 1678.3 L556.3 1678.9 L556.4 1680.3 L556.3 1681.6 L556.6 1682.6 L556.9 1683.8 L556.9 1684.8 L557.0 1685.7 L557.4 1686.7 L557.8 1687.9 L558.0 1689.0 L558.1 1689.6 L558.5 1690.3 L558.8 1691.4 L558.9 1692.3 L558.8 1693.5 L558.9 1694.8 L559.3 1695.8 L559.7 1696.9 L559.8 1697.8 L559.8 1698.6 L560.0 1699.5 L560.5 1701.0 L560.8 1702.0 L561.0 1702.4 L560.9 1703.1 L561.0 1704.2 L561.4 1705.2 L562.0 1706.4 L562.1 1707.6 L561.9 1708.7 L562.0 1709.7 L562.5 1710.2 L562.8 1710.6 L562.7 1711.6 L562.9 1713.3 L563.4 1714.6 L563.7 1714.9 L564.0 1715.7 L564.3 1717.1 L564.4 1718.1 L564.7 1719.1 L565.1 1720.0 L565.3 1720.5 L565.5 1721.2 L565.7 1722.4 L565.8 1723.7 L566.3 1724.6 L566.6 1725.4 L566.7 1726.1 L567.1 1726.7 L567.5 1728.0 L567.6 1729.2 L567.5 1729.7 L567.8 1730.3 L568.5 1731.3 L569.0 1732.5 L569.2 1733.7 L569.3 1734.5 L569.5 1735.1 L569.7 1736.1 L570.0 1737.1 L570.2 1738.1 L570.4 1738.9 L571.0 1739.8 L571.4 1740.9 L571.5 1741.9 L571.6 1742.9 L572.0 1744.0 L572.5 1744.9 L572.9 1745.3 L573.4 1745.7 L573.6 1746.6 L573.6 1748.1 L573.8 1749.4 L574.4 1750.0 L574.9 1751.0 L575.1 1752.0 L575.4 1752.7 L575.8 1753.6 L576.4 1754.4 L576.8 1755.2 L577.0 1756.3 L577.1 1757.6 L577.3 1758.4 L577.7 1759.4 L578.3 1760.7 L578.7 1761.3 L578.9 1761.5 L579.3 1762.1 L579.7 1763.2 L580.0 1764.0 L580.2 1764.5 L580.4 1765.5 L580.5 1766.6 L580.7 1767.7 L581.2 1768.7 L582.0 1769.3 L582.5 1770.4 L582.6 1771.8 L582.7 1772.6 L583.3 1773.3 L583.8 1774.4 L584.1 1775.7 L584.4 1776.8 L584.6 1777.6 L584.7 1778.4 L585.1 1779.0 L585.8 1779.8 L586.4 1780.9 L586.7 1781.6 L586.8 1782.3 L587.2 1783.3 L587.5 1784.4 L587.7 1785.7 L588.1 1787.0 L588.5 1788.0 L589.1 1788.5 L589.6 1789.1 L589.9 1789.9 L590.0 1790.7 L590.3 1792.0 L590.5 1793.4 L590.8 1793.9 L591.4 1794.7 L591.8 1795.9 L592.2 1796.9 L592.7 1797.6 L593.2 1798.1 L593.5 1799.1 L593.7 1800.4 L594.1 1801.1 L594.7 1801.9 L595.2 1802.7 L595.6 1803.2 L596.0 1804.2 L596.5 1805.3 L597.1 1806.4 L597.5 1806.8 L597.7 1807.4 L598.0 1808.4 L598.3 1809.0 L598.8 1810.0 L599.5 1811.2 L599.9 1812.2 L600.4 1813.3 L600.9 1814.3 L601.4 1814.7 L601.8 1815.6 L602.1 1816.9 L602.6 1817.9 L603.2 1818.7 L603.6 1819.4 L604.2 1820.0 L604.7 1820.7 L605.0 1821.7 L605.2 1823.1 L605.6 1824.5 L606.1 1825.1 L606.8 1825.2 L607.5 1825.8 L607.8 1826.8 L608.2 1827.4 L608.8 1828.4 L609.3 1830.0 L609.8 1830.8 L610.6 1830.9 L611.2 1831.4 L611.7 1832.1 L612.2 1832.7 L612.5 1833.8 L613.1 1835.2 L613.8 1836.3 L614.5 1837.0 L615.1 1837.3 L615.5 1837.0 L616.0 1837.4 L616.7 1839.1 L617.4 1840.1 L618.0 1840.8 L618.6 1841.5 L619.3 1841.6 L620.0 1841.9 L620.7 1843.0 L621.3 1844.2 L622.1 1844.5 L622.9 1844.7 L623.6 1845.7 L624.4 1846.3 L625.2 1846.5 L626.0 1847.2 L626.8 1848.1 L627.7 1848.7 L628.4 1848.9 L629.0 1849.1 L629.7 1849.7 L630.9 1850.2 L632.1 1850.4 L632.9 1850.6 L633.4 1851.0 L634.1 1851.4 L634.8 1852.1 L635.5 1852.9 L636.7 1853.4 L637.7 1853.3 L638.7 1853.7 L639.5 1854.2 L640.1 1854.6 L641.0 1855.3 L642.0 1856.0 L642.9 1856.5 L644.0 1857.2 L645.1 1857.9 L645.7 1858.3 L646.3 1858.6 L647.4 1858.8 L648.5 1858.8 L649.2 1859.2 L649.9 1860.1 L650.7 1861.1 L651.5 1861.6 L652.3 1861.5 L653.3 1861.5 L654.3 1862.2 L655.2 1862.5 L656.3 1863.1 L657.0 1864.4 L657.7 1865.1 L658.7 1865.0 L659.6 1865.0 L660.2 1865.5 L661.4 1865.8 L662.7 1866.1 L663.4 1866.9 L664.0 1867.6 L664.9 1867.8 L666.1 1867.8 L667.1 1867.9 L667.8 1867.9 L668.5 1868.2 L669.4 1868.8 L670.0 1868.3 L670.9 1868.1 L672.2 1868.4 L673.5 1868.6 L674.5 1869.0 L675.6 1869.3 L676.7 1869.5 L677.5 1869.7 L678.4 1869.8 L679.6 1869.9 L680.7 1870.0 L681.5 1870.4 L682.4 1870.6 L683.2 1870.5 L684.1 1870.5 L685.1 1870.8 L686.1 1871.3 L686.9 1871.5 L687.8 1871.5 L688.7 1872.1 L689.6 1872.9 L690.5 1873.3 L691.5 1874.0 L692.5 1874.7 L693.1 1874.9 L693.7 1875.2 L694.6 1875.5 L695.5 1876.0 L696.4 1876.5 L697.4 1877.1 L698.3 1877.3 L699.2 1877.2 L699.9 1877.8 L700.6 1878.6 L701.6 1878.6 L702.6 1878.2 L703.6 1878.5 L704.4 1878.9 L705.1 1878.7 L706.1 1878.5 L707.1 1878.9 L708.0 1879.5 L708.9 1880.2 L710.0 1880.4 L711.1 1880.2 L712.2 1880.4 L713.2 1880.4 L714.0 1880.3 L714.8 1880.6 L715.9 1880.8 L717.1 1880.9 L718.1 1881.4 L719.2 1882.0 L720.2 1882.2 L721.0 1882.5 L721.8 1882.6 L722.7 1882.7 L723.8 1882.8 L725.0 1882.8 L725.7 1883.0 L726.5 1883.7 L727.6 1883.9 L728.5 1883.2 L729.5 1883.3 L730.8 1884.3 L731.8 1884.8 L732.7 1884.9 L733.7 1884.8 L734.5 1884.4 L735.3 1884.1 L736.3 1884.4 L737.0 1885.2 L737.7 1885.4 L738.9 1885.0 L740.1 1884.6 L741.1 1884.6 L742.1 1884.8 L743.3 1884.5 L744.2 1884.3 L745.1 1885.2 L746.1 1885.8 L747.0 1885.4 L747.9 1885.3 L749.0 1885.3 L749.9 1885.1 L750.7 1885.2 L751.4 1885.0 L752.2 1885.0 L753.2 1885.2 L754.2 1885.1 L754.8 1884.9 L755.7 1884.7 L756.8 1884.6 L757.9 1884.4 L759.0 1884.2 L760.0 1883.7 L761.1 1883.2 L762.2 1883.0 L762.8 1882.7 L763.6 1882.5 L764.7 1882.7 L765.7 1883.0 L766.7 1883.0 L767.8 1882.8 L768.6 1882.3 L769.5 1882.1 L770.4 1882.5 L771.3 1882.9 L772.4 1883.1 L773.6 1883.2 L774.7 1883.7 L775.6 1884.1 L776.4 1884.2 L777.2 1884.8 L778.0 1885.5 L779.0 1885.4 L780.1 1885.5 L781.1 1886.2 L782.0 1886.8 L782.8 1887.7 L783.6 1888.4 L784.3 1888.7 L785.1 1889.1 L785.8 1889.4 L786.4 1890.0 L787.3 1890.7 L788.5 1891.4 L789.6 1892.2 L790.3 1892.6 L790.9 1892.8 L791.9 1893.2 L792.7 1893.7 L793.2 1894.2 L794.1 1894.6 L795.0 1895.1 L795.7 1896.4 L796.4 1897.2 L797.0 1897.5 L797.7 1898.4 L798.6 1899.1 L799.3 1899.5 L800.0 1900.2 L800.6 1900.9 L801.3 1901.2 L802.2 1901.9 L802.8 1902.8 L803.3 1902.6 L804.0 1902.9 L804.6 1904.0 L805.3 1904.8 L806.1 1905.3 L806.8 1905.9 L807.4 1906.9 L807.9 1908.4 L808.4 1909.1 L809.1 1909.1 L809.9 1909.7 L810.6 1910.7 L811.4 1911.5 L812.1 1912.1 L812.8 1913.0 L813.5 1913.4 L814.2 1913.6 L814.6 1914.3 L815.3 1915.4 L816.2 1916.5 L816.9 1916.9 L817.6 1917.1 L818.2 1918.1 L818.8 1918.9 L819.2 1918.9 L819.8 1919.5 L820.7 1921.0 L821.3 1921.9 L821.8 1922.3 L822.2 1923.3 L822.5 1923.9 L823.2 1924.3 L824.0 1925.6 L824.6 1926.8 L825.0 1927.6 L825.3 1928.9 L825.6 1930.0 L826.0 1930.5 L826.4 1930.6 L827.1 1931.0 L827.7 1932.1"/>
<path stroke="#d57f37" d="M131.0 1954.0 L131.8 1953.5 L132.6 1953.1 L133.5 1952.7 L134.3 1952.3 L135.1 1951.8 L135.9 1951.3 L136.7 1950.6 L137.4 1949.8 L137.9 1949.2 L138.5 1948.5 L139.0 1947.9 L139.4 1947.6 L140.0 1947.0 L140.7 1945.9 L141.4 1945.0 L141.8 1944.2 L142.0 1943.5 L142.2 1942.3 L142.5 1941.2 L142.9 1940.2 L143.5 1939.2 L144.3 1938.4 L144.6 1937.5 L144.8 1936.6 L145.3 1935.9 L145.7 1935.5 L146.1 1934.8 L146.5 1933.5 L146.5 1932.4 L146.8 1931.7 L147.3 1930.4 L147.5 1929.4 L147.6 1928.6 L147.8 1927.8 L148.1 1927.3 L148.2 1926.4 L148.5 1925.3 L149.2 1924.2 L149.7 1923.2 L149.7 1922.1 L149.5 1921.0 L149.6 1920.1 L150.1 1919.3 L150.4 1918.2 L150.5 1916.8 L150.7 1915.5 L150.7 1914.3 L150.9 1913.2 L151.3 1912.6 L151.5 1912.1 L152.0 1911.0 L152.3 1910.0 L152.4 1909.6 L152.7 1908.5 L153.0 1907.2 L153.2 1906.7 L153.5 1906.0 L153.6 1905.3 L153.7 1904.4 L154.1 1903.0 L154.3 1901.9 L154.4 1901.0 L154.6 1899.9 L154.8 1899.2 L154.9 1898.4 L154.9 1897.1 L155.1 1896.3 L155.5 1895.6 L155.9 1894.2 L156.1 1892.8 L156.2 1891.9 L156.4 1891.1 L156.5 1890.3 L156.4 1889.5 L156.6 1888.6 L157.0 1887.3 L157.2 1886.2 L157.5 1885.5 L157.8 1885.2 L157.8 1884.2 L157.7 1882.7 L157.8 1881.8 L158.0 1880.6 L158.4 1879.2 L158.6 1878.3 L158.7 1877.9 L158.8 1877.1 L159.1 1876.0 L159.4 1875.1 L159.4 1874.2 L159.5 1873.0 L159.7 1871.8 L160.0 1871.0 L160.0 1870.0 L160.1 1868.9 L160.2 1868.5 L160.4 1867.8 L160.6 1866.6 L160.6 1865.6 L160.7 1864.0 L160.9 1862.6 L161.1 1861.6 L161.1 1861.0 L161.1 1860.5 L161.3 1859.3 L161.6 1858.1 L161.8 1857.3 L161.8 1856.6 L162.0 1855.2 L162.4 1854.0 L162.4 1853.3 L162.3 1852.5 L162.5 1851.5 L162.6 1850.7 L162.6 1849.5 L162.7 1848.4 L162.8 1847.7 L163.0 1847.0 L163.2 1845.8 L163.3 1844.9 L163.3 1843.8 L163.3 1842.6 L163.6 1841.6 L163.7 1840.8 L163.6 1839.8 L163.8 1838.8 L164.1 1837.6 L164.2 1836.2 L164.1 1835.0 L164.2 1834.1 L164.3 1833.2 L164.4 1832.4 L164.3 1831.5 L164.2 1830.5 L164.5 1829.3 L164.9 1828.5 L165.0 1828.1 L164.8 1827.2 L164.9 1826.1 L165.1 1825.2 L165.3 1824.1 L165.5 1822.6 L165.6 1821.5 L165.5 1820.4 L165.5 1819.6 L165.4 1818.7 L165.4 1817.6 L165.7 1816.8 L166.1 1816.0 L166.2 1815.0 L166.3 1814.0 L166.4 1812.6 L166.3 1811.4 L166.3 1810.7 L166.4 1809.8 L166.4 1808.7 L166.5 1807.6 L166.6 1806.5 L166.7 1805.5 L166.9 1804.5 L166.9 1803.7 L167.0 1802.9 L167.1 1802.6 L167.2 1802.2 L167.3 1800.4 L167.3 1798.9 L167.2 1798.2 L167.4 1797.1 L167.7 1796.1 L167.7 1795.4 L167.6 1794.6 L167.8 1793.7 L168.0 1792.8 L168.1 1791.9 L168.2 1791.2 L168.4 1790.2 L168.3 1788.8 L168.3 1787.5 L168.4 1786.6 L168.6 1785.9 L169.0 1785.3 L169.1 1784.4 L168.9 1783.3 L168.8 1782.2 L169.0 1780.7 L169.1 1779.2 L169.1 1778.6 L169.1 1778.2 L169.1 1777.3 L169.1 1776.2 L169.4 1775.2 L169.8 1774.1 L169.9 1772.9 L169.7 1772.3 L169.8 1771.6 L169.9 1770.5 L169.8 1769.0 L169.9 1767.8 L169.9 1767.0 L169.8 1766.4 L169.9 1765.4 L170.1 1763.9 L170.1 1762.5 L170.1 1761.5 L170.3 1760.7 L170.4 1759.9 L170.7 1759.0 L170.8 1758.2 L170.6 1756.9 L170.6 1755.5 L170.7 1754.3 L170.8 1753.2 L171.0 1752.4 L171.3 1752.1 L171.4 1751.2 L171.2 1749.7 L171.2 1748.9 L171.6 1748.3 L171.8 1747.1 L171.8 1746.2 L171.7 1745.4 L171.6 1744.3 L171.4 1743.3 L171.7 1742.4 L172.0 1741.4 L172.0 1740.4 L171.8 1739.8 L171.7 1738.8 L171.7 1737.6 L171.8 1736.7 L172.0 1735.3 L172.2 1733.7 L172.3 1733.1 L172.4 1732.9 L172.4 1732.3 L172.5 1731.0 L172.8 1729.9 L172.7 1729.4 L172.5 1728.9 L172.7 1727.7 L172.9 1726.5 L172.9 1725.9 L172.7 1725.1 L172.5 1724.1 L172.4 1723.3 L172.4 1722.4 L172.4 1721.1 L172.8 1719.9 L173.1 1718.9 L173.1 1718.2 L173.1 1717.4 L173.1 1716.2 L173.1 1715.2 L173.3 1714.5 L173.2 1713.7 L173.1 1712.4 L173.1 1711.3 L173.3 1710.9 L173.5 1710.1 L173.6 1708.8 L173.5 1707.7 L173.6 1706.8 L174.0 1706.0 L174.3 1705.4 L174.2 1704.7 L173.9 1703.8 L173.8 1702.7 L173.9 1701.6 L173.9 1700.8 L173.9 1699.9 L174.3 1699.0 L174.4 1697.9 L174.1 1696.9 L173.9 1696.1 L174.0 1695.0 L174.1 1693.9 L174.2 1693.3 L174.3 1692.1 L174.4 1690.0 L174.6 1688.5 L174.6 1688.0 L174.4 1687.6 L174.6 1686.8 L174.8 1685.7 L174.9 1684.5 L174.9 1683.6 L174.9 1682.5 L175.1 1681.2 L175.3 1680.3 L175.3 1679.4 L175.1 1678.0 L175.1 1676.7 L175.1 1675.9 L175.2 1675.4 L175.3 1674.5 L175.4 1673.3 L175.8 1672.0 L175.8 1671.1 L175.4 1670.3 L175.4 1669.3 L175.5 1668.3 L175.5 1667.2 L175.5 1666.2 L175.5 1665.4 L175.5 1664.7 L175.8 1663.8 L176.1 1662.6 L176.0 1661.6 L176.0 1660.1 L176.2 1658.6 L176.3 1657.6 L176.2 1657.4 L176.2 1656.7 L176.3 1655.2 L176.3 1654.1 L176.4 1653.0 L176.6 1651.9 L176.7 1651.3 L176.7 1650.5 L176.5 1649.2 L176.3 1648.1 L176.4 1647.5 L176.6 1646.5 L176.8 1645.2 L176.6 1644.4 L176.4 1643.3 L176.7 1641.9 L176.9 1641.5 L176.8 1641.0 L176.9 1639.7 L176.8 1638.8 L176.9 1637.9 L177.1 1636.8 L177.2 1635.6 L177.2 1634.1 L177.2 1633.4 L177.3 1633.0 L177.3 1631.7 L177.4 1630.7 L177.6 1630.2 L177.4 1629.1 L177.6 1627.6 L177.9 1626.2 L177.9 1625.2 L177.6 1624.2 L177.7 1623.3 L177.8 1622.9 L177.8 1622.1 L177.8 1620.8 L177.9 1619.8 L177.9 1619.2 L178.0 1618.2 L178.1 1617.0 L178.3 1616.3 L178.2 1615.4 L178.0 1614.0 L178.0 1612.7 L178.3 1612.0 L178.6 1611.5 L178.4 1610.4 L178.5 1609.2 L178.8 1608.1 L179.0 1607.0 L179.2 1605.8 L179.3 1604.7 L179.3 1603.9 L179.2 1602.9 L179.2 1601.7 L179.3 1600.6 L179.6 1599.5 L179.7 1598.3 L179.6 1597.2 L179.4 1596.0 L179.5 1594.7 L179.6 1594.1 L179.7 1593.7 L179.8 1592.4 L180.1 1590.7 L180.4 1589.6 L180.5 1589.2 L180.3 1588.6 L180.3 1587.4 L180.5 1586.1 L180.5 1585.2 L180.6 1584.2 L180.6 1583.1 L180.5 1582.3 L180.5 1581.7 L180.7 1580.7 L180.9 1579.5 L180.9 1579.0 L181.0 1578.5 L181.1 1577.4 L181.3 1575.8 L181.4 1574.6 L181.7 1574.4 L181.8 1574.2 L181.6 1573.1 L181.7 1572.1 L181.9 1571.6 L182.1 1570.9 L182.2 1569.0 L182.3 1567.7 L182.5 1566.9 L182.7 1565.5 L182.7 1563.9 L182.7 1563.2 L182.8 1562.4 L183.0 1561.2 L183.1 1560.3 L183.2 1559.2 L183.3 1557.9 L183.4 1557.6 L183.7 1557.4 L183.7 1556.1 L183.7 1554.3 L183.8 1553.1 L183.9 1552.6 L184.1 1551.8 L184.3 1550.6 L184.5 1550.0 L184.6 1549.7 L184.6 1549.0 L184.8 1548.1 L185.2 1547.3 L185.6 1546.1 L186.0 1544.7 L186.4 1543.2 L186.8 1541.8 L187.1 1540.5 L187.4 1539.6 L187.6 1538.6 L187.8 1538.0 L188.1 1537.5 L188.3 1537.1 L188.7 1536.7 L189.2 1536.4 L189.3 1536.7 L189.5 1537.3 L189.9 1537.7 L190.2 1537.9 L190.7 1538.3 L191.2 1539.6 L191.7 1541.3 L192.0 1542.1 L192.3 1543.3 L192.4 1544.7 L192.7 1545.8 L192.9 1547.1 L193.2 1547.8 L193.5 1548.1 L193.6 1548.9 L193.8 1550.0 L193.9 1550.5 L193.9 1551.4 L193.8 1552.6 L194.0 1553.5 L194.4 1554.5 L194.9 1555.5 L195.0 1556.2 L194.9 1556.9 L195.0 1558.0 L195.3 1559.1 L195.4 1560.1 L195.6 1561.4 L195.7 1562.6 L195.8 1563.6 L196.1 1564.7 L196.0 1565.8 L195.8 1566.9 L196.0 1568.1 L196.6 1569.1 L196.9 1570.0 L196.8 1570.3 L196.7 1571.0 L197.0 1572.3 L197.2 1573.4 L197.2 1573.8 L197.3 1574.3 L197.3 1575.5 L197.4 1576.9 L197.6 1577.9 L197.8 1578.4 L197.8 1579.1 L197.9 1580.3 L197.9 1581.5 L197.7 1582.6 L197.8 1583.5 L198.0 1584.4 L198.2 1585.6 L198.3 1586.7 L198.4 1587.0 L198.3 1587.9 L198.4 1589.7 L198.7 1591.3 L198.8 1591.8 L198.9 1592.5 L199.2 1593.6 L199.2 1594.2 L199.1 1594.7 L199.1 1596.0 L199.1 1597.4 L199.1 1597.9 L199.1 1598.9 L199.1 1600.6 L199.2 1601.9 L199.4 1602.8 L199.4 1603.4 L199.4 1604.3 L199.5 1605.3 L199.9 1606.3 L200.2 1607.5 L200.1 1608.9 L200.0 1610.1 L200.0 1611.0 L200.1 1611.9 L200.1 1613.2 L200.2 1614.5 L200.3 1615.5 L200.6 1616.2 L200.7 1616.9 L200.8 1617.6 L201.0 1618.6 L201.3 1619.8 L201.3 1621.2 L201.1 1622.5 L201.0 1623.3 L201.3 1624.4 L201.6 1625.1 L201.7 1625.4 L202.0 1626.3 L202.1 1627.7 L202.1 1628.6 L202.0 1629.6 L201.9 1631.0 L201.9 1632.2 L202.1 1633.1 L202.4 1633.8 L202.3 1634.6 L202.2 1635.8 L202.6 1636.4 L203.1 1637.0 L203.1 1638.4 L203.1 1639.6 L203.1 1640.2 L203.2 1640.8 L203.3 1641.9 L203.3 1642.9 L203.4 1643.9 L203.6 1645.6 L203.7 1646.9 L203.8 1647.7 L203.7 1648.7 L203.6 1649.3 L203.8 1650.1 L204.0 1651.5 L204.2 1652.5 L204.0 1652.9 L204.0 1653.6 L204.4 1655.0 L204.6 1656.4 L204.6 1657.7 L204.7 1658.9 L204.7 1659.5 L204.9 1660.3 L205.0 1661.3 L205.1 1662.3 L205.5 1663.2 L205.4 1664.0 L205.4 1664.8 L205.7 1665.4 L206.0 1666.2 L205.9 1667.6 L205.8 1668.5 L205.9 1669.5 L205.9 1670.9 L206.0 1672.1 L206.3 1673.3 L206.5 1674.6 L206.6 1675.4 L206.8 1676.0 L207.2 1676.9 L207.2 1678.3 L207.0 1679.3 L207.0 1680.1 L207.3 1681.3 L207.5 1682.4 L207.7 1683.3 L207.8 1684.7 L207.8 1686.0 L207.8 1686.6 L208.0 1687.3 L208.3 1688.5 L208.5 1689.3 L208.6 1690.2 L208.8 1691.8 L209.1 1693.4 L209.3 1694.4 L209.3 1694.7 L209.3 1695.5 L209.2 1696.8 L209.4 1697.7 L209.5 1698.8 L209.8 1699.9 L210.1 1700.9 L210.2 1702.0 L210.3 1703.0 L210.4 1704.2 L210.5 1705.7 L210.6 1706.5 L210.6 1706.7 L210.8 1707.5 L210.9 1708.6 L211.0 1709.5 L211.0 1710.6 L211.3 1712.0 L211.6 1712.8 L211.6 1713.3 L211.6 1714.3 L211.7 1715.3 L212.0 1716.1 L212.1 1717.1 L212.2 1718.2 L212.2 1719.1 L212.1 1719.8 L212.2 1720.3 L212.4 1721.5 L212.6 1722.7 L212.8 1723.8 L213.2 1724.4 L213.2 1724.8 L213.2 1725.7 L213.6 1727.0 L213.6 1728.3 L213.5 1729.3 L213.5 1730.2 L213.7 1731.4 L213.9 1732.2 L213.9 1732.7 L214.1 1734.0 L214.3 1735.1 L214.4 1735.4 L214.5 1736.0 L214.7 1737.2 L214.9 1738.1 L215.0 1738.9 L215.1 1740.1 L215.3 1741.5 L215.3 1742.2 L215.5 1742.4 L215.8 1742.9 L215.9 1744.1 L216.0 1745.4 L216.0 1746.2 L216.3 1747.2 L216.7 1748.5 L216.7 1749.4 L216.8 1750.3 L217.1 1751.6 L217.3 1752.8 L217.5 1753.7 L217.8 1754.6 L217.9 1755.6 L218.0 1756.5 L218.2 1756.9 L218.4 1757.6 L218.7 1759.2 L219.0 1760.9 L219.2 1761.7 L219.5 1761.9 L219.8 1762.9 L219.9 1764.1 L220.0 1765.2 L220.2 1766.2 L220.5 1766.7 L220.6 1767.4 L220.5 1769.0 L220.8 1770.0 L221.3 1770.2 L221.7 1770.9 L221.8 1772.0 L222.1 1773.1 L222.4 1774.3 L222.4 1775.4 L222.7 1776.5 L223.1 1777.5 L223.3 1778.6 L223.4 1779.6 L223.6 1780.3 L224.0 1781.2 L224.1 1782.2 L224.3 1783.2 L224.6 1784.3 L224.7 1785.1 L225.0 1786.0 L225.4 1787.2 L225.5 1788.3 L225.7 1789.0 L226.0 1789.5 L226.1 1790.5 L226.4 1792.0 L226.7 1793.0 L227.0 1794.1 L227.3 1795.2 L227.5 1796.1 L227.6 1797.2 L227.8 1798.2 L228.1 1798.9 L228.3 1799.7 L228.7 1800.9 L229.1 1801.9 L229.2 1802.7 L229.2 1803.4 L229.6 1804.7 L229.8 1805.9 L230.0 1806.6 L230.3 1807.3 L230.5 1808.4 L230.8 1809.2 L231.2 1810.0 L231.5 1811.4 L231.6 1812.5 L231.9 1813.1 L232.4 1814.3 L232.7 1815.4 L233.0 1816.3 L233.2 1817.3 L233.5 1818.3 L233.8 1819.1 L234.1 1820.2 L234.4 1821.3 L234.6 1821.9 L234.7 1822.6 L235.1 1824.0 L235.8 1825.1 L236.3 1825.7 L236.7 1826.5 L236.9 1827.6 L237.3 1828.5 L237.7 1829.2 L238.0 1830.3 L238.5 1831.7 L238.9 1832.4 L239.1 1832.9 L239.4 1834.0 L239.8 1835.1 L240.0 1835.8 L240.6 1836.3 L241.3 1837.3 L241.8 1838.4 L242.2 1838.8 L242.6 1839.7 L243.1 1840.9 L243.6 1841.8 L244.0 1842.7 L244.4 1843.4 L245.0 1844.0 L245.5 1845.1 L245.9 1846.5 L246.2 1847.2 L246.4 1848.0 L246.9 1849.0 L247.8 1849.9 L248.4 1850.8 L248.8 1851.7 L249.3 1852.6 L249.6 1853.0 L250.2 1853.2 L251.0 1854.4 L251.7 1855.9 L252.4 1856.7 L252.9 1856.8 L253.2 1857.1 L253.8 1858.4 L254.4 1859.9 L254.9 1860.9 L255.5 1861.1 L256.2 1861.0 L257.0 1861.5 L257.7 1862.4 L258.3 1863.2 L258.7 1864.1 L259.3 1864.8 L260.3 1865.7 L261.2 1866.3 L261.8 1867.0 L262.4 1867.9 L263.2 1868.7 L263.9 1869.1 L264.4 1869.6 L265.0 1870.0 L265.7 1870.2 L266.4 1870.7 L267.1 1871.9 L267.6 1873.2 L268.3 1874.3 L269.2 1874.6 L269.9 1874.7 L270.4 1875.2 L271.3 1875.9 L272.1 1876.9 L272.6 1877.7 L273.4 1878.5 L274.1 1879.4 L274.8 1880.3 L275.6 1880.7 L276.3 1881.1 L276.8 1881.9 L277.4 1882.5 L278.0 1883.3 L278.7 1884.3 L279.4 1885.2 L280.1 1885.6 L281.0 1886.0 L281.6 1886.8 L282.4 1887.7 L283.2 1888.2 L283.8 1888.8 L284.4 1889.9 L285.1 1891.0 L285.7 1891.7 L286.4 1891.9 L286.9 1892.0 L287.7 1892.5 L288.6 1893.1 L289.2 1893.7 L289.8 1894.6 L290.6 1895.0 L291.5 1895.5 L292.3 1896.1 L293.3 1897.0 L294.3 1897.9 L295.0 1898.4 L295.6 1898.6 L296.2 1899.3 L297.1 1900.2 L298.2 1900.8 L298.9 1901.4 L299.4 1901.8 L300.2 1902.0 L300.8 1903.0 L301.4 1904.5 L302.2 1905.2 L302.8 1905.4 L303.4 1905.8 L304.4 1906.9 L305.2 1907.7 L305.9 1907.7 L306.6 1908.1 L307.4 1908.8 L308.4 1909.3 L309.1 1909.3 L309.6 1909.8 L310.3 1910.8 L311.1 1911.9 L311.9 1912.8 L312.6 1913.3 L313.4 1914.1 L314.2 1915.4 L315.0 1916.2 L315.7 1916.1 L316.6 1916.1 L317.6 1916.7 L318.6 1917.3 L319.5 1917.8 L320.5 1918.4 L321.6 1918.6 L322.3 1918.4 L322.9 1918.8 L323.9 1919.7 L324.8 1920.6 L325.7 1921.3 L326.5 1921.3 L327.5 1921.2 L328.3 1921.4 L329.0 1921.6 L329.9 1921.8 L330.9 1922.3 L332.0 1923.0 L332.7 1923.7 L333.4 1924.1 L334.3 1924.6 L335.4 1925.1 L336.3 1925.5 L337.1 1926.0 L338.2 1926.6 L339.3 1926.6 L340.0 1926.6 L340.6 1927.4 L341.4 1928.0 L342.4 1928.2 L343.4 1928.5 L344.4 1928.7 L345.4 1928.8 L346.2 1929.0 L347.0 1929.4 L347.9 1929.3 L348.9 1928.8 L350.0 1928.9 L350.9 1929.3 L351.9 1929.3 L353.0 1928.8 L353.9 1928.3 L354.9 1928.2 L356.0 1928.4 L356.8 1928.3 L357.6 1927.9 L358.7 1927.5 L359.7 1927.3 L360.6 1926.9 L361.4 1926.4 L361.9 1926.0 L362.8 1925.6 L363.8 1925.4 L364.6 1925.5 L365.3 1925.4 L365.9 1924.6 L366.4 1923.2 L367.2 1922.2 L368.0 1921.5 L368.5 1920.7 L369.1 1920.1 L369.9 1919.8 L370.4 1920.1 L370.8 1920.9 L370.9 1921.3 L370.9 1922.2 L371.1 1923.6 L371.5 1924.8 L371.8 1926.2 L371.9 1927.3 L372.1 1928.1 L372.1 1928.6 L372.2 1929.2 L372.4 1930.3 L372.6 1931.6 L372.7 1932.5 L372.9 1933.1 L373.4 1934.0 L373.7 1935.0 L373.7 1936.2 L373.8 1937.3 L374.1 1938.1 L374.6 1938.9 L375.1 1939.9 L375.9 1940.7 L376.9 1941.0 L377.9 1941.0 L378.4 1941.4 L379.0 1941.4 L379.6 1941.1 L380.8 1941.3 L382.2 1941.5 L383.2 1941.3 L383.9 1941.1 L385.0 1940.8 L386.0 1940.3 L386.9 1940.0 L387.9 1940.2 L389.1 1940.0 L390.1 1939.6 L391.0 1939.9 L391.8 1940.1 L392.7 1939.6 L393.6 1939.2 L394.7 1939.3 L395.7 1939.2 L396.7 1938.9 L397.6 1938.5 L398.5 1938.0 L399.5 1937.6 L400.4 1937.7 L401.2 1937.8 L402.1 1937.4 L403.3 1937.2 L404.3 1937.2 L405.1 1936.8 L405.8 1936.2 L406.6 1936.3 L407.6 1936.7 L408.8 1937.0 L409.8 1936.6 L410.6 1935.8 L411.6 1935.4 L412.7 1935.5 L413.8 1935.4 L414.8 1935.2 L415.8 1934.9 L416.7 1934.5 L417.4 1934.6 L418.4 1934.3 L419.5 1933.4 L420.3 1933.3 L421.3 1933.5 L422.3 1933.2 L423.0 1932.8 L423.9 1932.3 L425.1 1932.0 L426.1 1931.6 L426.9 1931.4 L427.7 1931.3 L428.5 1930.9 L429.3 1930.2 L430.2 1929.3 L431.2 1928.9 L431.9 1928.6 L432.7 1928.1 L433.7 1927.6 L434.8 1927.3 L435.7 1927.4 L436.6 1926.9 L437.6 1925.9 L438.5 1925.0 L439.3 1924.4 L440.1 1924.6 L441.1 1924.7 L442.1 1924.2 L442.8 1923.8 L443.7 1923.7 L444.7 1923.2 L445.6 1922.4 L446.4 1921.9 L447.3 1922.0 L448.3 1922.0 L449.4 1920.9 L450.3 1919.9 L450.8 1919.9 L451.3 1920.2 L452.2 1919.6 L453.6 1918.7 L454.8 1918.0 L455.5 1917.5 L456.4 1917.3 L457.2 1916.8 L458.1 1916.2 L459.1 1915.9 L460.2 1915.8 L461.1 1916.0 L461.9 1915.6 L462.6 1914.7 L463.4 1914.4 L464.4 1914.2 L465.6 1913.4 L466.5 1912.6 L467.2 1912.4 L468.0 1912.4 L468.9 1911.9 L469.8 1911.2 L470.8 1910.6 L471.7 1910.2 L472.6 1910.0 L473.3 1909.4 L473.9 1908.7 L474.9 1908.1 L475.8 1907.8 L476.8 1907.7 L478.1 1907.2 L478.9 1906.7 L479.7 1906.5 L480.6 1906.0 L481.6 1905.5 L482.7 1905.6 L483.5 1905.2 L484.5 1904.6 L485.6 1904.5 L486.8 1904.4 L487.8 1904.1 L488.5 1903.7 L489.4 1903.4 L490.5 1903.0 L491.7 1902.2 L492.5 1902.0 L493.4 1902.0 L494.3 1901.6 L495.1 1901.1 L496.1 1900.8 L497.0 1900.6 L497.7 1900.3 L498.4 1899.7 L499.5 1899.2 L500.4 1899.2 L501.5 1899.7 L502.6 1900.2 L503.5 1900.0 L504.2 1899.5 L505.1 1899.2 L506.1 1899.1 L507.0 1898.8 L507.9 1898.5 L509.0 1898.3 L510.0 1897.5 L510.7 1896.9 L511.7 1897.3 L512.8 1898.0 L513.7 1898.0 L514.7 1897.5 L515.6 1897.2 L516.4 1897.1 L517.5 1897.0 L518.5 1896.9 L519.4 1896.8 L520.2 1896.8 L521.2 1896.9 L522.2 1896.6 L523.3 1896.2 L524.3 1896.2 L525.3 1896.2 L526.5 1896.1 L527.6 1895.9 L528.4 1896.1 L529.4 1896.5 L530.6 1896.6 L531.6 1896.7 L532.3 1896.7 L533.1 1896.3 L534.2 1896.4 L535.2 1896.6 L536.2 1896.8 L537.2 1897.1 L538.1 1897.4 L539.1 1897.2 L540.0 1897.3 L540.9 1897.9 L542.1 1897.8 L543.3 1897.7 L544.2 1897.8 L545.1 1897.7 L546.1 1897.9 L547.2 1898.1 L548.3 1897.9 L549.3 1898.2 L550.1 1899.0 L550.9 1899.3 L551.7 1899.0 L552.9 1899.1 L554.0 1899.2 L555.0 1898.9 L555.9 1898.9 L556.9 1899.0 L557.8 1898.7 L558.6 1898.8 L559.6 1899.8 L560.6 1900.7 L561.5 1901.1 L562.2 1900.9 L563.1 1900.4 L564.3 1901.0 L565.5 1901.7 L566.5 1901.4 L567.3 1901.4 L568.1 1902.0 L569.1 1902.4 L570.0 1902.7 L570.8 1903.0 L571.5 1903.4 L572.5 1903.6 L573.6 1903.5 L574.7 1903.6 L575.7 1903.9 L576.7 1904.1 L577.8 1904.6 L578.9 1905.1 L579.8 1905.0 L580.6 1904.8 L581.4 1905.2 L582.2 1905.7 L583.1 1905.8 L584.1 1905.5 L585.4 1905.8 L586.4 1906.5 L587.4 1907.0 L588.4 1907.1 L589.4 1907.4 L590.1 1907.9 L590.8 1908.4 L591.9 1908.2 L592.8 1907.8 L593.7 1908.3 L594.7 1909.1 L595.5 1909.7 L596.2 1909.8 L597.1 1909.6 L598.1 1909.7 L598.9 1910.2 L600.0 1910.8 L601.2 1911.5 L602.0 1911.6 L602.7 1911.0 L603.5 1911.0 L604.5 1911.8 L605.4 1912.4 L606.3 1912.5 L607.0 1913.0 L608.0 1913.8 L609.1 1913.8 L609.8 1913.6 L610.9 1914.2 L612.1 1914.7 L612.8 1914.9 L613.5 1915.4 L614.6 1916.1 L615.7 1916.6 L616.6 1916.4 L617.4 1916.1 L618.2 1916.6 L619.3 1917.4 L620.4 1918.0 L621.5 1918.1 L622.6 1918.2 L623.3 1918.2 L623.8 1918.4 L624.7 1918.5 L625.9 1918.7 L627.0 1919.4 L628.1 1919.8 L629.0 1919.7 L629.6 1919.7 L630.6 1919.9 L631.8 1920.3 L632.6 1920.6 L633.3 1920.9 L634.4 1921.3 L635.5 1921.8 L636.4 1921.8 L637.4 1921.5 L638.5 1921.4 L639.4 1921.8 L640.4 1922.2 L641.4 1922.4 L642.5 1922.7 L643.5 1922.9 L644.4 1923.0 L645.4 1923.0 L646.2 1923.1 L647.1 1923.4 L648.2 1923.6 L649.3 1923.9 L650.1 1924.3 L650.9 1924.8 L651.9 1924.8 L653.1 1924.4 L654.1 1924.3 L654.9 1924.5 L655.9 1924.7 L656.8 1925.6 L657.6 1926.0 L658.3 1926.0 L659.3 1926.4 L660.2 1926.8 L661.0 1927.1 L662.1 1927.1 L663.2 1927.0 L664.2 1927.4 L665.4 1927.8 L666.4 1928.2 L667.1 1928.9 L668.0 1929.1 L669.0 1929.2 L669.9 1929.1 L670.9 1928.9 L672.0 1929.0 L673.1 1929.2 L673.9 1929.8 L674.8 1930.2 L675.7 1929.9 L676.6 1929.8 L677.6 1929.9 L678.5 1929.6 L679.4 1929.4 L680.4 1929.8 L681.2 1929.9 L682.1 1930.2 L683.2 1930.5 L684.1 1930.6 L684.9 1931.0 L685.9 1931.5 L687.1 1931.8 L688.2 1931.8 L689.1 1931.7 L689.9 1931.9 L690.8 1932.1 L691.7 1931.9 L692.5 1932.0 L693.8 1932.2 L694.9 1932.5 L695.7 1932.7 L696.6 1932.9 L697.7 1932.9 L698.7 1932.9 L699.6 1933.0 L700.5 1933.3 L701.3 1933.8 L702.2 1934.1 L703.2 1933.9 L704.2 1933.9 L705.3 1934.2 L706.2 1934.3 L707.1 1934.0 L708.1 1934.3 L709.1 1934.9 L710.1 1934.9 L711.1 1934.4 L712.0 1934.4 L713.0 1934.7 L713.9 1935.0 L714.9 1935.4 L715.9 1936.0 L716.9 1936.2 L717.7 1936.0 L718.5 1936.0 L719.3 1935.8 L720.3 1935.9 L721.4 1936.1 L722.4 1936.6 L723.5 1937.1 L724.4 1936.9 L725.0 1937.0 L725.8 1937.5 L726.9 1937.2 L728.0 1937.0 L729.1 1937.1 L730.3 1937.3 L731.3 1937.8 L731.8 1938.0 L732.6 1937.6 L733.6 1937.6 L734.4 1937.7 L735.5 1937.6 L736.6 1937.7 L737.5 1938.0 L738.4 1938.3 L739.3 1938.8 L740.1 1939.1 L741.0 1939.1 L742.1 1939.0 L743.0 1938.9 L743.8 1939.0 L744.8 1939.5 L745.9 1939.7 L747.0 1939.8 L747.9 1939.9 L748.8 1939.7 L749.8 1939.6 L750.8 1939.9 L751.8 1939.8 L752.6 1939.8 L753.5 1940.4 L754.5 1940.7 L755.5 1940.7 L756.6 1940.8 L757.4 1941.1 L758.2 1941.2 L759.2 1941.1 L760.3 1940.8 L761.3 1941.0 L762.2 1941.4 L763.1 1941.3 L764.0 1941.4 L764.9 1941.9 L765.9 1942.0 L766.9 1942.0 L768.0 1941.9 L769.1 1941.4 L770.0 1941.4 L771.0 1941.8 L772.0 1942.4 L773.2 1942.5 L774.3 1942.1 L775.3 1942.2 L776.2 1942.5 L777.0 1942.6 L777.9 1942.6 L778.9 1943.0 L779.8 1943.2 L780.8 1942.7 L781.8 1942.3 L782.9 1942.5 L784.1 1942.7 L785.3 1942.9 L786.1 1943.2 L786.9 1943.5 L787.9 1943.5 L788.9 1943.5 L789.9 1943.3 L790.9 1943.0 L792.0 1943.0 L793.1 1943.2 L794.1 1943.5 L794.9 1943.6 L796.0 1943.8 L797.0 1943.9 L798.0 1944.0 L798.9 1944.4 L800.0 1944.3 L801.0 1944.2 L801.9 1944.4 L802.8 1944.3 L803.8 1944.1 L804.8 1944.1 L805.6 1944.2 L806.5 1944.7 L807.7 1944.9 L808.8 1944.6 L809.5 1944.9 L810.0 1945.3 L811.0 1945.4 L811.9 1945.5 L813.2 1945.5 L814.4 1945.5 L815.3 1945.8 L816.2 1946.0 L817.1 1946.2 L818.1 1946.2 L819.0 1946.2 L820.0 1946.4 L820.9 1946.7 L821.7 1946.7 L822.6 1946.4 L823.4 1946.3 L824.4 1946.6 L825.6 1946.9 L826.8 1947.2 L827.7 1947.5"/>
<path stroke="#e0161a" d="M160.0 1954.5 L161.8 1954.5 L163.6 1954.5 L165.5 1954.5 L167.4 1954.5 L169.2 1954.5 L171.2 1954.5 L173.1 1954.5 L175.0 1954.6 L177.0 1954.6 L179.0 1954.6 L181.0 1954.6 L183.0 1954.6 L185.0 1954.7 L187.0 1954.7 L189.1 1954.7 L191.2 1954.7 L193.2 1954.7 L195.3 1954.7 L197.4 1954.7 L199.6 1954.7 L201.7 1954.7 L203.8 1954.7 L206.0 1954.7 L208.1 1954.7 L210.3 1954.7 L212.5 1954.7 L214.6 1954.7 L216.8 1954.7 L219.0 1954.7 L221.2 1954.7 L223.4 1954.7 L225.6 1954.7 L227.9 1954.7 L230.1 1954.7 L232.3 1954.7 L234.5 1954.7 L236.7 1954.7 L239.0 1954.7 L241.2 1954.7 L243.4 1954.7 L245.7 1954.7 L247.9 1954.7 L250.1 1954.7 L252.3 1954.7 L254.6 1954.7 L256.8 1954.7 L259.0 1954.7 L261.2 1954.7 L263.4 1954.7 L265.6 1954.7 L267.8 1954.7 L270.0 1954.7 L272.2 1954.7 L274.3 1954.7 L276.5 1954.7 L278.7 1954.7 L280.8 1954.7 L283.0 1954.7 L285.1 1954.7 L287.2 1954.7 L289.3 1954.7 L291.4 1954.7 L293.5 1954.7 L295.6 1954.7 L297.6 1954.7 L299.7 1954.7 L301.7 1954.7 L303.7 1954.7 L305.7 1954.7 L307.7 1954.7 L309.7 1954.7 L311.6 1954.7 L313.6 1954.7 L315.5 1954.7 L317.4 1954.7 L319.3 1954.7 L321.1 1954.7 L322.9 1954.7 L324.8 1954.7 L326.6 1954.7 L328.3 1954.7 L330.1 1954.7 L331.8 1954.7 L333.5 1954.7 L335.2 1954.7 L336.8 1954.7 L338.5 1954.7 L340.1 1954.7 L341.6 1954.7 L343.2 1954.7 L344.7 1954.7 L346.2 1954.7 L347.7 1954.7 L349.1 1954.7 L350.5 1954.7 L351.9 1954.7 L353.2 1954.7 L354.5 1954.7 L355.8 1954.7 L357.1 1954.7 L358.3 1954.7 L359.5 1954.7 L360.6 1954.7 L361.7 1954.7 L362.8 1954.7 L363.9 1954.7 L364.9 1954.7 L365.8 1954.7 L366.8 1954.7 L367.7 1954.7 L368.5 1954.7 L369.3 1954.7 L370.1 1954.7 L370.8 1954.7 L371.5 1954.7 L372.2 1954.5 L372.8 1954.4 L373.4 1954.2 L373.9 1954.0 L375.8 1953.2 L377.1 1952.3 L378.1 1951.3 L378.9 1950.3 L379.8 1949.0 L380.6 1947.8 L381.3 1946.5 L381.9 1945.1 L382.5 1943.6 L383.1 1942.0 L383.7 1940.4 L384.2 1938.7 L384.8 1937.0 L385.3 1935.5 L385.7 1934.1 L386.1 1932.5 L386.5 1931.0 L386.9 1929.4 L387.3 1927.8 L387.7 1926.1 L388.1 1924.4 L388.5 1922.6 L388.9 1920.8 L389.3 1918.9 L389.7 1917.0 L390.0 1915.6 L390.3 1914.1 L390.7 1912.5 L391.0 1910.9 L391.4 1909.3 L391.7 1907.7 L392.0 1906.0 L392.4 1904.3 L392.7 1902.6 L393.1 1900.8 L393.5 1899.0 L393.8 1897.3 L394.2 1895.5 L394.5 1893.7 L394.9 1891.8 L395.2 1890.0 L395.6 1888.2 L395.9 1886.4 L396.3 1884.6 L396.6 1882.8 L396.9 1881.1 L397.3 1879.3 L397.6 1877.6 L397.9 1875.9 L398.2 1874.2 L398.6 1872.4 L398.9 1870.7 L399.2 1869.0 L399.5 1867.3 L399.8 1865.6 L400.1 1863.8 L400.4 1862.1 L400.7 1860.4 L401.0 1858.7 L401.2 1856.9 L401.5 1855.2 L401.8 1853.5 L402.1 1851.8 L402.4 1850.1 L402.7 1848.3 L403.0 1846.6 L403.3 1844.9 L403.7 1843.2 L404.0 1841.4 L404.3 1839.7 L404.6 1838.0 L404.9 1836.3 L405.3 1834.6 L405.6 1832.8 L405.9 1831.1 L406.3 1829.4 L406.6 1827.7 L406.9 1825.9 L407.3 1824.2 L407.6 1822.5 L408.0 1820.8 L408.3 1819.1 L408.7 1817.3 L409.0 1815.6 L409.4 1813.9 L409.7 1812.2 L410.1 1810.4 L410.4 1808.7 L410.8 1807.0 L411.1 1805.3 L411.5 1803.6 L411.8 1801.8 L412.2 1800.1 L412.5 1798.4 L412.8 1796.7 L413.2 1795.0 L413.5 1793.2 L413.9 1791.5 L414.3 1789.8 L414.6 1788.1 L415.0 1786.4 L415.3 1784.6 L415.7 1782.9 L416.0 1781.2 L416.4 1779.5 L416.8 1777.8 L417.1 1776.0 L417.5 1774.3 L417.8 1772.6 L418.1 1770.9 L418.5 1769.1 L418.8 1767.4 L419.1 1765.7 L419.5 1764.0 L419.8 1762.2 L420.1 1760.5 L420.4 1758.8 L420.7 1757.1 L421.0 1755.4 L421.3 1753.6 L421.6 1751.9 L421.8 1750.2 L422.1 1748.5 L422.4 1746.8 L422.7 1745.0 L422.9 1743.3 L423.2 1741.6 L423.5 1739.9 L423.7 1738.2 L424.0 1736.4 L424.2 1734.7 L424.5 1733.0 L424.7 1731.3 L424.9 1729.5 L425.2 1727.8 L425.4 1726.1 L425.6 1724.4 L425.9 1722.6 L426.1 1720.9 L426.3 1719.2 L426.5 1717.5 L426.7 1715.8 L426.9 1714.0 L427.1 1712.3 L427.3 1710.6 L427.5 1708.9 L427.7 1707.2 L427.8 1705.4 L428.0 1703.7 L428.2 1702.0 L428.3 1700.3 L428.5 1698.5 L428.7 1696.8 L428.8 1695.1 L429.0 1693.4 L429.1 1691.7 L429.3 1689.9 L429.5 1688.2 L429.6 1686.5 L429.8 1684.8 L430.0 1683.0 L430.1 1681.3 L430.3 1679.6 L430.5 1677.9 L430.7 1676.1 L430.8 1674.4 L431.0 1672.6 L431.2 1670.9 L431.4 1669.1 L431.6 1667.4 L431.8 1665.6 L431.9 1663.9 L432.1 1662.1 L432.3 1660.3 L432.5 1658.6 L432.7 1656.8 L432.8 1655.1 L433.0 1653.4 L433.2 1651.7 L433.4 1649.9 L433.5 1648.2 L433.7 1646.6 L433.9 1644.9 L434.0 1643.2 L434.2 1641.6 L434.3 1640.0 L434.5 1638.1 L434.6 1636.3 L434.8 1634.5 L434.9 1632.7 L435.0 1631.0 L435.1 1629.3 L435.3 1627.6 L435.4 1625.9 L435.5 1624.2 L435.6 1622.5 L435.7 1620.7 L435.9 1619.0 L436.0 1617.3 L436.1 1615.5 L436.2 1613.7 L436.4 1611.9 L436.5 1610.0 L436.6 1608.4 L436.7 1606.7 L436.9 1605.0 L437.0 1603.3 L437.1 1601.5 L437.2 1599.7 L437.3 1597.9 L437.4 1596.1 L437.6 1594.3 L437.7 1592.5 L437.8 1590.7 L437.9 1588.9 L438.1 1587.0 L438.2 1585.2 L438.3 1583.4 L438.5 1581.7 L438.6 1579.9 L438.7 1578.2 L438.9 1576.5 L439.0 1574.8 L439.2 1573.2 L439.3 1571.6 L439.5 1570.0 L439.7 1568.1 L439.9 1566.3 L440.1 1564.4 L440.3 1562.6 L440.5 1560.7 L440.7 1558.9 L440.9 1557.1 L441.1 1555.4 L441.3 1553.7 L441.6 1552.1 L441.8 1550.5 L442.1 1549.0 L442.4 1547.6 L442.7 1546.3 L443.0 1545.0 L443.5 1543.1 L444.1 1541.2 L444.7 1539.4 L445.3 1537.9 L445.9 1536.9 L446.5 1536.5 L447.1 1536.9 L447.7 1537.9 L448.3 1539.4 L448.9 1541.2 L449.5 1543.1 L450.0 1545.0 L450.3 1546.3 L450.7 1547.6 L451.0 1549.0 L451.3 1550.5 L451.5 1552.1 L451.8 1553.7 L452.1 1555.4 L452.3 1557.1 L452.6 1558.9 L452.8 1560.7 L453.1 1562.5 L453.3 1564.4 L453.5 1566.3 L453.8 1568.1 L454.0 1570.0 L454.2 1571.6 L454.4 1573.2 L454.5 1574.8 L454.7 1576.5 L454.9 1578.2 L455.1 1579.9 L455.2 1581.7 L455.4 1583.4 L455.5 1585.2 L455.7 1587.0 L455.8 1588.9 L456.0 1590.7 L456.1 1592.5 L456.3 1594.3 L456.4 1596.1 L456.5 1597.9 L456.7 1599.7 L456.8 1601.5 L457.0 1603.3 L457.1 1605.0 L457.2 1606.7 L457.4 1608.4 L457.5 1610.0 L457.7 1611.9 L457.8 1613.7 L458.0 1615.5 L458.1 1617.3 L458.2 1619.0 L458.4 1620.7 L458.5 1622.5 L458.7 1624.2 L458.8 1625.9 L458.9 1627.6 L459.1 1629.3 L459.2 1631.0 L459.4 1632.7 L459.5 1634.5 L459.7 1636.3 L459.8 1638.1 L460.0 1640.0 L460.2 1641.6 L460.3 1643.2 L460.5 1644.9 L460.6 1646.6 L460.8 1648.2 L461.0 1649.9 L461.1 1651.6 L461.3 1653.4 L461.5 1655.1 L461.7 1656.8 L461.8 1658.6 L462.0 1660.3 L462.2 1662.1 L462.4 1663.8 L462.6 1665.6 L462.8 1667.4 L462.9 1669.1 L463.1 1670.9 L463.3 1672.6 L463.5 1674.4 L463.7 1676.1 L463.8 1677.9 L464.0 1679.6 L464.2 1681.3 L464.3 1683.0 L464.5 1684.8 L464.7 1686.5 L464.8 1688.2 L465.0 1689.9 L465.2 1691.7 L465.3 1693.4 L465.5 1695.1 L465.6 1696.8 L465.8 1698.5 L466.0 1700.3 L466.1 1702.0 L466.3 1703.7 L466.5 1705.4 L466.6 1707.2 L466.8 1708.9 L467.0 1710.6 L467.2 1712.3 L467.3 1714.0 L467.5 1715.8 L467.7 1717.5 L467.9 1719.2 L468.1 1720.9 L468.3 1722.6 L468.5 1724.4 L468.7 1726.1 L468.9 1727.8 L469.1 1729.5 L469.3 1731.3 L469.6 1733.0 L469.8 1734.7 L470.0 1736.4 L470.2 1738.1 L470.4 1739.9 L470.7 1741.6 L470.9 1743.3 L471.1 1745.0 L471.4 1746.7 L471.6 1748.5 L471.8 1750.2 L472.0 1751.9 L472.2 1753.6 L472.5 1755.4 L472.7 1757.1 L472.9 1758.8 L473.1 1760.5 L473.3 1762.2 L473.5 1764.0 L473.7 1765.7 L474.0 1767.4 L474.2 1769.1 L474.4 1770.9 L474.6 1772.6 L474.8 1774.3 L475.0 1776.0 L475.2 1777.7 L475.4 1779.5 L475.6 1781.2 L475.8 1782.9 L476.0 1784.6 L476.2 1786.4 L476.4 1788.1 L476.7 1789.8 L476.9 1791.5 L477.1 1793.2 L477.3 1795.0 L477.6 1796.7 L477.8 1798.4 L478.0 1800.1 L478.3 1801.9 L478.5 1803.7 L478.8 1805.5 L479.0 1807.3 L479.3 1809.1 L479.6 1810.9 L479.8 1812.7 L480.1 1814.5 L480.4 1816.4 L480.6 1818.2 L480.9 1820.0 L481.2 1821.7 L481.4 1823.5 L481.7 1825.2 L482.0 1827.0 L482.2 1828.6 L482.5 1830.3 L482.8 1831.9 L483.0 1833.5 L483.3 1835.1 L483.5 1836.6 L483.8 1838.0 L484.1 1839.9 L484.4 1841.7 L484.7 1843.4 L485.0 1845.1 L485.3 1846.8 L485.6 1848.3 L485.9 1849.9 L486.3 1851.5 L486.6 1853.0 L486.9 1854.6 L487.3 1856.2 L487.7 1857.8 L488.1 1859.5 L488.5 1861.1 L489.0 1862.8 L489.4 1864.4 L489.9 1866.1 L490.4 1867.8 L490.8 1869.4 L491.4 1871.1 L491.9 1872.7 L492.5 1874.3 L493.1 1876.0 L493.7 1877.6 L494.3 1879.2 L495.0 1880.8 L495.7 1882.4 L496.4 1884.0 L497.2 1885.6 L497.9 1887.2 L498.7 1888.8 L499.5 1890.4 L500.3 1891.9 L501.1 1893.4 L501.9 1894.8 L502.8 1896.1 L503.6 1897.4 L504.7 1898.9 L505.7 1900.3 L506.8 1901.6 L508.0 1902.9 L509.1 1904.1 L510.2 1905.2 L511.4 1906.3 L512.5 1907.3 L513.7 1908.3 L514.9 1909.2 L516.2 1910.0 L517.4 1910.7 L518.7 1911.5 L520.0 1912.3 L521.3 1913.1 L522.6 1914.0 L524.0 1914.8 L525.3 1915.6 L526.8 1916.4 L528.3 1917.2 L530.0 1918.0 L531.4 1918.6 L532.9 1919.1 L534.5 1919.7 L536.1 1920.2 L537.8 1920.8 L539.5 1921.3 L541.3 1921.8 L543.0 1922.3 L544.8 1922.7 L546.6 1923.2 L548.3 1923.6 L550.0 1924.0 L551.7 1924.4 L553.3 1924.7 L555.0 1925.0 L556.7 1925.3 L558.3 1925.6 L560.0 1925.8 L561.7 1926.1 L563.3 1926.3 L565.0 1926.6 L566.7 1926.9 L568.3 1927.2 L570.0 1927.5 L571.7 1927.9 L573.3 1928.2 L575.0 1928.6 L576.7 1929.0 L578.4 1929.4 L580.0 1929.8 L581.7 1930.3 L583.3 1930.7 L585.0 1931.1 L586.7 1931.6 L588.3 1932.0 L590.0 1932.5 L591.7 1933.0 L593.3 1933.5 L595.0 1934.0 L596.7 1934.5 L598.3 1935.1 L600.0 1935.6 L601.7 1936.2 L603.3 1936.7 L605.0 1937.2 L606.6 1937.7 L608.3 1938.1 L610.0 1938.5 L611.6 1938.9 L613.2 1939.2 L614.8 1939.5 L616.4 1939.7 L618.0 1940.0 L619.6 1940.2 L621.3 1940.4 L622.9 1940.6 L624.6 1940.8 L626.3 1941.1 L628.1 1941.3 L630.0 1941.5 L631.5 1941.7 L633.1 1941.9 L634.7 1942.1 L636.3 1942.3 L637.9 1942.5 L639.6 1942.7 L641.3 1942.8 L643.0 1943.0 L644.7 1943.2 L646.5 1943.4 L648.3 1943.6 L650.1 1943.8 L651.9 1943.9 L653.7 1944.1 L655.6 1944.3 L657.4 1944.4 L659.3 1944.6 L661.2 1944.7 L663.1 1944.9 L665.0 1945.0 L666.6 1945.1 L668.3 1945.2 L670.0 1945.3 L671.7 1945.4 L673.4 1945.4 L675.1 1945.5 L676.9 1945.6 L678.6 1945.6 L680.4 1945.7 L682.2 1945.7 L684.0 1945.8 L685.8 1945.8 L687.6 1945.8 L689.4 1945.9 L691.3 1945.9 L693.1 1945.9 L694.9 1946.0 L696.8 1946.0 L698.6 1946.0 L700.5 1946.1 L702.3 1946.1 L704.1 1946.2 L706.0 1946.2 L707.8 1946.3 L709.6 1946.3 L711.4 1946.4 L713.2 1946.4 L715.0 1946.5 L716.8 1946.6 L718.6 1946.6 L720.3 1946.7 L722.1 1946.8 L723.9 1946.9 L725.6 1947.0 L727.4 1947.1 L729.1 1947.1 L730.9 1947.2 L732.6 1947.3 L734.4 1947.4 L736.1 1947.5 L737.9 1947.6 L739.7 1947.7 L741.4 1947.8 L743.2 1947.9 L745.0 1948.0 L746.7 1948.1 L748.5 1948.2 L750.3 1948.3 L752.1 1948.4 L753.9 1948.5 L755.7 1948.6 L757.6 1948.6 L759.4 1948.7 L761.3 1948.8 L763.1 1948.9 L765.0 1949.0 L766.7 1949.1 L768.4 1949.2 L770.1 1949.2 L771.8 1949.3 L773.6 1949.4 L775.3 1949.4 L777.1 1949.5 L778.8 1949.6 L780.6 1949.7 L782.3 1949.7 L784.1 1949.8 L785.9 1949.9 L787.7 1950.0 L789.5 1950.0 L791.3 1950.1 L793.1 1950.2 L794.9 1950.2 L796.7 1950.3 L798.5 1950.4 L800.3 1950.4 L802.2 1950.5 L804.0 1950.6 L805.8 1950.7 L807.6 1950.7 L809.4 1950.8 L811.3 1950.9 L813.1 1950.9 L814.9 1951.0 L816.7 1951.1 L818.5 1951.1 L820.3 1951.2 L822.1 1951.3 L823.9 1951.4 L825.7 1951.4 L827.5 1951.5"/>
</g>
<path d="M106.0 1452.7 V1962.3 M186.3 1955.3 V1962.3 M266.6 1955.3 V1962.3 M346.8 1955.3 V1962.3 M427.1 1955.3 V1962.3 M507.4 1955.3 V1962.3 M587.7 1955.3 V1962.3 M667.9 1955.3 V1962.3 M748.2 1955.3 V1962.3 M828.5 1955.3 V1962.3" stroke="#b4b4b4" stroke-width="1.7" fill="none"/>
<path d="M99.0 1955.3 H828.5 M99.0 1871.5 H106.0 M99.0 1787.8 H106.0 M99.0 1704.0 H106.0 M99.0 1620.2 H106.0 M99.0 1536.5 H106.0 M99.0 1452.7 H106.0" stroke="#909090" stroke-width="1.1" fill="none"/>
<g font-size="23" fill="#050505">
<text x="87.0" y="1962.1" text-anchor="end">0.0</text>
<text x="87.0" y="1878.6" text-anchor="end">0.2</text>
<text x="87.0" y="1795.1" text-anchor="end">0.4</text>
<text x="87.0" y="1711.5" text-anchor="end">0.6</text>
<text x="87.0" y="1628.0" text-anchor="end">0.8</text>
<text x="87.0" y="1544.5" text-anchor="end">1.0</text>
<text x="87.0" y="1461.0" text-anchor="end">1.2</text>
<text x="106.0" y="1989.8" text-anchor="middle">0</text>
<text x="186.3" y="1989.8" text-anchor="middle">100</text>
<text x="266.6" y="1989.8" text-anchor="middle">200</text>
<text x="346.8" y="1989.8" text-anchor="middle">300</text>
<text x="427.1" y="1989.8" text-anchor="middle">400</text>
<text x="507.4" y="1989.8" text-anchor="middle">500</text>
<text x="587.7" y="1989.8" text-anchor="middle">600</text>
<text x="667.9" y="1989.8" text-anchor="middle">700</text>
<text x="748.2" y="1989.8" text-anchor="middle">800</text>
<text x="828.5" y="1989.8" text-anchor="middle">900</text>
</g>
<text x="449.2" y="2023" text-anchor="middle" font-weight="bold" font-size="22.7" fill="#050505">Sample Temperature (<tspan font-size="14.1" dy="-6.5">o</tspan><tspan dy="6.5">C)</tspan></text>
<text transform="translate(45.3 1727) rotate(-90)" text-anchor="middle" font-weight="bold" font-size="22.7" fill="#050505">Normalized signal, <tspan font-style="italic">m/z</tspan> 44 or 45</text>
<text x="4.6" y="1458.0" font-size="39" fill="#050505"><tspan font-size="42.5" dy="1.4">(</tspan><tspan dy="-1.4" dx="-0.9">c</tspan><tspan font-size="42.5" dy="1.4" dx="-0.9">)</tspan></text>
<g font-size="22.8" fill="#050505">
<path d="M159.2 1448.0 H184.9" stroke="#36829b" stroke-width="2.45" fill="none"/>
<text x="187.5" y="1456.3">Fe(II)-acetate</text>
<path d="M159.2 1480.7 H184.9" stroke="#8cbe4e" stroke-width="2.45" fill="none"/>
<text x="187.5" y="1489.0">K-acetate</text>
<path d="M159.2 1513.3 H184.9" stroke="#e0161a" stroke-width="2.45" fill="none"/>
<text x="187.5" y="1521.6">Mg-acetate</text>
<path d="M413.7 1448.0 H439.7" stroke="#222222" stroke-width="2.45" fill="none"/>
<text x="440.6" y="1456.3">Ca-acetate</text>
<path d="M413.7 1480.9 H439.7" stroke="#d57f37" stroke-width="2.45" fill="none"/>
<text x="440.6" y="1489.2">Ammonium-acetate</text>
</g>
<g fill="none" stroke-linejoin="round" stroke-linecap="round" stroke-width="2.55">
<path stroke="#4474b2" d="M157.0 2626.8 L157.1 2627.8 L157.2 2628.9 L157.4 2629.8 L158.0 2630.5 L158.3 2630.7 L158.7 2630.9 L159.1 2630.9 L159.6 2630.9 L160.1 2630.9 L160.7 2630.9 L161.3 2630.9 L162.0 2630.9 L162.7 2630.9 L163.4 2630.9 L164.2 2630.9 L165.1 2630.9 L166.0 2630.9 L166.9 2630.9 L167.8 2630.9 L168.8 2630.9 L169.8 2630.9 L170.8 2630.9 L171.8 2630.9 L172.9 2630.9 L174.0 2630.9 L175.1 2630.9 L176.3 2630.9 L177.4 2630.9 L178.6 2630.9 L179.8 2630.9 L181.0 2630.9 L182.2 2630.9 L183.4 2630.9 L184.6 2630.9 L185.8 2630.9 L187.0 2630.9 L188.2 2630.9 L189.4 2630.8 L190.7 2630.8 L191.9 2630.7 L193.1 2630.7 L194.2 2630.6 L195.4 2630.6 L196.6 2630.6 L197.7 2630.5 L198.9 2630.5 L200.0 2630.5 L200.9 2630.5 L201.8 2630.5 L202.7 2630.5 L203.6 2630.5 L204.6 2630.5 L205.5 2630.5 L206.5 2630.5 L207.5 2630.5 L208.6 2630.5 L209.6 2630.5 L210.7 2630.5 L211.7 2630.6 L212.8 2630.6 L213.9 2630.6 L215.0 2630.6 L216.2 2630.6 L217.3 2630.6 L218.5 2630.6 L219.6 2630.6 L220.8 2630.7 L221.9 2630.7 L223.1 2630.7 L224.3 2630.7 L225.5 2630.7 L226.7 2630.7 L227.9 2630.7 L229.1 2630.7 L230.3 2630.8 L231.5 2630.8 L232.7 2630.8 L233.9 2630.8 L235.1 2630.8 L236.2 2630.8 L237.4 2630.8 L238.6 2630.8 L239.8 2630.9 L241.0 2630.9 L242.1 2630.9 L243.3 2630.9 L244.4 2630.9 L245.6 2630.9 L246.7 2630.9 L247.8 2630.9 L248.9 2630.9 L250.0 2630.9 L251.1 2630.9 L252.2 2630.9 L253.2 2630.9 L254.2 2630.9 L255.3 2630.8 L256.3 2630.8 L257.2 2630.8 L258.2 2630.8 L259.1 2630.8 L260.1 2630.8 L261.0 2630.8 L261.8 2630.7 L262.7 2630.7 L263.5 2630.7 L264.3 2630.6 L265.1 2630.6 L265.8 2630.6 L266.5 2630.5 L267.2 2630.5 L267.9 2630.5 L268.5 2630.4 L269.1 2630.4 L269.7 2630.3 L270.2 2630.3 L270.7 2630.2 L271.2 2630.1 L271.6 2630.1 L272.0 2630.0 L273.1 2629.7 L274.0 2629.3 L274.6 2629.0 L275.3 2628.6 L276.0 2628.4 L276.7 2628.6 L277.4 2628.9 L278.2 2629.2 L279.0 2629.7 L280.0 2630.0 L280.7 2630.1 L281.4 2630.2 L282.3 2630.3 L283.2 2630.4 L284.2 2630.4 L285.2 2630.5 L286.3 2630.5 L287.3 2630.5 L288.5 2630.6 L289.6 2630.6 L290.6 2630.5 L291.7 2630.5 L292.8 2630.5 L293.7 2630.4 L294.7 2630.3 L295.5 2630.2 L296.3 2630.1 L297.0 2630.0 L298.1 2629.7 L299.1 2629.3 L300.0 2628.9 L300.8 2628.4 L301.5 2628.0 L302.0 2627.5 L302.4 2626.6 L303.0 2625.3 L303.6 2624.6 L304.3 2624.6 L304.9 2624.7 L305.4 2625.5 L306.0 2626.4 L306.4 2626.8 L306.7 2627.7 L307.4 2628.4 L308.3 2628.8 L309.2 2629.0 L310.0 2629.0 L311.0 2628.9 L312.0 2629.0 L312.8 2629.1 L313.5 2629.3 L314.3 2629.5 L315.1 2629.7 L315.9 2629.8 L316.8 2630.0 L317.8 2630.2 L318.8 2630.4 L320.0 2630.5 L320.6 2630.6 L321.3 2630.6 L322.1 2630.7 L322.9 2630.7 L323.8 2630.8 L324.7 2630.8 L325.6 2630.9 L326.6 2630.9 L327.7 2630.9 L328.8 2630.9 L329.9 2630.9 L331.0 2630.9 L332.2 2630.9 L333.4 2630.9 L334.5 2630.9 L335.8 2630.9 L337.0 2630.9 L338.2 2630.9 L339.4 2630.9 L340.7 2630.9 L341.9 2630.9 L343.1 2630.9 L344.3 2630.9 L345.5 2630.9 L346.7 2630.9 L347.8 2630.9 L349.0 2630.9 L350.0 2630.9 L351.1 2630.9 L352.1 2630.9 L353.1 2630.9 L354.1 2630.9 L355.0 2630.9 L355.8 2630.9 L356.6 2630.9 L357.3 2630.9 L358.0 2630.9 L358.6 2630.8 L359.1 2630.7 L359.6 2630.6 L360.0 2630.5 L360.9 2629.9 L361.5 2629.3 L362.0 2628.9 L362.5 2629.2 L363.1 2629.9 L364.0 2630.5 L364.3 2630.6 L364.7 2630.7 L365.1 2630.8 L365.6 2630.9 L366.2 2630.9 L366.8 2630.9 L367.4 2630.9 L368.1 2630.9 L368.8 2630.9 L369.6 2630.9 L370.4 2630.9 L371.3 2630.9 L372.2 2630.9 L373.1 2630.9 L374.1 2630.9 L375.1 2630.9 L376.1 2630.9 L377.2 2630.9 L378.3 2630.9 L379.4 2630.9 L380.5 2630.9 L381.7 2630.9 L382.9 2630.9 L384.0 2630.9 L385.3 2630.9 L386.5 2630.9 L387.7 2630.9 L389.0 2630.9 L390.3 2630.9 L391.5 2630.9 L392.8 2630.9 L394.1 2630.9 L395.4 2630.9 L396.7 2630.9 L398.0 2630.9 L399.3 2630.9 L400.6 2630.9 L401.8 2630.9 L403.1 2630.9 L404.4 2630.9 L405.6 2630.9 L406.9 2630.9 L408.1 2630.9 L409.3 2630.9 L410.5 2630.9 L411.7 2630.9 L412.8 2630.9 L414.0 2630.9 L415.1 2630.9 L416.1 2630.9 L417.2 2630.9 L418.2 2630.9 L419.2 2630.9 L420.2 2630.9 L421.1 2630.9 L422.0 2630.9 L422.8 2630.8 L423.6 2630.7 L424.4 2630.6 L425.1 2630.5 L425.8 2630.4 L426.4 2630.2 L427.0 2630.1 L427.5 2630.0 L428.7 2629.6 L429.8 2629.3 L430.7 2628.9 L431.5 2628.3 L432.2 2627.8 L432.8 2627.3 L433.5 2627.0 L434.1 2626.8 L434.8 2626.3 L435.6 2625.3 L436.6 2624.8 L437.4 2624.3 L438.2 2623.8 L438.9 2623.5 L439.4 2623.1 L440.3 2622.4 L441.3 2621.9 L441.9 2621.6 L442.7 2620.6 L443.3 2619.7 L443.9 2619.0 L444.4 2617.3 L444.9 2616.7 L445.6 2616.9 L446.2 2615.4 L446.4 2614.0 L446.9 2614.3 L447.8 2613.9 L448.3 2611.9 L448.7 2610.6 L449.3 2610.5 L449.6 2610.0 L450.0 2608.7 L450.8 2607.9 L451.4 2607.9 L451.8 2607.0 L452.6 2605.1 L453.7 2604.3 L454.5 2604.0 L454.9 2603.6 L455.5 2603.3 L455.9 2603.3 L456.4 2602.9 L457.0 2601.8 L457.7 2600.2 L458.1 2598.4 L458.2 2597.9 L458.7 2597.6 L459.4 2596.7 L459.7 2596.5 L460.4 2595.9 L461.5 2594.5 L461.9 2593.2 L462.1 2591.7 L462.6 2590.7 L463.1 2590.2 L463.5 2590.1 L464.1 2589.5 L464.5 2588.0 L465.0 2586.3 L465.6 2585.5 L466.2 2585.4 L466.7 2585.2 L467.4 2585.1 L468.1 2584.6 L468.4 2582.8 L468.2 2581.0 L468.4 2580.3 L469.1 2579.6 L469.7 2578.2 L470.0 2577.0 L470.4 2576.2 L470.7 2575.2 L471.0 2574.4 L471.3 2573.2 L472.0 2571.9 L472.9 2572.7 L473.0 2572.9 L473.2 2571.0 L474.4 2569.9 L475.5 2569.3 L475.8 2568.1 L476.0 2567.6 L476.8 2567.2 L477.7 2566.2 L478.1 2565.3 L478.5 2564.3 L479.0 2563.8 L479.6 2563.3 L480.3 2562.0 L480.4 2560.9 L480.7 2560.5 L481.2 2560.0 L481.6 2558.9 L481.6 2557.8 L481.7 2556.8 L482.1 2554.9 L482.3 2554.0 L482.4 2554.8 L482.9 2554.7 L483.2 2553.1 L483.3 2551.4 L483.6 2550.1 L484.3 2549.6 L484.6 2549.2 L484.3 2548.0 L484.2 2547.2 L484.4 2546.5 L484.4 2545.4 L484.7 2544.3 L485.3 2543.2 L485.8 2542.7 L485.8 2542.8 L485.9 2541.8 L486.2 2539.4 L486.8 2537.6 L487.8 2537.2 L488.0 2536.0 L487.4 2534.5 L487.1 2533.6 L487.4 2533.1 L487.7 2532.8 L487.7 2532.1 L487.8 2531.3 L488.3 2530.2 L488.7 2528.9 L488.8 2528.4 L489.1 2528.2 L489.6 2527.3 L489.5 2525.5 L489.4 2523.7 L490.0 2522.4 L491.0 2521.7 L491.3 2521.2 L491.1 2520.1 L491.4 2518.6 L492.1 2517.8 L492.4 2517.1 L492.4 2516.1 L492.6 2515.3 L492.6 2514.5 L492.7 2513.6 L493.4 2512.7 L493.8 2511.6 L494.0 2510.7 L494.1 2510.0 L494.1 2509.9 L494.5 2509.5 L494.9 2508.2 L495.2 2506.1 L496.1 2504.3 L496.3 2503.5 L495.9 2503.6 L496.2 2503.6 L496.7 2502.9 L497.0 2501.3 L497.2 2499.9 L497.5 2499.7 L497.9 2498.8 L498.3 2496.5 L498.6 2494.6 L498.5 2494.3 L498.3 2494.7 L498.7 2494.6 L499.1 2493.3 L499.2 2492.3 L499.6 2492.2 L500.4 2491.4 L500.5 2489.9 L500.3 2489.0 L500.4 2487.9 L501.0 2486.4 L501.5 2485.3 L502.1 2484.1 L502.4 2483.1 L502.1 2483.1 L502.3 2483.1 L503.0 2482.5 L503.4 2481.3 L503.5 2479.9 L503.7 2478.0 L503.7 2476.2 L503.9 2475.7 L504.0 2475.3 L504.0 2474.8 L504.8 2474.7 L505.2 2473.7 L505.0 2472.3 L505.2 2471.8 L505.8 2471.2 L506.1 2470.0 L506.1 2468.6 L506.2 2467.4 L506.6 2466.2 L506.7 2465.5 L506.6 2465.5 L506.9 2464.8 L507.3 2463.1 L507.5 2461.4 L507.4 2460.0 L507.5 2459.3 L508.0 2458.4 L508.6 2456.9 L509.2 2455.7 L509.2 2455.0 L509.3 2454.8 L509.7 2454.4 L510.1 2453.2 L510.3 2451.5 L510.1 2449.8 L509.8 2448.8 L510.2 2449.0 L511.1 2448.9 L511.6 2447.4 L511.8 2446.0 L512.0 2444.7 L511.7 2443.9 L511.4 2444.0 L511.7 2442.9 L512.2 2440.7 L512.6 2440.0 L512.6 2440.0 L512.6 2438.8 L512.9 2437.4 L513.1 2436.5 L513.3 2435.8 L513.8 2434.6 L514.0 2433.3 L514.0 2432.9 L514.0 2433.7 L514.3 2433.3 L514.7 2431.2 L514.6 2429.7 L514.3 2428.5 L514.3 2427.3 L514.9 2426.1 L515.3 2425.4 L515.5 2424.5 L515.6 2422.9 L515.8 2422.0 L516.2 2421.5 L516.5 2420.6 L516.4 2420.2 L516.4 2419.2 L517.0 2418.2 L517.3 2417.6 L517.3 2416.2 L517.6 2414.7 L517.9 2413.6 L517.8 2413.1 L517.7 2412.0 L518.0 2410.6 L518.5 2410.1 L518.6 2409.5 L518.7 2407.9 L518.6 2406.5 L518.6 2406.2 L519.3 2405.4 L520.0 2403.1 L520.1 2401.1 L520.1 2400.5 L520.5 2400.6 L520.8 2400.5 L520.4 2399.7 L520.2 2398.0 L520.4 2396.5 L520.9 2395.8 L521.5 2394.5 L521.8 2392.5 L521.6 2391.7 L521.8 2391.4 L522.5 2390.6 L522.8 2390.9 L522.8 2390.6 L523.1 2388.4 L523.3 2386.3 L523.4 2385.2 L523.6 2384.6 L523.6 2384.4 L523.6 2383.6 L524.0 2382.0 L524.6 2380.7 L525.3 2380.2 L525.9 2380.2 L526.1 2379.2 L526.1 2377.3 L526.2 2376.4 L526.2 2375.3 L526.7 2373.8 L527.5 2373.3 L528.0 2372.7 L528.5 2371.6 L528.6 2371.1 L528.3 2370.4 L528.2 2369.6 L528.5 2368.8 L529.5 2367.7 L530.5 2366.8 L531.2 2366.2 L531.1 2365.3 L530.5 2364.1 L530.0 2363.4 L530.0 2363.0 L530.5 2362.5 L530.8 2361.1 L531.0 2358.9 L531.6 2357.6 L532.0 2357.1 L531.7 2357.1 L531.7 2356.5 L532.0 2354.9 L532.4 2354.1 L532.4 2353.6 L532.1 2352.2 L532.2 2350.3 L532.4 2348.6 L532.9 2348.3 L533.7 2347.8 L533.9 2346.4 L533.5 2345.8 L533.7 2345.2 L534.1 2344.3 L534.3 2343.2 L534.5 2342.2 L535.1 2341.5 L535.6 2340.4 L535.4 2339.4 L534.6 2338.2 L534.7 2337.1 L535.6 2336.6 L535.9 2335.8 L535.7 2334.0 L535.8 2333.1 L536.1 2333.2 L536.5 2332.2 L537.0 2330.5 L537.3 2328.8 L536.9 2327.5 L536.6 2327.0 L537.1 2326.8 L538.0 2326.4 L538.3 2325.7 L538.2 2324.6 L538.0 2322.8 L537.9 2321.0 L538.5 2320.4 L538.9 2320.2 L538.7 2319.4 L538.6 2317.9 L538.6 2315.9 L538.8 2314.6 L539.0 2314.1 L539.2 2313.4 L539.2 2312.0 L539.0 2310.8 L539.4 2309.8 L540.1 2308.5 L540.6 2308.1 L541.1 2307.7 L541.5 2306.4 L541.7 2305.4 L541.8 2304.4 L542.0 2303.7 L542.0 2303.3 L542.3 2302.6 L543.0 2301.4 L543.3 2300.4 L543.5 2300.1 L544.3 2298.8 L544.9 2297.6 L545.2 2297.0 L545.6 2296.4 L545.9 2296.0 L546.0 2294.8 L545.7 2293.0 L545.7 2291.5 L545.9 2290.3 L546.0 2289.4 L546.6 2289.3 L547.3 2289.2 L547.8 2288.0 L548.1 2286.7 L548.4 2285.7 L548.6 2284.2 L549.2 2282.4 L549.7 2281.9 L549.5 2282.1 L549.6 2281.5 L550.6 2281.3 L551.1 2280.6 L551.0 2278.9 L551.1 2277.5 L551.4 2276.1 L551.8 2275.1 L552.1 2274.3 L552.2 2273.9 L552.3 2273.4 L552.7 2272.3 L552.9 2271.3 L553.0 2270.4 L553.1 2270.0 L553.4 2268.8 L553.8 2267.0 L554.1 2266.1 L554.5 2265.2 L554.7 2264.0 L554.6 2263.0 L554.6 2261.5 L555.1 2259.7 L555.3 2259.2 L555.1 2260.3 L555.7 2259.8 L556.1 2257.4 L556.0 2256.0 L555.9 2256.3 L556.2 2256.3 L556.8 2254.2 L557.2 2252.0 L557.6 2251.2 L558.1 2251.0 L558.1 2250.4 L557.9 2249.4 L558.0 2247.7 L558.6 2245.8 L559.2 2245.0 L559.6 2245.7 L560.3 2245.2 L560.6 2243.3 L561.0 2242.2 L561.6 2242.1 L561.9 2240.9 L562.4 2239.4 L563.4 2238.4 L564.2 2237.8 L564.9 2237.5 L565.3 2237.5 L566.1 2237.9 L567.1 2237.3 L567.2 2235.8 L567.4 2234.6 L567.9 2233.5 L568.7 2232.5 L569.7 2231.9 L570.0 2230.9 L569.8 2230.2 L570.5 2229.6 L571.5 2228.2 L571.8 2227.3 L571.9 2226.9 L572.5 2225.1 L573.2 2223.7 L573.5 2223.0 L573.6 2222.6 L573.3 2221.2 L573.3 2219.4 L573.7 2219.8 L574.0 2220.9 L574.4 2220.4 L574.7 2218.8 L574.9 2217.3 L574.9 2215.9 L575.3 2214.3 L576.1 2213.1 L576.7 2213.5 L576.8 2213.6 L577.4 2212.8 L578.5 2212.3 L579.4 2212.3 L580.7 2212.2 L582.1 2211.9 L582.7 2210.8 L583.4 2210.2 L584.9 2211.3 L585.8 2211.9 L586.3 2211.5 L587.2 2212.1 L588.5 2212.0 L589.4 2212.1 L590.3 2214.1 L591.3 2214.9 L592.5 2214.0 L593.7 2213.5 L594.3 2215.0 L594.6 2217.2 L595.1 2217.4 L596.0 2217.1 L596.8 2217.3 L597.4 2218.1 L598.1 2219.0 L598.5 2219.2 L599.1 2219.9 L600.3 2220.9 L601.3 2222.0 L601.8 2222.6 L602.4 2223.1 L603.1 2223.7 L604.0 2223.5 L605.3 2223.6 L606.1 2224.3 L606.4 2225.1 L607.0 2225.1 L607.8 2224.2 L608.5 2224.3 L608.8 2226.1 L609.1 2228.7 L609.6 2229.7 L610.2 2229.7 L610.6 2230.0 L611.2 2230.3 L611.9 2231.9 L612.4 2234.1 L612.6 2235.5 L612.8 2236.3 L613.2 2236.4 L613.5 2237.1 L613.5 2237.9 L613.6 2238.5 L613.9 2239.6 L614.3 2240.9 L614.7 2242.0 L615.3 2242.4 L615.9 2243.0 L615.9 2243.9 L615.8 2244.6 L615.8 2245.6 L615.8 2247.3 L616.1 2248.5 L616.4 2249.1 L616.7 2249.6 L617.6 2250.0 L617.8 2250.5 L617.5 2251.4 L618.1 2253.0 L618.7 2254.9 L618.8 2255.5 L619.1 2255.3 L619.2 2256.6 L618.9 2259.1 L619.1 2260.7 L619.6 2261.6 L619.6 2262.1 L619.7 2262.0 L620.4 2262.4 L620.8 2263.9 L620.8 2265.7 L621.1 2266.3 L621.2 2266.7 L620.8 2267.3 L621.0 2267.8 L621.5 2268.1 L621.7 2268.5 L621.7 2269.8 L622.0 2271.6 L622.8 2273.5 L623.3 2274.9 L623.2 2275.0 L623.6 2274.7 L624.0 2275.8 L624.2 2277.5 L624.2 2278.4 L624.1 2278.8 L624.1 2279.7 L623.8 2281.3 L624.0 2282.8 L624.6 2283.6 L624.8 2284.0 L624.3 2284.6 L624.3 2285.6 L625.1 2287.1 L625.6 2288.4 L625.7 2289.5 L625.6 2290.5 L625.6 2291.4 L626.2 2293.1 L626.6 2294.3 L626.8 2295.0 L627.2 2295.5 L627.3 2295.8 L627.4 2297.0 L626.9 2298.7 L626.3 2299.6 L626.4 2300.2 L626.8 2301.2 L627.7 2302.7 L628.3 2303.3 L628.3 2304.1 L628.7 2306.2 L629.2 2307.5 L629.5 2307.9 L629.6 2308.4 L629.6 2309.3 L630.1 2311.2 L630.5 2312.7 L631.1 2312.2 L631.5 2312.1 L631.6 2313.4 L631.9 2315.0 L632.0 2315.8 L632.2 2315.9 L632.3 2316.6 L632.4 2318.2 L632.8 2320.0 L633.1 2321.1 L633.4 2321.7 L633.4 2322.5 L633.7 2323.0 L634.6 2323.0 L635.1 2322.9 L635.4 2323.8 L635.8 2325.5 L636.2 2327.1 L636.6 2327.9 L636.8 2328.3 L636.9 2329.4 L637.2 2330.6 L637.3 2331.4 L637.5 2331.8 L638.2 2332.8 L638.9 2334.4 L639.4 2335.3 L640.0 2336.0 L640.2 2336.3 L640.3 2337.1 L640.2 2337.9 L640.2 2338.9 L640.7 2340.0 L641.4 2340.6 L641.7 2341.2 L641.6 2342.0 L641.6 2343.8 L641.8 2345.5 L642.0 2347.2 L642.1 2348.2 L642.5 2348.0 L643.0 2348.2 L643.6 2348.9 L644.1 2350.1 L644.0 2351.7 L643.9 2353.0 L644.3 2354.3 L644.9 2355.5 L645.6 2356.2 L645.6 2356.5 L645.2 2357.1 L645.0 2357.9 L645.3 2358.2 L645.3 2358.7 L645.5 2360.5 L645.9 2362.2 L646.3 2362.9 L646.7 2363.3 L647.0 2363.8 L647.3 2365.0 L647.7 2366.6 L648.1 2368.1 L648.7 2369.2 L649.0 2369.7 L649.0 2370.8 L649.2 2371.7 L649.3 2372.6 L649.7 2374.7 L650.1 2376.3 L650.2 2376.3 L650.9 2376.5 L651.3 2377.9 L651.3 2379.6 L651.7 2380.0 L651.4 2379.9 L651.0 2380.7 L651.4 2381.6 L652.1 2382.6 L652.5 2384.1 L652.7 2385.1 L653.5 2385.4 L654.1 2385.9 L654.2 2386.8 L654.6 2388.3 L655.4 2389.6 L655.8 2390.0 L655.8 2391.1 L656.1 2392.3 L656.4 2392.7 L656.4 2393.1 L656.6 2394.1 L657.1 2395.2 L657.3 2396.1 L657.2 2397.2 L657.5 2398.3 L658.1 2399.3 L658.5 2400.7 L658.9 2401.7 L659.5 2402.4 L659.4 2403.5 L659.3 2404.3 L659.7 2405.0 L659.7 2406.6 L659.9 2407.8 L660.4 2407.7 L660.3 2408.1 L660.3 2410.2 L661.0 2411.5 L661.5 2411.5 L661.5 2412.5 L661.5 2413.3 L661.9 2413.6 L662.3 2415.5 L662.5 2417.3 L662.4 2418.3 L662.3 2418.8 L662.5 2419.1 L663.3 2420.8 L664.3 2421.8 L664.5 2420.9 L664.8 2421.9 L665.4 2423.5 L665.8 2423.5 L666.1 2423.9 L666.4 2425.6 L666.6 2426.7 L667.0 2427.2 L667.6 2428.5 L668.1 2430.1 L668.5 2431.0 L668.6 2431.1 L668.4 2431.1 L668.6 2431.4 L669.5 2431.7 L670.2 2433.1 L670.5 2435.1 L670.7 2436.4 L671.1 2437.0 L671.5 2437.2 L672.0 2437.1 L672.6 2437.9 L673.0 2439.2 L673.4 2440.4 L673.6 2442.3 L674.1 2444.5 L674.9 2444.9 L675.4 2444.3 L675.6 2444.9 L675.9 2446.0 L676.4 2446.9 L677.1 2447.4 L677.4 2448.4 L677.2 2450.6 L677.5 2452.2 L678.1 2452.8 L678.3 2453.5 L677.9 2454.1 L678.1 2454.2 L678.9 2454.5 L679.9 2456.1 L680.6 2457.1 L680.9 2456.9 L681.3 2457.8 L681.7 2459.8 L682.1 2460.6 L682.1 2461.1 L682.3 2462.7 L683.1 2463.8 L683.7 2464.3 L683.9 2464.6 L684.5 2465.2 L685.2 2466.6 L685.3 2467.1 L685.5 2467.3 L686.5 2469.0 L687.0 2470.1 L686.7 2470.6 L686.8 2472.2 L687.4 2473.6 L688.2 2474.1 L689.0 2474.3 L689.4 2474.9 L689.5 2476.2 L689.5 2477.4 L690.1 2478.0 L690.7 2479.1 L690.9 2480.7 L691.1 2481.7 L691.8 2482.8 L692.4 2483.5 L692.9 2483.0 L693.5 2483.3 L694.6 2485.2 L695.1 2487.0 L694.9 2488.1 L695.2 2488.6 L695.7 2488.9 L696.1 2489.1 L696.6 2490.7 L697.3 2493.2 L698.1 2493.3 L698.5 2492.5 L698.5 2493.6 L698.6 2494.4 L699.6 2494.3 L700.9 2495.6 L701.5 2497.7 L702.1 2499.4 L702.8 2499.8 L703.1 2499.4 L703.7 2499.5 L704.3 2500.3 L704.8 2501.5 L705.2 2502.2 L706.0 2502.1 L707.0 2502.6 L707.6 2503.2 L708.0 2503.7 L708.9 2505.2 L709.9 2507.4 L710.5 2508.7 L711.2 2508.3 L711.8 2507.7 L712.1 2509.4 L712.5 2511.5 L712.9 2511.4 L713.5 2511.4 L714.3 2512.4 L715.1 2513.0 L716.0 2513.7 L716.8 2514.9 L717.1 2515.7 L717.3 2516.2 L717.9 2516.5 L718.7 2516.9 L719.4 2518.1 L719.5 2519.3 L719.6 2519.7 L720.4 2519.6 L721.6 2520.1 L722.5 2521.2 L722.7 2521.8 L722.9 2522.6 L723.4 2523.6 L723.9 2524.7 L724.6 2525.5 L725.4 2524.7 L726.3 2523.7 L727.1 2524.5 L727.3 2526.2 L727.6 2527.7 L728.4 2529.7 L729.3 2531.5 L729.9 2531.7 L730.1 2532.0 L730.3 2533.0 L731.3 2533.6 L732.1 2534.3 L732.7 2534.5 L733.4 2534.6 L733.8 2536.7 L734.2 2538.2 L735.3 2538.2 L736.4 2539.0 L736.9 2539.6 L737.0 2539.8 L737.1 2540.5 L737.4 2541.5 L738.6 2541.8 L739.9 2542.7 L740.6 2544.5 L740.7 2545.9 L740.7 2546.3 L741.1 2545.2 L742.2 2544.6 L743.3 2544.5 L744.1 2543.2 L744.6 2542.5 L745.2 2543.2 L746.2 2544.0 L747.2 2543.4 L748.3 2542.9 L749.3 2544.2 L750.2 2545.0 L750.8 2544.4 L751.3 2545.1 L751.8 2547.2 L752.0 2548.0 L752.4 2548.2 L752.6 2549.5 L752.9 2550.5 L753.4 2551.1 L753.6 2552.6 L753.8 2554.5 L754.3 2555.5 L755.0 2556.1 L756.0 2556.4 L756.9 2556.9 L757.3 2557.6 L757.8 2558.1 L758.9 2558.7 L759.7 2558.8 L759.9 2558.4 L760.6 2557.7 L761.6 2557.2 L762.4 2556.7 L763.1 2555.2 L763.4 2554.1 L763.8 2553.7 L764.8 2553.8 L765.8 2553.7 L766.6 2553.6 L767.3 2553.9 L768.5 2554.1 L769.8 2554.2 L770.6 2554.5 L771.3 2554.6 L771.9 2554.4 L772.9 2554.6 L774.0 2555.0 L774.9 2555.3 L775.5 2556.3 L776.2 2557.2 L777.0 2557.5 L777.3 2558.3 L777.9 2558.6 L779.3 2558.8 L781.1 2558.9 L782.4 2559.0 L783.3 2559.9 L783.7 2560.4 L784.0 2559.8 L784.9 2559.3 L786.1 2559.9 L786.9 2561.2 L787.6 2561.5 L788.5 2561.0 L789.4 2559.9 L790.3 2559.2 L791.6 2559.5 L792.7 2559.4 L794.0 2560.2 L795.0 2561.4 L795.5 2561.4 L796.4 2561.0 L797.2 2561.6 L797.6 2563.3 L798.3 2564.2 L799.2 2564.3 L800.1 2564.6 L800.7 2564.5 L801.4 2565.1 L802.5 2566.2 L803.3 2566.2 L803.6 2564.6 L803.7 2562.6 L804.0 2562.0 L804.4 2561.5 L804.7 2560.4 L805.0 2560.2 L805.2 2560.6 L805.7 2561.2 L806.3 2562.0 L806.8 2562.7 L807.4 2564.0 L808.3 2565.4 L808.6 2566.0 L809.1 2565.6 L809.7 2564.4 L810.3 2563.4 L811.3 2562.2 L812.1 2560.8 L812.6 2560.1"/>
<path stroke="#80262a" d="M160.0 2630.5 L161.8 2630.5 L163.6 2630.5 L165.5 2630.5 L167.3 2630.5 L169.2 2630.5 L171.1 2630.5 L173.0 2630.5 L175.0 2630.5 L176.9 2630.5 L178.9 2630.5 L180.8 2630.5 L182.8 2630.5 L184.8 2630.5 L186.8 2630.5 L188.8 2630.5 L190.8 2630.5 L192.9 2630.6 L194.9 2630.6 L196.9 2630.6 L199.0 2630.6 L201.0 2630.6 L203.1 2630.6 L205.2 2630.6 L207.2 2630.6 L209.3 2630.6 L211.4 2630.7 L213.4 2630.7 L215.5 2630.7 L217.5 2630.7 L219.6 2630.7 L221.7 2630.7 L223.7 2630.7 L225.8 2630.7 L227.8 2630.8 L229.8 2630.8 L231.9 2630.8 L233.9 2630.8 L235.9 2630.8 L237.9 2630.8 L239.9 2630.8 L241.9 2630.8 L243.9 2630.8 L245.8 2630.8 L247.8 2630.8 L249.7 2630.8 L251.6 2630.8 L253.5 2630.8 L255.4 2630.8 L257.2 2630.8 L259.1 2630.8 L260.9 2630.8 L262.7 2630.8 L264.5 2630.8 L266.3 2630.8 L268.0 2630.8 L269.7 2630.8 L271.4 2630.8 L273.1 2630.8 L274.7 2630.7 L276.3 2630.7 L277.9 2630.7 L279.5 2630.7 L281.0 2630.6 L282.5 2630.6 L284.0 2630.6 L285.4 2630.6 L286.8 2630.5 L288.2 2630.5 L289.6 2630.5 L290.9 2630.4 L292.1 2630.4 L293.4 2630.3 L294.6 2630.3 L295.7 2630.2 L296.9 2630.2 L298.0 2630.1 L299.0 2630.1 L300.0 2630.0 L302.3 2629.8 L304.4 2629.7 L306.4 2629.5 L308.1 2629.4 L309.8 2629.2 L311.3 2629.0 L312.8 2628.8 L314.2 2628.6 L315.7 2628.4 L317.1 2628.1 L318.5 2627.8 L320.0 2627.5 L321.8 2627.1 L323.6 2626.6 L325.3 2626.2 L327.1 2625.7 L328.7 2625.1 L330.4 2624.5 L332.0 2623.9 L333.5 2623.2 L335.0 2622.5 L336.6 2621.6 L338.2 2620.7 L339.7 2619.7 L341.1 2618.7 L342.4 2617.6 L343.8 2616.4 L345.0 2615.0 L346.0 2613.8 L346.9 2612.4 L347.8 2611.0 L348.6 2609.5 L349.4 2608.0 L350.2 2606.4 L350.9 2604.7 L351.6 2603.1 L352.3 2601.6 L353.0 2600.0 L353.7 2598.4 L354.4 2596.8 L355.0 2595.2 L355.6 2593.6 L356.1 2592.0 L356.7 2590.3 L357.2 2588.6 L357.8 2586.9 L358.3 2585.0 L358.7 2583.5 L359.1 2582.0 L359.5 2580.5 L359.9 2578.9 L360.2 2577.3 L360.6 2575.6 L361.0 2573.9 L361.3 2572.2 L361.7 2570.5 L362.0 2568.8 L362.3 2567.0 L362.7 2565.3 L363.0 2563.5 L363.4 2561.8 L363.7 2560.0 L364.0 2558.3 L364.3 2556.6 L364.6 2554.9 L365.0 2553.1 L365.3 2551.4 L365.6 2549.6 L365.9 2547.8 L366.1 2546.1 L366.4 2544.3 L366.7 2542.5 L367.0 2540.7 L367.3 2538.9 L367.6 2537.1 L367.9 2535.3 L368.2 2533.5 L368.5 2531.8 L368.8 2530.0 L369.1 2528.2 L369.4 2526.5 L369.7 2524.7 L370.0 2522.9 L370.3 2521.2 L370.6 2519.4 L371.0 2517.6 L371.3 2515.9 L371.6 2514.1 L371.9 2512.4 L372.2 2510.6 L372.5 2508.8 L372.8 2507.1 L373.1 2505.3 L373.4 2503.5 L373.7 2501.8 L374.0 2500.0 L374.3 2498.2 L374.6 2496.4 L374.9 2494.7 L375.2 2492.9 L375.4 2491.1 L375.7 2489.3 L376.0 2487.4 L376.3 2485.6 L376.5 2483.9 L376.8 2482.1 L377.1 2480.3 L377.4 2478.5 L377.7 2476.8 L377.9 2475.1 L378.2 2473.3 L378.5 2471.7 L378.8 2470.0 L379.1 2468.3 L379.4 2466.5 L379.7 2464.8 L380.1 2463.1 L380.4 2461.4 L380.7 2459.7 L381.0 2458.1 L381.4 2456.5 L381.7 2454.8 L382.0 2453.2 L382.3 2451.6 L382.6 2450.1 L382.9 2448.5 L383.2 2447.0 L383.5 2445.2 L383.8 2443.4 L384.1 2441.6 L384.4 2439.9 L384.7 2438.2 L385.0 2436.5 L385.3 2434.8 L385.6 2433.2 L385.9 2431.6 L386.3 2430.0 L386.7 2428.3 L387.1 2426.6 L387.5 2424.9 L388.0 2423.3 L388.4 2421.7 L388.9 2420.2 L389.4 2418.8 L390.0 2417.5 L390.7 2415.9 L391.5 2414.4 L392.2 2413.0 L393.1 2411.9 L394.0 2411.5 L395.1 2411.8 L396.3 2412.8 L397.5 2414.3 L398.8 2415.9 L400.0 2417.5 L400.8 2418.7 L401.6 2420.0 L402.4 2421.4 L403.2 2422.9 L403.9 2424.4 L404.7 2425.9 L405.6 2427.4 L406.5 2428.8 L407.5 2430.0 L408.7 2431.3 L409.9 2432.6 L411.2 2433.9 L412.5 2435.1 L413.9 2436.2 L415.3 2437.1 L416.7 2437.7 L418.0 2438.0 L419.6 2437.9 L421.2 2437.4 L422.9 2436.6 L424.5 2435.6 L426.0 2434.3 L427.5 2433.0 L428.5 2431.9 L429.5 2430.7 L430.5 2429.4 L431.5 2427.9 L432.4 2426.4 L433.3 2424.8 L434.1 2423.1 L435.0 2421.4 L435.8 2419.6 L436.7 2417.8 L437.5 2416.0 L438.1 2414.6 L438.7 2413.2 L439.3 2411.7 L439.8 2410.2 L440.4 2408.6 L440.9 2407.0 L441.4 2405.4 L442.0 2403.8 L442.5 2402.1 L443.0 2400.4 L443.5 2398.7 L444.0 2397.0 L444.5 2395.3 L445.0 2393.6 L445.5 2391.8 L446.0 2390.1 L446.5 2388.4 L447.0 2386.7 L447.5 2385.0 L448.0 2383.4 L448.5 2381.7 L449.0 2380.1 L449.5 2378.4 L449.9 2376.7 L450.4 2375.0 L450.9 2373.3 L451.4 2371.6 L451.9 2369.8 L452.4 2368.1 L452.9 2366.4 L453.3 2364.7 L453.8 2363.0 L454.3 2361.3 L454.8 2359.6 L455.2 2358.0 L455.7 2356.3 L456.1 2354.7 L456.6 2353.1 L457.1 2351.5 L457.5 2350.0 L458.0 2348.2 L458.5 2346.4 L459.0 2344.6 L459.5 2342.9 L460.0 2341.2 L460.5 2339.5 L461.0 2337.8 L461.5 2336.1 L461.9 2334.4 L462.4 2332.8 L462.9 2331.2 L463.4 2329.6 L463.9 2328.1 L464.5 2326.5 L465.0 2325.0 L465.6 2323.2 L466.3 2321.4 L466.9 2319.6 L467.5 2317.8 L468.2 2316.0 L468.8 2314.3 L469.5 2312.7 L470.2 2311.2 L471.0 2309.8 L471.7 2308.6 L472.5 2307.5 L473.6 2306.2 L474.8 2305.1 L476.0 2304.2 L477.2 2303.6 L478.5 2303.5 L479.6 2303.8 L480.7 2304.6 L481.8 2305.7 L482.9 2306.9 L484.0 2308.4 L485.2 2309.8 L486.3 2311.2 L487.5 2312.5 L488.7 2313.8 L490.0 2315.2 L491.2 2316.6 L492.4 2318.1 L493.7 2319.5 L495.0 2320.7 L496.2 2321.7 L497.5 2322.5 L499.0 2323.1 L500.5 2323.6 L502.0 2323.8 L503.5 2323.8 L505.0 2323.5 L506.3 2323.0 L507.6 2322.3 L508.9 2321.3 L510.2 2320.2 L511.4 2318.9 L512.5 2317.5 L513.3 2316.3 L514.1 2315.0 L514.8 2313.6 L515.5 2312.1 L516.1 2310.5 L516.8 2308.9 L517.4 2307.2 L518.0 2305.4 L518.7 2303.6 L519.3 2301.8 L520.0 2300.0 L520.5 2298.5 L521.1 2297.0 L521.6 2295.4 L522.2 2293.8 L522.7 2292.1 L523.3 2290.4 L523.8 2288.7 L524.3 2287.0 L524.9 2285.2 L525.4 2283.5 L526.0 2281.7 L526.5 2280.0 L527.1 2278.2 L527.7 2276.5 L528.2 2274.8 L528.8 2273.2 L529.4 2271.6 L530.0 2270.0 L530.7 2268.3 L531.4 2266.6 L532.1 2264.9 L532.8 2263.2 L533.6 2261.6 L534.3 2260.0 L535.0 2258.3 L535.8 2256.8 L536.5 2255.2 L537.2 2253.6 L537.9 2252.1 L538.6 2250.5 L539.3 2249.0 L540.0 2247.5 L540.7 2245.8 L541.5 2244.1 L542.2 2242.5 L542.9 2240.8 L543.6 2239.2 L544.3 2237.6 L544.9 2236.0 L545.6 2234.4 L546.2 2232.9 L546.9 2231.4 L547.5 2230.0 L548.2 2228.3 L549.0 2226.6 L549.6 2224.9 L550.3 2223.3 L551.0 2221.8 L551.7 2220.4 L552.5 2219.0 L553.5 2217.3 L554.5 2215.6 L555.5 2214.0 L556.5 2212.9 L557.5 2212.5 L558.4 2212.8 L559.2 2213.7 L560.1 2215.0 L560.9 2216.6 L561.7 2218.3 L562.5 2220.0 L563.0 2221.3 L563.5 2222.7 L564.0 2224.2 L564.4 2225.8 L564.8 2227.5 L565.2 2229.2 L565.6 2231.0 L566.0 2232.8 L566.4 2234.6 L566.7 2236.4 L567.1 2238.2 L567.5 2240.0 L567.8 2241.6 L568.2 2243.2 L568.5 2244.9 L568.9 2246.5 L569.2 2248.2 L569.5 2249.9 L569.8 2251.6 L570.2 2253.4 L570.5 2255.1 L570.8 2256.8 L571.1 2258.5 L571.5 2260.1 L571.8 2261.8 L572.2 2263.4 L572.5 2265.0 L572.9 2266.8 L573.3 2268.5 L573.6 2270.2 L574.0 2271.9 L574.4 2273.6 L574.8 2275.3 L575.2 2276.9 L575.6 2278.6 L576.0 2280.2 L576.5 2281.8 L577.0 2283.4 L577.5 2285.0 L578.1 2286.6 L578.7 2288.3 L579.4 2289.9 L580.0 2291.4 L580.8 2293.0 L581.5 2294.5 L582.2 2296.1 L582.9 2297.7 L583.6 2299.3 L584.3 2300.9 L585.0 2302.5 L585.6 2304.1 L586.3 2305.7 L586.9 2307.3 L587.6 2309.0 L588.2 2310.6 L588.8 2312.3 L589.4 2313.9 L590.1 2315.6 L590.7 2317.3 L591.3 2319.0 L591.9 2320.7 L592.5 2322.5 L593.0 2324.1 L593.5 2325.7 L594.0 2327.4 L594.5 2329.1 L595.0 2330.8 L595.5 2332.5 L596.0 2334.2 L596.5 2336.0 L596.9 2337.7 L597.4 2339.4 L597.9 2341.1 L598.4 2342.8 L598.9 2344.4 L599.5 2346.0 L600.0 2347.5 L600.6 2349.3 L601.3 2351.0 L601.9 2352.7 L602.5 2354.4 L603.2 2356.1 L603.9 2357.7 L604.5 2359.3 L605.2 2360.9 L606.0 2362.3 L606.7 2363.7 L607.5 2365.0 L608.5 2366.5 L609.5 2368.1 L610.5 2369.5 L611.6 2370.8 L612.7 2372.0 L613.8 2372.9 L615.0 2373.5 L616.5 2373.7 L618.0 2373.3 L619.6 2372.8 L621.1 2372.4 L622.5 2372.5 L623.9 2373.2 L625.2 2374.4 L626.3 2375.8 L627.5 2377.5 L628.2 2378.6 L628.9 2379.9 L629.6 2381.4 L630.3 2382.9 L631.0 2384.5 L631.7 2386.2 L632.4 2387.9 L633.0 2389.7 L633.7 2391.5 L634.4 2393.3 L635.0 2395.0 L635.6 2396.5 L636.1 2398.1 L636.7 2399.8 L637.3 2401.4 L637.8 2403.1 L638.4 2404.8 L638.9 2406.5 L639.5 2408.2 L640.0 2409.9 L640.5 2411.6 L641.0 2413.3 L641.5 2414.9 L642.0 2416.5 L642.5 2418.0 L643.0 2419.7 L643.5 2421.4 L644.0 2423.0 L644.5 2424.6 L644.9 2426.1 L645.4 2427.7 L645.8 2429.3 L646.3 2430.8 L646.9 2432.4 L647.5 2434.0 L648.1 2435.5 L648.7 2437.0 L649.3 2438.5 L650.0 2440.0 L650.7 2441.5 L651.4 2443.1 L652.1 2444.6 L652.9 2446.1 L653.6 2447.6 L654.4 2449.1 L655.2 2450.6 L656.0 2452.0 L656.9 2453.5 L657.8 2455.0 L658.8 2456.5 L659.7 2458.0 L660.7 2459.4 L661.7 2460.9 L662.7 2462.3 L663.8 2463.7 L664.8 2465.2 L665.9 2466.6 L667.0 2468.0 L668.1 2469.4 L669.2 2470.8 L670.3 2472.2 L671.4 2473.5 L672.6 2474.9 L673.7 2476.3 L674.9 2477.7 L676.1 2479.0 L677.3 2480.3 L678.5 2481.6 L679.8 2482.8 L681.0 2484.0 L682.3 2485.1 L683.5 2486.2 L684.8 2487.3 L686.2 2488.3 L687.5 2489.3 L688.8 2490.2 L690.2 2491.2 L691.5 2492.1 L692.8 2493.1 L694.2 2494.0 L695.5 2495.0 L696.9 2496.1 L698.3 2497.1 L699.8 2498.2 L701.2 2499.2 L702.6 2500.3 L704.0 2501.3 L705.4 2502.4 L706.8 2503.4 L708.3 2504.5 L709.7 2505.5 L711.1 2506.5 L712.5 2507.5 L714.0 2508.5 L715.4 2509.5 L716.8 2510.5 L718.3 2511.5 L719.7 2512.5 L721.1 2513.5 L722.6 2514.5 L724.0 2515.5 L725.4 2516.5 L726.8 2517.5 L728.2 2518.4 L729.6 2519.4 L731.0 2520.4 L732.3 2521.4 L733.7 2522.3 L735.1 2523.2 L736.6 2524.1 L738.0 2525.0 L739.4 2525.8 L740.9 2526.6 L742.3 2527.3 L743.8 2528.1 L745.2 2528.8 L746.7 2529.5 L748.1 2530.2 L749.6 2530.9 L751.1 2531.6 L752.5 2532.3 L754.1 2533.1 L755.7 2533.9 L757.2 2534.7 L758.8 2535.6 L760.4 2536.4 L761.9 2537.2 L763.5 2537.9 L765.1 2538.7 L766.7 2539.4 L768.3 2540.1 L769.9 2540.7 L771.5 2541.3 L773.1 2542.0 L774.7 2542.5 L776.3 2543.1 L777.9 2543.7 L779.4 2544.2 L781.0 2544.8 L782.6 2545.4 L784.3 2546.1 L786.0 2546.8 L787.7 2547.5 L789.3 2548.1 L790.8 2548.5 L792.2 2548.9 L793.5 2549.0 L795.1 2548.7 L796.4 2548.0 L798.0 2547.6 L799.4 2547.7 L800.9 2548.0 L802.5 2548.5 L804.2 2549.1 L806.0 2549.7 L807.8 2550.3 L809.5 2550.8 L811.1 2551.2 L812.8 2551.7 L814.5 2552.1 L816.2 2552.6 L817.9 2553.0 L819.6 2553.5 L821.3 2553.9 L823.0 2554.4"/>
</g>
<path d="M111.0 2128.7 V2638.5 M190.1 2631.5 V2638.5 M269.2 2631.5 V2638.5 M348.3 2631.5 V2638.5 M427.4 2631.5 V2638.5 M506.4 2631.5 V2638.5 M585.5 2631.5 V2638.5 M664.6 2631.5 V2638.5 M743.7 2631.5 V2638.5 M822.8 2631.5 V2638.5" stroke="#ababab" stroke-width="1.8" fill="none"/>
<path d="M104.0 2631.5 H822.8 M104.0 2547.7 H111.0 M104.0 2463.9 H111.0 M104.0 2380.1 H111.0 M104.0 2296.3 H111.0 M104.0 2212.5 H111.0 M104.0 2128.7 H111.0" stroke="#999999" stroke-width="1.3" fill="none"/>
<g font-size="23" fill="#050505">
<text x="90.8" y="2637.7" text-anchor="end">0.0</text>
<text x="90.8" y="2554.2" text-anchor="end">0.2</text>
<text x="90.8" y="2470.8" text-anchor="end">0.4</text>
<text x="90.8" y="2387.3" text-anchor="end">0.6</text>
<text x="90.8" y="2303.9" text-anchor="end">0.8</text>
<text x="90.8" y="2220.4" text-anchor="end">1.0</text>
<text x="90.8" y="2137.0" text-anchor="end">1.2</text>
<text x="111.0" y="2666.0" text-anchor="middle">0</text>
<text x="190.1" y="2666.0" text-anchor="middle">100</text>
<text x="269.2" y="2666.0" text-anchor="middle">200</text>
<text x="348.3" y="2666.0" text-anchor="middle">300</text>
<text x="427.4" y="2666.0" text-anchor="middle">400</text>
<text x="506.4" y="2666.0" text-anchor="middle">500</text>
<text x="585.5" y="2666.0" text-anchor="middle">600</text>
<text x="664.6" y="2666.0" text-anchor="middle">700</text>
<text x="743.7" y="2666.0" text-anchor="middle">800</text>
<text x="822.8" y="2666.0" text-anchor="middle">900</text>
</g>
<text x="444.4" y="2698.5" text-anchor="middle" font-weight="bold" font-size="22.7" fill="#050505">Sample Temperature (<tspan font-size="14.1" dy="-6.5">o</tspan><tspan dy="6.5">C)</tspan></text>
<text transform="translate(37.1 2399) rotate(-90)" text-anchor="middle" font-weight="bold" font-size="22.7" fill="#050505">Normalized signal, <tspan font-style="italic">m/z 44 or</tspan> 45</text>
<text x="-0.7" y="2134.3" font-size="39" fill="#050505"><tspan font-size="42.5" dy="1.4">(</tspan><tspan dy="-1.4" dx="-0.9">d</tspan><tspan font-size="42.5" dy="1.4" dx="-0.9">)</tspan></text>
<g font-size="22.8" fill="#050505">
<path d="M124 2140.5 H150" stroke="#4474b2" stroke-width="2.45" fill="none"/>
<text x="153.0" y="2147.8">Benzoic acid</text>
<path d="M124 2174 H150" stroke="#80262a" stroke-width="2.45" fill="none"/>
<text x="153.0" y="2181.3">Mellitic acid</text>
</g>
</svg>
</body></html>
